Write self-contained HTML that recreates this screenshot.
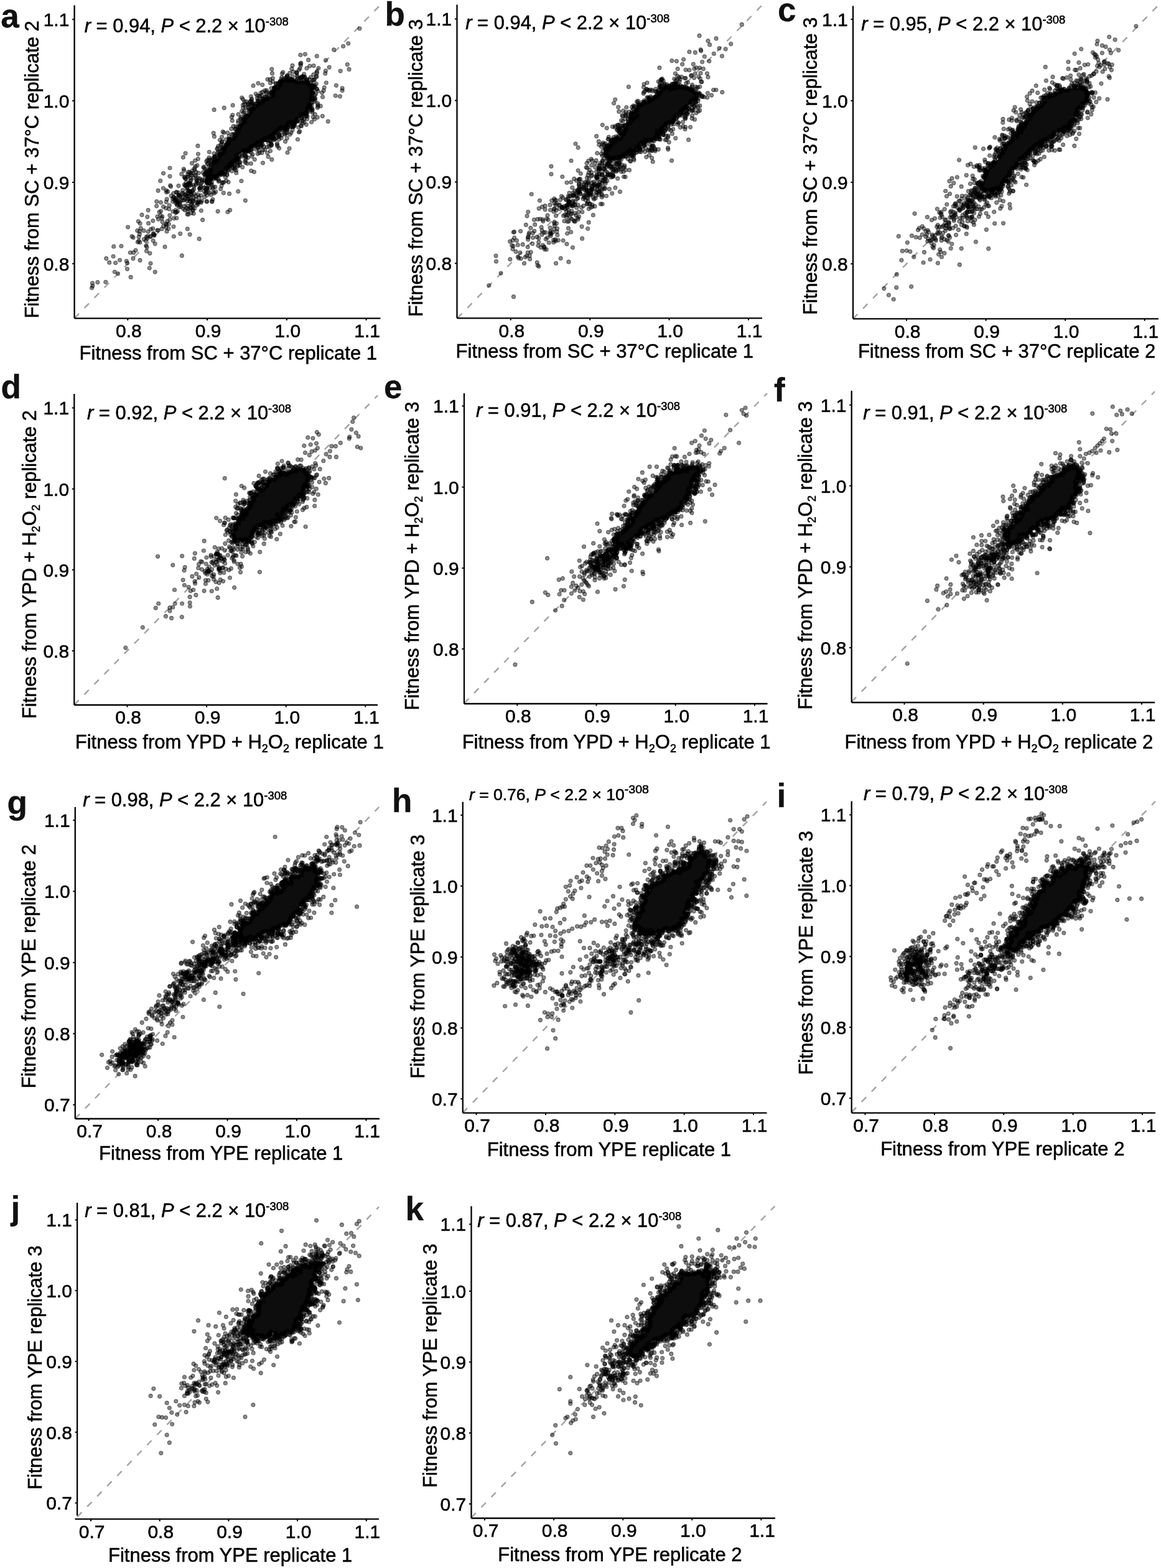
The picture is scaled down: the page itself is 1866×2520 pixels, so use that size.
<!DOCTYPE html>
<html><head><meta charset="utf-8"><title>Fitness replicate correlations</title><style>
html,body{margin:0;padding:0;background:#fff;}
svg{display:block;}
text{font-family:'Liberation Sans', Arial, Helvetica, sans-serif;fill:#000;stroke:#000;stroke-width:0.55px;}
.lb{stroke-width:0.3px;}
.tl{font-size:30px;}
.ti{font-size:31px;}
.st{font-size:31px;}
.lb{font-size:53px;font-weight:bold;fill:#111;}
.ax{fill:none;stroke:#000;stroke-width:2.3;}
.tk{fill:none;stroke:#000;stroke-width:2;}
.dl{stroke:#a2a2a2;stroke-width:2.4;stroke-dasharray:10.5 12.5;}
.pt{fill:none;stroke:#000;stroke-linecap:round;stroke-width:7;stroke-opacity:.56;}
.mk{fill:none;stroke:none;marker-start:url(#m);marker-mid:url(#m);marker-end:url(#m);}
.bk{fill:#0d0d0d;}
</style></head>
<body><svg width="1866" height="2520" viewBox="0 0 1866 2520">
<defs><marker id="m" markerUnits="userSpaceOnUse" markerWidth="10" markerHeight="10" refX="5" refY="5" viewBox="0 0 10 10"><circle cx="5" cy="5" r="3.05" fill="#000" fill-opacity=".46" stroke="#000" stroke-opacity=".5" stroke-width="1.1"/></marker></defs>
<rect width="1866" height="2520" fill="#fff"/>
<g id="pa"><line class="dl" x1="119.6" y1="511.6" x2="610.9" y2="8.4"/>
<path class="bk" d="M486.1 120.9h3v1h-3zM461.1 121.9h1v1h-1zM482.1 121.9h8v1h-8zM460.1 122.9h3v1h-3zM482.1 122.9h7v1h-7zM460.1 123.9h3v1h-3zM482.1 123.9h7v1h-7zM459.1 124.9h3v1h-3zM483.1 124.9h5v1h-5zM454.1 125.9h1v1h-1zM458.1 125.9h1v1h-1zM461.1 125.9h2v1h-2zM484.1 125.9h2v1h-2zM453.1 126.9h1v1h-1zM458.1 126.9h3v1h-3zM462.1 126.9h3v1h-3zM468.1 126.9h4v1h-4zM450.1 127.9h1v1h-1zM453.1 127.9h2v1h-2zM456.1 127.9h19v1h-19zM450.1 128.9h26v1h-26zM490.1 128.9h3v1h-3zM494.1 128.9h2v1h-2zM450.1 129.9h28v1h-28zM484.1 129.9h12v1h-12zM449.1 130.9h46v1h-46zM448.1 131.9h48v1h-48zM448.1 132.9h50v1h-50zM449.1 133.9h49v1h-49zM446.1 134.9h1v1h-1zM449.1 134.9h50v1h-50zM500.1 134.9h3v1h-3zM448.1 135.9h58v1h-58zM442.1 136.9h2v1h-2zM447.1 136.9h59v1h-59zM447.1 137.9h59v1h-59zM439.1 138.9h4v1h-4zM444.1 138.9h2v1h-2zM447.1 138.9h59v1h-59zM439.1 139.9h7v1h-7zM447.1 139.9h58v1h-58zM439.1 140.9h66v1h-66zM439.1 141.9h65v1h-65zM439.1 142.9h65v1h-65zM439.1 143.9h64v1h-64zM438.1 144.9h64v1h-64zM437.1 145.9h66v1h-66zM435.1 146.9h69v1h-69zM434.1 147.9h71v1h-71zM433.1 148.9h1v1h-1zM435.1 148.9h70v1h-70zM434.1 149.9h1v1h-1zM436.1 149.9h69v1h-69zM435.1 150.9h69v1h-69zM435.1 151.9h2v1h-2zM438.1 151.9h65v1h-65zM435.1 152.9h1v1h-1zM437.1 152.9h64v1h-64zM436.1 153.9h65v1h-65zM429.1 154.9h1v1h-1zM431.1 154.9h1v1h-1zM435.1 154.9h66v1h-66zM502.1 154.9h1v1h-1zM423.1 155.9h1v1h-1zM428.1 155.9h2v1h-2zM434.1 155.9h70v1h-70zM422.1 156.9h8v1h-8zM432.1 156.9h73v1h-73zM422.1 157.9h6v1h-6zM429.1 157.9h77v1h-77zM421.1 158.9h85v1h-85zM420.1 159.9h86v1h-86zM404.1 160.9h1v1h-1zM421.1 160.9h84v1h-84zM403.1 161.9h3v1h-3zM422.1 161.9h80v1h-80zM413.1 162.9h1v1h-1zM417.1 162.9h1v1h-1zM419.1 162.9h81v1h-81zM414.1 163.9h1v1h-1zM416.1 163.9h83v1h-83zM402.1 164.9h2v1h-2zM414.1 164.9h85v1h-85zM405.1 165.9h1v1h-1zM413.1 165.9h87v1h-87zM405.1 166.9h3v1h-3zM413.1 166.9h88v1h-88zM406.1 167.9h3v1h-3zM410.1 167.9h1v1h-1zM412.1 167.9h89v1h-89zM411.1 168.9h89v1h-89zM411.1 169.9h89v1h-89zM410.1 170.9h91v1h-91zM405.1 171.9h2v1h-2zM409.1 171.9h91v1h-91zM404.1 172.9h95v1h-95zM402.1 173.9h97v1h-97zM401.1 174.9h94v1h-94zM496.1 174.9h1v1h-1zM499.1 174.9h2v1h-2zM401.1 175.9h93v1h-93zM499.1 175.9h3v1h-3zM401.1 176.9h92v1h-92zM500.1 176.9h2v1h-2zM401.1 177.9h93v1h-93zM402.1 178.9h93v1h-93zM401.1 179.9h94v1h-94zM400.1 180.9h95v1h-95zM400.1 181.9h94v1h-94zM399.1 182.9h95v1h-95zM398.1 183.9h96v1h-96zM395.1 184.9h91v1h-91zM487.1 184.9h3v1h-3zM491.1 184.9h2v1h-2zM393.1 185.9h93v1h-93zM490.1 185.9h2v1h-2zM393.1 186.9h92v1h-92zM392.1 187.9h91v1h-91zM392.1 188.9h90v1h-90zM491.1 188.9h1v1h-1zM390.1 189.9h90v1h-90zM390.1 190.9h89v1h-89zM485.1 190.9h2v1h-2zM389.1 191.9h88v1h-88zM389.1 192.9h87v1h-87zM390.1 193.9h87v1h-87zM391.1 194.9h86v1h-86zM390.1 195.9h87v1h-87zM388.1 196.9h80v1h-80zM469.1 196.9h8v1h-8zM388.1 197.9h80v1h-80zM469.1 197.9h7v1h-7zM387.1 198.9h77v1h-77zM467.1 198.9h9v1h-9zM386.1 199.9h76v1h-76zM466.1 199.9h3v1h-3zM470.1 199.9h5v1h-5zM384.1 200.9h79v1h-79zM468.1 200.9h6v1h-6zM384.1 201.9h78v1h-78zM463.1 201.9h2v1h-2zM468.1 201.9h5v1h-5zM382.1 202.9h1v1h-1zM385.1 202.9h77v1h-77zM468.1 202.9h6v1h-6zM382.1 203.9h1v1h-1zM386.1 203.9h77v1h-77zM469.1 203.9h2v1h-2zM472.1 203.9h2v1h-2zM383.1 204.9h69v1h-69zM453.1 204.9h10v1h-10zM382.1 205.9h69v1h-69zM452.1 205.9h11v1h-11zM381.1 206.9h70v1h-70zM452.1 206.9h11v1h-11zM380.1 207.9h71v1h-71zM453.1 207.9h8v1h-8zM379.1 208.9h70v1h-70zM455.1 208.9h3v1h-3zM459.1 208.9h3v1h-3zM379.1 209.9h69v1h-69zM381.1 210.9h63v1h-63zM380.1 211.9h63v1h-63zM380.1 212.9h62v1h-62zM443.1 212.9h1v1h-1zM378.1 213.9h1v1h-1zM380.1 213.9h64v1h-64zM376.1 214.9h67v1h-67zM375.1 215.9h68v1h-68zM447.1 215.9h1v1h-1zM374.1 216.9h67v1h-67zM449.1 216.9h1v1h-1zM374.1 217.9h67v1h-67zM449.1 217.9h2v1h-2zM376.1 218.9h64v1h-64zM450.1 218.9h1v1h-1zM375.1 219.9h67v1h-67zM447.1 219.9h1v1h-1zM449.1 219.9h1v1h-1zM368.1 220.9h2v1h-2zM374.1 220.9h53v1h-53zM429.1 220.9h14v1h-14zM367.1 221.9h2v1h-2zM370.1 221.9h1v1h-1zM372.1 221.9h58v1h-58zM433.1 221.9h2v1h-2zM436.1 221.9h7v1h-7zM367.1 222.9h62v1h-62zM434.1 222.9h2v1h-2zM437.1 222.9h4v1h-4zM367.1 223.9h62v1h-62zM437.1 223.9h3v1h-3zM365.1 224.9h1v1h-1zM367.1 224.9h61v1h-61zM366.1 225.9h59v1h-59zM426.1 225.9h2v1h-2zM431.1 225.9h1v1h-1zM365.1 226.9h53v1h-53zM419.1 226.9h5v1h-5zM366.1 227.9h55v1h-55zM433.1 227.9h2v1h-2zM363.1 228.9h53v1h-53zM417.1 228.9h5v1h-5zM434.1 228.9h2v1h-2zM362.1 229.9h52v1h-52zM418.1 229.9h4v1h-4zM362.1 230.9h53v1h-53zM362.1 231.9h51v1h-51zM418.1 231.9h2v1h-2zM433.1 231.9h1v1h-1zM361.1 232.9h51v1h-51zM417.1 232.9h5v1h-5zM434.1 232.9h1v1h-1zM361.1 233.9h46v1h-46zM408.1 233.9h3v1h-3zM414.1 233.9h3v1h-3zM419.1 233.9h3v1h-3zM359.1 234.9h48v1h-48zM412.1 234.9h1v1h-1zM420.1 234.9h2v1h-2zM357.1 235.9h47v1h-47zM405.1 235.9h1v1h-1zM356.1 236.9h50v1h-50zM356.1 237.9h44v1h-44zM402.1 237.9h3v1h-3zM356.1 238.9h46v1h-46zM356.1 239.9h46v1h-46zM358.1 240.9h45v1h-45zM359.1 241.9h45v1h-45zM358.1 242.9h36v1h-36zM395.1 242.9h8v1h-8zM356.1 243.9h34v1h-34zM392.1 243.9h2v1h-2zM397.1 243.9h4v1h-4zM352.1 244.9h36v1h-36zM351.1 245.9h35v1h-35zM351.1 246.9h34v1h-34zM350.1 247.9h34v1h-34zM344.1 248.9h1v1h-1zM350.1 248.9h33v1h-33zM350.1 249.9h32v1h-32zM347.1 250.9h1v1h-1zM350.1 250.9h33v1h-33zM342.1 251.9h2v1h-2zM347.1 251.9h1v1h-1zM351.1 251.9h33v1h-33zM343.1 252.9h4v1h-4zM350.1 252.9h35v1h-35zM343.1 253.9h4v1h-4zM350.1 253.9h35v1h-35zM348.1 254.9h37v1h-37zM346.1 255.9h38v1h-38zM341.1 256.9h42v1h-42zM342.1 257.9h39v1h-39zM382.1 257.9h1v1h-1zM341.1 258.9h38v1h-38zM341.1 259.9h1v1h-1zM343.1 259.9h35v1h-35zM339.1 260.9h3v1h-3zM343.1 260.9h33v1h-33zM377.1 260.9h2v1h-2zM340.1 261.9h3v1h-3zM344.1 261.9h31v1h-31zM336.1 262.9h1v1h-1zM341.1 262.9h1v1h-1zM343.1 262.9h30v1h-30zM374.1 262.9h2v1h-2zM336.1 263.9h1v1h-1zM342.1 263.9h26v1h-26zM369.1 263.9h3v1h-3zM375.1 263.9h1v1h-1zM342.1 264.9h31v1h-31zM374.1 264.9h1v1h-1zM341.1 265.9h30v1h-30zM372.1 265.9h3v1h-3zM340.1 266.9h33v1h-33zM376.1 266.9h1v1h-1zM340.1 267.9h29v1h-29zM376.1 267.9h1v1h-1zM339.1 268.9h31v1h-31zM375.1 268.9h2v1h-2zM336.1 269.9h1v1h-1zM338.1 269.9h31v1h-31zM336.1 270.9h1v1h-1zM338.1 270.9h24v1h-24zM363.1 270.9h5v1h-5zM337.1 271.9h24v1h-24zM364.1 271.9h3v1h-3zM334.1 272.9h1v1h-1zM337.1 272.9h24v1h-24zM362.1 272.9h5v1h-5zM333.1 273.9h2v1h-2zM337.1 273.9h23v1h-23zM363.1 273.9h1v1h-1zM330.1 274.9h4v1h-4zM335.1 274.9h1v1h-1zM337.1 274.9h22v1h-22zM329.1 275.9h5v1h-5zM336.1 275.9h21v1h-21zM358.1 275.9h2v1h-2zM328.1 276.9h7v1h-7zM336.1 276.9h25v1h-25zM328.1 277.9h7v1h-7zM336.1 277.9h25v1h-25zM303.1 278.9h1v1h-1zM328.1 278.9h7v1h-7zM336.1 278.9h25v1h-25zM362.1 278.9h1v1h-1zM304.1 279.9h1v1h-1zM329.1 279.9h30v1h-30zM329.1 280.9h27v1h-27zM330.1 281.9h21v1h-21zM331.1 282.9h18v1h-18zM298.1 283.9h2v1h-2zM332.1 283.9h17v1h-17zM298.1 284.9h2v1h-2zM332.1 284.9h1v1h-1zM334.1 284.9h4v1h-4zM340.1 284.9h7v1h-7zM349.1 284.9h1v1h-1zM333.1 285.9h6v1h-6zM341.1 285.9h5v1h-5zM331.1 286.9h9v1h-9zM342.1 286.9h1v1h-1zM330.1 287.9h11v1h-11zM330.1 288.9h10v1h-10zM329.1 289.9h11v1h-11zM329.1 290.9h11v1h-11zM329.1 291.9h10v1h-10zM301.1 292.9h4v1h-4zM330.1 292.9h8v1h-8zM299.1 293.9h7v1h-7zM333.1 293.9h3v1h-3zM339.1 293.9h1v1h-1zM298.1 294.9h8v1h-8zM333.1 294.9h2v1h-2zM336.1 294.9h1v1h-1zM339.1 294.9h1v1h-1zM298.1 295.9h9v1h-9zM337.1 295.9h1v1h-1zM298.1 296.9h9v1h-9zM337.1 296.9h1v1h-1zM299.1 297.9h5v1h-5zM298.1 298.9h5v1h-5zM298.1 299.9h1v1h-1zM330.1 300.9h1v1h-1zM321.1 301.9h2v1h-2zM329.1 301.9h3v1h-3zM302.1 302.9h1v1h-1zM329.1 302.9h2v1h-2zM301.1 303.9h1v1h-1zM328.1 303.9h1v1h-1zM305.1 304.9h2v1h-2zM332.1 304.9h2v1h-2zM303.1 305.9h5v1h-5zM302.1 306.9h7v1h-7zM302.1 307.9h4v1h-4zM307.1 307.9h2v1h-2zM330.1 307.9h1v1h-1zM303.1 308.9h2v1h-2zM306.1 308.9h3v1h-3zM304.1 309.9h4v1h-4zM305.1 310.9h2v1h-2zM299.1 311.9h1v1h-1zM301.1 311.9h1v1h-1zM288.1 312.9h2v1h-2zM300.1 312.9h3v1h-3zM287.1 313.9h3v1h-3zM299.1 313.9h1v1h-1zM286.1 314.9h3v1h-3zM286.1 315.9h2v1h-2zM279.1 317.9h2v1h-2zM279.1 318.9h2v1h-2zM279.1 319.9h4v1h-4zM304.1 319.9h1v1h-1zM306.1 319.9h1v1h-1zM281.1 320.9h3v1h-3zM304.1 320.9h1v1h-1zM308.1 320.9h1v1h-1zM282.1 321.9h2v1h-2zM302.1 321.9h2v1h-2zM307.1 321.9h2v1h-2zM282.1 322.9h2v1h-2zM307.1 322.9h2v1h-2zM283.1 323.9h3v1h-3zM285.1 324.9h2v1h-2zM318.1 324.9h2v1h-2zM286.1 325.9h1v1h-1zM316.1 325.9h2v1h-2zM319.1 325.9h2v1h-2zM283.1 326.9h3v1h-3zM317.1 326.9h2v1h-2z"/>
<path class="mk" d="M439.7 215.2 342.9 283.9 333.7 294.7 484.4 202.7 451.7 130.9 382.7 307.7 469.4 196.9 329.3 283.9 333.6 283.4 460.3 128.3 318.3 255.3 441.2 144.5 406.3 235.2 392.9 163.6 271.4 360.1 434.5 242.5 271.7 335.9 478.4 224.0 313.6 258.0 440.2 224.5 459.9 124.9 279.3 350.8 383.2 261.4 214.1 381.8 302.9 295.3 403.6 235.1 403.7 274.6 465.0 238.6 382.5 267.2 283.0 341.5 494.6 175.0 289.3 315.7 407.6 174.5 383.7 255.1 336.3 309.9 470.3 122.9 404.7 251.3 344.1 176.4 484.7 189.9 459.7 207.2 358.1 278.2 364.1 232.7 356.4 239.9 441.1 223.5 502.8 155.8 422.6 241.0 335.4 268.5 435.4 149.2 257.7 290.6 332.6 290.7 375.4 258.6 404.3 178.7 462.1 129.3 284.6 330.0 358.1 211.7 478.6 194.6 336.8 295.0 502.2 148.7 505.4 191.7 296.1 321.5 450.3 131.1 426.0 224.9 339.7 264.2 213.9 415.4 561.0 111.4 325.6 353.4 500.0 160.7 415.4 231.6 346.6 285.8 365.9 340.7 522.7 118.2 509.2 90.1 334.6 286.8 501.9 141.6 347.5 285.3 300.5 315.5 305.8 323.8 350.3 288.1 399.6 242.2 488.6 119.1 343.2 213.9 436.5 232.6 483.6 124.2 363.6 270.9 468.7 110.7 387.9 290.8 382.0 266.0 390.6 173.3 268.9 355.5 505.0 139.3 490.0 131.6 333.0 257.3 465.3 196.4 374.7 269.8 313.0 273.2 235.5 403.4 448.3 223.9 368.7 224.3 251.7 323.8 509.3 143.1 224.3 371.9 286.9 298.6 486.9 182.8 296.2 331.2 337.9 273.8 462.6 128.9 439.6 221.1 287.1 313.8 502.5 137.6 493.9 174.2 282.8 319.6 344.4 310.4 321.7 305.4 249.1 391.8 373.8 268.6 464.7 199.0 332.5 323.9 338.1 271.1 414.8 237.2 449.5 131.4 354.7 232.6 231.0 370.7 352.3 290.2 461.0 122.0 286.8 327.5 363.4 272.0 407.4 233.9 279.4 316.8 379.1 216.2 500.2 144.0 367.3 229.9 466.0 216.1 431.6 220.7 500.2 174.9 266.9 359.9 452.3 221.8 483.8 101.4 348.5 282.6 332.9 276.1 447.9 207.5 460.6 203.5 285.3 339.8 337.5 289.6 148.4 455.0 315.2 276.6 413.6 233.7 433.1 219.2 520.2 145.6 156.8 453.7 441.8 223.8 382.4 203.8 287.2 314.1 302.2 311.1 331.0 278.1 314.1 267.6 320.9 302.6 254.1 306.4 482.5 185.0 422.4 261.8 480.5 112.2 336.5 275.2 204.5 432.3 411.1 150.8 488.0 124.4 550.1 145.5 252.9 348.1 476.0 132.7 226.2 366.9 440.3 214.0 483.3 104.9 353.3 248.6 460.8 212.4 414.8 229.4 348.1 249.9 380.4 260.5 509.4 114.9 495.5 134.9 484.2 188.9 353.1 281.8 385.0 204.3 328.6 290.1 380.5 212.7 238.1 337.9 458.5 227.4 436.4 148.4 301.4 296.1 498.0 170.1 479.7 131.9 307.5 281.2 458.0 216.1 444.8 210.7 506.7 161.5 421.7 136.3 398.3 242.1 338.9 264.8 418.8 149.5 388.7 178.8 475.3 129.2 486.9 130.7 301.2 319.9 344.5 260.3 446.1 235.2 444.4 221.7 428.2 147.9 234.8 394.8 306.8 328.5 422.1 232.3 456.0 126.1 333.5 289.2 431.1 251.9 438.0 221.4 355.2 246.8 483.6 201.9 465.7 117.4 353.8 244.1 340.3 297.1 493.4 127.6 362.4 285.0 449.0 216.4 354.7 303.6 373.9 221.9 242.0 423.3 394.3 322.3 486.7 183.6 316.3 294.2 318.1 325.4 332.1 289.1 492.5 181.5 405.7 167.7 305.8 291.0 400.7 178.1 505.7 136.8 447.3 219.6 434.4 133.4 436.0 141.8 334.3 280.2 322.4 301.2 282.5 326.3 286.9 309.6 457.0 128.6 503.0 149.0 425.4 145.6 404.2 160.8 327.0 269.3 322.8 314.0 408.1 166.8 494.1 131.9 299.6 297.4 346.6 286.8 373.2 193.9 368.6 226.1 413.5 153.8 420.9 245.6 393.8 258.9 303.2 296.1 468.8 196.2 298.0 246.3 472.6 202.5 479.8 204.7 498.9 177.0 339.2 313.2 460.5 214.1 463.6 124.9 379.5 273.7 293.7 305.6 527.2 195.1 357.4 277.9 420.8 162.5 502.8 139.3 334.8 279.9 408.4 276.3 382.1 210.5 323.3 338.5 413.7 237.2 368.2 272.6 205.5 365.0 328.1 301.8 447.1 213.2 377.9 218.3 365.7 228.8 509.4 117.4 493.1 181.0 389.5 251.3 355.7 242.6 395.5 252.1 328.3 301.5 377.9 207.8 254.3 370.1 577.9 45.8 240.2 430.8 473.3 198.5 385.1 260.5 433.7 226.7 296.8 284.4 365.6 230.3 330.0 311.0 403.3 168.1 301.3 284.4 489.0 190.8 352.3 248.4 536.6 79.9 433.9 127.7 428.1 150.2 333.2 302.5 319.0 324.2 344.6 252.6 350.7 243.1 332.5 293.6 184.3 437.0 440.2 142.2 524.3 133.0 318.2 328.0 478.1 124.3 467.9 197.5 392.7 167.6 363.3 233.9 367.7 229.0 482.5 125.0 470.3 204.0 409.2 256.3 443.7 134.1 441.3 140.6 308.6 328.9 283.3 308.5 454.8 205.6 258.0 346.1 311.0 317.7 460.5 201.8 424.4 224.9 503.8 119.9 437.5 117.9 315.1 296.6 386.9 200.8 316.9 289.8 385.5 204.2 440.7 140.9 347.8 257.6 402.6 162.4 255.9 340.8 262.4 302.5 501.5 178.1 433.8 148.7 363.7 273.8 461.9 208.7 413.9 161.9 438.0 147.0 363.6 270.1 288.1 333.0 505.3 127.6 443.4 134.6 389.5 249.1 332.4 302.0 500.9 137.1 328.0 307.4 331.5 292.0 504.6 128.4 395.1 256.1 402.3 163.6 471.4 202.5 432.4 235.7 431.5 229.8 454.7 210.7 334.6 297.3 501.5 158.2 379.9 217.8 480.4 212.5 320.1 383.9 400.3 243.4 297.7 286.9 299.6 313.7 308.8 274.3 284.4 327.9 435.1 230.8 405.4 239.9 395.7 163.2 307.4 335.0 353.5 279.3 387.9 200.7 368.8 266.8 401.6 175.2 375.1 202.9 382.2 253.0 468.7 127.4 459.5 203.0 497.0 127.3 540.3 137.3 432.5 220.8 429.2 236.3 411.9 240.2 446.4 134.2 497.3 171.7 331.6 273.8 400.0 180.7 422.8 159.8 402.6 236.8 265.0 396.7 331.1 309.4 277.7 323.9 338.7 262.3 315.2 315.1"/>
<path class="mk" d="M272.1 330.2 414.9 133.8 366.3 274.3 355.6 279.6 547.1 114.1 508.8 123.3 449.3 136.3 518.3 186.6 375.3 223.1 344.5 260.7 360.1 239.8 311.0 323.3 290.4 322.4 350.3 282.3 420.0 233.1 307.0 278.6 360.6 278.7 294.0 322.0 467.4 127.1 388.7 157.0 392.9 188.6 301.6 339.3 305.1 376.8 278.9 364.3 283.7 350.5 461.9 123.1 508.3 134.7 302.7 315.6 504.6 163.4 398.5 172.9 301.3 367.9 324.6 289.8 408.6 174.1 447.2 141.5 431.4 157.8 417.0 154.3 346.8 308.2 390.5 242.2 386.2 261.1 465.7 127.4 365.8 213.3 445.6 138.9 336.3 294.5 295.3 271.5 420.6 153.3 338.1 269.3 260.8 348.0 476.3 190.9 310.5 286.0 394.2 241.6 356.9 228.2 448.4 216.9 275.1 314.7 266.6 334.6 307.3 312.5 329.0 271.5 289.7 375.6 462.0 207.8 436.9 154.8 426.1 222.9 473.6 197.0 419.8 235.2 395.7 188.1 406.0 248.0 394.6 247.3 291.8 279.9 245.8 354.8 510.3 173.2 321.7 324.5 359.9 280.3 360.9 236.7 363.6 290.5 375.7 266.9 306.3 308.5 495.9 172.5 311.8 299.7 318.5 313.3 279.3 380.0 511.0 146.3 252.7 370.0 367.1 292.6 461.0 206.1 338.7 289.1 483.6 128.1 503.2 188.1 420.5 227.2 453.4 118.3 482.1 110.2 393.2 249.9 400.3 176.0 293.6 311.6 505.6 158.4 377.1 215.0 309.0 306.8 377.2 258.3 518.5 155.8 356.0 298.8 336.8 287.4 356.1 231.3 341.9 302.8 404.5 174.0 175.7 421.9 238.0 372.3 435.3 234.3 424.5 159.3 472.0 129.1 273.6 298.1 488.0 183.7 391.0 195.1 340.6 323.4 347.5 258.7 309.4 324.6 185.6 422.5 287.3 313.7 212.0 379.9 503.2 128.9 316.0 291.8 417.0 245.6 283.9 309.4 499.3 124.2 398.5 168.0 360.8 244.4 515.2 170.4 318.8 294.7 384.8 251.0 452.7 124.4 378.7 207.2 377.4 270.2 204.5 422.9 490.5 183.5 312.6 334.8 423.0 162.9 429.6 245.8 364.3 232.4 417.0 163.3 490.7 186.9 485.3 190.4 278.7 317.3 348.9 258.2 500.6 196.2 369.6 337.7 221.3 389.1 468.8 129.0 383.0 183.7 371.7 207.1 445.4 230.5 281.0 322.2 449.9 205.9 398.9 239.3 292.3 410.9 345.1 256.2 502.3 176.3 383.1 211.4 393.9 190.9 225.0 418.4 293.5 310.1 373.8 184.8 324.7 292.9 296.9 337.6 422.7 158.0 209.3 406.0 419.2 231.6 314.6 282.1 405.5 164.9 305.3 322.7 332.1 323.8 309.7 306.1 359.5 238.6 236.8 348.6 391.5 193.8 220.7 370.6 356.8 227.1 235.2 380.9 281.8 318.3 406.1 169.7 304.9 277.2 510.6 166.1 383.1 208.0 418.6 234.9 301.0 344.4 300.7 305.2 304.7 298.6 214.6 405.9 343.9 255.3 351.6 254.5 319.9 317.4 360.2 173.4 310.8 297.2 462.0 245.2 302.0 296.6 241.8 380.5 320.9 286.9 442.8 212.9 356.4 237.1 523.5 96.8 506.3 183.7 282.1 337.8 406.8 175.3 430.0 127.6 349.8 237.9 341.9 320.5 328.3 280.2 390.4 159.6 369.3 223.4 546.4 154.8 436.6 150.0 282.1 322.2 246.6 375.0 485.6 123.5 393.7 185.4 302.6 276.4 403.3 235.7 358.2 237.8 331.8 259.5 490.4 87.1 461.3 222.1 370.4 223.5 389.6 199.8 340.5 285.3 503.3 138.0 289.4 325.9 471.8 203.8 295.5 274.2 481.7 211.3 268.0 371.9 500.5 132.3 333.0 291.4 368.4 268.6 302.8 335.9 254.5 352.3 372.3 188.3 260.0 367.9 336.8 283.4 294.5 335.5 262.5 278.5 267.2 324.6 323.4 325.3 484.5 131.3 417.6 154.6 476.6 117.3 395.2 251.5 336.3 244.3 382.8 194.0 412.6 166.6 334.8 282.9 426.0 156.4 272.9 352.7 261.0 356.6 340.6 324.3 498.4 173.0 435.4 220.6 506.6 139.8 324.4 322.5 367.6 223.4 517.5 149.0 339.2 275.6 558.3 103.6 344.4 219.4 415.4 161.0 303.4 282.5 379.5 259.0 403.4 262.8 427.3 224.6 303.1 297.0 374.1 169.2 369.5 266.7 498.8 168.1 297.7 297.9 316.2 329.8 389.2 194.2 312.2 270.7 359.3 310.1 333.9 262.9 523.4 113.8 344.9 251.3 345.6 251.9 350.0 245.6 272.8 346.0 359.8 213.3 350.8 251.6 387.4 191.7 368.0 266.5 278.7 310.7 357.9 294.1 393.0 179.2 332.6 275.0 249.2 437.1 394.7 172.9 296.9 319.2 303.5 319.5 319.2 278.2 300.8 323.0 305.4 307.7 306.8 289.8 296.5 285.3 310.2 338.1 390.4 168.9 502.9 138.6 267.2 306.2 240.9 407.1 328.6 316.8 502.1 142.2 449.1 219.3 246.1 386.8 362.7 232.4 251.6 331.1 440.7 146.6 437.4 222.0 478.3 193.0 502.8 159.8 409.3 232.9 438.3 131.1 470.1 209.1 453.1 205.9 454.5 208.7 482.9 88.3 372.6 275.0 425.5 240.7 406.0 174.9 377.2 271.8 299.9 334.0 389.7 268.7 424.1 235.7 486.3 197.9 420.1 165.8 364.9 281.4 397.5 262.8 340.5 292.8 471.3 115.3 490.0 123.7 224.3 376.3 473.8 201.0 335.8 256.5 231.4 384.6 437.6 218.4 436.8 111.2 485.4 123.4 335.7 281.9 228.0 345.4 356.9 247.3 500.3 154.8 458.3 127.9 481.5 195.3 402.9 244.7 203.3 419.5 299.3 293.2 387.9 187.9 300.7 301.0 379.3 250.2 395.3 243.3 356.5 220.0 426.2 222.4 413.3 228.5 492.2 129.0 447.1 141.3 303.2 306.5 294.4 252.9 335.9 253.4 414.2 247.1 492.5 186.3 147.5 462.7 340.6 264.0 316.6 325.6 393.5 195.5 488.8 196.4 302.7 344.4 333.5 263.2 441.4 216.7 218.0 402.3 357.9 240.5 404.6 159.2 438.6 152.7 392.1 242.8 381.9 254.9 331.4 282.5 169.8 453.3 505.8 152.8 494.1 187.0 436.8 256.4 296.7 312.9 377.5 219.5 430.4 158.2 501.9 180.9 521.1 140.7 343.9 246.7 465.5 200.6 308.5 262.4 398.2 186.2 170.7 415.4 395.5 186.5 336.8 302.7 497.7 106.2 236.6 383.5 457.6 214.3 305.7 308.0 421.7 147.9 457.0 207.3 414.7 163.5 273.0 270.0 278.0 340.0"/>
<path class="mk" d="M487.0 122.5 483.4 125.3 377.6 217.0 451.2 136.3 470.4 129.5 316.8 265.9 448.5 210.4 482.7 102.4 223.0 387.4 498.0 168.5 426.6 155.3 405.0 175.7 379.7 277.9 333.7 308.6 499.8 159.9 361.8 237.5 289.7 329.6 432.6 152.7 412.3 170.3 182.0 412.0 309.7 278.5 282.0 340.8 344.0 287.2 461.7 121.2 361.8 276.9 373.4 263.3 324.1 288.8 353.8 248.8 315.7 288.6 372.4 215.9 331.1 305.6 511.9 109.5 402.7 240.2 474.6 196.4 350.1 339.6 314.5 320.1 350.7 234.8 331.9 290.4 237.1 379.8 307.5 342.4 338.4 256.8 464.8 130.0 511.0 171.0 309.5 336.5 550.1 141.8 270.8 367.5 259.9 350.9 442.7 140.3 559.7 69.8 335.9 273.7 435.3 220.3 300.6 301.6 377.1 262.3 510.3 188.6 398.5 253.4 434.4 225.9 348.7 239.5 340.9 282.4 327.7 268.2 267.4 361.2 284.4 321.1 192.5 418.0 500.3 157.3 269.7 307.9 318.4 247.5 194.9 395.5 290.5 332.3 342.6 309.0 352.5 279.5 306.0 312.2 353.4 225.2 289.6 316.4 323.1 295.1 368.5 264.1 372.6 260.0 363.0 224.2 494.4 133.9 462.9 204.0 445.4 232.8 311.8 311.1 442.1 140.8 320.5 302.7 302.2 331.4 492.3 200.3 148.8 459.6 301.7 279.8 394.6 244.8 331.9 303.4 298.9 311.9 306.4 296.9 495.6 96.4 471.0 199.9 311.2 343.2 399.2 166.3 267.5 308.9 449.1 133.2 380.9 255.9 326.1 277.2 368.0 219.2 422.0 224.9 242.2 368.5 501.8 151.2 371.5 262.8 236.0 397.3 477.4 122.0 357.1 293.4 298.0 298.9 339.9 258.8 368.5 311.4 416.5 241.5 508.4 122.4 501.1 164.9 492.9 109.7 385.0 265.3 317.9 234.4 436.3 232.7 345.8 300.4 452.6 217.2 428.4 145.1 454.8 116.1 274.5 299.8 385.2 203.4 453.2 131.7 494.8 180.0 317.9 286.4 467.3 203.1 448.6 238.3 382.9 197.1 447.2 139.2 509.1 143.2 479.4 130.1 333.7 281.4 403.6 240.8 421.2 159.5 225.0 389.6 492.7 184.3 486.3 194.4 303.2 306.9 439.4 220.9 396.1 185.7 453.4 129.8 387.8 198.0 438.3 125.9 444.1 214.4 342.9 301.1 493.5 191.3 409.7 234.0 451.9 203.9 222.2 355.8 438.4 216.6 304.7 294.4 310.0 331.5 412.2 233.1 506.7 158.0 507.5 151.1 427.6 159.5 332.6 313.8 258.6 339.3 462.7 197.5 529.1 108.1 389.3 245.6 344.0 260.6 493.6 130.2 447.9 208.8 223.2 380.9 272.9 283.3 510.6 168.5 451.7 127.6 400.0 241.1 408.7 170.8 372.7 264.3 489.6 124.7 403.4 155.0 551.6 74.3 238.5 358.9 182.7 396.2 262.5 332.2 493.3 178.6 247.8 377.6 359.6 292.9 306.0 333.9 343.9 284.6 189.5 439.8 210.1 445.4 501.4 174.1 379.2 203.6 267.0 365.6 415.5 167.8 381.0 210.5 407.0 137.7 277.6 319.3 429.6 225.8 391.2 181.0 287.9 323.3 478.0 127.1 313.6 282.0 305.2 294.7 411.1 167.4 477.1 195.0 343.1 260.7 417.4 227.8 504.1 105.6 399.8 168.5 241.9 379.6 501.0 168.4 431.8 155.5 428.6 156.8 377.2 220.3 247.8 378.4 503.9 157.9 498.6 137.8 293.6 317.7 311.7 304.2 477.0 117.3 497.2 167.2 306.4 285.8 322.3 299.3 436.1 227.2 357.7 280.6 357.1 276.4 413.3 157.8 421.0 226.9 339.2 295.9 268.1 320.1 366.3 270.4 308.9 313.7 374.8 215.9 306.3 319.5 470.0 105.4 339.9 287.3 467.9 203.9 284.9 324.1 457.4 208.0 383.8 254.1 234.4 387.1 262.7 363.4 539.2 153.8 364.8 279.9 258.4 325.3 400.5 183.8 296.1 296.7 394.5 261.6 245.6 367.3 225.1 359.2 498.8 133.2 298.8 287.6 438.7 152.5 391.9 191.0 377.1 264.9 329.1 279.3 342.0 254.4 503.8 145.8 246.5 376.1 351.3 291.6 383.5 247.7 467.9 213.3 386.1 190.0 309.3 321.8 501.8 159.5 420.6 228.4 476.6 116.1 429.5 224.0"/>
<path class="ax" d="M119.6 8.4V511.6M119.6 511.6H611.5"/>
<path class="tk" d="M116.1 423.8h3.5M205.3 511.6v3.5M116.1 293.0h3.5M333.0 511.6v3.5M116.1 162.1h3.5M460.8 511.6v3.5M116.1 31.2h3.5M588.6 511.6v3.5"/>
<text class="tl" x="111.4" y="434.6" text-anchor="end">0.8</text>
<text class="tl" x="206.9" y="541.8" text-anchor="middle">0.8</text>
<text class="tl" x="111.4" y="303.8" text-anchor="end">0.9</text>
<text class="tl" x="334.6" y="541.8" text-anchor="middle">0.9</text>
<text class="tl" x="111.4" y="172.9" text-anchor="end">1.0</text>
<text class="tl" x="462.4" y="541.8" text-anchor="middle">1.0</text>
<text class="tl" x="111.4" y="42.0" text-anchor="end">1.1</text>
<text class="tl" x="590.2" y="541.8" text-anchor="middle">1.1</text>
<text class="ti" x="127.6" y="577.5">Fitness from SC + 37°C replicate 1</text>
<text class="ti" transform="translate(61.8 511.6) rotate(-90)">Fitness from SC + 37°C replicate 2</text>
<text class="st" x="135.7" y="52.2" style="font-size:31px" textLength="328" lengthAdjust="spacingAndGlyphs"><tspan font-style="italic">r</tspan> = 0.94, <tspan font-style="italic">P</tspan> &lt; 2.2 × 10<tspan dy="-11" style="font-size:18.5px">-308</tspan></text>
<text class="lb" x="1.2" y="43.5">a</text></g>
<g id="pb"><line class="dl" x1="735.2" y1="511.3" x2="1225.0" y2="8.0"/>
<path class="bk" d="M1064 127h2v1h-2zM1063 128h3v1h-3zM1060 129h1v1h-1zM1063 129h2v1h-2zM1061 130h1v1h-1zM1084 132h3v1h-3zM1081 133h7v1h-7zM1081 134h8v1h-8zM1061 135h1v1h-1zM1080 135h8v1h-8zM1076 136h2v1h-2zM1080 136h7v1h-7zM1088 136h1v1h-1zM1090 136h2v1h-2zM1061 137h1v1h-1zM1063 137h1v1h-1zM1071 137h3v1h-3zM1076 137h12v1h-12zM1089 137h4v1h-4zM1096 137h1v1h-1zM1098 137h1v1h-1zM1060 138h3v1h-3zM1070 138h16v1h-16zM1088 138h1v1h-1zM1090 138h10v1h-10zM1061 139h2v1h-2zM1068 139h13v1h-13zM1082 139h4v1h-4zM1087 139h18v1h-18zM1061 140h3v1h-3zM1067 140h12v1h-12zM1080 140h6v1h-6zM1087 140h20v1h-20zM1060 141h1v1h-1zM1063 141h14v1h-14zM1080 141h27v1h-27zM1110 141h1v1h-1zM1062 142h52v1h-52zM1042 143h1v1h-1zM1062 143h2v1h-2zM1065 143h49v1h-49zM1041 144h2v1h-2zM1064 144h50v1h-50zM1115 144h1v1h-1zM1041 145h1v1h-1zM1061 145h55v1h-55zM1060 146h56v1h-56zM1056 147h1v1h-1zM1058 147h60v1h-60zM1055 148h2v1h-2zM1058 148h62v1h-62zM1055 149h66v1h-66zM1123 149h2v1h-2zM1057 150h68v1h-68zM1056 151h68v1h-68zM1053 152h69v1h-69zM1053 153h69v1h-69zM1126 153h1v1h-1zM1053 154h69v1h-69zM1042 155h1v1h-1zM1050 155h72v1h-72zM1042 156h3v1h-3zM1051 156h71v1h-71zM1041 157h5v1h-5zM1049 157h72v1h-72zM1040 158h7v1h-7zM1048 158h73v1h-73zM1040 159h6v1h-6zM1047 159h74v1h-74zM1042 160h4v1h-4zM1047 160h73v1h-73zM1035 161h1v1h-1zM1041 161h79v1h-79zM1035 162h4v1h-4zM1041 162h73v1h-73zM1115 162h2v1h-2zM1033 163h6v1h-6zM1041 163h72v1h-72zM1119 163h1v1h-1zM1032 164h8v1h-8zM1041 164h71v1h-71zM1031 165h81v1h-81zM1116 165h1v1h-1zM1029 166h1v1h-1zM1031 166h80v1h-80zM1027 167h1v1h-1zM1030 167h78v1h-78zM1115 167h2v1h-2zM1025 168h82v1h-82zM1114 168h1v1h-1zM1024 169h82v1h-82zM1113 169h1v1h-1zM1023 170h82v1h-82zM1017 171h2v1h-2zM1023 171h81v1h-81zM1017 172h2v1h-2zM1023 172h84v1h-84zM1022 173h80v1h-80zM1103 173h3v1h-3zM1115 173h1v1h-1zM1022 174h83v1h-83zM1021 175h82v1h-82zM1020 176h82v1h-82zM1020 177h79v1h-79zM1100 177h1v1h-1zM1020 178h75v1h-75zM1098 178h1v1h-1zM1014 179h1v1h-1zM1016 179h1v1h-1zM1020 179h77v1h-77zM1103 179h2v1h-2zM1014 180h4v1h-4zM1019 180h78v1h-78zM1102 180h4v1h-4zM1012 181h5v1h-5zM1018 181h4v1h-4zM1025 181h72v1h-72zM1100 181h1v1h-1zM1102 181h3v1h-3zM1012 182h8v1h-8zM1024 182h74v1h-74zM1013 183h6v1h-6zM1022 183h73v1h-73zM1097 183h2v1h-2zM1100 183h2v1h-2zM1013 184h3v1h-3zM1017 184h1v1h-1zM1021 184h74v1h-74zM1012 185h1v1h-1zM1014 185h3v1h-3zM1021 185h67v1h-67zM1089 185h2v1h-2zM1102 185h2v1h-2zM1012 186h4v1h-4zM1019 186h68v1h-68zM1012 187h75v1h-75zM1011 188h75v1h-75zM1011 189h74v1h-74zM1011 190h74v1h-74zM1012 191h74v1h-74zM1011 192h75v1h-75zM1010 193h5v1h-5zM1016 193h70v1h-70zM1011 194h2v1h-2zM1014 194h71v1h-71zM1011 195h73v1h-73zM1009 196h3v1h-3zM1013 196h71v1h-71zM1008 197h75v1h-75zM1007 198h70v1h-70zM1079 198h1v1h-1zM1004 199h70v1h-70zM1075 199h2v1h-2zM1002 200h70v1h-70zM1002 201h69v1h-69zM1000 202h1v1h-1zM1002 202h68v1h-68zM1001 203h68v1h-68zM996 204h1v1h-1zM1002 204h66v1h-66zM993 205h1v1h-1zM996 205h2v1h-2zM1004 205h63v1h-63zM992 206h3v1h-3zM996 206h2v1h-2zM1003 206h61v1h-61zM1066 206h2v1h-2zM992 207h6v1h-6zM1003 207h61v1h-61zM1067 207h3v1h-3zM992 208h5v1h-5zM1003 208h62v1h-62zM1067 208h1v1h-1zM993 209h4v1h-4zM1002 209h64v1h-64zM993 210h4v1h-4zM1001 210h65v1h-65zM993 211h1v1h-1zM996 211h3v1h-3zM1001 211h57v1h-57zM1059 211h5v1h-5zM1065 211h1v1h-1zM996 212h3v1h-3zM1001 212h56v1h-56zM1058 212h7v1h-7zM1066 212h1v1h-1zM996 213h1v1h-1zM998 213h59v1h-59zM1058 213h7v1h-7zM1067 213h1v1h-1zM997 214h5v1h-5zM1003 214h62v1h-62zM997 215h64v1h-64zM1062 215h2v1h-2zM996 216h1v1h-1zM998 216h63v1h-63zM1062 216h1v1h-1zM996 217h1v1h-1zM1000 217h61v1h-61zM997 218h1v1h-1zM1000 218h60v1h-60zM999 219h60v1h-60zM988 220h4v1h-4zM993 220h1v1h-1zM998 220h59v1h-59zM1058 220h3v1h-3zM988 221h8v1h-8zM997 221h58v1h-58zM1057 221h4v1h-4zM986 222h69v1h-69zM1059 222h1v1h-1zM986 223h68v1h-68zM980 224h1v1h-1zM983 224h1v1h-1zM985 224h54v1h-54zM1040 224h13v1h-13zM979 225h1v1h-1zM982 225h67v1h-67zM982 226h4v1h-4zM987 226h60v1h-60zM980 227h61v1h-61zM1043 227h1v1h-1zM1045 227h1v1h-1zM980 228h59v1h-59zM980 229h59v1h-59zM980 230h49v1h-49zM1030 230h9v1h-9zM979 231h49v1h-49zM1033 231h5v1h-5zM979 232h49v1h-49zM1034 232h3v1h-3zM972 233h2v1h-2zM978 233h51v1h-51zM1035 233h3v1h-3zM975 234h4v1h-4zM980 234h48v1h-48zM1036 234h2v1h-2zM973 235h57v1h-57zM972 236h5v1h-5zM978 236h52v1h-52zM1048 236h1v1h-1zM972 237h4v1h-4zM977 237h46v1h-46zM1024 237h5v1h-5zM972 238h4v1h-4zM977 238h47v1h-47zM1025 238h3v1h-3zM971 239h52v1h-52zM1024 239h4v1h-4zM1046 239h1v1h-1zM970 240h52v1h-52zM1025 240h3v1h-3zM1044 240h2v1h-2zM1049 240h2v1h-2zM971 241h50v1h-50zM1025 241h1v1h-1zM1027 241h3v1h-3zM1044 241h3v1h-3zM1049 241h2v1h-2zM972 242h48v1h-48zM1021 242h2v1h-2zM1024 242h2v1h-2zM1030 242h1v1h-1zM1044 242h1v1h-1zM972 243h39v1h-39zM1012 243h1v1h-1zM1015 243h4v1h-4zM1020 243h1v1h-1zM1023 243h2v1h-2zM972 244h39v1h-39zM1013 244h1v1h-1zM1015 244h4v1h-4zM1020 244h2v1h-2zM972 245h48v1h-48zM971 246h35v1h-35zM1007 246h14v1h-14zM971 247h34v1h-34zM1008 247h5v1h-5zM1014 247h7v1h-7zM971 248h36v1h-36zM1009 248h12v1h-12zM972 249h35v1h-35zM1010 249h10v1h-10zM972 250h33v1h-33zM1012 250h2v1h-2zM1015 250h4v1h-4zM974 251h31v1h-31zM1016 251h1v1h-1zM974 252h27v1h-27zM1002 252h3v1h-3zM1017 252h1v1h-1zM975 253h16v1h-16zM992 253h8v1h-8zM976 254h15v1h-15zM993 254h4v1h-4zM977 255h12v1h-12zM993 255h3v1h-3zM976 256h1v1h-1zM978 256h1v1h-1zM981 256h7v1h-7zM979 257h2v1h-2zM983 257h2v1h-2zM978 258h1v1h-1zM977 259h1v1h-1zM976 260h3v1h-3zM991 260h1v1h-1zM993 260h1v1h-1zM975 261h3v1h-3zM991 261h3v1h-3zM975 262h3v1h-3zM991 262h3v1h-3zM975 263h4v1h-4zM992 263h5v1h-5zM976 264h3v1h-3zM993 264h1v1h-1zM995 264h1v1h-1zM973 265h3v1h-3zM977 265h3v1h-3zM995 265h2v1h-2zM973 266h2v1h-2zM978 266h2v1h-2zM978 267h2v1h-2zM962 268h3v1h-3zM978 268h1v1h-1zM983 268h1v1h-1zM962 269h3v1h-3zM970 269h2v1h-2zM982 269h2v1h-2zM961 270h5v1h-5zM981 270h2v1h-2zM988 270h1v1h-1zM960 271h6v1h-6zM985 271h3v1h-3zM961 272h4v1h-4zM962 273h3v1h-3zM988 273h2v1h-2zM963 274h1v1h-1zM984 274h2v1h-2zM988 274h1v1h-1zM977 278h2v1h-2zM976 279h2v1h-2zM979 279h1v1h-1zM983 279h1v1h-1zM965 280h1v1h-1zM978 280h2v1h-2zM982 280h1v1h-1zM984 280h2v1h-2zM960 281h1v1h-1zM978 281h1v1h-1zM980 281h5v1h-5zM958 282h4v1h-4zM981 282h4v1h-4zM957 283h5v1h-5zM982 283h3v1h-3zM957 284h5v1h-5zM982 284h1v1h-1zM984 284h1v1h-1zM956 285h6v1h-6zM957 286h5v1h-5zM957 287h3v1h-3zM969 288h2v1h-2zM972 290h1v1h-1zM942 293h1v1h-1zM944 295h1v1h-1zM954 295h1v1h-1zM951 296h2v1h-2zM960 296h2v1h-2zM951 297h3v1h-3zM958 297h2v1h-2zM961 297h3v1h-3zM953 298h2v1h-2zM958 298h1v1h-1zM961 298h3v1h-3zM938 299h1v1h-1zM953 299h3v1h-3zM961 299h3v1h-3zM951 300h1v1h-1zM954 300h1v1h-1zM962 300h1v1h-1zM932 301h1v1h-1zM950 301h4v1h-4zM931 302h1v1h-1zM940 302h1v1h-1zM950 302h4v1h-4zM949 303h3v1h-3zM953 303h1v1h-1zM929 304h3v1h-3zM941 304h2v1h-2zM944 304h1v1h-1zM949 304h4v1h-4zM929 305h3v1h-3zM941 305h4v1h-4zM949 305h4v1h-4zM928 306h4v1h-4zM941 306h3v1h-3zM950 306h2v1h-2zM928 307h6v1h-6zM960 307h1v1h-1zM928 308h6v1h-6zM961 308h1v1h-1zM929 309h4v1h-4zM946 309h2v1h-2zM961 309h1v1h-1zM929 310h3v1h-3zM946 310h3v1h-3zM921 311h2v1h-2zM945 311h5v1h-5zM920 312h3v1h-3zM944 312h1v1h-1zM946 312h5v1h-5zM922 313h3v1h-3zM944 313h1v1h-1zM946 313h1v1h-1zM948 313h2v1h-2zM923 314h2v1h-2zM923 315h1v1h-1zM941 315h1v1h-1zM945 315h1v1h-1zM940 318h1v1h-1zM913 320h1v1h-1zM912 321h4v1h-4zM911 322h4v1h-4zM911 323h4v1h-4zM917 323h1v1h-1zM911 324h5v1h-5zM917 324h1v1h-1zM912 325h5v1h-5zM913 326h3v1h-3zM922 326h1v1h-1zM945 326h1v1h-1zM911 327h1v1h-1zM914 327h1v1h-1zM920 327h1v1h-1zM945 327h1v1h-1zM911 328h2v1h-2zM915 328h1v1h-1zM917 328h1v1h-1zM920 328h2v1h-2zM912 329h2v1h-2zM917 329h2v1h-2zM920 329h3v1h-3zM909 330h2v1h-2zM912 330h2v1h-2zM918 330h1v1h-1zM920 330h3v1h-3zM903 331h2v1h-2zM909 331h5v1h-5zM903 332h4v1h-4zM908 332h2v1h-2zM911 332h2v1h-2zM900 333h1v1h-1zM904 333h3v1h-3zM909 333h1v1h-1zM901 334h1v1h-1zM905 334h2v1h-2zM910 336h1v1h-1zM885 374h1v1h-1z"/>
<path class="mk" d="M1013.3 243.9 975.7 234.6 1052.8 155.6 1009.3 248.4 923.4 328.6 830.4 386.6 952.2 304.6 1035.8 163.8 962.7 269.5 1147.3 86.3 945.8 294.3 991.1 222.1 1016.2 178.0 972.7 238.7 1012.9 248.2 913.0 319.3 949.2 313.4 1017.4 189.9 967.2 294.3 982.6 226.7 1085.9 133.8 903.9 334.0 956.9 298.3 998.5 193.6 1115.6 125.1 1068.9 201.2 993.0 200.7 1065.1 142.7 963.7 307.0 1069.2 224.9 1110.1 143.6 1078.0 196.8 822.7 394.4 947.3 327.6 1084.9 134.0 969.7 289.4 898.3 329.9 987.8 253.2 1026.3 235.3 920.4 331.5 985.2 255.1 1046.7 225.2 1100.4 125.7 819.6 388.1 1048.6 159.0 943.5 317.9 913.9 420.9 947.6 273.2 1073.7 204.9 1102.7 133.7 1047.1 157.0 1092.8 127.4 889.8 389.5 1091.9 183.7 1026.7 237.4 943.5 313.6 975.8 290.7 1115.9 110.4 929.1 237.1 1116.0 170.3 1007.2 244.7 1006.3 201.6 1017.2 243.1 1036.0 228.6 890.4 336.2 944.6 367.5 946.2 357.4 1057.6 216.5 988.4 224.0 905.1 386.5 1047.6 241.3 1096.5 185.4 920.5 314.4 913.0 329.0 946.2 297.3 1092.6 185.3 1010.6 187.0 1041.5 164.3 967.3 317.0 1136.9 156.6 890.7 359.0 1011.5 273.4 946.2 277.5 1105.5 132.3 1151.0 61.9 1060.5 137.1 975.0 251.0 1052.9 242.8 1111.6 121.0 1018.8 243.7 1119.9 156.7 1047.9 144.5 923.7 329.3 981.3 267.5 878.5 351.5 1067.0 209.0 989.4 223.5 1119.0 158.2 1005.9 183.6 1085.3 135.8 1047.2 225.7 1023.0 176.4 998.6 202.2 1124.8 139.3 990.1 275.6 953.4 317.6 984.1 256.8 1065.9 216.6 1059.3 223.7 962.5 271.3 1021.9 245.5 1005.6 273.2 1034.7 164.4 1139.8 98.3 1005.8 186.2 1001.5 178.2 1174.7 70.6 1097.0 140.3 1002.5 284.0 1121.9 171.6 943.9 269.9 1032.0 167.3 929.2 352.4 971.2 231.9 1062.3 211.6 1004.7 251.3 1101.1 172.4 1065.9 213.4 1062.4 143.1 913.8 326.5 935.8 340.6 981.7 233.5 1119.3 155.0 914.2 323.6 926.8 333.7 974.8 234.4 905.6 346.8 996.0 212.6 871.3 332.4 1068.2 136.9 994.0 252.3 1118.2 139.7 984.9 282.8 854.2 312.0 912.9 344.9 1001.5 215.9 1136.4 118.0 996.2 254.6 1026.9 235.2 1006.0 180.4 951.9 329.0 1112.0 168.0 1023.1 237.2 968.1 281.1 1030.0 230.4 995.7 256.4 918.5 351.9 1065.9 215.6 1128.0 131.6 951.1 299.4 960.1 288.8 958.0 314.2 1003.2 214.2 969.9 291.5 1112.1 190.4 907.7 345.0 980.2 230.9 1066.2 216.8 890.0 340.2 1107.9 112.6 976.6 266.1 975.2 205.8 1005.0 205.3 1106.7 173.9 1099.4 181.2 1031.7 228.1 973.6 241.2 994.1 261.2 1060.9 138.9 1013.3 185.0 1112.1 139.4 1082.6 199.6 1083.9 138.1 1034.7 148.2 925.0 231.0 1005.1 284.3 1105.9 175.4 1018.9 171.5 993.9 253.6 1032.8 228.5 918.9 329.5 935.1 364.1 967.7 280.5 958.1 283.2 889.6 385.9 1009.3 247.9 1070.0 199.7 1019.0 257.2 1045.7 155.1 920.9 309.8 1109.5 163.7 1118.7 163.8 1025.2 165.3 847.0 347.1 1086.8 134.5 1058.3 240.1 951.4 281.5 1081.7 207.7 1041.8 225.8 929.1 274.1 1020.4 183.7 1011.4 198.5 1075.1 141.5 1049.5 234.0 1131.8 156.0 1126.7 131.4 973.5 239.0 1002.6 248.8 1129.2 155.5 963.7 297.2 1022.4 176.7 1035.1 233.5 1075.1 138.2 930.8 302.4 924.6 324.3 941.3 321.8 1100.9 141.3 872.9 355.6 1058.7 219.4 941.9 305.6 1080.1 196.7 1041.1 144.6 934.5 333.5 992.7 286.9 925.6 346.0 849.8 376.5 1081.4 194.4 1014.7 183.1 1094.4 140.6 823.8 386.4 962.8 232.6 872.2 394.0 1128.6 99.5 1078.8 137.8 995.7 262.3 939.0 314.1 947.4 313.0 965.4 327.9 1119.1 142.4 914.9 310.0 959.3 285.2 1041.0 225.3 1034.2 150.5 1073.5 198.4 1074.7 138.1 1160.4 90.1 922.8 287.4 1077.4 140.7 999.6 216.3 1122.0 162.3 1146.7 144.6 950.6 265.6 1023.4 240.2 910.5 349.1 971.4 271.5 968.3 258.0 998.5 256.6 972.1 287.4 992.6 208.3 963.6 272.0 1058.1 214.6 1098.2 175.7 952.0 332.1 1055.4 215.8 1062.6 209.2 941.4 299.0 1123.1 152.9 849.2 380.5 979.7 280.0 826.6 382.2 1011.0 245.5 1038.8 252.4 1097.5 182.9 1015.8 182.1 966.5 247.3 1028.4 238.8 945.1 318.8 1166.1 78.8 1005.1 203.5 1101.9 173.9 987.0 228.0 950.6 283.1 873.8 373.6 1058.2 149.3 942.4 303.4 1093.5 181.7 974.1 249.0 1092.0 131.2 1093.7 180.6 901.1 415.2 1038.6 165.4 1025.3 168.4 970.4 255.0 983.7 310.8 946.2 335.6 913.5 366.9 1000.0 185.4 920.9 322.3 825.4 476.9 1090.4 139.4 1075.6 196.7 1096.6 103.2 922.4 312.5 914.1 355.7 1071.3 224.5 930.3 288.8 868.1 352.0 1029.9 169.3 1083.2 193.1 1073.5 237.6 996.6 219.5 924.2 342.7 1070.4 218.2 962.1 307.9 1005.7 201.6 1112.4 178.3 978.3 220.2 1004.3 210.3 1124.8 169.9 950.3 255.5 1043.7 159.1 916.4 350.0 958.8 309.8 1125.3 126.3 958.6 218.9 1116.5 192.1 950.3 303.5 974.7 268.1 910.6 339.7 906.9 355.3 1052.7 221.5 1024.0 175.9 863.2 421.8 1118.0 173.0 984.6 224.0 967.7 232.1 876.0 336.8 862.9 380.9 1132.3 90.8 954.5 296.3 1089.3 196.5 1044.7 232.7 918.0 258.3 1064.7 207.9 1058.1 131.1 922.2 354.1 927.7 308.1 911.4 333.4 1117.3 118.2 848.5 381.5 1017.7 174.7 858.4 353.1 1078.0 144.1 961.9 273.9 978.5 262.2 884.6 374.2 973.0 274.5 986.2 268.3 1115.1 159.9 1095.5 139.0 1091.4 124.3 1090.6 139.4 1004.8 204.4 1006.3 206.1 986.5 166.0 1028.3 233.5 1079.5 258.1 928.2 305.9 951.0 304.6 1009.3 194.8 963.6 266.9 852.8 366.4 978.9 240.3 1067.1 203.8 928.1 350.2 1017.8 180.4 1107.5 173.8 894.9 372.4 1064.3 126.5 1081.6 139.3 920.4 397.8 903.8 334.5 1039.2 143.6 1008.0 245.6 994.2 206.1 1117.4 164.2 1000.7 187.1 1119.1 158.8 858.7 371.4 1122.8 148.8"/>
<path class="mk" d="M972.5 302.4 1112.7 145.2 1068.4 210.0 1001.2 202.8 912.1 356.2 1004.6 191.1 998.6 221.9 959.8 286.4 942.0 296.8 1126.2 79.9 1143.6 153.1 1043.5 249.3 1012.4 189.2 964.0 292.8 985.5 281.7 1111.8 167.9 870.1 365.2 864.9 394.7 954.7 320.1 1128.0 155.2 893.8 338.2 915.2 315.3 910.9 392.2 1039.9 156.9 874.6 396.7 991.9 221.4 985.1 271.2 963.5 271.3 939.5 305.4 1137.9 65.7 964.7 262.0 1115.4 159.6 1027.4 168.2 1012.5 240.3 1011.1 246.1 990.0 253.8 1074.2 201.9 1047.6 253.8 1086.4 190.6 1018.5 250.1 1056.0 152.6 1115.4 170.8 973.7 246.4 967.5 303.4 1018.5 255.2 876.1 330.9 871.1 370.3 1023.5 163.4 1100.4 189.4 971.6 266.1 940.8 292.5 1112.5 136.4 983.3 272.2 935.6 383.4 981.2 257.8 1004.7 210.0 1083.4 187.9 898.8 335.4 958.4 285.4 1107.9 83.3 1024.8 240.6 942.0 269.0 894.4 359.1 994.7 179.4 1119.2 108.8 1109.5 204.3 991.8 262.5 1098.6 95.5 903.8 284.0 1155.9 77.7 1112.2 177.7 829.1 404.4 963.8 309.6 848.6 384.9 1087.3 190.1 1097.4 196.2 1061.1 213.1 1043.0 157.7 1015.1 193.4 996.7 206.5 927.5 319.4 924.5 355.8 959.9 304.9 915.9 330.6 1043.8 225.2 1103.9 182.1 824.8 395.7 1085.7 222.1 1027.5 233.3 1015.4 242.9 1103.5 140.0 999.2 250.7 980.8 267.2 1090.5 140.9 1078.3 209.7 935.0 293.1 957.1 318.6 1079.8 135.1 982.7 279.2 1040.1 133.0 842.5 423.2 929.1 329.7 785.8 458.8 1095.4 140.3 1085.0 142.0 910.6 321.6 1044.4 144.3 1047.8 236.1 958.1 308.1 949.4 333.4 888.2 373.4 895.8 377.8 1012.9 247.2 1140.6 71.9 866.0 428.2 1054.6 155.7 930.4 296.4 885.9 279.8 979.2 232.6 937.7 300.2 1117.2 162.6 1003.9 266.2 945.0 310.6 1053.0 223.3 1060.7 132.4 967.9 250.2 1062.2 140.6 975.0 237.5 990.3 219.4 876.9 373.6 1013.2 189.1 1063.3 205.6 1085.8 135.7 913.9 342.1 1109.9 167.4 1082.0 134.7 1047.2 239.2 1000.6 211.9 1116.7 148.9 1117.8 150.0 1081.6 194.2 1079.0 200.0 1062.0 148.5 1074.9 207.9 1035.2 161.7 973.1 291.7 1033.8 230.7 975.5 254.4 998.3 275.8 935.7 300.4 982.0 234.8 966.7 306.2 900.5 321.1 880.0 346.0 1101.0 207.7 990.4 259.1 981.8 226.3 930.6 348.1 872.0 352.9 980.2 269.2 930.2 308.3 1029.9 244.2 855.7 391.7 883.9 376.4 835.9 406.1 1022.5 181.6 885.9 267.3 968.1 328.0 1059.2 216.4 891.1 326.8 971.4 303.7 1063.7 137.7 1031.8 164.4 980.1 254.6 1059.8 219.8 976.7 237.8 1013.0 251.0 984.2 284.2 988.9 202.6 1047.7 242.3 950.0 310.4 931.3 309.1 974.8 242.0 963.4 265.8 903.4 333.5 951.8 294.1 917.9 343.9 946.5 312.2 910.6 330.4 976.7 280.9 880.9 353.1 1102.1 188.9 1057.8 146.9 932.2 304.6 1090.3 138.6 981.8 284.9 1095.3 123.6 1037.9 231.6 1089.1 110.7 914.3 328.6 840.2 392.9 1083.9 134.6 884.5 372.0 933.4 279.0 1044.7 224.6 960.9 299.9 968.2 314.2 938.7 296.9 958.4 275.7 1043.1 160.6 1109.5 141.7 995.8 207.3 1129.0 154.0 1097.9 140.5 1083.0 191.6 1034.1 234.7 960.3 298.3 1013.8 182.4 1130.4 110.7 937.7 330.9 1104.4 141.7 1002.8 209.8 970.7 266.6 1071.7 135.5 871.1 377.1 1036.5 243.9 972.6 247.1 930.7 288.0 1103.1 141.9 1070.3 138.3 1053.8 147.3 1098.7 174.5 1068.4 204.4 981.8 267.2 943.6 327.5 1050.9 226.8 1024.2 185.0 970.8 272.2 951.7 258.4 1113.0 143.7 1126.0 117.7 952.7 299.3 1082.3 138.6 944.1 305.4 938.1 302.8 1124.3 152.9 994.1 272.0 988.7 160.0 1059.9 151.8 994.2 219.2 1053.0 155.6 1080.7 135.6 977.0 279.5 1104.8 142.6 1003.9 201.8 1005.8 209.1 928.9 318.2 979.9 260.6 1097.8 203.1 1059.5 223.3 1090.7 197.6 998.0 214.6 1112.4 174.6 1080.4 214.9 945.7 307.3 893.6 321.8 1012.2 198.6 976.6 262.2 1044.7 162.4 963.8 280.3 1041.5 156.5 968.2 259.9 1003.3 268.4 875.2 400.7 864.1 426.5 990.4 262.2 1118.3 166.5 893.2 387.2 975.5 249.8 950.3 306.1 1082.2 194.5 917.7 292.8 974.5 315.0 962.5 283.8 1089.4 199.9 856.5 382.0 1003.4 249.3 891.1 356.7 1061.6 211.2 1079.8 97.6 923.0 355.9 983.5 262.6 882.2 390.0 963.1 295.8 974.1 284.9 884.5 337.5 995.3 224.1 853.2 405.3 1009.9 196.4 884.1 329.4 1009.0 255.4 1011.0 179.9 1059.3 144.9 973.9 245.1 1005.3 200.8 865.7 389.0 1137.9 123.9 925.8 312.9 988.8 301.7 1026.5 169.6 932.8 310.9 1114.3 103.1 1104.0 170.2 1053.9 143.0 992.1 254.7 836.6 371.5 1088.3 128.1 995.4 266.4 1018.5 249.0 1036.6 146.4 993.1 269.0 985.9 283.5 877.3 384.4 1018.1 169.8 958.1 257.9 1002.8 201.9 1053.6 155.0 1015.5 172.1 975.0 259.6 964.6 271.1 987.9 229.5 1083.6 141.9 978.4 255.2 1039.1 143.2 1109.5 144.1 1075.3 138.3 976.6 264.4 885.9 376.0 890.6 368.2 891.3 362.8 1028.8 240.9 910.7 345.9 929.7 304.2 1032.1 168.0 879.6 382.0 938.5 316.5 1099.9 140.1 1106.1 180.5 1160.7 148.2 1038.8 225.4 938.9 317.3 986.7 274.3 884.2 366.1 972.1 237.0 837.3 415.5 845.3 361.4 1001.8 269.8 917.0 315.5 1041.4 241.7 1047.6 234.2 1101.6 204.1 1073.8 240.1 1095.7 177.8 1094.0 137.7 1114.0 166.3 930.6 307.7 1035.4 233.5 1020.7 171.1 850.7 373.8 996.4 308.2 1102.0 125.6 1101.5 191.0 867.4 322.3 953.3 345.7 1100.0 138.8 988.8 225.4 1093.8 178.9 995.2 262.4 1066.2 130.0 1014.8 187.6 962.7 279.6 1052.8 239.1 914.2 324.4 1088.9 122.0 797.0 411.1 1105.0 183.6 996.5 268.4 1111.1 161.7 951.4 312.3 1059.9 108.9 934.6 303.4 932.4 287.7 932.8 311.8 943.2 306.9 826.5 372.7 1049.2 259.9 1043.7 240.0 906.7 331.6 992.0 274.1 963.2 300.6"/>
<path class="mk" d="M1073.8 218.3 959.3 281.3 869.0 397.6 942.7 293.0 1055.0 146.9 1029.1 239.5 1086.8 142.1 945.2 292.5 859.7 360.9 1192.3 39.4 895.5 367.4 1085.9 129.2 1097.4 180.7 1112.5 145.1 976.0 264.5 825.3 373.2 919.7 301.6 999.5 213.9 953.7 298.3 1025.7 172.0 991.9 209.4 1009.4 191.3 1103.3 182.6 891.7 321.5 986.5 224.2 1000.9 194.8 878.2 400.9 1053.1 221.9 1054.9 223.7 1044.0 242.5 973.1 294.7 1053.0 240.7 978.2 234.9 1085.4 118.2 967.0 289.8 1070.2 140.4 1034.5 140.1 832.4 412.5 864.1 352.4 956.0 331.6 930.9 299.1 968.8 242.9 994.7 207.2 1050.5 235.3 1095.1 182.2 914.8 323.9 1151.0 144.5 941.1 312.4 1113.3 145.8 1114.1 177.0 973.0 230.6 945.0 281.4 1025.1 173.6 1002.1 215.9 957.1 295.6 920.9 324.6 1018.4 187.3 945.7 258.6 1062.1 128.4 1001.0 252.3 1015.1 242.0 961.0 297.4 943.1 262.3 969.6 300.5 943.6 328.1 866.2 335.1 988.2 204.8 976.1 276.8 902.5 315.3 984.6 254.2 956.0 302.3 1002.0 276.0 1110.6 121.6 1038.4 162.8 805.0 439.1 1022.1 181.2 1018.3 182.0 1103.7 178.4 1087.9 184.9 1005.6 185.2 848.1 397.0 1125.2 150.9 926.4 290.3 890.6 319.3 1036.9 164.1 994.6 211.3 968.3 200.8 1028.0 243.7 894.8 326.9 911.7 375.2 1073.7 220.6 1056.0 210.0 1103.6 177.1 1075.2 228.6 1048.5 146.4 997.9 209.1 920.5 328.3 1078.9 142.4 1070.5 207.3 988.1 267.5 1061.8 213.9 1093.4 204.8 985.1 277.3 846.6 411.1 892.3 384.9 1124.5 109.1 824.0 400.3 1037.8 227.6 1101.8 186.5 931.0 295.4 893.5 423.2 967.8 278.7 1023.8 187.0 978.8 258.5 969.0 270.9 927.0 314.9 922.5 314.5 1137.3 149.7 1068.1 141.4 990.9 263.9 1042.3 226.9 1012.7 258.5 1118.9 181.6 1022.1 241.6 956.6 268.9 1061.4 224.1 1062.9 127.6 983.3 254.5 914.6 323.8 971.4 248.8 1119.6 151.1 832.2 393.7 1015.6 250.2 1070.2 198.2 1016.0 251.4 819.8 416.7 1056.0 149.7 1064.2 134.8 1016.5 182.9 1008.6 199.0 988.2 255.3 1056.4 213.1 978.0 223.8 909.1 320.5 1068.7 210.5 966.5 236.0 921.4 314.4 996.0 252.6 918.8 339.1 1124.6 177.4 910.6 330.0 913.2 315.3 1087.3 98.3 1035.1 135.3 979.4 303.9 909.4 334.0 1059.7 139.7 967.7 262.2 904.6 317.6 986.2 272.5 1102.1 112.3 911.0 293.5 919.9 330.6 983.6 228.7 886.7 322.3 954.3 292.4 1065.8 142.8 1025.5 162.4 1103.2 171.2 1117.3 84.4 969.9 285.8 1063.3 206.9 1083.7 126.8 1064.1 144.8 848.2 405.8 990.1 272.9 1023.7 244.7 1043.2 146.1 1006.7 172.5 1063.7 128.9 981.2 281.3 908.1 336.1 1118.9 150.9 1003.3 249.1 982.7 225.3 995.4 213.5 1122.9 123.3 948.2 310.2 943.4 285.9 1014.1 194.0 797.4 420.2 913.7 337.6 885.1 379.1 1075.2 196.8 865.8 382.7 893.0 329.4 1018.6 245.0 1058.1 218.5 1048.7 225.9 969.1 229.6 1091.2 185.7 1122.9 150.6 893.5 346.7 998.9 264.4 1010.3 139.6 1112.6 185.7 986.2 220.7 1122.2 158.7 903.4 332.4 1020.8 188.7 958.7 284.2 1126.7 81.8 1121.4 140.4 978.6 281.4 1067.9 134.8 1080.8 196.8 999.7 205.5 1032.6 240.4 948.1 327.4 1124.0 57.4 1106.6 224.6 923.9 306.9 1099.8 174.1 945.0 324.4 992.8 201.7 1037.1 224.6 851.2 411.0 993.7 172.1 973.5 240.6 972.8 284.3 959.7 246.2 1001.9 250.6 1036.1 230.7 1088.6 187.9 891.2 335.3 897.2 386.2 929.9 340.6 962.2 227.4 1006.0 251.8 848.7 340.5 1098.2 175.5 1036.5 227.1 1089.9 134.8 856.4 374.6 1016.5 192.3 918.6 343.1 950.4 303.3 1109.0 143.7 851.6 416.4 1117.8 146.9 967.1 312.1 1037.7 237.6 1050.4 158.3 1122.1 178.9 1018.8 188.8 1013.5 192.7 937.1 319.4 917.6 373.0 1013.4 259.3 899.5 329.2 995.8 200.6 833.7 414.9 984.3 203.6 1085.7 140.0 998.2 271.8 977.2 223.5 956.8 262.3 962.3 312.8 978.0 252.5 999.5 217.0 1022.3 179.0 1042.7 158.1 874.5 397.7 1012.5 195.8 946.6 287.0 844.3 413.2 950.7 277.1 1054.8 218.7 977.1 253.7"/>
<path class="ax" d="M734.5 7.5V511.3M734.5 511.3H1225.0"/>
<path class="tk" d="M731.0 423.3h3.5M820.8 511.3v3.5M731.0 292.4h3.5M948.2 511.3v3.5M731.0 161.5h3.5M1075.6 511.3v3.5M731.0 30.6h3.5M1203.0 511.3v3.5"/>
<text class="tl" x="726.3" y="434.1" text-anchor="end">0.8</text>
<text class="tl" x="822.4" y="541.5" text-anchor="middle">0.8</text>
<text class="tl" x="726.3" y="303.2" text-anchor="end">0.9</text>
<text class="tl" x="949.8" y="541.5" text-anchor="middle">0.9</text>
<text class="tl" x="726.3" y="172.3" text-anchor="end">1.0</text>
<text class="tl" x="1077.2" y="541.5" text-anchor="middle">1.0</text>
<text class="tl" x="726.3" y="41.4" text-anchor="end">1.1</text>
<text class="tl" x="1204.6" y="541.5" text-anchor="middle">1.1</text>
<text class="ti" x="732.6" y="574.9">Fitness from SC + 37°C replicate 1</text>
<text class="ti" transform="translate(678.8 509.2) rotate(-90)">Fitness from SC + 37°C replicate 3</text>
<text class="st" x="748.2" y="46.6" style="font-size:31px" textLength="328" lengthAdjust="spacingAndGlyphs"><tspan font-style="italic">r</tspan> = 0.94, <tspan font-style="italic">P</tspan> &lt; 2.2 × 10<tspan dy="-11" style="font-size:18.5px">-308</tspan></text>
<text class="lb" x="618.5" y="41.4">b</text></g>
<g id="pc"><line class="dl" x1="1371.0" y1="512.3" x2="1860.7" y2="9.4"/>
<path class="bk" d="M1745.5 129.9h2v1h-2zM1725.5 135.9h3v1h-3zM1725.5 136.9h4v1h-4zM1730.5 136.9h1v1h-1zM1734.5 136.9h2v1h-2zM1700.5 137.9h1v1h-1zM1723.5 137.9h1v1h-1zM1725.5 137.9h6v1h-6zM1734.5 137.9h2v1h-2zM1699.5 138.9h2v1h-2zM1723.5 138.9h7v1h-7zM1735.5 138.9h4v1h-4zM1740.5 138.9h2v1h-2zM1724.5 139.9h6v1h-6zM1733.5 139.9h1v1h-1zM1735.5 139.9h9v1h-9zM1723.5 140.9h8v1h-8zM1735.5 140.9h10v1h-10zM1702.5 141.9h1v1h-1zM1704.5 141.9h1v1h-1zM1706.5 141.9h3v1h-3zM1718.5 141.9h27v1h-27zM1701.5 142.9h3v1h-3zM1705.5 142.9h5v1h-5zM1713.5 142.9h33v1h-33zM1702.5 143.9h44v1h-44zM1702.5 144.9h45v1h-45zM1701.5 145.9h2v1h-2zM1704.5 145.9h43v1h-43zM1701.5 146.9h48v1h-48zM1694.5 147.9h2v1h-2zM1699.5 147.9h49v1h-49zM1756.5 147.9h1v1h-1zM1693.5 148.9h56v1h-56zM1751.5 148.9h1v1h-1zM1756.5 148.9h1v1h-1zM1693.5 149.9h57v1h-57zM1751.5 149.9h1v1h-1zM1684.5 150.9h2v1h-2zM1689.5 150.9h1v1h-1zM1693.5 150.9h57v1h-57zM1685.5 151.9h3v1h-3zM1689.5 151.9h1v1h-1zM1692.5 151.9h58v1h-58zM1685.5 152.9h64v1h-64zM1678.5 153.9h3v1h-3zM1685.5 153.9h62v1h-62zM1678.5 154.9h4v1h-4zM1684.5 154.9h65v1h-65zM1675.5 155.9h5v1h-5zM1681.5 155.9h1v1h-1zM1683.5 155.9h65v1h-65zM1676.5 156.9h4v1h-4zM1684.5 156.9h65v1h-65zM1676.5 157.9h4v1h-4zM1683.5 157.9h65v1h-65zM1675.5 158.9h1v1h-1zM1677.5 158.9h3v1h-3zM1682.5 158.9h67v1h-67zM1679.5 159.9h1v1h-1zM1681.5 159.9h67v1h-67zM1680.5 160.9h67v1h-67zM1749.5 160.9h1v1h-1zM1675.5 161.9h3v1h-3zM1679.5 161.9h67v1h-67zM1675.5 162.9h71v1h-71zM1748.5 162.9h1v1h-1zM1676.5 163.9h70v1h-70zM1747.5 163.9h1v1h-1zM1676.5 164.9h69v1h-69zM1672.5 165.9h1v1h-1zM1675.5 165.9h69v1h-69zM1674.5 166.9h69v1h-69zM1673.5 167.9h64v1h-64zM1739.5 167.9h3v1h-3zM1672.5 168.9h65v1h-65zM1739.5 168.9h2v1h-2zM1666.5 169.9h1v1h-1zM1670.5 169.9h68v1h-68zM1664.5 170.9h4v1h-4zM1669.5 170.9h70v1h-70zM1663.5 171.9h76v1h-76zM1662.5 172.9h77v1h-77zM1662.5 173.9h74v1h-74zM1737.5 173.9h1v1h-1zM1660.5 174.9h73v1h-73zM1658.5 175.9h74v1h-74zM1658.5 176.9h74v1h-74zM1649.5 177.9h1v1h-1zM1658.5 177.9h74v1h-74zM1650.5 178.9h1v1h-1zM1658.5 178.9h75v1h-75zM1651.5 179.9h1v1h-1zM1659.5 179.9h74v1h-74zM1656.5 180.9h1v1h-1zM1660.5 180.9h73v1h-73zM1652.5 181.9h6v1h-6zM1659.5 181.9h74v1h-74zM1651.5 182.9h83v1h-83zM1650.5 183.9h78v1h-78zM1729.5 183.9h3v1h-3zM1733.5 183.9h3v1h-3zM1650.5 184.9h78v1h-78zM1732.5 184.9h1v1h-1zM1734.5 184.9h1v1h-1zM1650.5 185.9h1v1h-1zM1652.5 185.9h76v1h-76zM1729.5 185.9h1v1h-1zM1731.5 185.9h1v1h-1zM1645.5 186.9h1v1h-1zM1651.5 186.9h1v1h-1zM1653.5 186.9h74v1h-74zM1731.5 186.9h1v1h-1zM1646.5 187.9h1v1h-1zM1652.5 187.9h75v1h-75zM1653.5 188.9h74v1h-74zM1653.5 189.9h75v1h-75zM1652.5 190.9h77v1h-77zM1652.5 191.9h78v1h-78zM1651.5 192.9h78v1h-78zM1648.5 193.9h81v1h-81zM1648.5 194.9h73v1h-73zM1724.5 194.9h4v1h-4zM1646.5 195.9h77v1h-77zM1724.5 195.9h3v1h-3zM1642.5 196.9h1v1h-1zM1645.5 196.9h74v1h-74zM1720.5 196.9h4v1h-4zM1638.5 197.9h4v1h-4zM1644.5 197.9h77v1h-77zM1722.5 197.9h3v1h-3zM1638.5 198.9h4v1h-4zM1644.5 198.9h74v1h-74zM1719.5 198.9h2v1h-2zM1722.5 198.9h2v1h-2zM1639.5 199.9h4v1h-4zM1645.5 199.9h76v1h-76zM1722.5 199.9h2v1h-2zM1638.5 200.9h5v1h-5zM1645.5 200.9h76v1h-76zM1722.5 200.9h2v1h-2zM1637.5 201.9h85v1h-85zM1637.5 202.9h84v1h-84zM1637.5 203.9h84v1h-84zM1635.5 204.9h86v1h-86zM1635.5 205.9h75v1h-75zM1712.5 205.9h7v1h-7zM1634.5 206.9h7v1h-7zM1642.5 206.9h68v1h-68zM1712.5 206.9h5v1h-5zM1718.5 206.9h2v1h-2zM1635.5 207.9h5v1h-5zM1641.5 207.9h65v1h-65zM1707.5 207.9h5v1h-5zM1714.5 207.9h1v1h-1zM1718.5 207.9h1v1h-1zM1635.5 208.9h4v1h-4zM1641.5 208.9h73v1h-73zM1626.5 209.9h3v1h-3zM1635.5 209.9h2v1h-2zM1640.5 209.9h69v1h-69zM1710.5 209.9h3v1h-3zM1625.5 210.9h3v1h-3zM1636.5 210.9h2v1h-2zM1639.5 210.9h61v1h-61zM1702.5 210.9h1v1h-1zM1706.5 210.9h2v1h-2zM1710.5 210.9h2v1h-2zM1625.5 211.9h2v1h-2zM1631.5 211.9h1v1h-1zM1635.5 211.9h63v1h-63zM1707.5 211.9h2v1h-2zM1626.5 212.9h4v1h-4zM1631.5 212.9h65v1h-65zM1708.5 212.9h1v1h-1zM1626.5 213.9h70v1h-70zM1627.5 214.9h69v1h-69zM1629.5 215.9h66v1h-66zM1629.5 216.9h65v1h-65zM1629.5 217.9h65v1h-65zM1613.5 218.9h3v1h-3zM1627.5 218.9h2v1h-2zM1630.5 218.9h63v1h-63zM1612.5 219.9h1v1h-1zM1614.5 219.9h2v1h-2zM1627.5 219.9h2v1h-2zM1632.5 219.9h61v1h-61zM1617.5 220.9h1v1h-1zM1625.5 220.9h5v1h-5zM1631.5 220.9h61v1h-61zM1617.5 221.9h1v1h-1zM1625.5 221.9h61v1h-61zM1689.5 221.9h2v1h-2zM1624.5 222.9h61v1h-61zM1688.5 222.9h1v1h-1zM1624.5 223.9h2v1h-2zM1627.5 223.9h59v1h-59zM1622.5 224.9h54v1h-54zM1677.5 224.9h1v1h-1zM1679.5 224.9h6v1h-6zM1624.5 225.9h52v1h-52zM1678.5 225.9h6v1h-6zM1621.5 226.9h1v1h-1zM1623.5 226.9h54v1h-54zM1690.5 226.9h1v1h-1zM1621.5 227.9h55v1h-55zM1619.5 228.9h57v1h-57zM1618.5 229.9h50v1h-50zM1670.5 229.9h5v1h-5zM1615.5 230.9h52v1h-52zM1669.5 230.9h1v1h-1zM1671.5 230.9h5v1h-5zM1611.5 231.9h57v1h-57zM1669.5 231.9h7v1h-7zM1688.5 231.9h2v1h-2zM1612.5 232.9h64v1h-64zM1688.5 232.9h3v1h-3zM1612.5 233.9h65v1h-65zM1612.5 234.9h52v1h-52zM1666.5 234.9h3v1h-3zM1671.5 234.9h5v1h-5zM1612.5 235.9h53v1h-53zM1673.5 235.9h2v1h-2zM1613.5 236.9h50v1h-50zM1668.5 236.9h1v1h-1zM1610.5 237.9h1v1h-1zM1612.5 237.9h50v1h-50zM1601.5 238.9h2v1h-2zM1609.5 238.9h2v1h-2zM1613.5 238.9h47v1h-47zM1600.5 239.9h3v1h-3zM1608.5 239.9h2v1h-2zM1613.5 239.9h47v1h-47zM1608.5 240.9h1v1h-1zM1610.5 240.9h49v1h-49zM1600.5 241.9h1v1h-1zM1610.5 241.9h43v1h-43zM1654.5 241.9h2v1h-2zM1601.5 242.9h1v1h-1zM1609.5 242.9h45v1h-45zM1655.5 242.9h1v1h-1zM1610.5 243.9h44v1h-44zM1607.5 244.9h48v1h-48zM1664.5 244.9h2v1h-2zM1606.5 245.9h48v1h-48zM1605.5 246.9h50v1h-50zM1604.5 247.9h51v1h-51zM1603.5 248.9h43v1h-43zM1647.5 248.9h5v1h-5zM1603.5 249.9h42v1h-42zM1647.5 249.9h3v1h-3zM1602.5 250.9h45v1h-45zM1603.5 251.9h40v1h-40zM1644.5 251.9h4v1h-4zM1604.5 252.9h39v1h-39zM1644.5 252.9h4v1h-4zM1605.5 253.9h38v1h-38zM1644.5 253.9h1v1h-1zM1604.5 254.9h39v1h-39zM1603.5 255.9h36v1h-36zM1641.5 255.9h1v1h-1zM1643.5 255.9h1v1h-1zM1646.5 255.9h1v1h-1zM1602.5 256.9h36v1h-36zM1597.5 257.9h1v1h-1zM1601.5 257.9h36v1h-36zM1662.5 257.9h1v1h-1zM1596.5 258.9h3v1h-3zM1600.5 258.9h36v1h-36zM1661.5 258.9h1v1h-1zM1593.5 259.9h42v1h-42zM1644.5 259.9h1v1h-1zM1593.5 260.9h41v1h-41zM1593.5 261.9h43v1h-43zM1640.5 261.9h1v1h-1zM1589.5 262.9h2v1h-2zM1592.5 262.9h45v1h-45zM1643.5 262.9h1v1h-1zM1646.5 262.9h1v1h-1zM1589.5 263.9h2v1h-2zM1592.5 263.9h46v1h-46zM1645.5 263.9h1v1h-1zM1589.5 264.9h47v1h-47zM1642.5 264.9h1v1h-1zM1571.5 265.9h2v1h-2zM1589.5 265.9h1v1h-1zM1591.5 265.9h44v1h-44zM1640.5 265.9h2v1h-2zM1571.5 266.9h1v1h-1zM1592.5 266.9h42v1h-42zM1641.5 266.9h2v1h-2zM1572.5 267.9h1v1h-1zM1591.5 267.9h41v1h-41zM1633.5 267.9h1v1h-1zM1647.5 267.9h1v1h-1zM1590.5 268.9h42v1h-42zM1646.5 268.9h2v1h-2zM1574.5 269.9h1v1h-1zM1581.5 269.9h1v1h-1zM1589.5 269.9h43v1h-43zM1573.5 270.9h1v1h-1zM1580.5 270.9h6v1h-6zM1589.5 270.9h42v1h-42zM1580.5 271.9h6v1h-6zM1588.5 271.9h38v1h-38zM1627.5 271.9h3v1h-3zM1581.5 272.9h44v1h-44zM1581.5 273.9h44v1h-44zM1582.5 274.9h43v1h-43zM1581.5 275.9h1v1h-1zM1583.5 275.9h41v1h-41zM1582.5 276.9h41v1h-41zM1624.5 276.9h1v1h-1zM1582.5 277.9h42v1h-42zM1582.5 278.9h42v1h-42zM1583.5 279.9h42v1h-42zM1580.5 280.9h45v1h-45zM1580.5 281.9h43v1h-43zM1579.5 282.9h45v1h-45zM1579.5 283.9h44v1h-44zM1579.5 284.9h39v1h-39zM1580.5 285.9h36v1h-36zM1581.5 286.9h34v1h-34zM1580.5 287.9h38v1h-38zM1580.5 288.9h37v1h-37zM1618.5 288.9h2v1h-2zM1580.5 289.9h42v1h-42zM1571.5 290.9h2v1h-2zM1580.5 290.9h43v1h-43zM1570.5 291.9h4v1h-4zM1575.5 291.9h3v1h-3zM1579.5 291.9h37v1h-37zM1617.5 291.9h5v1h-5zM1570.5 292.9h44v1h-44zM1617.5 292.9h4v1h-4zM1569.5 293.9h44v1h-44zM1569.5 294.9h43v1h-43zM1569.5 295.9h43v1h-43zM1570.5 296.9h3v1h-3zM1574.5 296.9h38v1h-38zM1573.5 297.9h1v1h-1zM1575.5 297.9h36v1h-36zM1575.5 298.9h35v1h-35zM1575.5 299.9h34v1h-34zM1574.5 300.9h35v1h-35zM1574.5 301.9h35v1h-35zM1575.5 302.9h34v1h-34zM1577.5 303.9h33v1h-33zM1577.5 304.9h22v1h-22zM1602.5 304.9h7v1h-7zM1580.5 305.9h8v1h-8zM1590.5 305.9h7v1h-7zM1604.5 305.9h5v1h-5zM1567.5 306.9h2v1h-2zM1581.5 306.9h5v1h-5zM1590.5 306.9h8v1h-8zM1606.5 306.9h2v1h-2zM1565.5 307.9h5v1h-5zM1582.5 307.9h3v1h-3zM1590.5 307.9h7v1h-7zM1567.5 308.9h4v1h-4zM1590.5 308.9h6v1h-6zM1563.5 309.9h1v1h-1zM1567.5 309.9h5v1h-5zM1591.5 309.9h5v1h-5zM1598.5 309.9h2v1h-2zM1567.5 310.9h5v1h-5zM1590.5 310.9h7v1h-7zM1599.5 310.9h2v1h-2zM1566.5 311.9h9v1h-9zM1587.5 311.9h5v1h-5zM1595.5 311.9h2v1h-2zM1600.5 311.9h1v1h-1zM1568.5 312.9h2v1h-2zM1571.5 312.9h7v1h-7zM1587.5 312.9h4v1h-4zM1601.5 312.9h1v1h-1zM1569.5 313.9h10v1h-10zM1587.5 313.9h3v1h-3zM1570.5 314.9h9v1h-9zM1587.5 314.9h3v1h-3zM1570.5 315.9h10v1h-10zM1586.5 315.9h2v1h-2zM1590.5 315.9h1v1h-1zM1572.5 316.9h5v1h-5zM1579.5 316.9h1v1h-1zM1573.5 317.9h4v1h-4zM1580.5 317.9h1v1h-1zM1554.5 319.9h2v1h-2zM1560.5 319.9h1v1h-1zM1554.5 320.9h2v1h-2zM1558.5 320.9h1v1h-1zM1554.5 321.9h2v1h-2zM1557.5 321.9h3v1h-3zM1555.5 322.9h6v1h-6zM1556.5 323.9h3v1h-3zM1560.5 323.9h2v1h-2zM1561.5 324.9h2v1h-2zM1555.5 325.9h1v1h-1zM1561.5 325.9h1v1h-1zM1553.5 327.9h2v1h-2zM1554.5 328.9h2v1h-2zM1553.5 329.9h5v1h-5zM1553.5 330.9h5v1h-5zM1553.5 331.9h5v1h-5zM1554.5 332.9h5v1h-5zM1555.5 333.9h1v1h-1zM1557.5 333.9h1v1h-1zM1543.5 334.9h1v1h-1zM1556.5 339.9h1v1h-1zM1556.5 340.9h1v1h-1zM1552.5 342.9h2v1h-2z"/>
<path class="mk" d="M1524.5 378.6 1701.4 144.5 1572.6 318.4 1478.3 382.1 1582.0 315.9 1645.9 254.3 1606.4 251.7 1632.7 217.1 1714.1 204.2 1562.6 307.0 1646.4 250.0 1782.7 59.3 1650.5 155.5 1604.2 303.4 1514.2 380.5 1545.1 299.9 1681.3 129.7 1727.3 141.8 1707.2 208.1 1484.0 422.0 1515.6 374.4 1729.7 223.1 1622.4 227.8 1652.6 243.6 1727.5 193.3 1584.6 277.8 1709.4 209.7 1591.3 236.0 1746.4 159.8 1726.6 133.1 1743.9 139.6 1702.2 210.8 1674.5 225.7 1710.5 212.0 1529.8 392.0 1679.3 163.6 1685.7 241.8 1692.1 217.2 1636.8 205.0 1681.5 226.5 1559.9 263.4 1627.4 222.8 1674.4 228.4 1635.1 212.4 1652.7 249.7 1733.6 182.2 1491.7 383.6 1730.0 179.8 1547.0 334.8 1592.4 314.6 1613.4 229.8 1509.8 341.6 1692.9 152.8 1576.9 308.4 1513.0 340.5 1559.5 295.3 1524.7 378.7 1694.0 227.3 1689.9 233.9 1629.5 268.7 1621.6 281.4 1646.9 261.9 1567.7 302.2 1611.3 218.1 1606.4 223.4 1668.7 258.1 1783.5 80.1 1675.1 156.9 1746.6 161.5 1651.2 273.3 1760.3 92.2 1702.3 226.0 1647.9 199.8 1562.6 322.5 1601.6 302.2 1514.1 364.7 1602.7 242.7 1689.3 220.1 1637.4 191.0 1774.3 99.9 1732.1 179.6 1746.3 158.5 1594.6 267.3 1696.0 152.8 1753.7 183.7 1542.6 338.7 1736.1 132.7 1698.8 137.5 1588.3 315.4 1698.4 142.5 1711.5 207.1 1671.4 227.6 1691.1 132.5 1674.3 164.4 1538.8 333.8 1693.4 216.4 1742.5 141.2 1629.5 216.6 1717.0 99.5 1574.1 268.5 1569.3 316.9 1701.9 240.4 1664.4 171.5 1568.9 310.4 1564.7 332.1 1691.0 219.4 1690.8 234.7 1747.0 133.2 1638.7 185.0 1525.9 291.1 1620.2 208.0 1553.2 375.9 1735.8 171.8 1748.7 103.5 1710.2 203.3 1518.2 336.1 1746.6 150.6 1490.9 370.0 1533.1 352.2 1535.5 344.9 1577.3 317.2 1592.5 265.8 1534.8 328.0 1717.5 143.0 1569.1 304.0 1511.0 350.0 1557.7 324.6 1649.3 186.5 1740.1 171.1 1699.1 223.8 1638.5 209.3 1623.0 281.1 1555.9 332.4 1582.5 286.2 1736.7 187.8 1732.0 130.6 1665.2 260.8 1733.9 120.1 1583.0 282.2 1490.4 348.9 1521.7 385.9 1720.8 138.2 1707.2 144.4 1702.1 216.2 1444.2 379.7 1627.7 208.8 1688.1 150.5 1721.7 206.4 1668.3 232.6 1597.7 340.5 1565.5 342.5 1721.8 199.0 1617.6 219.8 1574.3 271.2 1694.8 151.5 1749.7 166.1 1686.2 154.5 1605.9 251.2 1747.8 179.7 1673.1 232.7 1649.4 181.4 1536.9 329.3 1553.2 281.6 1513.1 344.9 1648.9 197.0 1753.7 148.2 1622.7 206.6 1745.6 142.7 1755.2 149.5 1589.5 310.3 1580.4 239.2 1591.9 267.0 1637.7 261.3 1562.3 348.6 1543.2 350.5 1736.2 172.2 1566.3 288.1 1658.9 163.0 1654.9 167.0 1646.9 187.5 1555.9 321.3 1728.3 193.9 1528.8 339.0 1518.5 353.1 1587.3 330.8 1738.2 142.0 1632.6 180.4 1681.5 234.3 1496.4 386.2 1720.8 127.6 1598.5 248.9 1685.6 224.3 1585.3 369.1 1654.4 185.5 1642.2 180.5 1625.4 297.5 1658.4 238.7 1612.4 323.3 1759.0 87.1 1541.5 257.1 1690.1 228.0 1676.8 237.4 1498.4 384.5 1699.1 215.2 1624.7 227.8 1613.6 290.0 1673.7 234.7 1641.4 199.4 1607.7 335.1 1598.8 220.7 1610.2 307.8 1573.5 315.4 1624.7 278.0 1660.0 175.0 1589.2 311.3 1615.5 233.2 1634.7 265.7 1649.5 297.0 1519.8 367.1 1743.6 130.6 1730.7 181.6 1722.0 140.3 1726.2 199.2 1633.6 263.3 1651.2 192.6 1737.3 136.2 1620.3 292.9 1733.9 180.6 1703.2 210.2 1532.2 331.6 1631.5 269.0 1626.8 275.0 1752.1 163.2 1629.0 177.5 1714.2 209.6 1642.9 253.4 1574.0 292.8 1703.0 137.6 1519.4 370.7 1659.9 257.5 1755.3 150.1 1641.9 284.5 1535.1 342.2 1596.9 260.5 1722.9 199.0 1598.6 359.2 1598.5 304.2 1545.7 319.3 1737.0 139.7 1654.6 184.6 1708.6 232.6 1594.6 265.5 1521.4 315.3 1538.1 315.6 1544.9 329.3 1529.4 349.2 1597.4 261.4 1640.8 272.2 1521.3 363.3 1587.5 265.6 1588.2 271.2 1631.1 172.3 1590.6 250.0 1640.5 264.6 1658.9 179.9 1536.8 349.1 1635.2 265.6 1735.8 140.7 1679.3 156.9 1679.8 229.0 1655.8 254.0 1542.0 337.3 1760.9 88.3 1744.5 144.4 1548.9 329.0 1553.9 349.8 1581.4 333.4 1677.5 228.0 1740.9 141.8 1749.0 150.2 1607.5 299.7 1567.7 310.3 1743.9 164.4 1577.0 308.1 1558.2 321.9 1619.4 232.3 1642.7 206.1 1527.4 340.8 1500.5 398.6 1541.0 323.1 1738.4 183.9 1726.7 139.6 1586.7 271.7 1694.5 150.1 1498.5 379.7 1542.5 323.1 1627.7 270.9 1710.6 143.5 1436.2 481.0 1709.9 142.9 1582.7 256.9 1644.4 254.3 1565.7 305.4 1728.7 183.5 1533.7 345.9 1680.0 157.2 1572.6 294.8 1707.0 208.5 1620.2 290.1 1510.6 401.2 1610.0 331.3 1553.1 346.4 1545.1 399.3 1517.8 406.9 1560.9 306.2 1468.7 412.9 1575.2 336.7 1549.0 326.7 1640.5 175.9 1625.3 289.9 1635.4 220.1 1719.9 204.5 1740.4 141.5 1634.4 271.2 1556.3 307.4 1622.1 230.5 1727.1 86.3 1681.3 236.1 1690.3 220.5 1678.7 144.1 1736.6 126.2 1674.8 162.9 1528.2 399.1 1633.6 268.6 1532.1 340.6 1582.0 317.4 1640.9 269.5 1571.2 308.9 1628.2 220.0 1626.1 193.7 1586.6 314.8 1734.9 187.8 1607.1 225.9 1497.4 353.6 1731.1 141.1 1750.8 162.9 1644.2 183.8 1707.9 215.0 1730.0 129.3 1649.0 180.5 1572.7 297.8 1507.1 361.7 1642.7 264.1 1654.9 190.9 1579.6 282.9 1644.1 261.9 1713.1 206.6 1518.1 384.6 1593.6 308.1 1492.4 372.9 1614.2 218.0 1743.3 104.3 1775.9 110.7 1560.4 350.4 1606.8 252.6 1560.3 332.1 1533.1 354.8 1650.2 247.5 1733.0 205.8 1558.7 325.9 1787.3 104.1 1542.3 425.4 1613.4 240.5 1731.3 194.3 1636.7 209.4 1661.9 259.4 1645.3 269.7 1667.2 232.7 1643.4 265.0 1704.0 145.7 1641.8 203.6 1574.6 315.6 1588.2 262.3 1649.0 195.4 1655.5 245.5 1662.1 235.6 1672.4 242.9 1670.1 170.6 1588.7 399.6 1558.4 313.9 1601.4 240.2 1577.7 336.4 1440.7 462.1 1514.2 348.3 1748.2 152.8 1530.0 286.6 1581.8 321.0 1682.5 223.7 1728.6 138.3 1588.5 264.6"/>
<path class="mk" d="M1746.3 129.4 1677.8 161.8 1712.8 146.0 1521.7 328.5 1602.1 309.1 1556.7 335.8 1719.8 206.4 1508.5 408.8 1685.8 219.4 1731.6 185.7 1618.0 291.0 1561.0 355.1 1656.3 184.6 1720.6 121.6 1609.8 246.5 1757.3 171.6 1531.9 348.4 1477.3 366.7 1688.5 152.8 1503.6 384.3 1740.2 120.5 1630.1 284.1 1656.8 240.8 1720.7 199.0 1549.8 363.6 1482.3 363.8 1625.0 227.4 1628.3 307.3 1644.7 285.1 1547.1 345.9 1608.5 304.4 1620.2 286.0 1662.5 265.3 1677.3 156.9 1749.4 149.7 1564.3 335.1 1562.8 313.1 1606.0 250.3 1663.4 246.1 1592.6 305.3 1623.5 305.6 1648.2 253.5 1726.3 201.4 1640.4 213.0 1695.1 241.9 1563.8 319.1 1584.5 305.3 1593.3 306.4 1567.1 317.1 1726.0 193.1 1585.6 307.5 1682.9 223.3 1702.1 208.3 1566.6 302.5 1680.3 223.5 1697.4 150.0 1643.5 189.0 1747.4 161.8 1581.7 304.9 1652.1 178.5 1580.7 284.9 1555.4 331.8 1588.4 348.4 1641.7 196.4 1726.7 210.3 1590.7 237.2 1496.9 390.8 1636.1 279.3 1750.0 139.9 1755.2 176.9 1545.2 361.5 1597.4 303.4 1603.9 241.9 1571.6 313.4 1623.1 308.3 1733.7 191.7 1738.0 126.9 1519.6 307.0 1513.1 382.1 1652.4 176.9 1611.6 246.7 1614.9 222.7 1498.2 377.3 1494.9 417.0 1635.2 212.9 1633.3 263.5 1684.1 154.5 1620.3 298.9 1659.9 250.8 1648.0 266.1 1583.0 276.2 1720.5 210.5 1573.9 273.8 1746.4 146.8 1762.1 114.8 1582.9 270.3 1604.7 244.1 1614.2 290.0 1613.1 235.3 1772.1 115.2 1655.0 240.6 1747.2 127.6 1615.1 240.0 1650.5 182.7 1686.6 141.3 1621.7 311.1 1622.8 328.4 1692.5 227.5 1589.3 331.2 1764.6 95.7 1717.2 145.1 1622.4 276.5 1758.1 156.6 1578.7 311.8 1723.0 194.8 1612.2 299.1 1703.5 140.2 1683.4 157.3 1618.5 292.2 1550.0 363.1 1540.4 369.4 1572.7 268.2 1737.7 78.8 1420.8 463.6 1528.7 345.5 1666.6 247.7 1610.7 296.4 1608.0 238.4 1470.0 343.3 1703.7 240.7 1525.9 367.2 1671.2 236.3 1697.2 150.1 1616.0 236.3 1578.6 316.3 1607.1 321.5 1692.0 123.6 1663.5 233.7 1746.9 151.4 1609.5 303.1 1605.1 303.2 1625.8 209.0 1760.4 148.8 1701.2 146.3 1660.9 174.1 1593.4 318.2 1555.0 355.3 1774.9 103.8 1714.3 124.7 1589.6 238.1 1565.4 361.2 1546.2 314.8 1600.0 258.2 1667.0 232.9 1739.0 141.2 1563.6 287.7 1733.3 172.6 1464.6 460.6 1567.2 335.9 1825.9 42.0 1696.4 215.5 1730.1 112.6 1585.4 279.6 1765.8 101.3 1509.8 364.5 1648.9 270.3 1552.8 321.0 1611.1 295.7 1681.7 234.9 1762.7 90.8 1619.9 300.3 1560.6 311.4 1739.5 166.0 1554.1 327.8 1769.9 134.3 1576.8 297.4 1677.6 154.3 1600.4 245.1 1552.0 315.0 1634.1 194.6 1659.6 174.7 1583.4 260.1 1498.9 396.6 1647.1 259.2 1748.2 189.5 1592.9 262.9 1616.2 234.2 1717.0 110.7 1584.0 272.5 1705.6 143.8 1658.8 238.5 1580.5 273.9 1718.1 201.5 1751.1 122.4 1734.5 215.1 1662.2 237.8 1621.5 303.0 1731.2 184.1 1588.5 262.7 1687.9 226.8 1626.2 225.8 1727.7 112.4 1730.5 189.0 1526.6 381.6 1671.9 235.7 1654.3 185.8 1631.2 221.8 1567.2 237.1 1713.8 212.6 1613.0 231.0 1780.0 159.6 1720.4 195.4 1662.8 261.2 1747.5 131.3 1727.8 193.2 1526.9 349.5 1745.2 125.7 1561.0 326.8 1575.4 343.6 1661.8 258.3 1558.2 332.6 1565.0 325.4 1775.2 98.3 1611.9 191.4 1700.1 136.7 1693.9 216.9 1729.9 184.9 1600.1 315.7 1610.6 231.8 1738.0 142.0 1719.7 216.6 1725.1 193.1 1511.8 405.0 1724.0 195.3 1756.4 84.4 1754.4 121.5 1571.6 315.7 1506.3 335.8 1609.1 243.4 1600.5 252.3 1525.3 359.9 1761.8 163.9 1614.6 222.7 1640.0 201.9 1609.5 301.6 1768.8 104.9 1635.6 208.2 1737.6 191.1 1554.2 365.8 1633.0 214.8 1589.9 317.3 1716.8 210.8 1489.3 377.0 1557.6 340.1 1546.8 356.9 1658.0 242.0 1594.7 308.1 1733.2 138.1 1671.0 164.8 1700.8 221.9 1652.9 177.1 1626.4 286.2 1571.5 311.7 1526.5 311.5 1617.0 285.8 1708.8 126.4 1535.7 326.8 1605.7 247.2 1565.3 268.0 1647.7 269.8 1563.8 328.3 1635.2 215.0 1601.6 325.6 1586.7 274.6 1666.2 173.1 1763.5 106.0 1554.5 341.2 1596.2 309.3 1665.2 137.7 1559.5 349.2 1675.7 241.7 1621.7 192.4 1536.0 363.2 1571.3 295.9 1505.7 364.5 1597.7 251.9 1628.8 212.5 1513.4 413.0 1541.8 355.8 1584.1 282.1 1562.3 340.5 1576.3 291.2 1560.4 313.6 1642.6 207.6 1690.9 221.1 1622.5 278.2 1563.2 282.6 1701.9 209.2 1792.1 63.8 1504.1 386.4 1574.7 319.8 1584.2 274.4 1553.7 348.1 1718.0 141.4 1574.1 301.8 1722.9 133.8 1747.8 154.2 1678.3 252.2 1564.7 316.0 1661.5 180.3 1614.2 289.4 1667.9 240.4 1727.1 138.9 1667.8 174.2 1626.3 189.5 1642.3 198.5 1441.2 440.9 1695.3 145.9 1487.9 371.7 1651.4 193.8 1458.3 389.8 1596.9 261.3 1616.0 285.2 1568.3 388.7 1577.0 302.0 1681.3 157.3 1700.8 142.6 1559.5 340.2 1732.1 134.8 1513.1 386.4 1573.9 293.6 1732.2 197.6 1558.1 321.9 1663.8 244.2 1672.2 255.7 1648.9 188.4 1555.5 265.4 1683.9 223.4 1582.5 306.1 1665.1 231.7 1525.4 364.8 1603.4 310.4 1582.5 273.7 1631.6 215.6 1584.2 307.6 1554.1 325.7 1666.9 171.4 1647.6 201.2 1651.3 161.4 1598.9 255.8 1584.4 328.0 1677.8 160.8 1562.3 348.6 1611.8 196.9 1595.3 306.3 1633.4 192.8 1736.1 109.7 1655.0 150.2 1641.9 268.6 1737.8 173.3 1627.8 210.8 1620.6 284.1 1709.7 210.3 1604.7 308.5 1715.3 205.3 1550.9 343.2 1622.1 280.9 1646.8 250.5 1648.5 271.4 1626.1 271.2 1628.1 306.7 1507.9 368.8 1707.4 144.3 1608.9 313.8 1745.6 165.1 1767.0 107.7 1487.7 380.1 1586.5 325.9 1570.4 313.5 1659.0 145.9 1659.8 181.8 1685.0 231.4 1679.7 223.5 1641.5 212.1 1594.1 311.9 1615.7 221.7 1605.1 252.0 1568.0 328.8 1507.3 422.8 1575.0 321.8 1622.4 281.8 1661.9 234.8 1579.1 302.9 1591.1 306.2 1503.1 377.8 1751.0 133.9 1670.2 234.2 1575.3 301.5 1575.9 273.6 1663.1 177.5"/>
<path class="mk" d="M1627.7 287.6 1574.2 265.4 1705.6 222.1 1660.1 239.2 1526.5 367.9 1687.5 143.1 1543.8 335.7 1572.8 331.8 1620.6 221.1 1690.4 240.9 1546.8 350.2 1667.4 235.6 1428.3 474.2 1704.2 208.6 1622.9 291.7 1757.5 118.6 1647.0 200.2 1574.9 313.6 1501.1 393.8 1733.4 176.3 1690.2 219.2 1755.1 172.3 1636.2 263.2 1752.7 138.9 1600.1 239.8 1532.7 294.2 1528.2 299.4 1695.2 135.5 1570.3 265.9 1734.3 137.0 1553.0 330.2 1519.1 358.7 1740.5 173.6 1583.6 280.4 1510.4 373.9 1572.7 295.7 1615.8 237.4 1541.3 336.6 1637.1 207.3 1740.9 166.1 1604.3 315.3 1697.2 221.0 1462.8 404.3 1664.3 246.2 1578.3 302.6 1674.1 232.9 1723.7 214.9 1668.0 170.3 1570.6 294.1 1586.7 313.3 1520.5 362.0 1687.9 151.4 1565.8 309.1 1606.5 308.4 1670.0 165.7 1556.2 333.1 1624.5 222.6 1756.0 148.4 1606.5 304.4 1690.0 235.5 1703.8 148.2 1628.5 224.8 1581.2 284.4 1506.9 374.1 1708.9 211.8 1610.8 293.4 1724.7 213.0 1628.4 213.3 1648.3 250.4 1643.8 257.0 1783.4 125.1 1516.0 362.9 1600.8 303.2 1482.1 377.0 1741.2 169.6 1655.4 247.9 1640.2 254.3 1745.8 146.4 1648.3 261.8 1734.6 174.0 1737.4 183.2 1561.2 323.1 1475.5 369.6 1657.6 184.2 1610.7 216.9 1640.2 201.7 1717.5 205.9 1562.7 339.1 1725.7 137.9 1783.7 107.9 1747.2 149.2 1649.2 247.7 1777.0 75.2 1717.8 208.9 1771.4 85.1 1665.7 164.5 1632.0 292.9 1644.0 200.4 1571.7 294.4 1590.9 268.2 1511.6 342.9 1567.1 353.4 1637.5 206.5 1703.4 219.0 1524.9 357.1 1718.1 198.2 1733.9 100.6 1630.1 291.2 1637.2 202.5 1627.0 277.5 1508.5 375.7 1531.5 366.4 1602.5 237.6 1620.7 230.4 1681.2 152.8 1573.4 348.1 1577.6 315.1 1797.7 80.7 1485.4 405.4 1674.0 169.0 1639.2 260.6 1750.7 156.5 1669.0 240.5 1555.2 318.4 1535.0 331.1 1599.9 303.4 1672.7 157.0 1652.7 255.3 1735.7 205.8 1648.8 196.9 1660.5 178.6 1645.4 189.1 1634.0 218.8 1674.1 169.4 1564.3 357.5 1606.0 304.1 1612.6 295.6 1598.9 312.6 1553.8 341.3 1707.6 125.7 1740.0 176.9 1570.3 267.7 1652.9 246.2 1525.1 358.1 1547.7 331.6 1548.6 334.0 1653.9 185.0 1647.9 198.3 1781.9 102.7 1554.4 340.2 1746.9 155.5 1727.8 138.5 1554.6 329.4 1538.3 284.8 1650.1 264.4 1747.5 180.8 1585.0 342.8 1742.1 119.4 1748.8 158.6 1758.2 119.0 1641.1 256.9 1731.2 175.4 1766.7 158.1 1652.8 247.9 1646.0 204.6 1714.9 218.5 1639.9 196.0 1591.8 304.9 1599.2 261.6 1726.7 234.4 1655.9 189.2 1727.1 191.9 1641.0 206.6 1599.1 310.5 1669.9 246.7 1450.3 403.4 1679.4 226.9 1689.0 154.6 1465.4 378.9 1457.1 402.8 1612.0 241.7 1743.4 169.5 1667.7 149.1 1721.8 202.6 1786.4 112.6 1627.7 216.8 1673.6 226.8 1609.3 224.0 1611.1 240.7 1448.8 418.2 1782.1 122.6 1612.5 358.8 1581.9 305.2 1613.2 207.1 1624.7 214.4 1628.0 223.5 1617.4 290.7 1673.0 232.2 1742.0 142.8 1592.7 311.3 1674.9 232.0 1675.9 233.5 1583.2 320.4 1628.0 220.1 1567.0 309.5 1520.1 353.2 1704.8 147.6 1578.2 301.2 1739.5 134.8 1638.4 256.1 1693.7 212.4 1620.7 293.5 1566.2 294.1 1576.3 315.3 1494.1 387.0 1696.4 225.2 1597.0 303.5 1502.4 351.1 1690.5 230.5 1649.9 255.7 1677.3 165.9 1652.3 190.4 1595.3 262.7 1683.6 149.6 1697.9 137.6 1579.7 294.8 1780.3 101.8 1656.2 184.2 1664.6 239.7 1524.0 388.1 1665.0 242.6 1569.7 335.9 1589.6 315.6 1708.1 216.2 1553.4 364.0 1570.8 307.5 1611.6 244.0 1753.7 168.4 1599.1 313.7 1619.3 230.0 1501.7 382.7 1579.0 270.7 1785.3 85.1 1472.2 381.2 1607.8 238.5 1737.7 128.7 1763.0 71.0 1771.4 73.2 1577.8 293.9 1629.7 282.1 1672.6 172.1 1686.6 155.6 1680.2 107.7 1656.8 171.7 1536.6 377.6 1565.5 332.2 1484.6 367.3 1490.8 387.6 1763.9 65.7 1623.5 334.6 1688.9 235.7"/>
<path class="ax" d="M1371.0 9.4V512.3M1371.0 512.3H1862.0"/>
<path class="tk" d="M1367.5 424.0h3.5M1457.0 512.3v3.5M1367.5 293.0h3.5M1584.6 512.3v3.5M1367.5 162.0h3.5M1712.1 512.3v3.5M1367.5 31.0h3.5M1839.7 512.3v3.5"/>
<text class="tl" x="1362.8" y="434.8" text-anchor="end">0.8</text>
<text class="tl" x="1458.6" y="542.5" text-anchor="middle">0.8</text>
<text class="tl" x="1362.8" y="303.8" text-anchor="end">0.9</text>
<text class="tl" x="1586.2" y="542.5" text-anchor="middle">0.9</text>
<text class="tl" x="1362.8" y="172.8" text-anchor="end">1.0</text>
<text class="tl" x="1713.7" y="542.5" text-anchor="middle">1.0</text>
<text class="tl" x="1362.8" y="41.8" text-anchor="end">1.1</text>
<text class="tl" x="1841.3" y="542.5" text-anchor="middle">1.1</text>
<text class="ti" x="1378.9" y="574.9">Fitness from SC + 37°C replicate 2</text>
<text class="ti" transform="translate(1312.9 506.1) rotate(-90)">Fitness from SC + 37°C replicate 3</text>
<text class="st" x="1384.3" y="49.2" style="font-size:31px" textLength="328" lengthAdjust="spacingAndGlyphs"><tspan font-style="italic">r</tspan> = 0.95, <tspan font-style="italic">P</tspan> &lt; 2.2 × 10<tspan dy="-11" style="font-size:18.5px">-308</tspan></text>
<text class="lb" x="1249.9" y="33.5">c</text></g>
<g id="pd"><line class="dl" x1="119.3" y1="1132.8" x2="607.0" y2="635.5"/>
<path class="bk" d="M452.8 751.5h1v1h-1zM479.8 751.5h1v1h-1zM447.8 752.5h1v1h-1zM473.8 752.5h2v1h-2zM480.8 752.5h1v1h-1zM483.8 752.5h4v1h-4zM446.8 753.5h1v1h-1zM468.8 753.5h2v1h-2zM471.8 753.5h1v1h-1zM474.8 753.5h4v1h-4zM479.8 753.5h3v1h-3zM483.8 753.5h6v1h-6zM468.8 754.5h22v1h-22zM470.8 755.5h20v1h-20zM449.8 756.5h3v1h-3zM465.8 756.5h3v1h-3zM470.8 756.5h20v1h-20zM449.8 757.5h3v1h-3zM455.8 757.5h1v1h-1zM461.8 757.5h1v1h-1zM464.8 757.5h26v1h-26zM494.8 757.5h1v1h-1zM447.8 758.5h3v1h-3zM451.8 758.5h3v1h-3zM455.8 758.5h4v1h-4zM461.8 758.5h29v1h-29zM491.8 758.5h1v1h-1zM446.8 759.5h8v1h-8zM455.8 759.5h4v1h-4zM461.8 759.5h33v1h-33zM447.8 760.5h8v1h-8zM456.8 760.5h39v1h-39zM447.8 761.5h9v1h-9zM457.8 761.5h1v1h-1zM460.8 761.5h36v1h-36zM446.8 762.5h1v1h-1zM448.8 762.5h9v1h-9zM458.8 762.5h38v1h-38zM441.8 763.5h1v1h-1zM444.8 763.5h52v1h-52zM440.8 764.5h55v1h-55zM498.8 764.5h1v1h-1zM440.8 765.5h1v1h-1zM442.8 765.5h54v1h-54zM497.8 765.5h2v1h-2zM442.8 766.5h57v1h-57zM502.8 766.5h1v1h-1zM440.8 767.5h60v1h-60zM502.8 767.5h1v1h-1zM431.8 768.5h1v1h-1zM434.8 768.5h4v1h-4zM440.8 768.5h59v1h-59zM500.8 768.5h1v1h-1zM430.8 769.5h68v1h-68zM500.8 769.5h1v1h-1zM430.8 770.5h67v1h-67zM421.8 771.5h2v1h-2zM429.8 771.5h67v1h-67zM422.8 772.5h1v1h-1zM428.8 772.5h66v1h-66zM413.8 773.5h3v1h-3zM428.8 773.5h67v1h-67zM412.8 774.5h5v1h-5zM419.8 774.5h1v1h-1zM430.8 774.5h63v1h-63zM411.8 775.5h7v1h-7zM429.8 775.5h64v1h-64zM411.8 776.5h6v1h-6zM421.8 776.5h2v1h-2zM426.8 776.5h1v1h-1zM428.8 776.5h65v1h-65zM411.8 777.5h5v1h-5zM423.8 777.5h3v1h-3zM427.8 777.5h67v1h-67zM412.8 778.5h2v1h-2zM425.8 778.5h65v1h-65zM491.8 778.5h4v1h-4zM411.8 779.5h3v1h-3zM425.8 779.5h70v1h-70zM410.8 780.5h3v1h-3zM425.8 780.5h70v1h-70zM409.8 781.5h3v1h-3zM426.8 781.5h70v1h-70zM413.8 782.5h1v1h-1zM425.8 782.5h63v1h-63zM489.8 782.5h4v1h-4zM495.8 782.5h1v1h-1zM411.8 783.5h5v1h-5zM424.8 783.5h63v1h-63zM410.8 784.5h7v1h-7zM420.8 784.5h1v1h-1zM423.8 784.5h66v1h-66zM411.8 785.5h2v1h-2zM414.8 785.5h75v1h-75zM415.8 786.5h3v1h-3zM419.8 786.5h70v1h-70zM415.8 787.5h1v1h-1zM418.8 787.5h71v1h-71zM417.8 788.5h71v1h-71zM415.8 789.5h72v1h-72zM414.8 790.5h73v1h-73zM404.8 791.5h1v1h-1zM410.8 791.5h1v1h-1zM413.8 791.5h74v1h-74zM404.8 792.5h1v1h-1zM409.8 792.5h2v1h-2zM413.8 792.5h75v1h-75zM403.8 793.5h2v1h-2zM408.8 793.5h3v1h-3zM412.8 793.5h76v1h-76zM401.8 794.5h2v1h-2zM407.8 794.5h82v1h-82zM405.8 795.5h73v1h-73zM479.8 795.5h10v1h-10zM405.8 796.5h74v1h-74zM480.8 796.5h9v1h-9zM404.8 797.5h75v1h-75zM480.8 797.5h9v1h-9zM404.8 798.5h77v1h-77zM483.8 798.5h5v1h-5zM404.8 799.5h76v1h-76zM484.8 799.5h3v1h-3zM405.8 800.5h74v1h-74zM405.8 801.5h74v1h-74zM405.8 802.5h73v1h-73zM404.8 803.5h74v1h-74zM403.8 804.5h69v1h-69zM398.8 805.5h3v1h-3zM402.8 805.5h69v1h-69zM475.8 805.5h1v1h-1zM400.8 806.5h71v1h-71zM389.8 807.5h3v1h-3zM400.8 807.5h1v1h-1zM404.8 807.5h68v1h-68zM474.8 807.5h1v1h-1zM390.8 808.5h3v1h-3zM400.8 808.5h2v1h-2zM403.8 808.5h70v1h-70zM391.8 809.5h1v1h-1zM400.8 809.5h74v1h-74zM399.8 810.5h75v1h-75zM400.8 811.5h63v1h-63zM464.8 811.5h9v1h-9zM399.8 812.5h65v1h-65zM465.8 812.5h6v1h-6zM399.8 813.5h65v1h-65zM466.8 813.5h1v1h-1zM399.8 814.5h63v1h-63zM463.8 814.5h1v1h-1zM397.8 815.5h65v1h-65zM396.8 816.5h66v1h-66zM395.8 817.5h67v1h-67zM465.8 817.5h2v1h-2zM388.8 818.5h2v1h-2zM393.8 818.5h66v1h-66zM460.8 818.5h4v1h-4zM465.8 818.5h3v1h-3zM387.8 819.5h3v1h-3zM394.8 819.5h62v1h-62zM458.8 819.5h6v1h-6zM387.8 820.5h4v1h-4zM392.8 820.5h1v1h-1zM394.8 820.5h63v1h-63zM459.8 820.5h2v1h-2zM462.8 820.5h3v1h-3zM466.8 820.5h3v1h-3zM388.8 821.5h1v1h-1zM392.8 821.5h2v1h-2zM395.8 821.5h60v1h-60zM458.8 821.5h1v1h-1zM463.8 821.5h5v1h-5zM391.8 822.5h2v1h-2zM394.8 822.5h61v1h-61zM456.8 822.5h1v1h-1zM464.8 822.5h3v1h-3zM388.8 823.5h1v1h-1zM390.8 823.5h1v1h-1zM393.8 823.5h64v1h-64zM387.8 824.5h4v1h-4zM393.8 824.5h63v1h-63zM387.8 825.5h61v1h-61zM449.8 825.5h7v1h-7zM386.8 826.5h61v1h-61zM450.8 826.5h4v1h-4zM386.8 827.5h5v1h-5zM392.8 827.5h56v1h-56zM450.8 827.5h4v1h-4zM386.8 828.5h63v1h-63zM451.8 828.5h3v1h-3zM387.8 829.5h64v1h-64zM452.8 829.5h1v1h-1zM384.8 830.5h2v1h-2zM388.8 830.5h64v1h-64zM376.8 831.5h1v1h-1zM382.8 831.5h2v1h-2zM385.8 831.5h2v1h-2zM389.8 831.5h63v1h-63zM376.8 832.5h1v1h-1zM381.8 832.5h4v1h-4zM386.8 832.5h67v1h-67zM454.8 832.5h2v1h-2zM381.8 833.5h74v1h-74zM381.8 834.5h73v1h-73zM382.8 835.5h70v1h-70zM453.8 835.5h1v1h-1zM382.8 836.5h69v1h-69zM381.8 837.5h65v1h-65zM447.8 837.5h3v1h-3zM380.8 838.5h1v1h-1zM382.8 838.5h56v1h-56zM440.8 838.5h2v1h-2zM443.8 838.5h1v1h-1zM380.8 839.5h58v1h-58zM440.8 839.5h2v1h-2zM379.8 840.5h45v1h-45zM427.8 840.5h9v1h-9zM439.8 840.5h1v1h-1zM441.8 840.5h1v1h-1zM376.8 841.5h48v1h-48zM427.8 841.5h4v1h-4zM432.8 841.5h3v1h-3zM439.8 841.5h2v1h-2zM375.8 842.5h48v1h-48zM429.8 842.5h1v1h-1zM434.8 842.5h2v1h-2zM375.8 843.5h48v1h-48zM434.8 843.5h1v1h-1zM374.8 844.5h48v1h-48zM423.8 844.5h1v1h-1zM374.8 845.5h39v1h-39zM416.8 845.5h5v1h-5zM422.8 845.5h1v1h-1zM424.8 845.5h2v1h-2zM375.8 846.5h37v1h-37zM419.8 846.5h1v1h-1zM423.8 846.5h3v1h-3zM427.8 846.5h2v1h-2zM376.8 847.5h36v1h-36zM422.8 847.5h2v1h-2zM425.8 847.5h4v1h-4zM376.8 848.5h37v1h-37zM425.8 848.5h3v1h-3zM375.8 849.5h36v1h-36zM375.8 850.5h36v1h-36zM375.8 851.5h35v1h-35zM371.8 852.5h1v1h-1zM374.8 852.5h37v1h-37zM374.8 853.5h35v1h-35zM374.8 854.5h34v1h-34zM412.8 854.5h1v1h-1zM415.8 854.5h1v1h-1zM374.8 855.5h34v1h-34zM412.8 855.5h5v1h-5zM373.8 856.5h35v1h-35zM412.8 856.5h5v1h-5zM373.8 857.5h34v1h-34zM412.8 857.5h5v1h-5zM371.8 858.5h35v1h-35zM414.8 858.5h2v1h-2zM371.8 859.5h35v1h-35zM372.8 860.5h34v1h-34zM373.8 861.5h33v1h-33zM373.8 862.5h32v1h-32zM374.8 863.5h31v1h-31zM374.8 864.5h27v1h-27zM402.8 864.5h1v1h-1zM374.8 865.5h27v1h-27zM373.8 866.5h26v1h-26zM401.8 866.5h1v1h-1zM373.8 867.5h8v1h-8zM382.8 867.5h11v1h-11zM394.8 867.5h8v1h-8zM373.8 868.5h7v1h-7zM383.8 868.5h5v1h-5zM389.8 868.5h13v1h-13zM373.8 869.5h7v1h-7zM388.8 869.5h2v1h-2zM396.8 869.5h6v1h-6zM374.8 870.5h6v1h-6zM388.8 870.5h1v1h-1zM397.8 870.5h3v1h-3zM401.8 870.5h1v1h-1zM405.8 870.5h1v1h-1zM374.8 871.5h2v1h-2zM346.8 887.5h3v1h-3zM346.8 888.5h4v1h-4zM346.8 889.5h5v1h-5zM346.8 890.5h5v1h-5zM345.8 891.5h1v1h-1zM347.8 891.5h4v1h-4zM346.8 892.5h1v1h-1zM351.8 892.5h1v1h-1zM350.8 893.5h1v1h-1zM354.8 894.5h2v1h-2zM353.8 895.5h1v1h-1zM357.8 897.5h1v1h-1zM352.8 898.5h1v1h-1zM357.8 898.5h2v1h-2zM349.8 912.5h3v1h-3zM349.8 913.5h3v1h-3zM352.8 914.5h2v1h-2zM351.8 915.5h2v1h-2zM332.8 916.5h2v1h-2zM351.8 916.5h1v1h-1zM332.8 917.5h2v1h-2zM335.8 918.5h1v1h-1zM333.8 919.5h1v1h-1z"/>
<path class="mk" d="M375.6 833.0 400.6 814.0 363.0 914.3 468.5 811.1 478.3 806.9 391.3 817.9 492.9 814.9 488.4 784.5 351.7 911.5 499.2 714.5 501.7 749.8 444.3 763.4 372.3 884.7 465.9 820.9 405.4 862.5 352.2 901.2 423.1 848.1 400.5 811.2 411.0 793.8 347.8 890.7 444.9 835.8 451.2 759.7 373.4 886.5 308.9 926.4 384.5 832.6 292.6 893.6 392.6 871.0 443.0 837.3 340.5 925.8 465.8 820.1 493.2 776.0 398.9 870.8 330.1 921.3 351.6 913.8 397.1 804.8 425.6 781.2 350.1 960.4 430.8 840.4 384.1 867.9 305.1 968.5 354.0 917.7 498.4 766.1 465.3 758.6 393.0 808.7 422.4 776.9 478.4 804.3 295.9 916.7 500.1 766.7 501.0 725.7 417.4 919.3 353.6 837.2 487.8 796.7 367.1 835.2 465.9 748.2 510.4 720.1 451.9 834.4 454.1 844.7 417.7 887.1 349.1 886.8 359.6 896.2 350.4 899.5 448.1 830.6 349.1 906.9 329.1 918.4 359.5 843.7 486.4 751.8 396.8 875.6 408.7 851.1 330.4 932.6 477.9 800.9 391.4 820.4 324.7 903.1 492.1 752.5 428.0 778.3 424.2 873.9 429.0 774.9 370.7 885.5 386.7 866.8 416.1 764.9 450.7 752.6 371.8 871.4 445.7 758.8 388.0 827.3 458.4 762.0 480.5 802.0 485.6 755.1 412.7 789.6 403.5 791.7 456.9 835.5 390.9 803.5 539.3 717.1 532.9 717.1 361.4 840.5 330.4 938.2 474.7 838.7 407.0 790.1 442.1 850.2 351.4 881.8 473.4 801.6 400.5 792.2 409.3 871.1 463.4 744.7 429.7 779.1 494.1 771.2 427.1 848.3 436.5 838.3 393.5 829.4 369.5 844.5 402.5 863.3 474.8 809.3 421.8 854.9 385.5 833.8 497.2 781.1 381.8 877.5 417.1 784.3 314.8 956.4 468.5 750.2 494.5 775.9 364.1 852.7 348.1 899.4 512.3 698.3 502.9 704.3 451.4 837.2 506.5 724.0 406.4 796.4 497.9 756.7 345.2 879.5 460.0 818.0 392.7 820.4 406.2 854.8 494.8 761.3 397.9 880.5 432.1 774.0 460.1 760.4 487.5 785.7 519.8 740.7 467.8 845.7 382.1 827.3 435.0 852.9 487.6 793.9 402.4 792.4 473.7 807.0 394.4 875.6 383.8 841.5 305.4 974.5 324.5 915.2 411.6 781.7 339.0 892.1 452.7 825.4 423.5 780.3 491.1 846.5 414.9 776.8 406.7 801.2 383.1 841.3 371.3 913.7 474.2 801.8 357.6 912.5 377.9 870.7 405.3 873.8 400.2 870.1 465.2 823.3 504.8 753.9 443.0 767.5 484.8 798.0 494.4 789.4 453.0 741.0 490.0 754.7 352.2 914.3 386.5 919.6 468.7 823.7 402.0 793.1 425.8 779.9 266.4 990.4 493.9 759.8 420.8 861.5 460.9 819.7 489.7 779.1 377.6 870.1 386.9 906.4 475.3 831.3 446.8 766.3 489.0 779.7 429.4 849.7 506.0 767.8 394.7 887.2 436.6 855.2 433.0 768.0 434.5 768.0 414.7 857.3 488.0 782.0 433.7 839.3 433.8 841.8 347.3 890.5 450.3 858.2 374.8 880.0 462.6 822.4 402.3 889.5 459.7 758.2 480.7 795.9 540.4 734.4 487.7 755.8 361.1 899.3 492.1 758.8 331.8 896.0 378.2 851.5 343.7 923.3 375.4 861.1 280.5 948.0 361.2 768.7 440.7 838.8 438.2 843.4 327.3 885.0 458.4 831.8 408.6 793.4 425.4 857.1 328.1 869.4 254.7 970.0 411.8 795.3 333.2 914.6 413.6 787.2 388.3 830.5 410.6 781.1 277.7 976.0 481.8 754.0 475.4 749.6 425.9 846.9 333.5 919.6 501.8 782.8 367.9 916.1 303.2 943.5 399.3 868.4 369.4 928.5 456.0 751.6 487.0 785.5 523.3 776.4 292.6 970.0 470.2 756.3 451.3 829.1 390.5 828.0 428.6 838.9 446.6 753.1 477.9 752.2 343.0 926.4 439.0 762.9 370.7 842.5 430.2 770.9 399.1 886.8 491.7 780.2 388.3 910.4 382.4 833.6 416.6 859.0 406.0 857.1 403.9 860.8 359.8 920.3 378.8 848.7 373.5 854.1 380.6 833.3 393.4 870.0 436.0 846.3 470.5 813.1 376.1 831.9 492.7 779.6 395.4 874.8 397.3 818.0 369.1 853.4 297.1 911.7 487.2 801.9 451.7 839.6 495.5 770.3 486.3 806.5 460.0 829.6 478.7 799.4 422.6 769.6 495.5 764.3 414.5 786.5 435.7 849.7 561.2 704.8 405.2 862.6 461.7 813.2 312.2 897.7 443.0 757.8 296.4 940.5 374.3 849.5 380.7 817.2 409.0 848.8 354.2 931.7 453.3 759.3 446.0 752.3 496.1 753.0 415.4 786.7 319.4 906.8 439.7 840.7 398.5 808.7 449.2 765.1 349.6 889.0 272.9 976.5 351.6 915.8 507.8 748.0 374.8 842.9 331.2 906.3 472.3 752.4 378.3 844.8 322.6 902.3 334.2 917.5 464.1 748.5 382.0 816.9 419.0 844.1 449.7 756.5 379.5 824.9 454.1 822.3 366.1 855.5 414.2 776.9 390.6 821.9 397.3 870.2 253.5 894.3 346.9 935.1 372.4 850.5 361.6 905.4 564.8 690.1 435.4 862.7 401.7 798.4 412.5 846.1 362.1 832.2 404.7 872.3 385.4 912.4 378.4 848.7 474.9 755.8 381.8 906.3 353.7 921.0 547.2 711.8 479.0 754.8 508.1 764.1 490.9 761.3 362.3 859.5 377.4 866.8 574.2 718.2 453.9 831.3 453.6 832.2 313.0 934.4 414.5 859.2 319.8 928.1 426.5 758.1 485.5 797.1 419.7 784.2 406.5 799.0 396.3 820.2 392.8 810.0 494.0 783.5 389.7 882.5 394.7 824.5 343.5 931.1 378.5 814.7 377.4 869.2 391.4 810.7 352.0 936.8 514.2 753.9 490.3 757.1 499.7 771.0 386.9 869.3 348.6 946.2 434.4 844.6 401.3 808.4 376.1 867.2 418.5 786.4 386.2 808.2 401.0 803.7 428.1 841.4 229.3 1008.3 506.7 744.5 336.0 917.8 566.7 677.7 422.0 775.3 508.5 712.6 445.4 752.3 478.5 754.4 373.9 870.2 423.5 845.0 440.8 771.0 422.6 845.6 455.7 752.2 394.0 866.5 445.7 826.1 350.8 890.9 468.8 818.3 372.4 845.6 470.4 751.6 388.2 867.7 275.5 993.4 414.2 847.4 395.2 824.8 444.7 866.5 342.6 902.0 489.1 792.6 500.3 767.9 341.9 905.1 455.0 750.5 457.4 827.1 367.4 868.7 472.7 838.6 384.0 867.3"/>
<path class="mk" d="M349.8 891.8 305.1 959.4 385.4 833.9 377.5 865.7 484.1 797.9 382.3 810.4 496.7 790.9 464.8 760.6 508.3 785.5 389.8 868.2 493.7 800.9 378.6 805.1 463.9 810.8 378.4 892.7 424.0 860.5 424.2 769.6 386.8 882.2 396.7 822.2 358.6 934.1 480.3 794.7 390.0 826.9 403.5 871.3 383.9 838.5 504.0 768.7 385.9 832.2 435.2 855.2 416.1 843.5 461.2 817.6 376.1 902.7 427.1 840.6 422.1 841.5 392.6 784.1 400.9 816.5 361.8 873.6 339.1 894.6 387.8 818.2 419.7 843.8 441.2 836.0 376.2 900.6 480.7 810.1 466.9 816.4 389.1 822.9 488.2 790.7 370.1 880.8 409.2 796.1 477.4 801.4 505.8 803.4 414.3 856.5 495.3 771.8 424.1 786.1 487.9 800.5 339.0 920.2 328.1 949.6 372.7 897.1 461.5 814.2 378.5 844.1 487.3 803.7 398.6 817.8 368.3 848.5 416.7 855.9 492.7 775.1 509.3 694.6 455.4 759.8 380.0 841.9 419.5 778.3 457.4 824.0 444.6 766.4 441.4 842.6 414.0 775.6 415.7 777.0 340.0 903.7 400.8 809.5 468.4 810.7 484.8 792.5 452.4 754.6 408.3 803.3 449.8 757.7 529.9 734.4 445.4 847.8 433.1 861.2 466.2 759.6 406.6 806.1 390.5 833.8 494.7 703.2 313.5 937.7 374.4 895.0 407.8 776.7 459.8 764.0 471.8 811.4 461.0 815.0 474.6 750.1 378.1 841.2 370.5 855.1 376.7 862.8 461.4 761.5 410.9 850.2 433.5 772.5 572.3 695.7 313.3 889.3 417.5 843.4 422.3 774.2 358.3 912.4 406.8 877.7 432.8 772.5 368.5 878.6 451.1 834.6 373.2 856.2 294.1 932.1 457.2 820.5 360.5 840.2 495.7 778.8 407.8 854.0 389.6 894.1 423.0 786.9 449.4 762.4 398.6 883.1 455.4 817.9 493.3 781.6 354.9 897.0 528.6 768.4 343.9 894.3 366.1 892.2 497.3 731.4 400.6 866.3 412.0 851.6 440.4 762.9 354.1 892.9 530.3 725.0 561.8 702.1 490.5 727.6 361.2 884.7 395.7 826.1 425.3 865.7 479.8 796.7 379.9 893.0 377.1 866.8 453.4 825.4 461.2 818.3 429.2 779.9 524.1 729.9 497.1 751.8 486.4 819.4 417.5 852.0 348.0 890.4 496.8 765.8 473.9 755.6 434.2 844.5 394.3 866.1 353.1 913.5 281.2 970.0 390.0 868.3 352.9 896.0 318.7 912.9 333.0 922.9 404.6 797.3 434.4 760.9 385.7 808.2 475.6 757.4 467.3 828.2 447.3 762.5 456.1 817.8 315.6 922.3 493.0 763.9 435.1 840.4 388.2 781.0 335.0 932.6 375.5 892.4 306.2 949.6 471.7 810.7 340.2 950.0 419.1 789.3 418.3 857.3 272.9 981.8 345.1 908.6 403.8 812.7 450.9 828.0 483.6 754.7 450.0 760.2 504.7 790.7 429.8 846.5 404.7 869.5 412.5 795.3 459.2 825.1 488.9 816.4 509.4 762.9 415.8 775.5 424.9 850.5 446.9 838.1 494.6 781.4 408.6 797.6 403.2 863.9 431.8 856.0 469.5 757.3 388.6 827.8 503.0 793.5 511.2 794.8 381.2 872.9 437.3 837.0 382.8 834.8 390.1 833.1 250.2 977.1 425.3 774.6 292.3 991.6 497.4 785.7 381.5 874.1 462.9 831.7 448.8 827.9 486.9 796.5 484.1 738.9 447.9 837.3 474.6 813.6 505.6 813.2 468.2 757.5 402.1 803.6 381.2 868.8 387.5 820.4 379.3 794.7 374.1 832.1 520.8 769.3 412.8 783.2 488.7 716.3 445.2 827.9 421.5 851.9 451.3 763.4 461.3 832.7 394.7 868.2 398.0 816.3 393.2 806.7 422.3 842.6 487.7 755.6 417.5 774.2 443.7 842.4 466.6 819.9 433.1 773.9 428.2 844.9 579.8 720.1 365.1 851.3 375.9 882.5 378.3 845.2 347.3 903.4 382.8 837.1 387.9 887.7 497.0 759.6 358.0 902.1 412.3 783.1 455.6 834.0 469.6 808.4 418.2 848.0 462.8 752.7 411.3 779.5 465.7 812.4 360.0 899.3 492.3 791.1 441.4 771.0 370.6 859.6 390.0 874.9 336.2 911.1 446.3 745.3 372.6 862.5 513.1 774.6 423.6 838.8 481.5 748.9 373.1 861.9 443.5 837.6 412.8 849.9 356.5 881.3 388.3 824.6 420.7 770.8 568.6 671.3 411.3 856.1 420.3 784.2 443.0 766.4 483.5 748.3 478.6 738.6 492.6 785.8 390.4 878.9 487.4 788.2 414.4 864.6 385.6 816.6 485.7 755.8 472.2 808.6 462.8 743.7 310.7 948.0 375.1 858.7 201.8 1041.1 376.3 832.7 381.8 883.2 391.1 806.8 336.1 917.6 404.1 806.8 464.5 760.1 501.4 767.3 404.3 808.5 376.6 944.3 396.5 825.6 477.2 822.0 576.1 701.3 455.0 822.2 277.7 908.2 472.9 806.4 411.7 862.7 441.0 768.2 405.6 858.8 429.7 771.2 373.9 872.9 353.1 892.6 347.6 832.5 489.2 799.9 456.1 748.3 340.6 915.1 455.1 761.4 430.1 840.3 399.3 868.0 465.8 812.2 501.4 775.3 429.1 781.6 453.9 826.8 408.5 801.3 456.1 760.1 356.2 897.8 471.8 755.9 434.8 770.1 384.6 874.8 376.3 851.2"/>
<path class="ax" d="M119.3 633.0V1133.0M119.3 1133.0H607.0"/>
<path class="tk" d="M115.8 1045.9h3.5M204.5 1133.0v3.5M115.8 915.8h3.5M332.1 1133.0v3.5M115.8 785.7h3.5M459.7 1133.0v3.5M115.8 655.6h3.5M587.3 1133.0v3.5"/>
<text class="tl" x="111.1" y="1056.7" text-anchor="end">0.8</text>
<text class="tl" x="206.1" y="1163.2" text-anchor="middle">0.8</text>
<text class="tl" x="111.1" y="926.6" text-anchor="end">0.9</text>
<text class="tl" x="333.7" y="1163.2" text-anchor="middle">0.9</text>
<text class="tl" x="111.1" y="796.5" text-anchor="end">1.0</text>
<text class="tl" x="461.3" y="1163.2" text-anchor="middle">1.0</text>
<text class="tl" x="111.1" y="666.4" text-anchor="end">1.1</text>
<text class="tl" x="588.9" y="1163.2" text-anchor="middle">1.1</text>
<text class="ti" x="120.8" y="1203">Fitness from YPD + H<tspan dy="6.0" font-size="18.0">2</tspan><tspan dy="-6.0">O</tspan><tspan dy="6.0" font-size="18.0">2</tspan><tspan dy="-6.0"> </tspan> replicate 1</text>
<text class="ti" transform="translate(58 1155.2) rotate(-90)">Fitness from YPD + H<tspan dy="6.0" font-size="18.0">2</tspan><tspan dy="-6.0">O</tspan><tspan dy="6.0" font-size="18.0">2</tspan><tspan dy="-6.0"> </tspan> replicate 2</text>
<text class="st" x="140" y="674.2" style="font-size:31px" textLength="328" lengthAdjust="spacingAndGlyphs"><tspan font-style="italic">r</tspan> = 0.92, <tspan font-style="italic">P</tspan> &lt; 2.2 × 10<tspan dy="-11" style="font-size:18.5px">-308</tspan></text>
<text class="lb" x="1.5" y="640">d</text></g>
<g id="pe"><line class="dl" x1="746.0" y1="1130.3" x2="1233.0" y2="632.0"/>
<path class="bk" d="M1086.5 745.5h1v1h-1zM1085.5 746.5h4v1h-4zM1085.5 747.5h5v1h-5zM1081.5 748.5h10v1h-10zM1114.5 748.5h1v1h-1zM1082.5 749.5h9v1h-9zM1104.5 749.5h1v1h-1zM1108.5 749.5h5v1h-5zM1114.5 749.5h9v1h-9zM1083.5 750.5h3v1h-3zM1087.5 750.5h3v1h-3zM1100.5 750.5h1v1h-1zM1102.5 750.5h22v1h-22zM1085.5 751.5h6v1h-6zM1098.5 751.5h1v1h-1zM1102.5 751.5h1v1h-1zM1104.5 751.5h19v1h-19zM1084.5 752.5h7v1h-7zM1095.5 752.5h5v1h-5zM1103.5 752.5h20v1h-20zM1084.5 753.5h9v1h-9zM1094.5 753.5h7v1h-7zM1103.5 753.5h23v1h-23zM1085.5 754.5h43v1h-43zM1084.5 755.5h8v1h-8zM1093.5 755.5h10v1h-10zM1104.5 755.5h24v1h-24zM1083.5 756.5h42v1h-42zM1127.5 756.5h3v1h-3zM1075.5 757.5h4v1h-4zM1082.5 757.5h42v1h-42zM1127.5 757.5h1v1h-1zM1075.5 758.5h3v1h-3zM1079.5 758.5h2v1h-2zM1082.5 758.5h42v1h-42zM1126.5 758.5h1v1h-1zM1074.5 759.5h17v1h-17zM1092.5 759.5h30v1h-30zM1074.5 760.5h49v1h-49zM1073.5 761.5h51v1h-51zM1071.5 762.5h4v1h-4zM1076.5 762.5h48v1h-48zM1071.5 763.5h2v1h-2zM1074.5 763.5h44v1h-44zM1119.5 763.5h5v1h-5zM1067.5 764.5h2v1h-2zM1071.5 764.5h3v1h-3zM1075.5 764.5h42v1h-42zM1119.5 764.5h4v1h-4zM1067.5 765.5h50v1h-50zM1119.5 765.5h3v1h-3zM1067.5 766.5h49v1h-49zM1120.5 766.5h2v1h-2zM1065.5 767.5h1v1h-1zM1067.5 767.5h49v1h-49zM1055.5 768.5h1v1h-1zM1066.5 768.5h6v1h-6zM1073.5 768.5h46v1h-46zM1066.5 769.5h55v1h-55zM1058.5 770.5h1v1h-1zM1066.5 770.5h56v1h-56zM1055.5 771.5h2v1h-2zM1058.5 771.5h2v1h-2zM1065.5 771.5h47v1h-47zM1113.5 771.5h10v1h-10zM1057.5 772.5h2v1h-2zM1062.5 772.5h2v1h-2zM1066.5 772.5h49v1h-49zM1116.5 772.5h1v1h-1zM1119.5 772.5h4v1h-4zM1055.5 773.5h3v1h-3zM1060.5 773.5h1v1h-1zM1062.5 773.5h3v1h-3zM1066.5 773.5h48v1h-48zM1117.5 773.5h1v1h-1zM1119.5 773.5h1v1h-1zM1121.5 773.5h1v1h-1zM1056.5 774.5h2v1h-2zM1060.5 774.5h53v1h-53zM1118.5 774.5h3v1h-3zM1055.5 775.5h2v1h-2zM1060.5 775.5h50v1h-50zM1111.5 775.5h3v1h-3zM1119.5 775.5h1v1h-1zM1053.5 776.5h4v1h-4zM1060.5 776.5h53v1h-53zM1054.5 777.5h3v1h-3zM1058.5 777.5h1v1h-1zM1060.5 777.5h52v1h-52zM1121.5 777.5h1v1h-1zM1053.5 778.5h59v1h-59zM1118.5 778.5h1v1h-1zM1051.5 779.5h61v1h-61zM1117.5 779.5h5v1h-5zM1051.5 780.5h62v1h-62zM1118.5 780.5h3v1h-3zM1052.5 781.5h61v1h-61zM1117.5 781.5h3v1h-3zM1053.5 782.5h58v1h-58zM1114.5 782.5h2v1h-2zM1117.5 782.5h3v1h-3zM1050.5 783.5h1v1h-1zM1054.5 783.5h57v1h-57zM1115.5 783.5h5v1h-5zM1052.5 784.5h1v1h-1zM1056.5 784.5h54v1h-54zM1116.5 784.5h3v1h-3zM1052.5 785.5h57v1h-57zM1053.5 786.5h55v1h-55zM1115.5 786.5h1v1h-1zM1053.5 787.5h56v1h-56zM1117.5 787.5h2v1h-2zM1052.5 788.5h57v1h-57zM1051.5 789.5h59v1h-59zM1113.5 789.5h5v1h-5zM1050.5 790.5h60v1h-60zM1113.5 790.5h6v1h-6zM1049.5 791.5h61v1h-61zM1112.5 791.5h7v1h-7zM1046.5 792.5h1v1h-1zM1048.5 792.5h62v1h-62zM1113.5 792.5h1v1h-1zM1115.5 792.5h4v1h-4zM1035.5 793.5h2v1h-2zM1047.5 793.5h62v1h-62zM1035.5 794.5h4v1h-4zM1042.5 794.5h3v1h-3zM1046.5 794.5h62v1h-62zM1034.5 795.5h10v1h-10zM1045.5 795.5h61v1h-61zM1035.5 796.5h72v1h-72zM1036.5 797.5h67v1h-67zM1037.5 798.5h68v1h-68zM1036.5 799.5h4v1h-4zM1041.5 799.5h65v1h-65zM1038.5 800.5h1v1h-1zM1040.5 800.5h65v1h-65zM1039.5 801.5h64v1h-64zM1104.5 801.5h1v1h-1zM1038.5 802.5h65v1h-65zM1104.5 802.5h1v1h-1zM1037.5 803.5h62v1h-62zM1102.5 803.5h2v1h-2zM1033.5 804.5h65v1h-65zM1102.5 804.5h2v1h-2zM1032.5 805.5h65v1h-65zM1031.5 806.5h65v1h-65zM1031.5 807.5h65v1h-65zM1030.5 808.5h67v1h-67zM1031.5 809.5h66v1h-66zM1030.5 810.5h67v1h-67zM1029.5 811.5h68v1h-68zM1026.5 812.5h1v1h-1zM1028.5 812.5h70v1h-70zM1025.5 813.5h73v1h-73zM1025.5 814.5h72v1h-72zM1025.5 815.5h71v1h-71zM1024.5 816.5h68v1h-68zM1095.5 816.5h1v1h-1zM1025.5 817.5h67v1h-67zM1025.5 818.5h66v1h-66zM1026.5 819.5h64v1h-64zM1022.5 820.5h4v1h-4zM1027.5 820.5h63v1h-63zM1021.5 821.5h68v1h-68zM1020.5 822.5h67v1h-67zM1012.5 823.5h1v1h-1zM1020.5 823.5h60v1h-60zM1081.5 823.5h4v1h-4zM1012.5 824.5h2v1h-2zM1020.5 824.5h59v1h-59zM1014.5 825.5h1v1h-1zM1020.5 825.5h58v1h-58zM1080.5 825.5h1v1h-1zM1013.5 826.5h2v1h-2zM1020.5 826.5h54v1h-54zM1075.5 826.5h2v1h-2zM1009.5 827.5h1v1h-1zM1013.5 827.5h2v1h-2zM1019.5 827.5h53v1h-53zM1073.5 827.5h4v1h-4zM1012.5 828.5h2v1h-2zM1019.5 828.5h53v1h-53zM1012.5 829.5h3v1h-3zM1018.5 829.5h52v1h-52zM1071.5 829.5h2v1h-2zM1011.5 830.5h62v1h-62zM1010.5 831.5h63v1h-63zM1010.5 832.5h60v1h-60zM1071.5 832.5h1v1h-1zM1073.5 832.5h1v1h-1zM1009.5 833.5h53v1h-53zM1063.5 833.5h7v1h-7zM1009.5 834.5h1v1h-1zM1011.5 834.5h49v1h-49zM1064.5 834.5h3v1h-3zM1009.5 835.5h2v1h-2zM1013.5 835.5h45v1h-45zM1011.5 836.5h1v1h-1zM1013.5 836.5h1v1h-1zM1015.5 836.5h41v1h-41zM1060.5 836.5h1v1h-1zM1014.5 837.5h40v1h-40zM1056.5 837.5h2v1h-2zM1014.5 838.5h38v1h-38zM1056.5 838.5h1v1h-1zM1058.5 838.5h1v1h-1zM1009.5 839.5h1v1h-1zM1015.5 839.5h36v1h-36zM1056.5 839.5h4v1h-4zM1009.5 840.5h2v1h-2zM1016.5 840.5h36v1h-36zM1059.5 840.5h2v1h-2zM1005.5 841.5h1v1h-1zM1009.5 841.5h3v1h-3zM1015.5 841.5h37v1h-37zM1059.5 841.5h4v1h-4zM1009.5 842.5h43v1h-43zM1058.5 842.5h3v1h-3zM1006.5 843.5h6v1h-6zM1013.5 843.5h31v1h-31zM1045.5 843.5h7v1h-7zM1058.5 843.5h1v1h-1zM1006.5 844.5h5v1h-5zM1012.5 844.5h31v1h-31zM1047.5 844.5h5v1h-5zM1058.5 844.5h1v1h-1zM1004.5 845.5h1v1h-1zM1006.5 845.5h38v1h-38zM1047.5 845.5h6v1h-6zM1005.5 846.5h1v1h-1zM1008.5 846.5h33v1h-33zM1048.5 846.5h5v1h-5zM1004.5 847.5h37v1h-37zM1046.5 847.5h1v1h-1zM1048.5 847.5h5v1h-5zM1004.5 848.5h31v1h-31zM1037.5 848.5h4v1h-4zM1045.5 848.5h1v1h-1zM1047.5 848.5h5v1h-5zM1002.5 849.5h31v1h-31zM1039.5 849.5h2v1h-2zM1043.5 849.5h1v1h-1zM1046.5 849.5h1v1h-1zM1048.5 849.5h3v1h-3zM1001.5 850.5h31v1h-31zM1041.5 850.5h2v1h-2zM1044.5 850.5h1v1h-1zM1048.5 850.5h1v1h-1zM1000.5 851.5h31v1h-31zM1042.5 851.5h2v1h-2zM1000.5 852.5h30v1h-30zM1039.5 852.5h1v1h-1zM1041.5 852.5h1v1h-1zM997.5 853.5h2v1h-2zM1001.5 853.5h31v1h-31zM1039.5 853.5h2v1h-2zM995.5 854.5h3v1h-3zM1002.5 854.5h30v1h-30zM1038.5 854.5h3v1h-3zM992.5 855.5h1v1h-1zM994.5 855.5h1v1h-1zM997.5 855.5h2v1h-2zM1001.5 855.5h32v1h-32zM1034.5 855.5h1v1h-1zM990.5 856.5h5v1h-5zM998.5 856.5h35v1h-35zM992.5 857.5h4v1h-4zM999.5 857.5h31v1h-31zM1031.5 857.5h2v1h-2zM991.5 858.5h5v1h-5zM998.5 858.5h32v1h-32zM990.5 859.5h39v1h-39zM1030.5 859.5h1v1h-1zM990.5 860.5h37v1h-37zM990.5 861.5h37v1h-37zM991.5 862.5h28v1h-28zM1021.5 862.5h3v1h-3zM1025.5 862.5h1v1h-1zM986.5 863.5h3v1h-3zM990.5 863.5h28v1h-28zM985.5 864.5h32v1h-32zM984.5 865.5h32v1h-32zM983.5 866.5h32v1h-32zM1017.5 866.5h1v1h-1zM984.5 867.5h30v1h-30zM1015.5 867.5h3v1h-3zM985.5 868.5h28v1h-28zM1015.5 868.5h3v1h-3zM984.5 869.5h28v1h-28zM1015.5 869.5h1v1h-1zM984.5 870.5h3v1h-3zM989.5 870.5h22v1h-22zM1013.5 870.5h2v1h-2zM986.5 871.5h2v1h-2zM989.5 871.5h1v1h-1zM991.5 871.5h21v1h-21zM986.5 872.5h3v1h-3zM990.5 872.5h22v1h-22zM990.5 873.5h24v1h-24zM990.5 874.5h25v1h-25zM990.5 875.5h26v1h-26zM987.5 876.5h1v1h-1zM989.5 876.5h8v1h-8zM998.5 876.5h1v1h-1zM1000.5 876.5h15v1h-15zM987.5 877.5h10v1h-10zM1001.5 877.5h14v1h-14zM987.5 878.5h10v1h-10zM1001.5 878.5h14v1h-14zM988.5 879.5h8v1h-8zM1001.5 879.5h14v1h-14zM983.5 880.5h2v1h-2zM988.5 880.5h7v1h-7zM998.5 880.5h1v1h-1zM1001.5 880.5h13v1h-13zM979.5 881.5h1v1h-1zM986.5 881.5h7v1h-7zM1000.5 881.5h9v1h-9zM1010.5 881.5h3v1h-3zM974.5 882.5h1v1h-1zM979.5 882.5h3v1h-3zM985.5 882.5h9v1h-9zM1000.5 882.5h1v1h-1zM1002.5 882.5h1v1h-1zM1004.5 882.5h4v1h-4zM975.5 883.5h2v1h-2zM979.5 883.5h7v1h-7zM987.5 883.5h6v1h-6zM1004.5 883.5h2v1h-2zM975.5 884.5h11v1h-11zM987.5 884.5h6v1h-6zM976.5 885.5h2v1h-2zM979.5 885.5h1v1h-1zM981.5 885.5h3v1h-3zM988.5 885.5h3v1h-3zM1002.5 885.5h1v1h-1zM973.5 886.5h3v1h-3zM988.5 886.5h2v1h-2zM972.5 887.5h4v1h-4zM988.5 887.5h2v1h-2zM953.5 888.5h3v1h-3zM971.5 888.5h6v1h-6zM981.5 888.5h2v1h-2zM988.5 888.5h3v1h-3zM952.5 889.5h1v1h-1zM954.5 889.5h2v1h-2zM971.5 889.5h7v1h-7zM983.5 889.5h2v1h-2zM987.5 889.5h5v1h-5zM951.5 890.5h2v1h-2zM955.5 890.5h1v1h-1zM968.5 890.5h2v1h-2zM971.5 890.5h6v1h-6zM983.5 890.5h8v1h-8zM952.5 891.5h1v1h-1zM966.5 891.5h5v1h-5zM972.5 891.5h5v1h-5zM983.5 891.5h7v1h-7zM965.5 892.5h14v1h-14zM983.5 892.5h7v1h-7zM964.5 893.5h14v1h-14zM981.5 893.5h4v1h-4zM988.5 893.5h3v1h-3zM962.5 894.5h1v1h-1zM964.5 894.5h5v1h-5zM970.5 894.5h9v1h-9zM981.5 894.5h2v1h-2zM960.5 895.5h2v1h-2zM964.5 895.5h4v1h-4zM970.5 895.5h2v1h-2zM973.5 895.5h5v1h-5zM981.5 895.5h1v1h-1zM987.5 895.5h1v1h-1zM959.5 896.5h2v1h-2zM966.5 896.5h2v1h-2zM972.5 896.5h5v1h-5zM987.5 896.5h1v1h-1zM967.5 897.5h2v1h-2zM971.5 897.5h9v1h-9zM959.5 898.5h1v1h-1zM968.5 898.5h2v1h-2zM971.5 898.5h7v1h-7zM956.5 899.5h6v1h-6zM968.5 899.5h7v1h-7zM976.5 899.5h2v1h-2zM958.5 900.5h4v1h-4zM969.5 900.5h6v1h-6zM976.5 900.5h2v1h-2zM947.5 901.5h2v1h-2zM958.5 901.5h3v1h-3zM965.5 901.5h1v1h-1zM969.5 901.5h7v1h-7zM947.5 902.5h3v1h-3zM960.5 902.5h2v1h-2zM969.5 902.5h2v1h-2zM973.5 902.5h2v1h-2zM978.5 902.5h2v1h-2zM952.5 903.5h1v1h-1zM957.5 903.5h4v1h-4zM974.5 903.5h1v1h-1zM978.5 903.5h3v1h-3zM958.5 904.5h4v1h-4zM968.5 904.5h2v1h-2zM950.5 905.5h1v1h-1zM959.5 905.5h3v1h-3zM970.5 905.5h1v1h-1zM975.5 905.5h3v1h-3zM948.5 906.5h2v1h-2zM959.5 906.5h3v1h-3zM970.5 906.5h2v1h-2zM975.5 906.5h4v1h-4zM948.5 907.5h1v1h-1zM959.5 907.5h5v1h-5zM971.5 907.5h1v1h-1zM976.5 907.5h1v1h-1zM951.5 908.5h3v1h-3zM957.5 908.5h1v1h-1zM960.5 908.5h4v1h-4zM951.5 909.5h3v1h-3zM957.5 909.5h6v1h-6zM967.5 909.5h3v1h-3zM973.5 909.5h2v1h-2zM951.5 910.5h1v1h-1zM955.5 910.5h7v1h-7zM975.5 910.5h1v1h-1zM953.5 911.5h9v1h-9zM975.5 911.5h1v1h-1zM952.5 912.5h11v1h-11zM953.5 913.5h8v1h-8zM962.5 913.5h2v1h-2zM954.5 914.5h9v1h-9zM953.5 915.5h7v1h-7zM954.5 916.5h3v1h-3zM958.5 916.5h2v1h-2zM961.5 916.5h1v1h-1zM963.5 916.5h1v1h-1zM960.5 917.5h1v1h-1zM962.5 917.5h1v1h-1zM964.5 918.5h1v1h-1zM965.5 920.5h1v1h-1zM964.5 921.5h2v1h-2z"/>
<path class="mk" d="M986.7 892.1 1133.0 753.9 1124.0 716.0 1040.7 846.9 994.3 903.2 1063.1 767.1 1022.2 823.5 1139.2 749.5 1103.1 749.3 1077.5 756.3 1122.1 741.8 1112.9 779.2 979.3 906.2 1074.8 763.5 1052.2 787.3 1087.9 819.0 970.8 912.7 955.8 902.5 991.5 859.2 1028.4 854.1 907.0 948.7 1101.5 748.6 976.6 901.7 1123.1 755.0 987.9 876.3 1102.6 808.3 991.2 896.1 901.7 948.7 935.0 918.7 1044.1 851.3 1093.1 819.4 972.1 873.5 1007.3 835.3 962.9 897.8 1058.4 778.1 1049.1 764.6 959.7 899.1 983.0 886.2 1077.5 760.2 1031.2 803.8 1123.4 764.5 982.5 903.3 985.2 892.9 1038.9 802.3 967.2 893.3 1037.4 802.8 975.5 894.3 1017.9 811.7 964.9 886.3 1006.1 827.1 1024.9 804.8 1133.9 747.7 1023.8 878.3 1046.3 790.1 1074.2 752.7 1103.4 820.5 962.5 919.7 986.2 859.2 1110.2 776.5 1013.6 878.1 1099.4 808.8 1091.2 758.7 1051.2 849.5 1062.1 839.1 1023.6 785.7 1121.5 752.9 1046.0 865.6 1109.9 751.5 998.4 834.1 1109.3 752.8 956.2 910.9 969.2 900.9 1044.1 750.1 931.2 901.0 1112.2 778.4 1003.2 884.4 1144.5 795.2 1116.6 789.9 1078.0 856.4 1119.6 791.0 1007.2 882.0 1026.8 816.6 1031.9 812.3 925.9 941.4 1061.6 772.2 1032.6 889.9 1041.4 795.7 1026.3 821.5 1057.0 771.6 1102.9 797.5 1050.4 780.5 1111.8 817.1 1025.9 769.8 1090.2 819.4 1112.7 745.7 947.4 926.8 1089.1 831.4 1001.1 854.3 977.8 884.2 1113.5 810.8 1037.3 771.1 949.0 910.2 953.6 873.2 1054.0 834.7 1055.3 787.4 1066.3 776.0 1041.0 787.8 980.7 885.6 1040.7 799.2 1075.3 825.2 1033.9 855.9 1012.6 843.4 986.8 882.3 961.7 915.2 892.6 981.0 827.9 1068.1 1031.1 809.9 1058.2 852.2 979.3 873.4 937.3 963.8 1073.8 766.2 1045.5 785.9 1016.8 833.0 1098.4 754.6 1130.5 755.2 1073.2 769.1 1015.9 828.6 1029.1 852.9 1048.0 796.4 1060.4 861.4 1110.3 782.0 1101.8 805.5 1104.4 748.2 1115.3 771.4 1060.1 781.0 977.4 908.6 972.4 892.0 966.4 913.6 1001.6 845.4 1106.4 752.1 1120.4 772.5 1126.9 771.6 1097.0 819.8 1127.0 756.0 958.1 913.2 1060.8 833.9 940.6 905.4 1020.6 826.2 1005.0 844.4 962.9 902.8 991.0 864.1 1066.2 773.9 960.4 893.5 1032.2 856.6 1069.2 771.1 929.0 944.4 992.5 858.7 1014.3 896.8 957.7 902.9 1043.8 848.7 963.3 929.4 991.1 878.0 1004.7 887.7 1095.0 807.5 1084.1 720.3 1039.0 852.2 1084.3 826.7 1032.9 857.5 973.6 918.7 1025.9 861.4 1134.2 705.1 989.7 871.2 954.3 900.6 1023.5 812.1 1028.7 814.9 997.3 875.4 939.3 920.6 1140.5 786.7 1094.6 814.0 906.7 964.4 1008.7 846.9 1057.2 854.0 982.2 832.7 1035.7 795.3 1056.7 767.1 1051.3 838.2 1013.3 827.0 968.2 920.2 1086.6 754.7 955.4 910.9 998.5 857.0 1080.3 834.2 1077.9 746.4 992.4 853.9 960.8 902.8 1023.6 861.2 955.0 891.7 1118.4 727.6 1087.7 754.7 1067.6 758.1 1119.7 752.0 1022.1 862.6 948.5 915.8 1109.4 820.9 932.0 950.2 1074.9 765.3 1122.9 722.0 1025.9 820.0 932.6 911.4 1101.6 803.5 1062.8 766.6 1118.1 781.9 1139.8 744.5 973.7 871.3 972.3 904.0 987.6 869.9 1125.0 756.8 1195.0 665.0 1060.8 865.1 1064.9 844.3 1111.6 748.7 1002.4 942.1 1074.6 763.5 1058.2 783.0 993.1 865.3 1173.6 691.2 1017.5 884.5 1051.2 844.9 1013.8 875.1 987.2 865.5 903.2 973.9 1069.8 763.9 1074.8 759.2 1046.3 866.6 1122.5 775.3 1095.5 843.7 956.7 914.6 1052.0 850.7 1138.3 774.0 992.9 871.4 1013.7 846.2 1105.0 801.6 1050.6 843.0 991.2 896.9 1110.6 776.2 1008.5 842.5 965.7 898.6 964.7 892.5 1089.2 822.7 1055.0 779.1 935.5 909.7 1114.9 767.9 1100.3 800.7 1121.3 758.5 967.0 885.7 1083.5 748.0 1118.9 778.7 993.5 848.7 1096.0 747.0 1032.8 919.0 1040.0 788.9 1108.6 796.9 1106.3 794.3 963.8 878.1 1121.0 769.8 1056.2 835.9 1109.4 807.7 1034.0 807.9 1098.2 748.8 943.0 918.2 1023.4 826.0 942.6 936.9 991.0 897.2 1094.9 829.9 962.3 905.7 1032.9 803.9 1050.8 854.0 983.5 898.6 1068.2 836.3 968.9 912.7 1100.4 734.4 962.3 915.6 979.3 882.0 1013.1 843.1 1009.2 842.9 1127.3 757.6 1132.5 763.7 1131.2 729.5 987.9 917.6 982.9 834.3 954.2 889.0 1035.7 796.6 1117.3 708.8 1097.7 815.4 1109.1 788.6 1121.7 783.0 1121.2 726.9 1128.6 746.4 1012.6 877.1 1013.3 840.4 1009.1 834.5 1098.3 752.3 988.2 878.6 959.1 906.7 1105.3 753.9 1014.9 825.3 961.6 911.8 1012.7 834.1 939.3 923.3 1072.3 854.5 1100.3 756.3 1076.2 760.8 1053.7 855.8 998.9 880.9 1111.9 804.9 1045.5 843.6 1008.7 802.3 985.0 896.0 1011.1 882.2 1108.7 798.4 956.2 927.8 1079.3 826.6 1029.9 857.0 1094.8 741.9 1187.5 711.8 1111.2 774.6 1035.1 858.4 990.9 884.3 1041.3 856.7 992.3 827.4 1104.3 802.0 1050.2 842.6 1028.8 853.9 987.3 899.4 1033.5 811.2 1049.2 848.2 987.6 870.7 1021.6 829.5 983.1 879.4 972.1 899.5 1044.2 797.6 1083.8 831.8 1027.8 816.8 1114.5 792.2 1030.5 853.0 1013.7 874.0 960.9 910.2 1134.8 773.6 1096.3 808.0 1050.0 870.3 1120.8 780.8 1079.7 862.7 1065.7 833.5 1057.7 845.9 1096.0 748.3 1081.6 859.0 960.0 841.5 1112.7 750.5 1063.9 842.9 948.4 904.8 1082.1 820.9 1016.5 824.1 938.5 878.6 1111.6 711.8 991.6 881.9 1082.1 843.7 1093.2 757.5 1030.5 812.1 983.0 891.9 1011.0 831.1 1116.4 769.4 904.3 929.7 1006.7 826.9 949.0 894.6 1027.6 807.5 931.5 926.6 977.2 914.4 1048.6 843.0 974.0 896.5 1017.0 841.5 1052.1 778.4 987.4 866.3 1121.3 763.1 1044.3 791.7 938.8 933.1 984.4 894.2 1064.7 756.9 1121.3 761.0 1098.4 755.4 1055.1 836.6 977.4 909.3 1105.0 802.2 1033.4 922.5 1109.6 840.4 968.8 894.4 1069.6 830.8 1015.0 867.7 971.3 867.1 1125.8 748.6 1017.4 837.2"/>
<path class="mk" d="M950.6 908.0 955.9 922.0 1093.2 754.0 1004.3 888.9 1088.6 834.1 1124.7 750.7 969.3 907.0 1090.5 818.6 1198.0 655.5 1024.1 874.6 1101.9 799.2 1087.1 755.5 1056.3 784.6 1071.7 771.3 1042.1 854.4 1060.4 840.3 1057.6 841.1 1077.8 825.1 1064.0 836.0 987.8 884.9 1023.1 826.6 984.5 886.8 1108.5 787.9 1119.9 768.6 1050.9 838.3 1080.6 761.6 1115.4 770.8 959.1 915.7 1064.4 774.6 973.8 875.2 953.2 910.7 1123.6 779.3 1082.2 758.3 968.4 923.3 959.5 898.0 1041.9 851.6 1054.1 788.8 1028.1 816.4 1002.2 880.1 1003.5 890.7 1056.2 778.6 1052.5 866.2 1120.2 774.4 1126.4 790.2 1087.0 751.1 1003.6 853.1 992.0 870.3 965.3 924.7 1120.6 744.1 1014.8 877.0 1051.1 855.3 1020.3 822.4 948.0 904.5 1016.7 837.3 969.2 895.4 1078.1 738.6 1192.3 659.3 1017.1 866.0 876.3 952.3 996.1 882.1 961.0 886.3 973.7 929.0 1117.6 762.0 1089.5 759.1 898.2 931.6 1005.7 886.0 1019.6 782.7 1054.0 849.5 1009.9 874.1 985.7 912.4 1047.4 848.7 1100.2 806.1 977.4 896.3 1107.9 794.5 1037.7 784.2 1120.2 763.9 1123.0 771.1 1105.5 787.8 1095.3 813.8 974.0 886.0 996.1 880.9 1085.4 733.2 996.5 857.2 1089.2 747.8 1020.5 885.4 993.3 829.0 1038.6 845.8 1023.1 808.8 1058.4 843.2 1035.1 775.7 955.9 932.3 1018.8 797.9 1100.5 754.0 1036.9 797.5 966.7 920.1 1083.6 747.3 1119.9 789.7 1119.7 773.1 958.0 914.0 984.9 873.5 1102.2 754.3 1024.6 864.3 1006.5 880.8 942.5 916.2 1069.2 770.9 1025.4 799.8 1119.3 723.2 1016.3 819.8 1013.4 869.5 977.5 855.3 1112.4 771.3 951.5 910.4 855.3 967.4 1089.6 747.0 1057.7 774.2 1089.8 815.9 1114.6 750.8 1018.0 839.0 1003.9 908.1 970.0 907.8 1032.3 759.4 1019.2 796.0 959.3 902.3 989.0 947.1 1076.0 757.6 1059.9 781.2 1071.2 766.1 969.4 907.5 1002.0 882.9 973.2 901.8 1018.9 833.2 1009.7 836.5 1038.3 862.3 1012.0 827.3 1032.7 772.8 1097.1 812.0 1072.5 863.1 992.3 857.5 975.8 892.2 1118.0 750.3 1054.2 783.4 1116.2 766.8 1080.7 822.9 954.1 907.4 950.9 921.7 990.2 882.0 1113.1 771.5 960.7 908.7 1012.5 904.3 1085.5 823.3 1115.6 752.2 979.1 895.2 1023.6 822.8 1008.9 837.5 1080.5 733.8 992.6 875.8 953.1 890.2 1028.8 861.6 1088.3 749.2 997.3 858.4 983.2 883.3 1071.9 832.4 1055.2 774.1 1040.5 856.1 1108.3 751.0 1049.6 846.9 1070.7 833.8 1004.5 852.2 998.2 875.1 1004.8 880.6 1042.7 842.6 975.0 909.0 1094.7 813.0 989.9 890.7 1001.6 876.3 1027.0 880.6 1062.6 762.4 995.8 877.0 1010.7 845.0 998.3 857.0 983.5 825.8 1046.8 783.8 1057.4 768.8 1046.2 850.6 947.3 912.9 1130.0 759.9 974.1 913.1 1079.1 760.7 979.3 896.6 1005.9 851.5 1067.7 770.3 964.3 891.5 989.7 884.4 1020.6 806.0 1054.3 766.8 1039.3 803.0 1003.0 813.2 968.0 895.0 1110.7 789.9 1126.7 726.9 1016.7 870.0 1012.5 836.7 1062.0 855.0 974.9 899.7 991.3 826.5 1156.7 728.7 945.6 917.9 990.4 891.7 1033.8 849.3 981.8 891.9 1007.9 841.7 1039.7 873.8 1104.2 756.8 1025.1 804.2 970.5 893.3 1111.8 790.5 1113.2 743.1 1058.0 841.8 950.4 891.3 1039.2 794.7 1003.9 848.8 1064.7 831.9 965.3 894.8 1001.3 855.3 1009.4 870.9 1038.0 847.9 1062.9 775.7 918.8 918.7 992.2 886.6 1113.0 782.3 997.3 851.9 1024.2 874.3 1117.1 784.5 1114.3 784.6 983.2 851.7 1056.0 776.7 983.6 869.1 1019.2 870.3 972.5 890.4 986.5 906.0 960.7 908.3 1119.6 778.3 1095.3 758.0 1164.2 720.1 977.8 882.9 969.5 902.3 987.9 890.0 1008.4 881.0 1047.9 841.9 970.6 929.4 1044.0 861.8 1083.5 840.5 1017.7 808.1 964.5 920.3 1067.8 767.7 1103.9 798.4 1042.0 869.8 1038.4 848.0 1026.6 821.2 998.5 907.6 1043.6 798.1 1072.6 751.7 1036.8 798.3 967.4 907.7 975.2 886.4 1021.3 829.0 970.4 926.4 1133.2 837.8 1149.0 779.1 1039.0 869.0 1071.2 766.1 931.2 959.6 1115.5 775.0 1039.6 869.7 940.8 935.2 1000.1 873.9 1082.0 760.9 1111.3 782.1 1084.2 748.1 1026.5 823.9 983.2 887.4 1055.4 750.1 981.4 905.6 1166.8 666.8 1087.6 750.0 1067.9 839.8 1014.3 833.4 944.5 940.0 1106.5 784.6 1158.6 725.0 1075.0 829.8 1013.1 821.7 954.1 889.0 1126.1 752.8 1015.7 892.3 1026.9 858.3 1034.7 806.5 1061.8 778.8 975.1 890.2 946.9 903.2 951.2 924.1 1083.3 752.0 1044.1 844.2 1014.7 832.0 1000.8 850.5 1107.9 729.5 922.6 926.6 1000.1 834.4 1004.5 839.8 1017.9 866.1 1014.8 833.4 977.2 886.7 978.2 903.7 1022.1 812.2 1076.7 827.5 1057.3 834.7 1130.4 753.9 1123.2 765.2 1062.4 845.2 987.6 882.9 958.9 897.2 1004.0 852.4 1013.9 882.8 1116.4 793.4 1032.9 848.7 920.6 936.9 972.2 891.4 1058.3 883.1 1121.6 763.8 1105.4 810.9 988.9 890.6 1004.2 907.2 992.7 861.9 1058.9 885.7 1007.8 849.1 948.7 899.7 949.9 903.7 988.1 865.4 974.8 894.8 1042.5 799.0 879.5 897.2 1046.9 858.5 1051.6 843.8 952.0 900.6 1053.7 789.2 972.7 881.5 1060.9 774.2 1069.4 772.8 1005.8 804.5 988.6 875.3 1015.2 917.5 986.1 866.7 1039.8 798.1 1115.0 764.7 1104.6 757.1 939.6 954.7 1001.2 828.7 937.3 950.5 975.1 889.6 1080.1 834.3 1056.6 770.5 1088.3 752.5 1088.7 758.9 1038.6 846.1 968.4 900.2 957.3 887.6 955.3 914.9 1067.0 832.4 1042.2 864.2 1102.9 742.5 899.1 955.0 918.4 953.8 1112.0 824.3 1088.9 747.9 982.9 883.3 1050.9 860.0 963.1 905.5 1116.6 793.3 1075.6 768.8 1087.8 733.6 987.7 850.3 976.1 892.0 971.3 926.0 1058.2 836.6 1063.1 840.9 1004.6 826.2 1051.0 846.7 1090.6 753.1 1118.3 784.8 1050.7 783.4 974.4 922.9 1072.9 829.7 1037.9 854.7 1068.5 768.1 1118.1 772.1 1013.8 880.6 946.4 942.1 981.2 913.7 1084.7 822.7 1002.4 879.7"/>
<path class="mk" d="M880.8 956.2 985.0 877.7 981.2 923.7 1116.4 791.6 960.4 951.2 1010.7 790.0 1008.1 847.1 1073.5 827.1 1008.2 846.7 1071.5 831.9 1120.3 750.9 974.0 906.9 918.4 942.9 1080.9 825.8 1124.5 758.2 1142.8 707.0 1037.9 806.7 1090.3 753.9 1129.2 779.6 1122.9 760.8 1043.3 782.1 1127.4 700.2 1092.1 754.3 1076.2 851.9 1132.3 692.0 1086.3 758.1 1086.5 822.5 923.7 949.0 953.4 916.4 1199.8 667.6 1012.3 829.4 1038.5 794.7 942.5 903.2 992.2 881.4 976.7 875.4 1093.5 817.5 956.1 914.4 1050.3 781.3 995.3 827.1 979.4 898.5 974.2 895.6 934.8 939.5 986.3 869.1 963.8 853.6 1083.2 750.7 964.1 910.8 1118.7 786.2 1045.7 794.8 1139.8 712.6 991.6 888.5 1025.3 814.3 989.8 859.2 974.8 899.4 1016.2 873.3 1108.2 802.5 1117.6 781.7 1123.4 748.3 957.0 916.7 971.9 900.6 1029.5 862.3 1046.2 841.4 1022.4 860.4 1004.2 931.6 1047.9 792.7 995.4 875.6 1059.6 848.2 954.6 921.7 962.5 917.4 1103.3 796.4 980.4 901.4 936.7 929.4"/>
<path class="ax" d="M746.0 632.0V1131.0M746.0 1131.0H1233.6"/>
<path class="tk" d="M742.5 1043.0h3.5M831.3 1131.0v3.5M742.5 912.9h3.5M958.5 1131.0v3.5M742.5 782.7h3.5M1085.7 1131.0v3.5M742.5 652.5h3.5M1212.9 1131.0v3.5"/>
<text class="tl" x="737.8" y="1053.8" text-anchor="end">0.8</text>
<text class="tl" x="832.9" y="1161.2" text-anchor="middle">0.8</text>
<text class="tl" x="737.8" y="923.6" text-anchor="end">0.9</text>
<text class="tl" x="960.1" y="1161.2" text-anchor="middle">0.9</text>
<text class="tl" x="737.8" y="793.5" text-anchor="end">1.0</text>
<text class="tl" x="1087.3" y="1161.2" text-anchor="middle">1.0</text>
<text class="tl" x="737.8" y="663.3" text-anchor="end">1.1</text>
<text class="tl" x="1214.5" y="1161.2" text-anchor="middle">1.1</text>
<text class="ti" x="742.7" y="1203">Fitness from YPD + H<tspan dy="6.0" font-size="18.0">2</tspan><tspan dy="-6.0">O</tspan><tspan dy="6.0" font-size="18.0">2</tspan><tspan dy="-6.0"> </tspan> replicate 1</text>
<text class="ti" transform="translate(672.8 1141.4) rotate(-90)">Fitness from YPD + H<tspan dy="6.0" font-size="18.0">2</tspan><tspan dy="-6.0">O</tspan><tspan dy="6.0" font-size="18.0">2</tspan><tspan dy="-6.0"> </tspan> replicate 3</text>
<text class="st" x="765" y="670.2" style="font-size:31px" textLength="328" lengthAdjust="spacingAndGlyphs"><tspan font-style="italic">r</tspan> = 0.91, <tspan font-style="italic">P</tspan> &lt; 2.2 × 10<tspan dy="-11" style="font-size:18.5px">-308</tspan></text>
<text class="lb" x="617" y="640">e</text></g>
<g id="pf"><line class="dl" x1="1368.7" y1="1127.8" x2="1856.0" y2="629.2"/>
<path class="bk" d="M1725.2 744.5h1v1h-1zM1725.2 746.5h1v1h-1zM1719.2 747.5h2v1h-2zM1724.2 747.5h3v1h-3zM1717.2 748.5h3v1h-3zM1727.2 748.5h2v1h-2zM1716.2 749.5h5v1h-5zM1722.2 749.5h3v1h-3zM1726.2 749.5h1v1h-1zM1730.2 749.5h2v1h-2zM1716.2 750.5h10v1h-10zM1729.2 750.5h2v1h-2zM1710.2 751.5h1v1h-1zM1712.2 751.5h2v1h-2zM1715.2 751.5h17v1h-17zM1709.2 752.5h24v1h-24zM1708.2 753.5h25v1h-25zM1734.2 753.5h1v1h-1zM1709.2 754.5h25v1h-25zM1709.2 755.5h24v1h-24zM1709.2 756.5h26v1h-26zM1736.2 756.5h1v1h-1zM1738.2 756.5h1v1h-1zM1708.2 757.5h28v1h-28zM1737.2 757.5h1v1h-1zM1710.2 758.5h27v1h-27zM1704.2 759.5h3v1h-3zM1709.2 759.5h28v1h-28zM1703.2 760.5h31v1h-31zM1735.2 760.5h3v1h-3zM1701.2 761.5h34v1h-34zM1737.2 761.5h1v1h-1zM1694.2 762.5h3v1h-3zM1698.2 762.5h1v1h-1zM1700.2 762.5h36v1h-36zM1738.2 762.5h3v1h-3zM1693.2 763.5h44v1h-44zM1691.2 764.5h47v1h-47zM1690.2 765.5h51v1h-51zM1690.2 766.5h52v1h-52zM1687.2 767.5h1v1h-1zM1690.2 767.5h52v1h-52zM1690.2 768.5h53v1h-53zM1689.2 769.5h54v1h-54zM1690.2 770.5h40v1h-40zM1731.2 770.5h5v1h-5zM1737.2 770.5h5v1h-5zM1683.2 771.5h1v1h-1zM1689.2 771.5h41v1h-41zM1733.2 771.5h2v1h-2zM1737.2 771.5h4v1h-4zM1688.2 772.5h41v1h-41zM1741.2 772.5h2v1h-2zM1687.2 773.5h47v1h-47zM1739.2 773.5h2v1h-2zM1684.2 774.5h2v1h-2zM1687.2 774.5h46v1h-46zM1682.2 775.5h1v1h-1zM1684.2 775.5h2v1h-2zM1688.2 775.5h44v1h-44zM1733.2 775.5h1v1h-1zM1677.2 776.5h2v1h-2zM1681.2 776.5h1v1h-1zM1683.2 776.5h2v1h-2zM1687.2 776.5h46v1h-46zM1676.2 777.5h8v1h-8zM1685.2 777.5h46v1h-46zM1676.2 778.5h6v1h-6zM1686.2 778.5h45v1h-45zM1675.2 779.5h8v1h-8zM1685.2 779.5h47v1h-47zM1674.2 780.5h56v1h-56zM1674.2 781.5h1v1h-1zM1676.2 781.5h52v1h-52zM1730.2 781.5h3v1h-3zM1672.2 782.5h1v1h-1zM1676.2 782.5h52v1h-52zM1729.2 782.5h6v1h-6zM1672.2 783.5h1v1h-1zM1675.2 783.5h61v1h-61zM1672.2 784.5h1v1h-1zM1674.2 784.5h63v1h-63zM1671.2 785.5h1v1h-1zM1673.2 785.5h65v1h-65zM1670.2 786.5h1v1h-1zM1673.2 786.5h64v1h-64zM1672.2 787.5h64v1h-64zM1671.2 788.5h60v1h-60zM1732.2 788.5h5v1h-5zM1671.2 789.5h65v1h-65zM1670.2 790.5h62v1h-62zM1736.2 790.5h1v1h-1zM1669.2 791.5h63v1h-63zM1666.2 792.5h1v1h-1zM1669.2 792.5h63v1h-63zM1661.2 793.5h2v1h-2zM1668.2 793.5h63v1h-63zM1659.2 794.5h6v1h-6zM1667.2 794.5h63v1h-63zM1659.2 795.5h70v1h-70zM1659.2 796.5h67v1h-67zM1656.2 797.5h69v1h-69zM1656.2 798.5h68v1h-68zM1657.2 799.5h68v1h-68zM1657.2 800.5h66v1h-66zM1724.2 800.5h1v1h-1zM1655.2 801.5h68v1h-68zM1654.2 802.5h1v1h-1zM1656.2 802.5h1v1h-1zM1658.2 802.5h65v1h-65zM1653.2 803.5h70v1h-70zM1652.2 804.5h72v1h-72zM1651.2 805.5h74v1h-74zM1650.2 806.5h76v1h-76zM1650.2 807.5h76v1h-76zM1649.2 808.5h76v1h-76zM1649.2 809.5h74v1h-74zM1649.2 810.5h70v1h-70zM1647.2 811.5h73v1h-73zM1649.2 812.5h71v1h-71zM1647.2 813.5h1v1h-1zM1649.2 813.5h71v1h-71zM1645.2 814.5h1v1h-1zM1648.2 814.5h72v1h-72zM1641.2 815.5h1v1h-1zM1643.2 815.5h1v1h-1zM1645.2 815.5h64v1h-64zM1710.2 815.5h10v1h-10zM1642.2 816.5h2v1h-2zM1645.2 816.5h65v1h-65zM1711.2 816.5h4v1h-4zM1717.2 816.5h2v1h-2zM1644.2 817.5h6v1h-6zM1651.2 817.5h60v1h-60zM1712.2 817.5h3v1h-3zM1644.2 818.5h66v1h-66zM1713.2 818.5h1v1h-1zM1643.2 819.5h64v1h-64zM1708.2 819.5h1v1h-1zM1710.2 819.5h1v1h-1zM1712.2 819.5h1v1h-1zM1646.2 820.5h61v1h-61zM1639.2 821.5h1v1h-1zM1641.2 821.5h1v1h-1zM1645.2 821.5h61v1h-61zM1710.2 821.5h1v1h-1zM1712.2 821.5h1v1h-1zM1640.2 822.5h3v1h-3zM1645.2 822.5h60v1h-60zM1637.2 823.5h1v1h-1zM1639.2 823.5h66v1h-66zM1714.2 823.5h1v1h-1zM1636.2 824.5h64v1h-64zM1701.2 824.5h4v1h-4zM1706.2 824.5h1v1h-1zM1708.2 824.5h1v1h-1zM1712.2 824.5h2v1h-2zM1632.2 825.5h1v1h-1zM1636.2 825.5h70v1h-70zM1707.2 825.5h3v1h-3zM1711.2 825.5h1v1h-1zM1633.2 826.5h1v1h-1zM1635.2 826.5h2v1h-2zM1638.2 826.5h59v1h-59zM1698.2 826.5h5v1h-5zM1707.2 826.5h1v1h-1zM1709.2 826.5h3v1h-3zM1631.2 827.5h4v1h-4zM1639.2 827.5h58v1h-58zM1699.2 827.5h1v1h-1zM1710.2 827.5h1v1h-1zM1631.2 828.5h4v1h-4zM1640.2 828.5h2v1h-2zM1643.2 828.5h54v1h-54zM1629.2 829.5h4v1h-4zM1638.2 829.5h1v1h-1zM1642.2 829.5h56v1h-56zM1629.2 830.5h5v1h-5zM1639.2 830.5h1v1h-1zM1641.2 830.5h57v1h-57zM1630.2 831.5h5v1h-5zM1640.2 831.5h56v1h-56zM1631.2 832.5h5v1h-5zM1639.2 832.5h56v1h-56zM1629.2 833.5h6v1h-6zM1637.2 833.5h54v1h-54zM1694.2 833.5h2v1h-2zM1629.2 834.5h61v1h-61zM1693.2 834.5h2v1h-2zM1627.2 835.5h1v1h-1zM1630.2 835.5h48v1h-48zM1680.2 835.5h6v1h-6zM1693.2 835.5h2v1h-2zM1631.2 836.5h46v1h-46zM1681.2 836.5h5v1h-5zM1627.2 837.5h1v1h-1zM1631.2 837.5h45v1h-45zM1682.2 837.5h3v1h-3zM1630.2 838.5h42v1h-42zM1673.2 838.5h2v1h-2zM1681.2 838.5h2v1h-2zM1625.2 839.5h1v1h-1zM1630.2 839.5h1v1h-1zM1632.2 839.5h39v1h-39zM1679.2 839.5h1v1h-1zM1681.2 839.5h1v1h-1zM1631.2 840.5h38v1h-38zM1674.2 840.5h1v1h-1zM1681.2 840.5h1v1h-1zM1683.2 840.5h2v1h-2zM1630.2 841.5h40v1h-40zM1671.2 841.5h1v1h-1zM1675.2 841.5h2v1h-2zM1681.2 841.5h4v1h-4zM1626.2 842.5h46v1h-46zM1675.2 842.5h1v1h-1zM1679.2 842.5h1v1h-1zM1681.2 842.5h1v1h-1zM1683.2 842.5h3v1h-3zM1623.2 843.5h1v1h-1zM1626.2 843.5h45v1h-45zM1676.2 843.5h1v1h-1zM1680.2 843.5h1v1h-1zM1683.2 843.5h2v1h-2zM1624.2 844.5h45v1h-45zM1676.2 844.5h2v1h-2zM1681.2 844.5h1v1h-1zM1624.2 845.5h44v1h-44zM1621.2 846.5h1v1h-1zM1624.2 846.5h43v1h-43zM1683.2 846.5h1v1h-1zM1614.2 847.5h1v1h-1zM1620.2 847.5h2v1h-2zM1625.2 847.5h43v1h-43zM1612.2 848.5h2v1h-2zM1621.2 848.5h2v1h-2zM1625.2 848.5h44v1h-44zM1611.2 849.5h4v1h-4zM1617.2 849.5h1v1h-1zM1620.2 849.5h1v1h-1zM1622.2 849.5h48v1h-48zM1611.2 850.5h49v1h-49zM1664.2 850.5h6v1h-6zM1612.2 851.5h47v1h-47zM1665.2 851.5h5v1h-5zM1612.2 852.5h46v1h-46zM1665.2 852.5h5v1h-5zM1613.2 853.5h2v1h-2zM1616.2 853.5h42v1h-42zM1667.2 853.5h2v1h-2zM1616.2 854.5h41v1h-41zM1615.2 855.5h1v1h-1zM1617.2 855.5h40v1h-40zM1614.2 856.5h3v1h-3zM1618.2 856.5h38v1h-38zM1658.2 856.5h1v1h-1zM1613.2 857.5h5v1h-5zM1620.2 857.5h35v1h-35zM1657.2 857.5h1v1h-1zM1661.2 857.5h1v1h-1zM1613.2 858.5h6v1h-6zM1620.2 858.5h33v1h-33zM1656.2 858.5h1v1h-1zM1661.2 858.5h1v1h-1zM1614.2 859.5h34v1h-34zM1649.2 859.5h3v1h-3zM1658.2 859.5h3v1h-3zM1612.2 860.5h30v1h-30zM1644.2 860.5h6v1h-6zM1658.2 860.5h2v1h-2zM1613.2 861.5h5v1h-5zM1619.2 861.5h22v1h-22zM1647.2 861.5h3v1h-3zM1614.2 862.5h25v1h-25zM1641.2 862.5h1v1h-1zM1647.2 862.5h3v1h-3zM1614.2 863.5h24v1h-24zM1641.2 863.5h1v1h-1zM1643.2 863.5h1v1h-1zM1649.2 863.5h1v1h-1zM1615.2 864.5h25v1h-25zM1615.2 865.5h26v1h-26zM1615.2 866.5h27v1h-27zM1615.2 867.5h3v1h-3zM1619.2 867.5h23v1h-23zM1616.2 868.5h1v1h-1zM1618.2 868.5h25v1h-25zM1617.2 869.5h1v1h-1zM1619.2 869.5h19v1h-19zM1639.2 869.5h3v1h-3zM1620.2 870.5h15v1h-15zM1636.2 870.5h4v1h-4zM1612.2 871.5h1v1h-1zM1618.2 871.5h16v1h-16zM1635.2 871.5h1v1h-1zM1638.2 871.5h1v1h-1zM1610.2 872.5h3v1h-3zM1618.2 872.5h13v1h-13zM1632.2 872.5h3v1h-3zM1611.2 873.5h1v1h-1zM1613.2 873.5h1v1h-1zM1617.2 873.5h12v1h-12zM1611.2 874.5h1v1h-1zM1616.2 874.5h12v1h-12zM1618.2 875.5h9v1h-9zM1610.2 876.5h1v1h-1zM1618.2 876.5h6v1h-6zM1618.2 877.5h7v1h-7zM1623.2 878.5h1v1h-1zM1619.2 879.5h1v1h-1zM1613.2 880.5h2v1h-2zM1619.2 880.5h1v1h-1zM1613.2 881.5h1v1h-1zM1620.2 881.5h1v1h-1zM1614.2 882.5h3v1h-3zM1615.2 883.5h2v1h-2zM1611.2 884.5h1v1h-1zM1597.2 888.5h3v1h-3zM1594.2 889.5h3v1h-3zM1598.2 889.5h3v1h-3zM1593.2 890.5h10v1h-10zM1581.2 891.5h1v1h-1zM1593.2 891.5h10v1h-10zM1581.2 892.5h2v1h-2zM1593.2 892.5h8v1h-8zM1602.2 892.5h3v1h-3zM1581.2 893.5h6v1h-6zM1594.2 893.5h6v1h-6zM1604.2 893.5h2v1h-2zM1580.2 894.5h7v1h-7zM1590.2 894.5h1v1h-1zM1594.2 894.5h7v1h-7zM1579.2 895.5h9v1h-9zM1594.2 895.5h7v1h-7zM1611.2 895.5h2v1h-2zM1579.2 896.5h10v1h-10zM1593.2 896.5h6v1h-6zM1600.2 896.5h1v1h-1zM1582.2 897.5h5v1h-5zM1588.2 897.5h1v1h-1zM1591.2 897.5h8v1h-8zM1582.2 898.5h7v1h-7zM1590.2 898.5h9v1h-9zM1583.2 899.5h1v1h-1zM1592.2 899.5h5v1h-5zM1598.2 899.5h1v1h-1zM1594.2 900.5h3v1h-3zM1594.2 901.5h2v1h-2zM1573.2 903.5h2v1h-2zM1573.2 904.5h2v1h-2zM1573.2 905.5h2v1h-2zM1570.2 906.5h1v1h-1zM1571.2 907.5h1v1h-1zM1566.2 908.5h1v1h-1zM1572.2 908.5h1v1h-1zM1566.2 909.5h1v1h-1zM1589.2 910.5h1v1h-1zM1567.2 911.5h1v1h-1zM1570.2 911.5h1v1h-1zM1588.2 911.5h1v1h-1zM1590.2 911.5h1v1h-1zM1568.2 912.5h1v1h-1zM1570.2 912.5h1v1h-1zM1587.2 912.5h5v1h-5zM1567.2 913.5h1v1h-1zM1585.2 913.5h7v1h-7zM1565.2 914.5h2v1h-2zM1584.2 914.5h2v1h-2zM1587.2 914.5h5v1h-5zM1566.2 915.5h1v1h-1zM1587.2 915.5h4v1h-4zM1586.2 916.5h5v1h-5zM1567.2 917.5h1v1h-1zM1585.2 917.5h5v1h-5zM1586.2 918.5h5v1h-5zM1585.2 919.5h7v1h-7zM1572.2 920.5h2v1h-2zM1587.2 920.5h4v1h-4zM1570.2 921.5h5v1h-5zM1587.2 921.5h3v1h-3zM1569.2 922.5h7v1h-7zM1569.2 923.5h7v1h-7zM1587.2 923.5h1v1h-1zM1589.2 923.5h1v1h-1zM1569.2 924.5h8v1h-8zM1588.2 924.5h1v1h-1zM1570.2 925.5h5v1h-5zM1587.2 925.5h2v1h-2zM1571.2 926.5h1v1h-1zM1587.2 926.5h2v1h-2zM1561.2 933.5h2v1h-2zM1561.2 934.5h3v1h-3z"/>
<path class="mk" d="M1640.8 828.3 1687.4 868.3 1715.5 820.6 1656.0 806.1 1565.2 894.4 1589.2 935.0 1573.5 943.1 1687.1 781.1 1645.7 822.3 1540.9 903.6 1631.6 819.4 1739.7 752.6 1705.1 819.4 1726.4 741.9 1620.0 862.6 1594.3 944.4 1681.7 773.2 1640.9 814.6 1794.0 696.8 1707.7 760.4 1639.4 879.5 1580.5 894.9 1684.3 777.8 1578.5 884.2 1714.5 835.8 1605.0 908.9 1739.7 769.3 1646.9 784.5 1641.9 889.1 1734.7 772.0 1622.2 912.9 1618.1 830.3 1737.3 760.3 1614.3 859.0 1669.5 784.0 1564.1 925.8 1720.2 810.6 1659.8 790.4 1608.5 886.1 1639.8 861.1 1710.8 818.4 1635.3 830.3 1693.3 832.9 1733.4 789.8 1661.8 859.5 1722.1 803.1 1739.7 777.0 1646.6 863.6 1587.0 917.4 1577.4 860.4 1736.6 758.3 1665.7 764.1 1638.7 859.6 1691.5 834.3 1705.0 761.6 1625.8 837.2 1590.7 927.3 1633.3 875.5 1632.5 830.8 1618.2 833.0 1642.7 825.3 1697.4 766.4 1588.6 878.6 1683.5 835.0 1730.7 794.5 1732.8 751.5 1608.4 921.2 1663.2 795.9 1568.4 926.1 1672.4 791.4 1680.9 770.6 1598.7 908.4 1663.2 796.8 1715.0 741.9 1618.9 866.9 1642.4 866.3 1734.7 774.6 1626.5 796.7 1616.8 909.6 1584.1 886.5 1658.5 798.0 1728.3 784.4 1575.8 900.9 1646.9 874.5 1569.6 910.0 1762.0 727.6 1598.7 891.8 1660.2 862.7 1677.6 771.1 1622.7 879.5 1675.2 868.2 1794.7 666.8 1795.8 723.1 1662.0 876.7 1715.9 755.2 1614.6 851.4 1643.7 809.0 1583.2 896.5 1650.1 812.9 1548.9 923.1 1596.4 845.1 1711.2 838.0 1611.9 798.4 1719.3 808.9 1593.6 904.8 1711.5 757.7 1564.5 907.2 1618.1 862.6 1714.1 755.4 1693.2 751.6 1458.2 1066.5 1599.7 886.8 1693.3 767.3 1701.1 848.7 1558.0 931.8 1631.1 788.9 1583.8 938.4 1612.4 844.2 1549.3 962.3 1545.9 924.3 1604.9 895.0 1571.7 905.1 1735.8 722.0 1645.4 801.7 1624.6 841.5 1673.7 836.7 1578.3 901.5 1716.7 811.4 1649.5 858.5 1751.9 856.6 1742.2 737.0 1726.1 798.4 1585.8 925.9 1607.5 921.6 1721.5 733.1 1551.9 928.6 1718.3 751.9 1617.3 857.0 1714.0 828.0 1690.5 775.0 1575.2 937.1 1596.4 894.8 1706.9 827.0 1610.2 862.1 1620.2 874.7 1690.3 754.1 1612.7 805.1 1617.6 889.2 1730.3 777.1 1573.2 948.7 1580.5 908.9 1614.4 871.3 1676.8 861.7 1673.6 835.9 1618.4 874.9 1628.9 840.6 1693.7 766.1 1728.6 796.9 1587.5 915.9 1697.1 766.0 1623.2 802.0 1625.6 877.5 1600.4 914.8 1734.1 710.8 1573.6 935.3 1572.3 910.8 1583.0 921.0 1729.5 751.0 1800.7 660.0 1635.6 871.7 1664.8 859.4 1576.6 909.5 1549.0 941.4 1734.7 791.3 1570.5 919.4 1701.3 763.6 1728.4 782.1 1621.2 872.7 1630.3 881.0 1657.0 855.6 1618.3 902.4 1787.6 708.8 1675.8 839.3 1701.3 758.8 1616.9 858.4 1722.0 739.0 1669.9 783.7 1708.6 760.9 1741.1 770.9 1599.1 879.3 1655.7 851.7 1705.6 754.9 1576.7 934.3 1527.0 947.4 1701.2 752.7 1786.4 696.8 1658.9 849.7 1626.5 896.2 1638.7 833.4 1733.0 777.0 1725.3 748.2 1620.2 857.1 1622.2 848.4 1591.6 897.7 1646.7 817.1 1735.3 783.7 1678.4 842.0 1683.7 779.2 1580.0 925.8 1687.5 882.4 1584.7 891.9 1741.8 776.2 1584.9 892.3 1720.8 753.5 1639.9 823.8 1750.8 727.6 1550.5 949.0 1764.0 716.0 1620.8 923.2 1694.3 760.6 1560.4 936.4 1703.9 730.6 1732.1 753.1 1803.3 665.7 1709.9 827.7 1788.3 653.7 1683.2 774.9 1709.2 825.4 1740.8 765.5 1591.3 930.8 1729.5 778.2 1639.9 835.0 1598.9 916.4 1611.8 915.7 1627.7 846.0 1571.1 924.4 1686.5 773.5 1637.4 836.6 1595.6 899.2 1720.7 819.4 1583.9 907.8 1756.4 760.6 1673.7 844.4 1601.4 920.2 1589.1 926.3 1566.2 912.3 1730.4 777.5 1728.3 822.5 1603.3 896.0 1668.5 841.6 1682.8 836.1 1665.4 849.8 1683.2 764.9 1738.5 765.5 1724.4 745.1 1711.6 750.4 1653.8 806.8 1669.2 790.1 1742.0 774.1 1589.8 859.7 1662.7 847.9 1748.8 821.2 1575.0 922.8 1654.5 874.4 1696.2 833.1 1659.9 859.7 1703.3 763.0 1587.7 914.6 1686.7 881.6 1569.8 875.7 1589.2 913.7 1712.2 825.4 1618.2 861.4 1582.0 954.2 1605.6 913.2 1589.8 917.9 1745.7 804.9 1704.3 826.9 1560.6 941.9 1624.9 874.8 1621.7 878.6 1572.5 896.5 1649.2 858.5 1613.8 856.1 1625.5 873.6 1684.8 844.3 1704.1 744.7 1730.8 747.5 1632.8 833.7 1676.9 864.2 1594.2 881.9 1626.1 930.0 1702.4 826.9 1577.7 875.9 1659.1 858.3 1577.4 894.9 1608.2 875.2 1705.1 825.7 1597.5 894.4 1732.4 759.7 1689.6 831.9 1725.1 824.0 1728.3 746.0 1594.9 887.5 1570.8 944.9 1682.9 842.2 1656.8 886.1 1573.9 911.9 1615.8 851.1 1604.0 878.3 1640.7 824.5 1657.8 874.9 1659.8 803.0 1659.3 798.1 1664.3 770.9 1633.3 837.9 1694.3 839.1 1634.5 869.3 1590.9 914.3 1620.9 871.5 1628.4 833.2 1638.5 888.3 1597.9 903.6 1612.6 863.9 1707.4 816.6 1735.2 772.8 1694.7 756.3 1592.4 900.4 1552.7 943.7 1680.9 780.3 1586.2 896.9 1641.2 872.6 1663.5 788.7 1603.9 885.2 1573.6 947.6 1641.9 881.8 1588.6 896.8 1564.3 918.4 1620.6 866.7 1764.6 767.1 1735.9 785.0 1684.3 839.7 1626.6 914.8 1652.6 856.1 1812.0 658.2 1708.0 818.9 1734.5 787.3 1614.2 896.7 1597.9 902.6 1612.9 851.6 1658.4 849.1 1665.3 790.5 1586.0 877.3 1662.4 797.1 1650.1 861.4 1654.1 803.0 1578.3 931.9 1668.5 841.8 1577.7 869.5 1693.4 766.4 1599.7 891.9 1688.1 835.3 1641.1 830.9 1731.3 787.8 1564.4 885.4 1521.7 972.4 1685.1 840.8 1730.4 787.7 1568.8 951.9 1630.1 873.1 1774.4 705.1 1573.5 907.3 1614.1 928.4 1670.4 855.1 1627.1 824.4 1621.2 856.3 1668.7 852.3 1562.9 946.2 1606.3 882.4 1720.5 822.0 1591.1 893.0 1675.2 837.2 1678.8 780.0 1655.7 856.2 1507.8 979.2 1638.3 871.8 1728.5 773.9 1595.9 923.4 1698.0 764.3 1639.0 868.5 1580.2 939.9 1771.4 708.8 1506.6 941.4 1605.8 848.7 1603.3 859.9 1669.4 793.6 1674.5 763.3 1690.2 766.8 1678.4 780.4 1723.1 801.0"/>
<path class="mk" d="M1706.7 819.4 1676.2 774.6 1711.6 816.7 1604.4 891.1 1586.1 897.9 1665.4 780.1 1666.3 847.1 1628.6 780.7 1716.3 749.2 1574.2 887.2 1748.2 744.5 1706.5 761.0 1610.7 874.0 1662.0 779.5 1571.9 924.5 1605.6 891.5 1619.7 874.0 1633.9 831.0 1703.1 736.4 1671.5 868.0 1704.8 823.1 1729.6 782.2 1676.1 783.9 1725.3 809.0 1618.5 884.2 1657.0 805.1 1656.1 790.7 1630.5 810.0 1579.7 894.0 1585.4 908.4 1684.3 845.7 1585.1 912.4 1695.2 752.1 1678.3 842.6 1729.7 753.9 1582.7 930.5 1736.9 794.4 1568.6 933.1 1691.9 842.6 1664.7 847.7 1677.8 780.2 1650.7 805.8 1559.5 901.0 1616.0 860.1 1565.3 943.6 1626.4 842.7 1645.8 879.5 1563.3 908.9 1638.9 867.8 1682.8 766.0 1735.7 782.2 1562.7 932.9 1718.4 751.6 1689.9 769.5 1574.7 941.2 1649.6 878.4 1725.9 838.6 1604.0 939.8 1672.1 780.5 1735.8 756.6 1667.0 921.0 1588.4 918.5 1634.3 811.9 1647.0 819.8 1778.2 689.3 1629.9 837.5 1583.8 869.5 1722.2 807.5 1699.8 766.2 1662.9 793.0 1576.2 922.5 1611.4 854.0 1640.8 815.7 1723.8 749.4 1682.1 849.5 1637.8 823.7 1591.4 879.7 1689.8 772.7 1703.8 820.6 1642.7 867.5 1593.3 913.1 1755.7 664.6 1582.5 913.8 1732.8 785.3 1692.8 843.9 1561.1 952.7 1572.8 928.4 1601.4 898.6 1571.9 906.5 1760.2 720.1 1617.7 854.1 1607.4 918.8 1623.3 849.3 1673.6 745.8 1563.6 936.1 1612.6 896.9 1701.6 824.5 1723.4 802.7 1733.9 755.9 1631.6 829.0 1557.7 920.2 1719.6 829.3 1633.4 839.9 1603.5 876.9 1611.9 879.7 1569.3 935.1 1666.3 849.5 1739.0 750.9 1662.0 775.4 1595.9 925.5 1628.4 828.9 1587.8 896.1 1745.2 729.5 1627.2 887.2 1782.7 726.9 1623.4 847.4 1650.1 864.2 1710.2 752.3 1618.4 883.2 1643.0 860.8 1706.5 816.1 1587.7 925.1 1575.9 919.9 1567.7 897.7 1668.2 843.4 1555.8 933.2 1664.6 764.7 1675.0 879.3 1667.6 839.4 1595.6 882.1 1631.9 871.3 1548.4 923.3 1653.7 805.7 1650.7 813.1 1577.1 930.9 1712.5 822.2 1652.9 819.4 1640.6 889.8 1559.8 911.3 1659.5 798.1 1696.4 728.3 1589.7 907.9 1677.8 847.6 1720.8 739.6 1819.1 664.9 1603.6 939.3 1727.8 774.0 1681.7 841.9 1748.2 780.7 1638.6 864.3 1611.3 898.9 1700.8 824.8 1613.2 883.0 1641.0 866.9 1659.5 847.9 1755.3 725.0 1595.0 872.9 1730.7 767.5 1667.5 760.3 1634.3 869.8 1490.4 965.6 1652.7 809.0 1584.3 896.1 1707.6 745.2 1668.5 771.0 1722.7 807.5 1732.4 763.4 1649.6 874.8 1738.7 743.8 1690.6 772.5 1625.8 906.1 1725.0 829.6 1616.1 866.2 1617.6 843.0 1527.8 939.4 1573.3 899.6 1645.0 883.6 1516.1 953.2 1717.6 816.2 1714.6 816.5 1582.0 945.4 1634.3 879.1 1698.0 826.9 1677.9 781.9 1551.2 919.0 1643.2 827.8 1593.5 900.2 1607.7 868.8 1717.6 814.5 1577.1 896.5 1619.7 895.5 1568.2 938.8 1720.7 751.0 1714.1 814.8 1696.7 748.2 1680.9 837.1 1672.2 787.8 1646.4 861.0 1661.0 868.8 1644.0 816.6 1562.3 931.6 1557.3 917.8 1504.8 947.4 1692.4 772.4 1739.5 760.5 1667.7 853.6 1650.4 878.6 1721.8 801.2 1697.7 827.8 1687.8 766.9 1582.5 891.8 1644.9 857.7 1612.2 892.9 1644.1 824.3 1623.4 815.4 1696.9 826.5 1594.8 898.0 1600.4 853.3 1619.3 836.8 1536.9 893.3 1672.4 784.4 1656.0 799.3 1673.9 778.9 1629.7 870.6 1568.1 913.1 1618.6 867.8 1654.9 800.1 1730.6 840.4 1680.9 777.6 1693.3 837.5 1677.4 785.3 1520.5 950.8 1662.1 797.2 1546.7 948.7 1570.4 890.4 1656.1 881.2 1619.0 867.3 1728.8 775.8 1597.1 891.7 1596.1 920.2 1620.7 851.2 1576.8 948.7 1664.5 858.3 1568.6 917.2 1724.5 748.2 1547.4 938.4 1700.0 822.9 1590.4 941.6 1735.8 733.2 1646.0 817.5 1614.0 890.0 1742.7 770.3 1685.2 768.6 1737.8 788.1 1731.7 767.8 1620.2 896.0 1527.8 954.6 1630.9 827.8 1614.4 864.4 1597.8 896.0 1623.4 875.9 1668.6 848.8 1712.3 754.2 1739.1 817.1 1523.2 958.5 1726.4 807.8 1694.1 767.3 1649.2 812.3 1698.6 833.1 1641.0 795.6 1699.7 856.2 1584.7 901.0 1767.7 712.6 1672.3 842.8 1652.1 795.4 1651.2 862.3 1610.4 870.5 1633.4 839.2 1586.0 964.7 1635.4 898.9 1624.7 836.8 1598.1 894.0 1736.6 755.1 1573.7 923.9 1634.1 883.4 1722.7 752.5 1725.4 750.6 1605.8 897.4 1591.2 912.1 1576.6 927.3 1602.4 890.9 1640.6 798.9 1658.2 859.8 1731.5 749.6 1568.8 923.6 1589.1 940.2 1686.2 776.9 1728.7 782.0 1635.6 825.6 1593.8 889.8 1684.8 833.8 1679.0 845.6 1650.1 817.9 1718.6 747.0 1635.2 835.8 1619.9 863.1 1592.2 913.5 1613.1 920.6 1631.1 803.2 1648.3 814.5 1672.8 856.6 1625.4 844.2 1558.8 889.9 1647.4 818.8 1692.9 849.3 1711.7 818.9 1561.0 903.1 1576.9 905.2 1660.3 802.5 1558.8 942.9 1556.5 936.4 1634.3 824.1 1629.8 836.9 1614.8 886.4 1627.4 847.1 1639.2 869.2 1606.9 906.1 1588.6 920.6 1690.1 748.6 1698.3 763.7 1598.3 929.6 1572.7 952.0 1731.5 790.0 1634.1 826.0 1584.4 939.8 1551.5 931.0 1610.2 847.7 1737.4 769.9 1553.8 924.7 1753.3 779.8 1580.4 952.2 1564.4 935.0 1569.3 939.1 1678.6 853.1 1601.6 889.1 1687.0 848.1 1607.0 914.4 1591.6 892.0 1733.4 769.0 1620.9 844.1 1648.5 809.4 1725.9 813.9 1674.9 771.7 1615.9 844.5 1680.8 834.0 1694.8 830.6 1588.8 918.8 1695.4 837.1 1655.2 869.3 1565.9 894.5 1719.5 815.3 1585.0 947.7 1687.5 775.7 1631.5 832.5 1711.8 825.5 1683.7 835.0 1674.5 844.1 1716.7 829.8 1588.8 885.3 1741.0 771.1 1555.0 958.0 1737.0 764.4 1644.2 871.7 1609.3 903.4 1521.0 929.7 1674.3 851.8 1641.8 822.8 1597.1 866.9 1566.4 915.0 1784.6 690.1 1588.9 923.9 1611.5 876.1 1690.3 831.3 1577.8 905.7 1572.0 903.6 1638.1 874.3 1681.1 833.4 1717.0 814.6 1560.7 906.4 1593.7 891.8 1710.2 754.6 1589.8 901.0 1564.7 916.8 1616.7 880.7 1591.3 950.2 1650.7 865.0 1721.1 738.9 1614.2 848.6 1706.9 836.8 1615.2 860.0"/>
<path class="mk" d="M1743.7 762.5 1638.3 827.7 1611.5 895.8 1725.3 798.5 1597.4 891.3 1613.6 884.4 1602.6 852.9 1729.1 803.4 1733.8 785.1 1568.2 911.4 1529.3 899.5 1746.0 792.1 1619.6 853.5 1668.0 795.5 1597.6 896.3 1740.1 768.6 1644.0 792.5 1613.4 850.7 1640.6 834.1 1702.5 822.1 1640.9 818.5 1624.1 817.3 1667.8 851.5 1616.9 865.0 1631.9 874.2 1724.4 808.1 1635.4 882.2 1583.1 896.6 1598.1 901.3 1609.6 888.1 1741.9 764.6 1735.3 767.6 1755.6 763.9 1641.6 826.4 1673.2 787.7 1635.4 896.2 1709.4 748.2 1668.0 850.5 1667.8 793.4 1667.2 796.0 1658.4 801.0 1718.1 747.0 1603.2 867.3 1718.3 809.7 1605.4 875.8 1582.2 897.2 1606.7 856.6 1717.0 825.3 1728.9 793.3 1696.5 828.3 1692.1 758.4 1566.4 941.4 1613.2 875.0 1731.8 771.9 1618.9 829.1 1689.8 766.7 1713.3 755.3 1769.0 724.0 1602.4 838.7 1620.5 878.9 1728.6 794.2 1725.0 822.0 1707.5 762.9 1720.6 816.3 1538.4 953.8 1650.2 818.1 1735.1 760.8 1552.6 927.0 1655.6 853.6 1711.9 754.6 1564.4 863.5 1612.5 839.6 1572.3 924.4 1621.1 849.7 1676.7 861.3 1619.3 875.7 1661.7 848.1 1645.1 862.4 1736.4 788.7 1643.3 814.1 1717.2 749.2 1585.1 903.6 1676.2 787.1 1686.7 846.0 1588.6 918.5 1735.6 808.4 1598.7 871.5 1614.7 874.1 1612.1 882.5 1709.4 755.2 1634.1 836.1 1676.8 839.0 1723.7 797.3 1598.0 896.8"/>
<path class="ax" d="M1368.7 628.0V1129.0M1368.7 1129.0H1856.0"/>
<path class="tk" d="M1365.2 1041.0h3.5M1453.5 1129.0v3.5M1365.2 910.9h3.5M1580.7 1129.0v3.5M1365.2 780.8h3.5M1707.8 1129.0v3.5M1365.2 650.7h3.5M1835.0 1129.0v3.5"/>
<text class="tl" x="1360.5" y="1051.8" text-anchor="end">0.8</text>
<text class="tl" x="1455.1" y="1159.2" text-anchor="middle">0.8</text>
<text class="tl" x="1360.5" y="921.7" text-anchor="end">0.9</text>
<text class="tl" x="1582.3" y="1159.2" text-anchor="middle">0.9</text>
<text class="tl" x="1360.5" y="791.6" text-anchor="end">1.0</text>
<text class="tl" x="1709.4" y="1159.2" text-anchor="middle">1.0</text>
<text class="tl" x="1360.5" y="661.5" text-anchor="end">1.1</text>
<text class="tl" x="1836.6" y="1159.2" text-anchor="middle">1.1</text>
<text class="ti" x="1357.5" y="1203">Fitness from YPD + H<tspan dy="6.0" font-size="18.0">2</tspan><tspan dy="-6.0">O</tspan><tspan dy="6.0" font-size="18.0">2</tspan><tspan dy="-6.0"> </tspan> replicate 2</text>
<text class="ti" transform="translate(1304.5 1140.5) rotate(-90)">Fitness from YPD + H<tspan dy="6.0" font-size="18.0">2</tspan><tspan dy="-6.0">O</tspan><tspan dy="6.0" font-size="18.0">2</tspan><tspan dy="-6.0"> </tspan> replicate 3</text>
<text class="st" x="1387.3" y="674.1" style="font-size:31px" textLength="328" lengthAdjust="spacingAndGlyphs"><tspan font-style="italic">r</tspan> = 0.91, <tspan font-style="italic">P</tspan> &lt; 2.2 × 10<tspan dy="-11" style="font-size:18.5px">-308</tspan></text>
<text class="lb" x="1244.1" y="644.5">f</text></g>
<g id="pg"><line class="dl" x1="120.8" y1="1797.9" x2="609.3" y2="1297.0"/>
<path class="bk" d="M540.3 1355.5h3v1h-3zM539.3 1356.5h5v1h-5zM540.3 1357.5h3v1h-3zM510.3 1378.5h1v1h-1zM509.3 1379.5h4v1h-4zM507.3 1380.5h5v1h-5zM508.3 1381.5h4v1h-4zM508.3 1382.5h3v1h-3zM508.3 1383.5h3v1h-3zM510.3 1384.5h1v1h-1zM500.3 1386.5h2v1h-2zM504.3 1386.5h1v1h-1zM483.3 1387.5h1v1h-1zM499.3 1387.5h6v1h-6zM483.3 1388.5h2v1h-2zM500.3 1388.5h5v1h-5zM500.3 1389.5h5v1h-5zM501.3 1390.5h4v1h-4zM489.3 1391.5h1v1h-1zM491.3 1391.5h1v1h-1zM502.3 1391.5h5v1h-5zM474.3 1392.5h1v1h-1zM489.3 1392.5h3v1h-3zM493.3 1392.5h1v1h-1zM501.3 1392.5h6v1h-6zM473.3 1393.5h3v1h-3zM487.3 1393.5h8v1h-8zM497.3 1393.5h10v1h-10zM472.3 1394.5h5v1h-5zM487.3 1394.5h6v1h-6zM494.3 1394.5h14v1h-14zM471.3 1395.5h8v1h-8zM481.3 1395.5h4v1h-4zM486.3 1395.5h7v1h-7zM494.3 1395.5h14v1h-14zM471.3 1396.5h8v1h-8zM480.3 1396.5h28v1h-28zM471.3 1397.5h36v1h-36zM513.3 1397.5h3v1h-3zM473.3 1398.5h5v1h-5zM479.3 1398.5h28v1h-28zM511.3 1398.5h5v1h-5zM457.3 1399.5h1v1h-1zM474.3 1399.5h3v1h-3zM479.3 1399.5h37v1h-37zM456.3 1400.5h1v1h-1zM471.3 1400.5h1v1h-1zM480.3 1400.5h37v1h-37zM460.3 1401.5h1v1h-1zM481.3 1401.5h36v1h-36zM459.3 1402.5h2v1h-2zM485.3 1402.5h32v1h-32zM459.3 1403.5h2v1h-2zM484.3 1403.5h32v1h-32zM459.3 1404.5h1v1h-1zM483.3 1404.5h28v1h-28zM512.3 1404.5h1v1h-1zM482.3 1405.5h29v1h-29zM470.3 1406.5h1v1h-1zM479.3 1406.5h32v1h-32zM467.3 1407.5h2v1h-2zM470.3 1407.5h2v1h-2zM473.3 1407.5h3v1h-3zM477.3 1407.5h33v1h-33zM466.3 1408.5h45v1h-45zM465.3 1409.5h47v1h-47zM464.3 1410.5h48v1h-48zM513.3 1410.5h2v1h-2zM458.3 1411.5h1v1h-1zM464.3 1411.5h48v1h-48zM514.3 1411.5h2v1h-2zM458.3 1412.5h3v1h-3zM464.3 1412.5h48v1h-48zM514.3 1412.5h2v1h-2zM456.3 1413.5h1v1h-1zM458.3 1413.5h3v1h-3zM465.3 1413.5h47v1h-47zM455.3 1414.5h7v1h-7zM465.3 1414.5h46v1h-46zM452.3 1415.5h1v1h-1zM454.3 1415.5h7v1h-7zM466.3 1415.5h45v1h-45zM451.3 1416.5h12v1h-12zM464.3 1416.5h1v1h-1zM467.3 1416.5h44v1h-44zM451.3 1417.5h14v1h-14zM467.3 1417.5h43v1h-43zM451.3 1418.5h16v1h-16zM468.3 1418.5h42v1h-42zM451.3 1419.5h62v1h-62zM450.3 1420.5h63v1h-63zM450.3 1421.5h65v1h-65zM452.3 1422.5h55v1h-55zM508.3 1422.5h7v1h-7zM451.3 1423.5h1v1h-1zM453.3 1423.5h53v1h-53zM507.3 1423.5h8v1h-8zM443.3 1424.5h4v1h-4zM451.3 1424.5h4v1h-4zM456.3 1424.5h51v1h-51zM508.3 1424.5h5v1h-5zM442.3 1425.5h6v1h-6zM455.3 1425.5h52v1h-52zM510.3 1425.5h2v1h-2zM442.3 1426.5h4v1h-4zM447.3 1426.5h1v1h-1zM453.3 1426.5h53v1h-53zM442.3 1427.5h6v1h-6zM453.3 1427.5h54v1h-54zM441.3 1428.5h7v1h-7zM453.3 1428.5h52v1h-52zM506.3 1428.5h1v1h-1zM442.3 1429.5h4v1h-4zM449.3 1429.5h55v1h-55zM437.3 1430.5h1v1h-1zM444.3 1430.5h2v1h-2zM449.3 1430.5h54v1h-54zM436.3 1431.5h2v1h-2zM443.3 1431.5h1v1h-1zM447.3 1431.5h3v1h-3zM451.3 1431.5h52v1h-52zM435.3 1432.5h3v1h-3zM439.3 1432.5h7v1h-7zM447.3 1432.5h55v1h-55zM434.3 1433.5h67v1h-67zM435.3 1434.5h11v1h-11zM448.3 1434.5h54v1h-54zM434.3 1435.5h12v1h-12zM447.3 1435.5h56v1h-56zM436.3 1436.5h64v1h-64zM501.3 1436.5h2v1h-2zM434.3 1437.5h65v1h-65zM500.3 1437.5h3v1h-3zM435.3 1438.5h69v1h-69zM434.3 1439.5h63v1h-63zM498.3 1439.5h3v1h-3zM433.3 1440.5h64v1h-64zM498.3 1440.5h5v1h-5zM432.3 1441.5h65v1h-65zM498.3 1441.5h3v1h-3zM432.3 1442.5h66v1h-66zM499.3 1442.5h4v1h-4zM432.3 1443.5h64v1h-64zM497.3 1443.5h2v1h-2zM500.3 1443.5h2v1h-2zM426.3 1444.5h2v1h-2zM433.3 1444.5h62v1h-62zM426.3 1445.5h5v1h-5zM433.3 1445.5h59v1h-59zM494.3 1445.5h1v1h-1zM427.3 1446.5h5v1h-5zM433.3 1446.5h58v1h-58zM426.3 1447.5h62v1h-62zM489.3 1447.5h2v1h-2zM426.3 1448.5h63v1h-63zM490.3 1448.5h1v1h-1zM426.3 1449.5h63v1h-63zM416.3 1450.5h5v1h-5zM427.3 1450.5h62v1h-62zM415.3 1451.5h7v1h-7zM424.3 1451.5h1v1h-1zM428.3 1451.5h60v1h-60zM413.3 1452.5h12v1h-12zM427.3 1452.5h61v1h-61zM413.3 1453.5h10v1h-10zM424.3 1453.5h64v1h-64zM414.3 1454.5h9v1h-9zM425.3 1454.5h58v1h-58zM485.3 1454.5h3v1h-3zM489.3 1454.5h1v1h-1zM415.3 1455.5h4v1h-4zM421.3 1455.5h2v1h-2zM424.3 1455.5h58v1h-58zM484.3 1455.5h1v1h-1zM489.3 1455.5h3v1h-3zM416.3 1456.5h3v1h-3zM420.3 1456.5h1v1h-1zM422.3 1456.5h60v1h-60zM488.3 1456.5h3v1h-3zM421.3 1457.5h60v1h-60zM488.3 1457.5h3v1h-3zM418.3 1458.5h1v1h-1zM421.3 1458.5h60v1h-60zM416.3 1459.5h1v1h-1zM419.3 1459.5h1v1h-1zM421.3 1459.5h59v1h-59zM481.3 1459.5h1v1h-1zM415.3 1460.5h3v1h-3zM420.3 1460.5h62v1h-62zM414.3 1461.5h71v1h-71zM413.3 1462.5h72v1h-72zM404.3 1463.5h4v1h-4zM413.3 1463.5h73v1h-73zM404.3 1464.5h5v1h-5zM413.3 1464.5h72v1h-72zM403.3 1465.5h8v1h-8zM414.3 1465.5h63v1h-63zM478.3 1465.5h7v1h-7zM403.3 1466.5h9v1h-9zM414.3 1466.5h61v1h-61zM476.3 1466.5h9v1h-9zM403.3 1467.5h71v1h-71zM477.3 1467.5h7v1h-7zM404.3 1468.5h69v1h-69zM477.3 1468.5h1v1h-1zM480.3 1468.5h4v1h-4zM404.3 1469.5h5v1h-5zM410.3 1469.5h63v1h-63zM405.3 1470.5h69v1h-69zM480.3 1470.5h1v1h-1zM403.3 1471.5h4v1h-4zM408.3 1471.5h66v1h-66zM403.3 1472.5h70v1h-70zM402.3 1473.5h70v1h-70zM402.3 1474.5h70v1h-70zM402.3 1475.5h67v1h-67zM390.3 1476.5h1v1h-1zM392.3 1476.5h1v1h-1zM402.3 1476.5h67v1h-67zM402.3 1477.5h66v1h-66zM388.3 1478.5h2v1h-2zM392.3 1478.5h1v1h-1zM401.3 1478.5h67v1h-67zM388.3 1479.5h4v1h-4zM401.3 1479.5h66v1h-66zM388.3 1480.5h5v1h-5zM394.3 1480.5h3v1h-3zM400.3 1480.5h68v1h-68zM387.3 1481.5h7v1h-7zM395.3 1481.5h72v1h-72zM387.3 1482.5h9v1h-9zM397.3 1482.5h69v1h-69zM387.3 1483.5h78v1h-78zM387.3 1484.5h77v1h-77zM388.3 1485.5h67v1h-67zM456.3 1485.5h7v1h-7zM379.3 1486.5h3v1h-3zM387.3 1486.5h67v1h-67zM455.3 1486.5h4v1h-4zM388.3 1487.5h65v1h-65zM455.3 1487.5h4v1h-4zM382.3 1488.5h2v1h-2zM388.3 1488.5h62v1h-62zM387.3 1489.5h63v1h-63zM383.3 1490.5h1v1h-1zM385.3 1490.5h64v1h-64zM384.3 1491.5h65v1h-65zM383.3 1492.5h58v1h-58zM442.3 1492.5h6v1h-6zM384.3 1493.5h55v1h-55zM443.3 1493.5h4v1h-4zM383.3 1494.5h57v1h-57zM444.3 1494.5h2v1h-2zM384.3 1495.5h56v1h-56zM383.3 1496.5h56v1h-56zM440.3 1496.5h1v1h-1zM375.3 1497.5h1v1h-1zM383.3 1497.5h56v1h-56zM447.3 1497.5h1v1h-1zM375.3 1498.5h2v1h-2zM382.3 1498.5h49v1h-49zM433.3 1498.5h6v1h-6zM446.3 1498.5h2v1h-2zM450.3 1498.5h1v1h-1zM374.3 1499.5h7v1h-7zM382.3 1499.5h42v1h-42zM428.3 1499.5h3v1h-3zM432.3 1499.5h3v1h-3zM436.3 1499.5h1v1h-1zM438.3 1499.5h1v1h-1zM447.3 1499.5h5v1h-5zM375.3 1500.5h4v1h-4zM380.3 1500.5h1v1h-1zM382.3 1500.5h40v1h-40zM431.3 1500.5h2v1h-2zM443.3 1500.5h2v1h-2zM447.3 1500.5h7v1h-7zM376.3 1501.5h5v1h-5zM382.3 1501.5h39v1h-39zM429.3 1501.5h1v1h-1zM445.3 1501.5h1v1h-1zM448.3 1501.5h6v1h-6zM358.3 1502.5h1v1h-1zM375.3 1502.5h1v1h-1zM377.3 1502.5h44v1h-44zM435.3 1502.5h2v1h-2zM450.3 1502.5h1v1h-1zM452.3 1502.5h2v1h-2zM373.3 1503.5h49v1h-49zM436.3 1503.5h2v1h-2zM445.3 1503.5h1v1h-1zM451.3 1503.5h2v1h-2zM373.3 1504.5h51v1h-51zM371.3 1505.5h12v1h-12zM386.3 1505.5h29v1h-29zM416.3 1505.5h8v1h-8zM371.3 1506.5h11v1h-11zM385.3 1506.5h29v1h-29zM416.3 1506.5h7v1h-7zM372.3 1507.5h10v1h-10zM383.3 1507.5h1v1h-1zM386.3 1507.5h13v1h-13zM400.3 1507.5h2v1h-2zM403.3 1507.5h10v1h-10zM418.3 1507.5h5v1h-5zM373.3 1508.5h8v1h-8zM382.3 1508.5h1v1h-1zM385.3 1508.5h28v1h-28zM420.3 1508.5h1v1h-1zM373.3 1509.5h7v1h-7zM384.3 1509.5h15v1h-15zM400.3 1509.5h1v1h-1zM402.3 1509.5h10v1h-10zM372.3 1510.5h9v1h-9zM383.3 1510.5h3v1h-3zM387.3 1510.5h2v1h-2zM392.3 1510.5h7v1h-7zM403.3 1510.5h1v1h-1zM405.3 1510.5h1v1h-1zM375.3 1511.5h7v1h-7zM383.3 1511.5h3v1h-3zM387.3 1511.5h2v1h-2zM391.3 1511.5h7v1h-7zM415.3 1511.5h2v1h-2zM375.3 1512.5h14v1h-14zM392.3 1512.5h1v1h-1zM394.3 1512.5h3v1h-3zM402.3 1512.5h1v1h-1zM416.3 1512.5h1v1h-1zM373.3 1513.5h8v1h-8zM385.3 1513.5h4v1h-4zM391.3 1513.5h1v1h-1zM393.3 1513.5h3v1h-3zM363.3 1514.5h5v1h-5zM372.3 1514.5h9v1h-9zM385.3 1514.5h3v1h-3zM390.3 1514.5h5v1h-5zM363.3 1515.5h5v1h-5zM375.3 1515.5h5v1h-5zM384.3 1515.5h2v1h-2zM391.3 1515.5h5v1h-5zM364.3 1516.5h3v1h-3zM374.3 1516.5h5v1h-5zM380.3 1516.5h1v1h-1zM390.3 1516.5h1v1h-1zM392.3 1516.5h1v1h-1zM394.3 1516.5h1v1h-1zM364.3 1517.5h4v1h-4zM373.3 1517.5h8v1h-8zM391.3 1517.5h1v1h-1zM364.3 1518.5h5v1h-5zM373.3 1518.5h7v1h-7zM364.3 1519.5h5v1h-5zM373.3 1519.5h1v1h-1zM376.3 1519.5h2v1h-2zM364.3 1520.5h5v1h-5zM377.3 1520.5h2v1h-2zM345.3 1521.5h1v1h-1zM364.3 1521.5h3v1h-3zM354.3 1522.5h2v1h-2zM364.3 1522.5h3v1h-3zM354.3 1523.5h3v1h-3zM351.3 1524.5h7v1h-7zM351.3 1525.5h6v1h-6zM340.3 1526.5h1v1h-1zM351.3 1526.5h7v1h-7zM338.3 1527.5h5v1h-5zM351.3 1527.5h6v1h-6zM338.3 1528.5h7v1h-7zM349.3 1528.5h1v1h-1zM351.3 1528.5h6v1h-6zM338.3 1529.5h7v1h-7zM351.3 1529.5h6v1h-6zM339.3 1530.5h5v1h-5zM351.3 1530.5h9v1h-9zM340.3 1531.5h3v1h-3zM353.3 1531.5h2v1h-2zM356.3 1531.5h4v1h-4zM370.3 1531.5h1v1h-1zM340.3 1532.5h2v1h-2zM353.3 1532.5h11v1h-11zM372.3 1532.5h1v1h-1zM354.3 1533.5h10v1h-10zM355.3 1534.5h9v1h-9zM318.3 1535.5h1v1h-1zM357.3 1535.5h7v1h-7zM319.3 1536.5h1v1h-1zM358.3 1536.5h6v1h-6zM318.3 1537.5h3v1h-3zM343.3 1537.5h1v1h-1zM361.3 1537.5h4v1h-4zM317.3 1538.5h4v1h-4zM341.3 1538.5h4v1h-4zM361.3 1538.5h3v1h-3zM317.3 1539.5h4v1h-4zM339.3 1539.5h7v1h-7zM317.3 1540.5h1v1h-1zM319.3 1540.5h1v1h-1zM334.3 1540.5h12v1h-12zM318.3 1541.5h2v1h-2zM332.3 1541.5h14v1h-14zM319.3 1542.5h2v1h-2zM330.3 1542.5h16v1h-16zM317.3 1543.5h1v1h-1zM329.3 1543.5h1v1h-1zM331.3 1543.5h1v1h-1zM333.3 1543.5h12v1h-12zM318.3 1544.5h2v1h-2zM327.3 1544.5h1v1h-1zM330.3 1544.5h15v1h-15zM349.3 1544.5h1v1h-1zM321.3 1545.5h1v1h-1zM327.3 1545.5h1v1h-1zM329.3 1545.5h5v1h-5zM336.3 1545.5h9v1h-9zM348.3 1545.5h3v1h-3zM320.3 1546.5h1v1h-1zM322.3 1546.5h1v1h-1zM324.3 1546.5h3v1h-3zM328.3 1546.5h3v1h-3zM332.3 1546.5h2v1h-2zM336.3 1546.5h7v1h-7zM347.3 1546.5h5v1h-5zM304.3 1547.5h1v1h-1zM323.3 1547.5h4v1h-4zM328.3 1547.5h5v1h-5zM337.3 1547.5h6v1h-6zM350.3 1547.5h1v1h-1zM322.3 1548.5h5v1h-5zM328.3 1548.5h3v1h-3zM338.3 1548.5h3v1h-3zM321.3 1549.5h2v1h-2zM324.3 1549.5h8v1h-8zM339.3 1549.5h2v1h-2zM322.3 1550.5h1v1h-1zM325.3 1550.5h8v1h-8zM325.3 1551.5h7v1h-7zM324.3 1552.5h3v1h-3zM328.3 1552.5h2v1h-2zM324.3 1553.5h2v1h-2zM328.3 1553.5h3v1h-3zM329.3 1554.5h1v1h-1zM318.3 1557.5h2v1h-2zM318.3 1558.5h4v1h-4zM312.3 1559.5h3v1h-3zM320.3 1559.5h2v1h-2zM324.3 1559.5h1v1h-1zM300.3 1560.5h1v1h-1zM311.3 1560.5h3v1h-3zM315.3 1560.5h2v1h-2zM319.3 1560.5h4v1h-4zM325.3 1560.5h1v1h-1zM292.3 1561.5h1v1h-1zM299.3 1561.5h3v1h-3zM310.3 1561.5h3v1h-3zM316.3 1561.5h1v1h-1zM318.3 1561.5h5v1h-5zM292.3 1562.5h2v1h-2zM295.3 1562.5h3v1h-3zM299.3 1562.5h4v1h-4zM317.3 1562.5h1v1h-1zM319.3 1562.5h1v1h-1zM323.3 1562.5h2v1h-2zM292.3 1563.5h7v1h-7zM300.3 1563.5h3v1h-3zM314.3 1563.5h2v1h-2zM323.3 1563.5h1v1h-1zM291.3 1564.5h1v1h-1zM293.3 1564.5h1v1h-1zM296.3 1564.5h4v1h-4zM301.3 1564.5h2v1h-2zM322.3 1564.5h2v1h-2zM292.3 1565.5h1v1h-1zM295.3 1565.5h3v1h-3zM300.3 1565.5h2v1h-2zM293.3 1566.5h2v1h-2zM298.3 1566.5h3v1h-3zM305.3 1566.5h1v1h-1zM297.3 1567.5h3v1h-3zM304.3 1567.5h2v1h-2zM296.3 1568.5h2v1h-2zM302.3 1568.5h9v1h-9zM298.3 1569.5h2v1h-2zM301.3 1569.5h10v1h-10zM321.3 1569.5h2v1h-2zM297.3 1570.5h2v1h-2zM301.3 1570.5h10v1h-10zM297.3 1571.5h1v1h-1zM300.3 1571.5h11v1h-11zM319.3 1571.5h2v1h-2zM300.3 1572.5h11v1h-11zM301.3 1573.5h10v1h-10zM302.3 1574.5h8v1h-8zM290.3 1575.5h2v1h-2zM304.3 1575.5h2v1h-2zM292.3 1576.5h1v1h-1zM288.3 1577.5h2v1h-2zM291.3 1579.5h2v1h-2zM320.3 1582.5h1v1h-1zM318.3 1583.5h1v1h-1zM282.3 1590.5h2v1h-2zM285.3 1591.5h1v1h-1zM282.3 1593.5h1v1h-1zM281.3 1596.5h1v1h-1zM283.3 1596.5h1v1h-1zM280.3 1599.5h1v1h-1zM282.3 1599.5h1v1h-1zM274.3 1606.5h2v1h-2zM273.3 1607.5h2v1h-2zM277.3 1607.5h1v1h-1zM272.3 1608.5h2v1h-2zM278.3 1608.5h1v1h-1zM272.3 1609.5h1v1h-1zM284.3 1609.5h2v1h-2zM283.3 1610.5h5v1h-5zM283.3 1611.5h5v1h-5zM283.3 1612.5h4v1h-4zM284.3 1613.5h2v1h-2zM268.3 1622.5h1v1h-1zM239.3 1664.5h1v1h-1zM240.3 1665.5h3v1h-3zM239.3 1666.5h1v1h-1zM241.3 1666.5h3v1h-3zM239.3 1667.5h3v1h-3zM241.3 1668.5h2v1h-2zM219.3 1669.5h1v1h-1zM206.3 1670.5h2v1h-2zM219.3 1670.5h4v1h-4zM241.3 1670.5h1v1h-1zM206.3 1671.5h3v1h-3zM217.3 1671.5h6v1h-6zM241.3 1671.5h2v1h-2zM207.3 1672.5h3v1h-3zM216.3 1672.5h9v1h-9zM207.3 1673.5h3v1h-3zM215.3 1673.5h11v1h-11zM207.3 1674.5h3v1h-3zM215.3 1674.5h12v1h-12zM207.3 1675.5h5v1h-5zM214.3 1675.5h14v1h-14zM230.3 1675.5h2v1h-2zM206.3 1676.5h2v1h-2zM209.3 1676.5h19v1h-19zM229.3 1676.5h2v1h-2zM207.3 1677.5h25v1h-25zM207.3 1678.5h24v1h-24zM206.3 1679.5h24v1h-24zM206.3 1680.5h22v1h-22zM206.3 1681.5h21v1h-21zM207.3 1682.5h8v1h-8zM216.3 1682.5h3v1h-3zM220.3 1682.5h9v1h-9zM208.3 1683.5h11v1h-11zM220.3 1683.5h11v1h-11zM208.3 1684.5h22v1h-22zM208.3 1685.5h23v1h-23zM200.3 1686.5h3v1h-3zM207.3 1686.5h25v1h-25zM199.3 1687.5h5v1h-5zM206.3 1687.5h23v1h-23zM230.3 1687.5h1v1h-1zM198.3 1688.5h30v1h-30zM231.3 1688.5h1v1h-1zM198.3 1689.5h27v1h-27zM226.3 1689.5h1v1h-1zM228.3 1689.5h1v1h-1zM197.3 1690.5h8v1h-8zM206.3 1690.5h11v1h-11zM218.3 1690.5h8v1h-8zM227.3 1690.5h2v1h-2zM195.3 1691.5h29v1h-29zM227.3 1691.5h3v1h-3zM190.3 1692.5h1v1h-1zM195.3 1692.5h30v1h-30zM227.3 1692.5h4v1h-4zM190.3 1693.5h2v1h-2zM194.3 1693.5h2v1h-2zM198.3 1693.5h6v1h-6zM205.3 1693.5h20v1h-20zM228.3 1693.5h3v1h-3zM187.3 1694.5h2v1h-2zM191.3 1694.5h21v1h-21zM214.3 1694.5h10v1h-10zM187.3 1695.5h2v1h-2zM190.3 1695.5h1v1h-1zM193.3 1695.5h7v1h-7zM201.3 1695.5h21v1h-21zM187.3 1696.5h3v1h-3zM192.3 1696.5h2v1h-2zM195.3 1696.5h26v1h-26zM194.3 1697.5h2v1h-2zM197.3 1697.5h23v1h-23zM189.3 1698.5h2v1h-2zM194.3 1698.5h23v1h-23zM219.3 1698.5h1v1h-1zM195.3 1699.5h3v1h-3zM199.3 1699.5h16v1h-16zM195.3 1700.5h4v1h-4zM203.3 1700.5h12v1h-12zM191.3 1701.5h1v1h-1zM204.3 1701.5h11v1h-11zM192.3 1702.5h3v1h-3zM205.3 1702.5h9v1h-9zM193.3 1703.5h4v1h-4zM205.3 1703.5h10v1h-10zM190.3 1704.5h1v1h-1zM193.3 1704.5h5v1h-5zM205.3 1704.5h10v1h-10zM192.3 1705.5h7v1h-7zM204.3 1705.5h11v1h-11zM192.3 1706.5h7v1h-7zM205.3 1706.5h10v1h-10zM191.3 1707.5h8v1h-8zM205.3 1707.5h4v1h-4zM210.3 1707.5h4v1h-4zM192.3 1708.5h7v1h-7zM203.3 1708.5h2v1h-2zM219.3 1708.5h2v1h-2zM192.3 1709.5h7v1h-7zM204.3 1709.5h1v1h-1zM220.3 1709.5h2v1h-2zM192.3 1710.5h2v1h-2zM195.3 1710.5h3v1h-3zM193.3 1711.5h1v1h-1z"/>
<path class="mk" d="M219.5 1710.6 411.8 1507.9 212.0 1706.0 338.2 1542.4 475.9 1395.9 500.6 1394.7 529.2 1377.6 508.5 1377.2 530.9 1353.8 339.0 1551.4 523.2 1425.3 508.6 1418.1 471.5 1471.8 501.8 1449.7 453.9 1417.8 480.2 1408.6 418.0 1453.7 387.9 1484.0 410.0 1518.2 344.9 1518.7 219.7 1657.7 230.8 1681.4 341.2 1552.8 229.2 1686.2 243.4 1621.3 304.4 1568.0 400.2 1456.5 197.7 1693.7 423.5 1456.2 366.3 1514.0 267.0 1630.1 185.4 1712.4 342.3 1546.0 506.8 1388.8 283.9 1587.6 457.9 1393.4 219.3 1692.7 422.6 1441.0 520.8 1404.0 380.5 1487.9 281.1 1586.5 294.8 1613.7 417.2 1453.1 445.6 1492.0 371.1 1492.6 201.6 1710.3 228.5 1677.1 319.2 1561.2 404.3 1510.0 319.9 1548.3 375.0 1512.5 308.9 1572.2 374.6 1519.8 426.0 1523.3 293.4 1564.1 510.8 1382.2 458.5 1412.2 321.6 1571.8 485.0 1483.3 197.7 1716.7 406.5 1437.7 539.7 1357.5 258.8 1641.4 453.3 1502.9 193.4 1691.6 206.2 1711.4 374.7 1516.8 464.8 1483.2 350.2 1544.7 508.4 1413.7 386.6 1521.0 289.9 1576.1 372.5 1498.3 418.5 1452.7 331.5 1547.7 483.6 1466.0 383.1 1485.7 492.6 1390.9 314.9 1544.5 318.8 1545.3 514.2 1411.4 272.8 1585.4 218.6 1673.1 456.7 1426.3 341.7 1542.2 350.1 1549.3 276.3 1609.4 266.1 1593.5 476.7 1475.5 453.1 1422.6 460.1 1485.7 318.0 1573.2 255.9 1599.9 407.8 1468.0 486.2 1464.5 454.1 1422.2 274.5 1622.4 423.1 1451.4 484.9 1386.3 375.9 1532.7 260.2 1646.1 437.3 1500.9 367.1 1539.6 231.0 1691.9 233.2 1713.7 365.4 1523.0 480.6 1469.0 573.5 1457.2 211.8 1715.4 434.8 1435.3 321.2 1563.5 377.7 1561.0 303.5 1571.8 303.1 1568.0 541.0 1344.2 494.9 1446.5 578.0 1358.9 488.3 1392.3 493.1 1391.6 421.5 1498.1 352.2 1489.9 323.2 1561.8 486.2 1386.9 242.4 1663.6 268.1 1598.0 542.3 1355.1 363.4 1535.6 262.6 1616.2 221.4 1695.0 202.6 1710.8 498.0 1397.3 439.9 1430.7 282.9 1624.5 254.9 1625.5 317.6 1583.6 291.4 1547.4 324.3 1559.7 193.3 1697.7 215.6 1696.7 473.9 1390.4 210.8 1687.3 471.2 1471.6 362.1 1515.5 355.0 1572.7 366.6 1499.2 506.0 1374.5 344.6 1540.6 551.0 1349.5 404.2 1522.5 334.2 1540.4 411.9 1536.7 483.9 1454.3 355.5 1536.0 424.5 1506.6 361.4 1503.0 202.3 1697.4 188.8 1714.7 222.8 1673.3 461.2 1508.3 502.4 1443.9 312.4 1538.7 404.2 1468.9 241.2 1670.6 386.2 1512.8 391.0 1597.3 222.8 1662.7 525.4 1417.0 219.9 1669.6 196.3 1696.2 430.0 1509.4 401.2 1515.9 452.8 1405.6 219.4 1707.6 395.3 1511.4 427.4 1453.4 471.2 1489.0 342.5 1541.3 407.8 1469.0 462.8 1420.5 396.5 1510.2 504.6 1379.9 378.2 1537.1 461.4 1411.5 512.7 1421.4 320.3 1585.7 207.0 1691.0 511.8 1403.7 559.2 1391.9 282.2 1587.6 241.6 1669.2 187.6 1703.7 515.0 1400.5 463.4 1413.4 363.2 1536.5 314.1 1562.8 419.8 1507.3 296.7 1565.9 448.4 1493.9 446.9 1493.0 420.2 1524.2 299.5 1564.1 299.8 1569.9 319.9 1568.7 324.0 1581.5 456.5 1398.1 238.2 1652.5 359.2 1510.3 432.8 1497.9 407.0 1466.5 366.8 1521.2 205.5 1694.9 271.9 1597.5 420.7 1521.0 532.9 1454.6 505.2 1453.3 359.3 1533.8 206.6 1680.0 345.4 1517.4 326.7 1536.7 290.9 1564.2 367.4 1530.7 386.4 1494.0 509.3 1412.0 228.0 1677.3 380.6 1490.2 214.2 1670.5 248.0 1626.8 190.9 1702.5 376.9 1484.7 451.5 1397.6 468.0 1410.6 306.1 1601.0 388.7 1522.1 455.0 1417.8 329.5 1504.0 331.4 1553.0 290.2 1604.4 516.8 1384.9 479.6 1464.5 470.9 1470.8 541.1 1350.3 417.2 1504.0 305.5 1544.8 475.3 1395.5 359.7 1504.9 278.6 1581.3 541.1 1332.3 560.5 1355.8 406.6 1536.1 482.3 1479.8 330.7 1549.0 540.0 1375.2 497.4 1394.7 449.7 1487.0 250.5 1625.1 381.8 1506.0 429.5 1452.2 532.9 1358.1 525.4 1368.2 281.0 1569.6 398.8 1454.3 564.8 1367.1 312.2 1559.4 365.6 1514.7 504.8 1390.1 343.7 1571.7 507.7 1417.1 212.2 1707.1 504.4 1427.3 404.8 1476.4 442.7 1503.4 369.0 1498.8 212.6 1705.7 501.7 1440.8 488.0 1447.9 407.3 1507.6 384.3 1466.9 289.7 1600.2 465.7 1496.9 209.7 1671.2 459.9 1486.8 387.0 1502.8 312.4 1563.6 386.5 1447.6 525.7 1391.3 415.3 1515.0 320.6 1539.7 459.5 1416.9 428.9 1512.8 240.8 1664.7 455.5 1416.5 426.0 1447.1 378.7 1518.4 239.2 1629.3 393.0 1516.7 365.4 1535.0 510.3 1401.1 264.6 1620.7 240.3 1666.6 377.8 1500.7 471.9 1472.6 434.9 1523.8 453.2 1418.1 330.4 1546.1 327.3 1558.5 539.7 1386.3 336.1 1568.5 307.6 1548.0 221.8 1674.1 420.8 1506.3 489.1 1448.5 452.0 1433.4 421.4 1460.3 283.1 1599.2 420.8 1430.1 217.1 1685.6 349.2 1522.9 337.1 1544.0 418.0 1504.7 339.6 1526.6 546.1 1358.9 513.7 1402.3 223.3 1671.3 386.6 1504.1 333.1 1544.7 227.4 1683.8 374.9 1500.8 286.0 1565.6 378.7 1499.2 445.7 1427.0 210.4 1684.3 252.9 1640.0 419.5 1505.6 302.8 1562.0 435.3 1502.0 516.4 1422.7 410.5 1514.9 445.0 1424.2 359.4 1504.2 437.2 1501.0 399.9 1509.6 469.3 1495.3 542.4 1356.0 383.6 1502.1 346.2 1499.7 208.4 1682.4 444.9 1507.0 365.9 1561.7 468.5 1408.7 296.8 1571.1 515.4 1401.2 455.9 1495.3 517.9 1372.0 455.6 1409.3 424.9 1496.8 435.1 1512.7 323.1 1572.7 509.8 1384.5 243.3 1678.5 456.6 1423.5 467.6 1499.3 353.0 1539.0 328.0 1572.4 475.7 1497.6 514.4 1370.0 254.1 1609.8 397.7 1476.0 334.5 1543.8 196.9 1719.7 199.8 1689.0 242.2 1678.0 203.8 1692.6 512.0 1367.0 487.1 1469.5 465.9 1479.0 328.1 1552.5 302.3 1577.3 485.7 1390.0 180.1 1698.4 414.7 1451.6 355.4 1502.4 398.8 1480.3 534.9 1385.9 333.2 1515.2 482.6 1466.4 217.8 1696.4 428.8 1419.0 346.2 1523.8 443.2 1435.2 297.1 1546.5 323.6 1551.0 446.3 1431.2 394.2 1452.5 208.4 1678.6 524.7 1345.0 404.3 1475.5 535.9 1427.2 410.5 1506.6 540.4 1379.5 417.6 1461.8"/>
<path class="mk" d="M319.6 1561.3 189.7 1696.3 466.3 1475.1 345.6 1545.9 437.6 1424.8 478.7 1465.4 435.2 1420.5 464.6 1480.5 511.7 1398.8 287.9 1584.6 513.9 1413.5 300.6 1562.7 407.3 1450.8 545.6 1397.7 491.1 1458.7 290.0 1596.3 398.9 1508.3 467.3 1507.1 312.1 1548.8 428.9 1446.1 546.1 1370.0 480.5 1468.3 332.0 1533.6 495.9 1395.5 373.0 1517.2 456.2 1486.7 502.2 1433.3 454.8 1425.0 352.5 1528.6 393.6 1511.4 227.1 1706.7 295.7 1578.3 484.3 1453.1 389.3 1515.1 528.3 1365.8 444.7 1522.1 299.7 1573.2 342.0 1530.3 357.0 1526.2 484.0 1403.6 380.1 1503.3 469.9 1410.0 361.8 1529.4 495.7 1475.5 376.5 1502.6 557.4 1354.5 291.5 1577.2 210.0 1719.2 355.3 1520.9 339.9 1535.1 222.7 1665.0 283.0 1605.6 484.4 1388.9 310.7 1587.7 265.9 1664.9 340.2 1547.3 238.8 1683.2 425.4 1411.0 433.3 1442.4 436.4 1513.4 282.9 1611.5 230.5 1708.2 455.5 1488.2 277.8 1606.8 459.2 1403.4 244.7 1672.3 383.3 1482.5 483.4 1452.9 287.3 1614.1 371.2 1535.2 521.7 1357.0 433.0 1443.6 476.6 1384.0 266.6 1603.6 303.3 1573.8 191.2 1710.6 293.1 1582.6 500.1 1437.1 194.6 1701.2 513.6 1380.1 533.7 1382.7 446.2 1507.3 403.7 1466.9 481.9 1395.5 528.0 1388.9 222.0 1707.4 420.3 1505.3 202.0 1701.2 229.4 1691.4 444.5 1410.3 320.6 1582.1 333.0 1542.9 174.3 1707.1 350.6 1547.0 307.9 1551.8 362.7 1526.2 549.8 1329.6 299.7 1562.1 402.4 1477.1 446.1 1428.1 458.0 1403.0 320.9 1544.9 505.8 1394.7 320.0 1555.9 290.6 1579.0 269.8 1610.9 355.2 1526.1 308.1 1568.8 205.7 1686.7 262.6 1636.1 554.2 1358.6 261.2 1616.6 292.3 1602.6 207.1 1674.3 414.5 1523.1 495.8 1443.2 438.8 1427.5 304.4 1573.0 442.1 1345.0 420.6 1456.6 300.2 1549.8 410.6 1518.6 441.0 1403.9 370.7 1534.6 388.4 1527.2 316.0 1560.7 365.3 1518.4 294.0 1574.5 482.9 1486.0 485.7 1398.6 384.8 1492.9 285.2 1611.3 553.2 1384.3 302.1 1588.3 276.9 1646.8 470.4 1397.5 226.2 1693.9 416.0 1503.5 391.4 1480.3 512.1 1381.9 482.0 1403.7 469.1 1402.0 510.7 1432.2 437.7 1504.7 216.9 1697.3 457.8 1415.4 471.5 1399.0 419.6 1499.5 542.2 1358.6 521.9 1374.7 339.5 1549.1 269.9 1599.7 219.7 1695.6 286.0 1598.9 471.4 1469.9 500.4 1435.1 333.1 1535.5 366.1 1519.6 485.9 1399.0 357.3 1553.6 549.1 1344.1 400.3 1481.6 217.7 1692.9 426.3 1443.2 490.4 1393.4 288.9 1591.9 389.9 1508.3 510.3 1415.9 497.0 1463.8 478.8 1460.7 285.5 1613.2 390.3 1485.0 396.3 1511.7 354.6 1531.5 213.7 1676.0 325.5 1549.7 196.6 1708.4 447.5 1495.1 331.5 1524.1 437.8 1436.6 206.8 1705.3 338.6 1543.4 220.0 1673.2 220.1 1685.2 529.2 1409.5 479.4 1377.6 200.7 1678.1 338.0 1550.5 215.6 1690.3 479.1 1409.2 186.2 1695.8 225.6 1691.4 449.2 1501.1 529.3 1382.6 379.7 1523.5 438.1 1497.2 407.1 1463.4 194.2 1705.6 470.3 1405.2 214.7 1685.2 203.5 1681.2 373.7 1507.5 280.1 1667.0 206.2 1714.9 382.4 1514.5 384.4 1507.5 216.6 1698.5 517.6 1411.7 459.0 1424.3 318.4 1560.4 386.8 1480.0 252.6 1672.4 222.8 1691.8 485.0 1406.7 352.0 1546.6 282.5 1591.3 344.8 1531.2 341.4 1540.4 409.3 1468.9 532.4 1363.4 294.7 1561.2 233.5 1670.3 347.6 1520.2 529.2 1362.6 446.3 1502.0 405.8 1467.0 378.8 1528.3 217.8 1686.1 199.8 1684.7 296.0 1587.4 487.1 1395.8 309.5 1513.8 433.4 1433.2 216.6 1676.2 357.2 1534.4 244.3 1632.9 348.0 1557.9 172.5 1716.1 312.8 1554.2 357.9 1516.5 220.3 1691.1 347.1 1537.1 463.7 1420.5 277.0 1639.9 418.1 1510.2 205.8 1718.9 450.9 1432.9 307.6 1577.0 272.1 1606.6 472.8 1409.2 387.1 1511.5 389.4 1486.3 191.2 1705.3 487.9 1451.5 518.6 1383.8 508.5 1424.5 486.0 1400.2 416.1 1523.0 220.2 1680.4 434.7 1504.9 570.5 1338.2 303.4 1559.8 191.1 1696.4 474.8 1475.0 187.8 1695.4 473.6 1400.7 424.2 1508.5 403.3 1529.6 283.8 1573.8 396.1 1484.3 385.3 1499.4 458.4 1517.9 403.2 1452.5 221.8 1693.8 525.4 1382.7 445.3 1436.3 508.8 1427.2 197.7 1707.3 445.0 1492.0 429.7 1503.1 421.6 1450.9 273.6 1643.3 487.6 1456.6 203.7 1688.1 329.5 1551.8 177.8 1709.8 383.1 1510.2 436.3 1444.0 452.2 1419.3 280.1 1580.1 311.1 1570.9 272.7 1605.9 483.8 1401.2 514.9 1445.8 450.3 1427.5 196.2 1711.1 223.5 1663.1 355.2 1528.0 242.2 1665.6 489.9 1395.9 227.5 1699.8 315.7 1584.6 238.8 1626.8 462.0 1418.0 515.1 1420.4 510.6 1422.7 271.1 1608.0 406.9 1472.5 191.8 1709.3 339.2 1560.7 197.4 1719.5 378.4 1516.4 476.8 1466.6 360.2 1505.7 413.1 1468.3 337.4 1570.1 280.4 1600.0 467.7 1417.4 378.9 1512.0 393.0 1508.8 456.0 1496.3 324.7 1559.9 230.1 1659.3 263.7 1620.8 290.5 1561.9 210.3 1679.4 252.4 1638.0 390.6 1515.4 323.0 1567.0 482.6 1465.1 200.8 1687.6 316.2 1553.7 576.8 1342.0 271.5 1595.0 579.1 1321.3 345.8 1556.0 225.6 1684.4 503.6 1436.4 482.8 1390.9 453.8 1505.7 505.0 1438.4 448.6 1489.0 316.6 1537.6 195.4 1706.1 563.0 1347.6 443.0 1431.5 303.8 1544.9 203.7 1725.0 389.5 1479.7 511.2 1406.9 314.6 1566.7 228.0 1682.5 525.5 1383.2 261.2 1677.5 387.1 1496.1 254.8 1626.1 441.7 1499.9 366.6 1512.9 514.0 1421.7 208.3 1684.8 317.4 1539.3 402.4 1458.9 214.5 1683.2 454.6 1485.4 485.8 1374.7 267.7 1620.3 279.7 1617.8 303.0 1588.4 245.1 1670.2 468.5 1420.2 269.1 1659.1 393.3 1520.7 327.3 1606.7 293.4 1582.3 351.3 1501.2 214.2 1666.2 490.2 1455.4 248.4 1636.2 492.2 1446.1 284.5 1591.8 341.7 1560.5 234.2 1687.4 403.5 1506.9 505.0 1448.6 362.3 1557.7 497.1 1446.4 392.1 1507.8 427.5 1515.1 395.6 1484.1 468.2 1502.3 446.4 1500.9 508.9 1421.7 481.8 1462.7 259.7 1633.6 368.0 1522.1 271.2 1625.0 413.7 1465.9 382.2 1506.5 409.8 1449.3 395.1 1475.2"/>
<path class="mk" d="M432.3 1499.9 469.0 1486.0 396.9 1514.8 438.3 1506.6 291.1 1568.3 527.7 1366.7 458.2 1399.4 420.1 1460.2 324.6 1545.9 489.2 1454.6 277.9 1583.8 461.9 1404.9 474.9 1401.7 411.0 1509.8 474.2 1409.9 341.9 1528.5 515.1 1395.7 400.5 1511.3 500.1 1388.7 193.0 1684.8 487.6 1450.4 400.7 1475.9 472.5 1395.4 360.5 1534.5 334.3 1549.7 569.2 1360.0 201.0 1699.5 474.0 1465.8 445.0 1428.0 400.2 1505.7 238.4 1698.8 214.4 1679.3 318.8 1541.5 419.6 1454.2 340.3 1520.1 372.7 1503.9 437.7 1492.6 389.4 1486.7 343.2 1521.6 407.8 1464.7 377.4 1498.7 372.1 1508.9 467.3 1405.6 312.3 1586.8 342.9 1546.6 206.3 1688.6 482.2 1462.1 533.7 1367.0 303.9 1567.1 278.9 1614.4 335.5 1541.7 481.2 1398.1 356.8 1531.7 500.3 1441.6 421.5 1513.0 314.0 1562.3 410.8 1508.2 294.8 1592.0 352.6 1545.5 190.7 1726.3 217.1 1729.4 330.0 1575.1 386.7 1510.4 479.5 1474.5 383.3 1519.2 244.5 1631.2 280.1 1621.4 474.4 1468.1 385.8 1472.1 287.0 1577.1 372.9 1544.5 546.7 1364.1 516.7 1411.5 477.4 1479.0 492.1 1443.0 163.6 1695.3 406.8 1472.3 196.3 1702.6 384.8 1498.4 197.2 1713.2 206.0 1707.3 220.9 1702.1 320.5 1557.3 438.5 1495.0 309.0 1576.2 274.7 1620.2 442.9 1414.0 507.8 1393.9 357.1 1525.0 327.6 1507.1 316.8 1590.0 493.0 1470.0 492.4 1454.3 504.0 1428.6 209.7 1693.8 351.7 1531.3 510.4 1373.9 393.4 1476.3 463.4 1507.4 410.7 1524.6 416.3 1453.7 328.2 1546.9 292.3 1616.1 290.1 1581.2 447.1 1433.9 356.7 1533.0 476.6 1489.6 259.7 1629.1 349.5 1538.3 352.7 1508.9 492.7 1446.5 507.9 1423.4 513.3 1397.3 436.5 1496.2 185.6 1720.0 387.3 1504.3 197.3 1689.2 386.3 1493.7 323.1 1555.2 339.4 1530.8 541.9 1329.2 362.2 1530.9 468.6 1473.6 184.0 1713.6 207.3 1674.2 318.0 1551.6 291.5 1598.0 504.8 1391.5 512.3 1445.2 310.6 1592.0 427.9 1538.3 324.4 1533.5 495.5 1371.2 255.2 1616.1 510.5 1402.8 428.5 1504.7 468.2 1410.5 282.7 1618.2 341.7 1528.7 490.3 1457.6 275.7 1609.9 306.2 1551.1 532.9 1467.0 499.6 1475.0 540.5 1356.0 396.3 1467.4 197.1 1681.9 520.9 1383.6 315.5 1577.4 439.0 1498.1 439.0 1434.1 462.0 1402.2 433.0 1448.6 510.0 1378.9 284.9 1585.3 415.7 1564.0 414.8 1456.0 352.9 1528.4 211.6 1694.1 380.3 1484.1 347.2 1508.0 298.0 1544.1 435.2 1430.9 456.2 1429.4 365.4 1517.3 265.6 1606.4 204.6 1700.7 225.6 1700.7 319.9 1550.0 428.0 1443.0 546.4 1406.0 418.1 1436.6 320.1 1542.4 328.1 1531.0 234.6 1669.9 382.5 1471.1 194.2 1693.2 311.7 1572.0 456.1 1398.1 436.9 1495.3 283.2 1594.1 337.8 1544.1 206.0 1694.7 210.8 1679.5 431.3 1498.8 415.0 1462.5 394.5 1517.0 220.0 1705.1 476.4 1465.5 504.9 1466.8 270.6 1648.9 521.6 1372.7 408.8 1433.9 298.5 1570.7 550.7 1375.0 403.3 1452.9 516.8 1398.8 229.5 1676.6 523.0 1408.9 208.4 1689.6 505.2 1400.1 413.9 1469.3 269.3 1626.3 306.1 1584.6 429.2 1410.0 219.5 1711.9 478.0 1481.3 417.3 1463.5 221.4 1681.6 463.8 1482.5 414.0 1457.0 327.3 1542.0 344.3 1540.6 319.4 1536.2 378.5 1512.7 341.9 1545.4 488.0 1446.6 477.5 1488.7 409.3 1466.2 403.1 1504.8 480.9 1398.6 383.5 1491.7 309.7 1570.9 405.3 1514.3 299.7 1565.1 242.9 1653.3 513.8 1425.6 352.8 1618.0 429.7 1505.5 290.9 1548.6 384.2 1514.1 224.5 1687.6 355.0 1523.7 502.0 1453.7 450.0 1487.9 346.7 1534.2 295.4 1565.1 414.4 1451.1 441.2 1431.6 260.1 1622.4 253.3 1614.9 401.7 1516.1 213.8 1704.7 413.0 1445.0 320.3 1538.1 507.7 1384.0 405.7 1457.3 352.6 1553.3 433.0 1533.3 451.2 1426.7 196.5 1694.4 407.6 1435.1 254.5 1632.2 501.5 1441.4 478.9 1405.4 309.3 1562.8 382.8 1503.1 390.6 1489.7 393.0 1482.1 353.7 1524.8 503.6 1428.8 250.6 1618.6 452.6 1501.4 211.7 1679.2 226.1 1687.2 422.1 1458.9 427.1 1512.1 324.7 1579.1 489.3 1394.5 388.4 1489.9 190.6 1712.9 423.2 1532.3 431.4 1498.0 489.6 1461.5 495.4 1398.2 384.6 1518.6 370.5 1518.6 536.7 1405.0 425.1 1454.6 509.3 1449.2 497.1 1437.1 425.6 1456.6 276.8 1609.6 380.4 1489.9 438.4 1512.7 450.2 1497.9 391.5 1473.7 467.0 1415.6 207.7 1705.7 311.9 1577.0 419.5 1446.3 545.1 1350.3 297.2 1594.9 480.1 1469.0 474.6 1386.5 200.6 1697.0 429.0 1496.5 386.3 1509.7 413.8 1511.7 327.4 1526.5 394.1 1518.4 433.4 1441.5 342.1 1531.1 457.0 1405.0 281.8 1603.2 348.3 1516.6 442.6 1495.3 240.4 1625.8 373.5 1512.2 324.9 1550.8 344.4 1494.4 460.1 1415.2 448.7 1488.9 198.7 1699.4 232.9 1692.9 428.8 1496.8 452.2 1501.3 365.8 1509.3 383.7 1500.4 501.6 1390.3 398.1 1484.3 222.0 1701.3 236.0 1674.4 536.7 1370.1 444.4 1426.8 176.9 1705.3 372.3 1523.6 331.4 1531.4 378.0 1517.9 417.2 1512.3 436.9 1436.1 534.2 1357.7 301.6 1574.5 394.3 1513.6 360.3 1542.1 269.9 1629.7 378.7 1527.3 524.8 1402.6 517.2 1402.6 213.3 1661.4 507.5 1431.5 385.9 1527.2 220.9 1680.4 213.3 1701.5 499.2 1379.5 428.1 1453.5 498.1 1441.3 377.2 1513.1 446.5 1422.7 386.1 1477.2 456.1 1507.4 445.8 1433.7 370.0 1481.4 540.0 1341.0 271.2 1621.5 279.2 1598.0 241.1 1673.6 230.9 1696.9 375.0 1505.8 284.1 1593.6 515.0 1426.4 321.4 1534.8 196.9 1703.9 364.0 1540.7 424.0 1412.0 477.3 1399.7 452.2 1430.5 365.7 1524.6 211.0 1673.9 281.0 1606.7 214.5 1674.7 352.8 1509.0 408.7 1508.4 376.8 1481.1 437.2 1438.0 388.6 1515.1 389.6 1458.7 503.1 1446.5 361.0 1538.7 512.9 1401.0 423.8 1507.4 324.7 1545.0 346.9 1544.5 432.4 1448.8 417.2 1512.7 282.0 1597.2 468.9 1396.7 217.4 1654.3 227.6 1693.2 507.0 1401.9 328.3 1574.1 403.9 1510.1 208.9 1670.4 198.9 1709.2 307.9 1572.7 456.0 1484.6 428.7 1496.6 276.0 1616.3 449.5 1433.9 302.1 1549.5"/>
<path class="mk" d="M307.8 1568.0 272.8 1585.0 266.0 1601.4 232.6 1673.0 330.0 1541.6 201.1 1695.7 380.1 1514.0 376.6 1499.1 326.3 1519.6 483.5 1461.5 402.9 1481.7 372.6 1530.0 327.5 1549.0 188.4 1694.7 501.1 1432.3 214.1 1694.3 475.2 1397.3 505.2 1395.0 424.9 1441.2 492.9 1394.9 408.6 1449.2 293.9 1634.5 295.1 1564.2 405.0 1444.0 325.2 1563.2 233.2 1686.0 236.5 1666.1 215.6 1696.1 511.5 1382.8 349.4 1562.6 489.7 1486.2 489.8 1375.0 239.6 1674.3 501.8 1387.5 346.2 1595.4 378.9 1574.1 554.3 1334.5 216.0 1683.8 387.3 1478.8 378.7 1510.5 231.3 1678.5 497.9 1442.1 465.1 1481.9 436.0 1433.1 450.8 1501.9 538.6 1446.7 420.9 1501.1 353.0 1528.0 561.8 1368.6 320.3 1568.8 196.0 1709.2 228.2 1643.4 338.0 1527.1 503.1 1387.1 485.1 1454.1 228.7 1687.5 474.6 1396.2 208.2 1694.8 292.2 1573.2 462.9 1382.3 392.3 1480.3 480.1 1483.8 389.0 1507.8 366.2 1501.6 472.5 1482.0 374.1 1513.6 546.6 1373.4 470.9 1498.6 371.9 1453.4 513.7 1401.6 250.9 1616.3 462.4 1403.9 236.2 1684.8 223.3 1657.9 348.8 1540.0 513.6 1454.2 297.1 1591.2 516.6 1412.0 180.6 1689.8 366.2 1527.6 456.1 1502.2 415.8 1458.0 245.5 1662.0 234.9 1637.4 319.8 1582.2 257.2 1623.0 466.4 1419.4 511.7 1416.7 304.9 1571.0 511.2 1402.2 484.9 1461.4 202.5 1699.3 357.5 1527.9 211.9 1659.1 450.6 1404.3 406.1 1469.6 424.6 1497.9 373.8 1506.8 441.5 1426.8 381.5 1528.5 520.4 1411.1 207.6 1705.3 314.0 1557.0 452.7 1421.8 542.9 1373.4 506.6 1395.8 289.2 1590.9 313.0 1595.4 482.8 1468.9 409.8 1469.2 530.4 1389.0 208.8 1675.7 479.8 1410.1 240.9 1683.5 507.2 1399.4 232.4 1677.5 278.4 1565.0 497.4 1395.1 502.1 1438.0 467.2 1413.8 372.4 1533.7 194.3 1708.7 219.4 1670.8 491.0 1397.1 225.7 1661.3 324.1 1548.4 333.9 1530.3 192.6 1700.0 460.1 1485.1 297.0 1569.4 467.5 1476.5 476.1 1397.2 475.7 1408.5 347.0 1529.9 446.2 1499.5 519.8 1441.4 195.6 1698.1 286.4 1612.2 421.5 1452.3 407.0 1510.3 435.1 1444.2 442.6 1492.3 511.0 1410.3 355.9 1511.5 465.9 1485.7 361.2 1535.8 380.2 1521.3 477.5 1398.7 228.7 1694.5 207.4 1673.0 327.6 1555.1 221.1 1711.7 508.5 1381.4 258.6 1628.2 197.3 1697.6 266.6 1623.8 286.0 1610.8 264.9 1627.3 386.6 1492.1 414.9 1502.5 367.3 1518.3 368.8 1496.3 396.4 1483.2 326.1 1565.7 451.6 1420.4 261.4 1607.8 355.2 1517.3 362.1 1535.7 473.4 1407.9 298.4 1583.2 465.7 1479.4 513.1 1368.2 379.8 1535.6 231.7 1686.2 190.4 1705.3 502.4 1388.4 441.8 1490.3 459.0 1487.9 329.2 1552.9 458.4 1414.5 352.7 1512.7 213.6 1705.0 511.8 1423.1 466.9 1477.8 341.7 1535.9 427.3 1448.4 206.9 1708.2 180.6 1707.9 212.7 1702.8 410.9 1451.6 222.4 1697.8 376.8 1519.2 504.0 1425.3 443.6 1538.3 502.4 1390.5 422.8 1500.8"/>
<path class="ax" d="M120.8 1297.0V1798.0M120.8 1798.0H610.0"/>
<path class="tk" d="M117.3 1775.5h3.5M142.6 1798.0v3.5M117.3 1661.2h3.5M254.1 1798.0v3.5M117.3 1546.9h3.5M365.6 1798.0v3.5M117.3 1432.6h3.5M477.0 1798.0v3.5M117.3 1318.3h3.5M588.5 1798.0v3.5"/>
<text class="tl" x="112.6" y="1786.3" text-anchor="end">0.7</text>
<text class="tl" x="144.2" y="1828.2" text-anchor="middle">0.7</text>
<text class="tl" x="112.6" y="1672.0" text-anchor="end">0.8</text>
<text class="tl" x="255.7" y="1828.2" text-anchor="middle">0.8</text>
<text class="tl" x="112.6" y="1557.7" text-anchor="end">0.9</text>
<text class="tl" x="367.2" y="1828.2" text-anchor="middle">0.9</text>
<text class="tl" x="112.6" y="1443.4" text-anchor="end">1.0</text>
<text class="tl" x="478.6" y="1828.2" text-anchor="middle">1.0</text>
<text class="tl" x="112.6" y="1329.1" text-anchor="end">1.1</text>
<text class="tl" x="590.1" y="1828.2" text-anchor="middle">1.1</text>
<text class="ti" x="159.1" y="1864.3">Fitness from YPE replicate 1</text>
<text class="ti" transform="translate(57.1 1749.2) rotate(-90)">Fitness from YPE replicate 2</text>
<text class="st" x="133.2" y="1296.2" style="font-size:31px" textLength="328" lengthAdjust="spacingAndGlyphs"><tspan font-style="italic">r</tspan> = 0.98, <tspan font-style="italic">P</tspan> &lt; 2.2 × 10<tspan dy="-11" style="font-size:18.5px">-308</tspan></text>
<text class="lb" x="11.5" y="1308">g</text></g>
<g id="ph"><line class="dl" x1="743.8" y1="1788.3" x2="1231.8" y2="1288.7"/>
<path class="bk" d="M1125.3 1359.2h2v1h-2zM1124.3 1360.2h1v1h-1zM1126.3 1360.2h3v1h-3zM1123.3 1361.2h5v1h-5zM1124.3 1362.2h3v1h-3zM1124.3 1363.2h3v1h-3zM1126.3 1364.2h1v1h-1zM1125.3 1365.2h2v1h-2zM1124.3 1366.2h6v1h-6zM1124.3 1367.2h2v1h-2zM1127.3 1367.2h4v1h-4zM1123.3 1368.2h8v1h-8zM1133.3 1368.2h1v1h-1zM1121.3 1369.2h1v1h-1zM1123.3 1369.2h7v1h-7zM1133.3 1369.2h1v1h-1zM1117.3 1370.2h3v1h-3zM1121.3 1370.2h10v1h-10zM1133.3 1370.2h1v1h-1zM1116.3 1371.2h16v1h-16zM1116.3 1372.2h16v1h-16zM1115.3 1373.2h20v1h-20zM1114.3 1374.2h21v1h-21zM1108.3 1375.2h2v1h-2zM1114.3 1375.2h20v1h-20zM1107.3 1376.2h4v1h-4zM1114.3 1376.2h21v1h-21zM1106.3 1377.2h29v1h-29zM1136.3 1377.2h1v1h-1zM1106.3 1378.2h30v1h-30zM1106.3 1379.2h30v1h-30zM1107.3 1380.2h32v1h-32zM1107.3 1381.2h34v1h-34zM1108.3 1382.2h34v1h-34zM1148.3 1382.2h4v1h-4zM1108.3 1383.2h37v1h-37zM1148.3 1383.2h3v1h-3zM1100.3 1384.2h1v1h-1zM1107.3 1384.2h37v1h-37zM1147.3 1384.2h1v1h-1zM1097.3 1385.2h1v1h-1zM1099.3 1385.2h2v1h-2zM1107.3 1385.2h36v1h-36zM1145.3 1385.2h3v1h-3zM1096.3 1386.2h5v1h-5zM1107.3 1386.2h35v1h-35zM1144.3 1386.2h1v1h-1zM1146.3 1386.2h3v1h-3zM1095.3 1387.2h7v1h-7zM1105.3 1387.2h36v1h-36zM1144.3 1387.2h3v1h-3zM1148.3 1387.2h3v1h-3zM1096.3 1388.2h6v1h-6zM1105.3 1388.2h37v1h-37zM1143.3 1388.2h4v1h-4zM1148.3 1388.2h2v1h-2zM1097.3 1389.2h5v1h-5zM1106.3 1389.2h35v1h-35zM1143.3 1389.2h7v1h-7zM1096.3 1390.2h6v1h-6zM1106.3 1390.2h35v1h-35zM1144.3 1390.2h5v1h-5zM1096.3 1391.2h4v1h-4zM1101.3 1391.2h1v1h-1zM1104.3 1391.2h37v1h-37zM1144.3 1391.2h5v1h-5zM1096.3 1392.2h3v1h-3zM1101.3 1392.2h1v1h-1zM1104.3 1392.2h36v1h-36zM1145.3 1392.2h1v1h-1zM1072.3 1393.2h1v1h-1zM1100.3 1393.2h2v1h-2zM1104.3 1393.2h35v1h-35zM1144.3 1393.2h1v1h-1zM1146.3 1393.2h1v1h-1zM1071.3 1394.2h2v1h-2zM1092.3 1394.2h1v1h-1zM1097.3 1394.2h7v1h-7zM1105.3 1394.2h34v1h-34zM1071.3 1395.2h1v1h-1zM1093.3 1395.2h2v1h-2zM1097.3 1395.2h43v1h-43zM1072.3 1396.2h2v1h-2zM1088.3 1396.2h4v1h-4zM1093.3 1396.2h45v1h-45zM1072.3 1397.2h2v1h-2zM1087.3 1397.2h51v1h-51zM1084.3 1398.2h1v1h-1zM1086.3 1398.2h1v1h-1zM1088.3 1398.2h51v1h-51zM1082.3 1399.2h6v1h-6zM1089.3 1399.2h50v1h-50zM1080.3 1400.2h10v1h-10zM1092.3 1400.2h47v1h-47zM1079.3 1401.2h60v1h-60zM1061.3 1402.2h2v1h-2zM1078.3 1402.2h62v1h-62zM1071.3 1403.2h1v1h-1zM1073.3 1403.2h1v1h-1zM1076.3 1403.2h62v1h-62zM1139.3 1403.2h1v1h-1zM1072.3 1404.2h1v1h-1zM1074.3 1404.2h63v1h-63zM1065.3 1405.2h1v1h-1zM1069.3 1405.2h1v1h-1zM1073.3 1405.2h63v1h-63zM1064.3 1406.2h69v1h-69zM1064.3 1407.2h2v1h-2zM1067.3 1407.2h66v1h-66zM1067.3 1408.2h66v1h-66zM1142.3 1408.2h1v1h-1zM1065.3 1409.2h67v1h-67zM1066.3 1410.2h65v1h-65zM1139.3 1410.2h3v1h-3zM1065.3 1411.2h66v1h-66zM1139.3 1411.2h3v1h-3zM1066.3 1412.2h65v1h-65zM1138.3 1412.2h5v1h-5zM1065.3 1413.2h65v1h-65zM1139.3 1413.2h1v1h-1zM1142.3 1413.2h1v1h-1zM1063.3 1414.2h66v1h-66zM1136.3 1414.2h1v1h-1zM1138.3 1414.2h3v1h-3zM1063.3 1415.2h63v1h-63zM1137.3 1415.2h4v1h-4zM1059.3 1416.2h1v1h-1zM1062.3 1416.2h63v1h-63zM1136.3 1416.2h3v1h-3zM1140.3 1416.2h1v1h-1zM1053.3 1417.2h3v1h-3zM1060.3 1417.2h60v1h-60zM1121.3 1417.2h5v1h-5zM1135.3 1417.2h3v1h-3zM1052.3 1418.2h5v1h-5zM1059.3 1418.2h64v1h-64zM1134.3 1418.2h3v1h-3zM1051.3 1419.2h5v1h-5zM1057.3 1419.2h67v1h-67zM1048.3 1420.2h73v1h-73zM1124.3 1420.2h1v1h-1zM1036.3 1421.2h3v1h-3zM1045.3 1421.2h1v1h-1zM1047.3 1421.2h1v1h-1zM1049.3 1421.2h76v1h-76zM1036.3 1422.2h4v1h-4zM1046.3 1422.2h79v1h-79zM1036.3 1423.2h5v1h-5zM1045.3 1423.2h80v1h-80zM1036.3 1424.2h7v1h-7zM1044.3 1424.2h81v1h-81zM1036.3 1425.2h89v1h-89zM1038.3 1426.2h86v1h-86zM1037.3 1427.2h81v1h-81zM1120.3 1427.2h3v1h-3zM1037.3 1428.2h81v1h-81zM1037.3 1429.2h1v1h-1zM1039.3 1429.2h5v1h-5zM1045.3 1429.2h73v1h-73zM1119.3 1429.2h1v1h-1zM1037.3 1430.2h6v1h-6zM1045.3 1430.2h72v1h-72zM1119.3 1430.2h2v1h-2zM1038.3 1431.2h5v1h-5zM1044.3 1431.2h74v1h-74zM1039.3 1432.2h82v1h-82zM1037.3 1433.2h84v1h-84zM1038.3 1434.2h83v1h-83zM1037.3 1435.2h85v1h-85zM1037.3 1436.2h83v1h-83zM1031.3 1437.2h1v1h-1zM1034.3 1437.2h1v1h-1zM1037.3 1437.2h82v1h-82zM1030.3 1438.2h2v1h-2zM1034.3 1438.2h79v1h-79zM1114.3 1438.2h2v1h-2zM1033.3 1439.2h80v1h-80zM1030.3 1440.2h1v1h-1zM1032.3 1440.2h2v1h-2zM1035.3 1440.2h77v1h-77zM1113.3 1440.2h2v1h-2zM1031.3 1441.2h83v1h-83zM1032.3 1442.2h84v1h-84zM1034.3 1443.2h82v1h-82zM1034.3 1444.2h83v1h-83zM1034.3 1445.2h83v1h-83zM1035.3 1446.2h83v1h-83zM1034.3 1447.2h85v1h-85zM1035.3 1448.2h74v1h-74zM1112.3 1448.2h3v1h-3zM1116.3 1448.2h2v1h-2zM1034.3 1449.2h74v1h-74zM1117.3 1449.2h2v1h-2zM1033.3 1450.2h75v1h-75zM1032.3 1451.2h75v1h-75zM1109.3 1451.2h1v1h-1zM1031.3 1452.2h76v1h-76zM1108.3 1452.2h2v1h-2zM1030.3 1453.2h80v1h-80zM1030.3 1454.2h80v1h-80zM1113.3 1454.2h1v1h-1zM1021.3 1455.2h2v1h-2zM1029.3 1455.2h1v1h-1zM1031.3 1455.2h80v1h-80zM1112.3 1455.2h2v1h-2zM1019.3 1456.2h5v1h-5zM1029.3 1456.2h77v1h-77zM1108.3 1456.2h5v1h-5zM1018.3 1457.2h7v1h-7zM1030.3 1457.2h77v1h-77zM1109.3 1457.2h1v1h-1zM1018.3 1458.2h7v1h-7zM1030.3 1458.2h77v1h-77zM1019.3 1459.2h5v1h-5zM1031.3 1459.2h76v1h-76zM1019.3 1460.2h5v1h-5zM1032.3 1460.2h73v1h-73zM1020.3 1461.2h3v1h-3zM1031.3 1461.2h73v1h-73zM1030.3 1462.2h73v1h-73zM1030.3 1463.2h72v1h-72zM1029.3 1464.2h73v1h-73zM1027.3 1465.2h75v1h-75zM1024.3 1466.2h77v1h-77zM1103.3 1466.2h3v1h-3zM1024.3 1467.2h83v1h-83zM1023.3 1468.2h84v1h-84zM1025.3 1469.2h81v1h-81zM1026.3 1470.2h80v1h-80zM1025.3 1471.2h1v1h-1zM1027.3 1471.2h79v1h-79zM1024.3 1472.2h3v1h-3zM1028.3 1472.2h78v1h-78zM1023.3 1473.2h3v1h-3zM1027.3 1473.2h77v1h-77zM1023.3 1474.2h81v1h-81zM1022.3 1475.2h82v1h-82zM1021.3 1476.2h81v1h-81zM1017.3 1477.2h1v1h-1zM1020.3 1477.2h81v1h-81zM1021.3 1478.2h79v1h-79zM1020.3 1479.2h74v1h-74zM1095.3 1479.2h1v1h-1zM1097.3 1479.2h1v1h-1zM1019.3 1480.2h75v1h-75zM1019.3 1481.2h75v1h-75zM1097.3 1481.2h2v1h-2zM1018.3 1482.2h78v1h-78zM1098.3 1482.2h2v1h-2zM1018.3 1483.2h80v1h-80zM1099.3 1483.2h1v1h-1zM1018.3 1484.2h80v1h-80zM1019.3 1485.2h79v1h-79zM1017.3 1486.2h78v1h-78zM1017.3 1487.2h73v1h-73zM1092.3 1487.2h3v1h-3zM1017.3 1488.2h73v1h-73zM1092.3 1488.2h2v1h-2zM1018.3 1489.2h73v1h-73zM1092.3 1489.2h1v1h-1zM1018.3 1490.2h4v1h-4zM1023.3 1490.2h60v1h-60zM1084.3 1490.2h4v1h-4zM1090.3 1490.2h1v1h-1zM1018.3 1491.2h4v1h-4zM1025.3 1491.2h62v1h-62zM1088.3 1491.2h2v1h-2zM1020.3 1492.2h2v1h-2zM1026.3 1492.2h58v1h-58zM1085.3 1492.2h3v1h-3zM1019.3 1493.2h2v1h-2zM1022.3 1493.2h1v1h-1zM1026.3 1493.2h46v1h-46zM1073.3 1493.2h10v1h-10zM1085.3 1493.2h3v1h-3zM1022.3 1494.2h1v1h-1zM1027.3 1494.2h3v1h-3zM1033.3 1494.2h36v1h-36zM1072.3 1494.2h10v1h-10zM1026.3 1495.2h5v1h-5zM1033.3 1495.2h12v1h-12zM1046.3 1495.2h21v1h-21zM1072.3 1495.2h3v1h-3zM1076.3 1495.2h5v1h-5zM1088.3 1495.2h2v1h-2zM1026.3 1496.2h17v1h-17zM1045.3 1496.2h21v1h-21zM1025.3 1497.2h17v1h-17zM1044.3 1497.2h15v1h-15zM1062.3 1497.2h3v1h-3zM1088.3 1497.2h1v1h-1zM1026.3 1498.2h16v1h-16zM1043.3 1498.2h16v1h-16zM1060.3 1498.2h2v1h-2zM1026.3 1499.2h26v1h-26zM1059.3 1499.2h1v1h-1zM1061.3 1499.2h1v1h-1zM1026.3 1500.2h25v1h-25zM1057.3 1500.2h3v1h-3zM1091.3 1500.2h1v1h-1zM1026.3 1501.2h7v1h-7zM1036.3 1501.2h1v1h-1zM1038.3 1501.2h1v1h-1zM1040.3 1501.2h6v1h-6zM1048.3 1501.2h1v1h-1zM1057.3 1501.2h4v1h-4zM1028.3 1502.2h1v1h-1zM1037.3 1502.2h5v1h-5zM1043.3 1502.2h4v1h-4zM1056.3 1502.2h5v1h-5zM1039.3 1503.2h1v1h-1zM1055.3 1503.2h7v1h-7zM1054.3 1504.2h8v1h-8zM1055.3 1505.2h6v1h-6zM1056.3 1506.2h4v1h-4zM1055.3 1507.2h1v1h-1zM1057.3 1507.2h3v1h-3zM1053.3 1508.2h2v1h-2zM1054.3 1509.2h2v1h-2zM841.3 1510.2h1v1h-1zM1054.3 1510.2h3v1h-3zM840.3 1511.2h2v1h-2zM1047.3 1512.2h1v1h-1zM1047.3 1513.2h2v1h-2zM1047.3 1514.2h2v1h-2zM1023.3 1515.2h2v1h-2zM1029.3 1515.2h2v1h-2zM1047.3 1515.2h3v1h-3zM1020.3 1516.2h1v1h-1zM1023.3 1516.2h2v1h-2zM1028.3 1516.2h1v1h-1zM1046.3 1516.2h2v1h-2zM1061.3 1516.2h1v1h-1zM1024.3 1517.2h2v1h-2zM1028.3 1517.2h1v1h-1zM1060.3 1517.2h1v1h-1zM1020.3 1518.2h3v1h-3zM1028.3 1518.2h1v1h-1zM824.3 1524.2h2v1h-2zM823.3 1525.2h3v1h-3zM1009.3 1525.2h3v1h-3zM822.3 1526.2h6v1h-6zM1008.3 1526.2h3v1h-3zM822.3 1527.2h6v1h-6zM984.3 1527.2h1v1h-1zM986.3 1527.2h1v1h-1zM1007.3 1527.2h5v1h-5zM1042.3 1527.2h2v1h-2zM821.3 1528.2h8v1h-8zM838.3 1528.2h3v1h-3zM981.3 1528.2h1v1h-1zM983.3 1528.2h3v1h-3zM1008.3 1528.2h4v1h-4zM1026.3 1528.2h2v1h-2zM1043.3 1528.2h1v1h-1zM823.3 1529.2h1v1h-1zM825.3 1529.2h3v1h-3zM837.3 1529.2h5v1h-5zM980.3 1529.2h2v1h-2zM1007.3 1529.2h3v1h-3zM1011.3 1529.2h1v1h-1zM1043.3 1529.2h1v1h-1zM824.3 1530.2h3v1h-3zM828.3 1530.2h1v1h-1zM836.3 1530.2h7v1h-7zM1008.3 1530.2h2v1h-2zM1023.3 1530.2h2v1h-2zM829.3 1531.2h1v1h-1zM836.3 1531.2h8v1h-8zM1003.3 1531.2h1v1h-1zM1008.3 1531.2h2v1h-2zM1023.3 1531.2h3v1h-3zM1034.3 1531.2h1v1h-1zM827.3 1532.2h1v1h-1zM829.3 1532.2h1v1h-1zM836.3 1532.2h1v1h-1zM838.3 1532.2h5v1h-5zM1023.3 1532.2h3v1h-3zM1034.3 1532.2h1v1h-1zM823.3 1533.2h1v1h-1zM828.3 1533.2h2v1h-2zM837.3 1533.2h5v1h-5zM984.3 1533.2h1v1h-1zM827.3 1534.2h2v1h-2zM831.3 1534.2h3v1h-3zM838.3 1534.2h3v1h-3zM848.3 1534.2h2v1h-2zM985.3 1534.2h1v1h-1zM830.3 1535.2h6v1h-6zM848.3 1535.2h2v1h-2zM985.3 1535.2h2v1h-2zM829.3 1536.2h7v1h-7zM845.3 1536.2h1v1h-1zM849.3 1536.2h3v1h-3zM979.3 1536.2h2v1h-2zM982.3 1536.2h1v1h-1zM986.3 1536.2h3v1h-3zM829.3 1537.2h9v1h-9zM840.3 1537.2h3v1h-3zM847.3 1537.2h2v1h-2zM978.3 1537.2h1v1h-1zM980.3 1537.2h1v1h-1zM982.3 1537.2h1v1h-1zM986.3 1537.2h2v1h-2zM829.3 1538.2h3v1h-3zM833.3 1538.2h2v1h-2zM836.3 1538.2h2v1h-2zM839.3 1538.2h3v1h-3zM847.3 1538.2h2v1h-2zM978.3 1538.2h4v1h-4zM984.3 1538.2h1v1h-1zM831.3 1539.2h4v1h-4zM836.3 1539.2h7v1h-7zM847.3 1539.2h1v1h-1zM849.3 1539.2h2v1h-2zM977.3 1539.2h5v1h-5zM984.3 1539.2h1v1h-1zM834.3 1540.2h3v1h-3zM838.3 1540.2h8v1h-8zM847.3 1540.2h3v1h-3zM977.3 1540.2h4v1h-4zM986.3 1540.2h1v1h-1zM833.3 1541.2h1v1h-1zM835.3 1541.2h14v1h-14zM850.3 1541.2h1v1h-1zM852.3 1541.2h1v1h-1zM976.3 1541.2h1v1h-1zM978.3 1541.2h1v1h-1zM980.3 1541.2h3v1h-3zM985.3 1541.2h3v1h-3zM830.3 1542.2h4v1h-4zM835.3 1542.2h16v1h-16zM853.3 1542.2h1v1h-1zM977.3 1542.2h1v1h-1zM979.3 1542.2h1v1h-1zM982.3 1542.2h1v1h-1zM984.3 1542.2h5v1h-5zM831.3 1543.2h20v1h-20zM852.3 1543.2h2v1h-2zM962.3 1543.2h2v1h-2zM983.3 1543.2h5v1h-5zM831.3 1544.2h22v1h-22zM854.3 1544.2h2v1h-2zM961.3 1544.2h3v1h-3zM983.3 1544.2h5v1h-5zM832.3 1545.2h20v1h-20zM854.3 1545.2h3v1h-3zM961.3 1545.2h3v1h-3zM984.3 1545.2h2v1h-2zM823.3 1546.2h1v1h-1zM831.3 1546.2h17v1h-17zM853.3 1546.2h1v1h-1zM860.3 1546.2h2v1h-2zM961.3 1546.2h2v1h-2zM831.3 1547.2h17v1h-17zM855.3 1547.2h2v1h-2zM859.3 1547.2h6v1h-6zM832.3 1548.2h1v1h-1zM834.3 1548.2h1v1h-1zM837.3 1548.2h10v1h-10zM852.3 1548.2h2v1h-2zM856.3 1548.2h1v1h-1zM858.3 1548.2h8v1h-8zM835.3 1549.2h1v1h-1zM837.3 1549.2h9v1h-9zM848.3 1549.2h1v1h-1zM852.3 1549.2h3v1h-3zM857.3 1549.2h9v1h-9zM834.3 1550.2h1v1h-1zM836.3 1550.2h1v1h-1zM838.3 1550.2h7v1h-7zM847.3 1550.2h1v1h-1zM849.3 1550.2h1v1h-1zM851.3 1550.2h2v1h-2zM857.3 1550.2h7v1h-7zM826.3 1551.2h1v1h-1zM838.3 1551.2h7v1h-7zM849.3 1551.2h1v1h-1zM852.3 1551.2h2v1h-2zM858.3 1551.2h6v1h-6zM828.3 1552.2h2v1h-2zM839.3 1552.2h5v1h-5zM845.3 1552.2h5v1h-5zM852.3 1552.2h1v1h-1zM858.3 1552.2h5v1h-5zM829.3 1553.2h3v1h-3zM839.3 1553.2h4v1h-4zM845.3 1553.2h4v1h-4zM860.3 1553.2h2v1h-2zM828.3 1554.2h5v1h-5zM840.3 1554.2h2v1h-2zM845.3 1554.2h5v1h-5zM827.3 1555.2h7v1h-7zM846.3 1555.2h2v1h-2zM849.3 1555.2h1v1h-1zM827.3 1556.2h7v1h-7zM837.3 1556.2h3v1h-3zM845.3 1556.2h4v1h-4zM827.3 1557.2h8v1h-8zM836.3 1557.2h6v1h-6zM845.3 1557.2h1v1h-1zM859.3 1557.2h2v1h-2zM968.3 1557.2h1v1h-1zM828.3 1558.2h14v1h-14zM845.3 1558.2h7v1h-7zM859.3 1558.2h2v1h-2zM828.3 1559.2h16v1h-16zM846.3 1559.2h1v1h-1zM848.3 1559.2h5v1h-5zM964.3 1559.2h2v1h-2zM828.3 1560.2h18v1h-18zM847.3 1560.2h7v1h-7zM965.3 1560.2h2v1h-2zM828.3 1561.2h13v1h-13zM842.3 1561.2h9v1h-9zM852.3 1561.2h2v1h-2zM965.3 1561.2h3v1h-3zM828.3 1562.2h1v1h-1zM830.3 1562.2h1v1h-1zM833.3 1562.2h10v1h-10zM844.3 1562.2h8v1h-8zM965.3 1562.2h3v1h-3zM828.3 1563.2h2v1h-2zM834.3 1563.2h8v1h-8zM845.3 1563.2h5v1h-5zM966.3 1563.2h2v1h-2zM835.3 1564.2h3v1h-3zM840.3 1564.2h2v1h-2zM846.3 1564.2h2v1h-2zM849.3 1564.2h3v1h-3zM965.3 1564.2h2v1h-2zM835.3 1565.2h4v1h-4zM846.3 1565.2h1v1h-1zM850.3 1565.2h1v1h-1zM832.3 1566.2h1v1h-1zM836.3 1566.2h3v1h-3zM845.3 1566.2h1v1h-1zM849.3 1566.2h1v1h-1zM831.3 1567.2h4v1h-4zM830.3 1568.2h7v1h-7zM830.3 1569.2h7v1h-7zM830.3 1570.2h1v1h-1zM832.3 1570.2h5v1h-5zM833.3 1571.2h4v1h-4zM834.3 1572.2h1v1h-1zM826.3 1575.2h1v1h-1zM825.3 1576.2h2v1h-2zM828.3 1576.2h1v1h-1zM825.3 1577.2h2v1h-2zM828.3 1577.2h1v1h-1zM824.3 1578.2h1v1h-1zM824.3 1579.2h2v1h-2zM825.3 1580.2h1v1h-1zM825.3 1582.2h2v1h-2zM823.3 1583.2h4v1h-4zM822.3 1584.2h4v1h-4zM823.3 1585.2h1v1h-1zM901.3 1598.2h1v1h-1zM900.3 1599.2h1v1h-1z"/>
<path class="mk" d="M1105.6 1469.3 1045.4 1528.8 863.4 1555.0 828.4 1584.2 1102.1 1375.7 1047.2 1501.5 830.3 1536.0 1133.9 1417.8 1009.7 1529.7 1043.0 1535.4 1040.2 1423.1 824.1 1583.2 1023.3 1478.7 1130.4 1445.2 1102.6 1472.4 975.8 1545.0 986.1 1566.3 853.3 1551.9 832.1 1559.7 1028.3 1458.7 821.0 1549.6 954.3 1515.4 1032.1 1500.0 1031.2 1519.0 859.7 1540.9 1141.6 1367.0 1145.6 1391.6 925.7 1599.8 832.6 1515.4 840.9 1566.0 1017.9 1527.2 1008.3 1505.4 1048.7 1413.3 877.7 1543.6 1029.9 1466.7 1043.1 1500.2 835.4 1560.3 839.9 1531.8 1103.3 1459.6 828.5 1614.7 853.8 1546.6 1096.5 1482.6 1106.5 1452.7 1021.2 1538.5 950.8 1532.7 1172.4 1430.1 1058.2 1504.0 996.0 1425.3 865.2 1528.6 1040.6 1429.4 1044.5 1425.2 1050.6 1499.9 1186.0 1382.5 1050.2 1409.8 886.5 1634.4 1045.0 1430.4 816.3 1551.2 949.8 1482.1 1123.8 1363.6 1126.6 1427.1 1052.2 1408.2 902.2 1521.4 833.6 1535.0 1093.2 1385.7 1038.5 1509.7 848.2 1565.3 1175.5 1442.2 1096.4 1482.5 980.1 1533.6 1067.4 1407.7 1116.2 1452.5 1083.4 1490.6 1139.9 1376.4 1119.1 1449.8 1118.5 1432.5 1019.5 1479.8 847.1 1571.3 904.3 1613.3 840.5 1526.7 834.1 1542.3 812.5 1564.7 999.9 1445.8 886.2 1529.4 1112.3 1458.2 851.1 1542.4 845.6 1530.8 888.1 1489.7 835.7 1543.3 925.3 1603.8 978.3 1352.6 915.3 1609.8 1036.0 1530.0 821.6 1531.5 1121.7 1460.6 828.2 1554.4 888.0 1590.8 1150.9 1385.3 1126.7 1431.2 1054.5 1342.5 1061.7 1418.6 939.3 1487.0 809.9 1570.6 1017.1 1501.8 847.9 1555.4 1020.0 1493.9 1075.4 1357.6 1071.8 1366.1 1127.3 1413.6 933.9 1587.3 976.5 1364.5 1065.9 1496.0 848.4 1526.5 1030.9 1517.5 1061.4 1399.4 1065.3 1412.3 1128.4 1410.7 833.4 1562.4 1160.2 1393.0 920.7 1607.1 1113.4 1440.9 825.2 1582.3 861.7 1560.2 1103.5 1474.5 1083.7 1389.7 1100.0 1393.2 835.3 1558.0 1017.3 1503.3 1103.3 1396.0 835.8 1547.5 813.5 1516.4 841.6 1541.2 1123.4 1424.7 1120.6 1424.4 1028.2 1466.8 1120.3 1428.0 1104.2 1371.5 1002.4 1515.6 1095.5 1489.3 1178.4 1420.8 1118.7 1435.7 828.6 1553.9 888.1 1604.4 1023.2 1488.5 832.3 1562.8 1032.2 1532.4 832.2 1591.5 1084.1 1385.7 1108.1 1451.9 1103.3 1390.2 1099.3 1486.1 1110.9 1371.2 1107.1 1447.7 803.0 1562.1 1005.1 1533.3 862.0 1594.3 1071.0 1550.8 1146.5 1374.9 894.3 1465.6 1139.6 1389.3 1124.4 1370.4 1107.6 1391.8 965.1 1379.9 1119.2 1373.9 847.0 1540.0 995.1 1469.8 1131.0 1368.8 1021.3 1450.2 839.4 1559.0 824.2 1562.7 806.2 1538.5 971.6 1456.7 1020.6 1459.5 1073.4 1328.8 1138.4 1397.8 1011.4 1522.9 998.1 1555.8 1148.3 1388.2 1017.0 1420.2 844.0 1572.6 1035.9 1511.5 1082.3 1399.8 1099.3 1388.6 981.6 1545.0 1052.3 1382.1 823.6 1576.8 823.5 1582.2 824.5 1549.5 952.7 1545.6 827.6 1531.2 996.9 1571.7 1119.0 1436.3 1155.1 1390.9 1026.6 1607.7 1031.1 1440.8 906.4 1589.2 853.9 1602.0 1025.1 1544.3 1042.0 1502.3 1152.6 1396.5 1092.9 1503.3 1114.5 1458.0 906.1 1615.8 907.5 1457.1 980.7 1523.1 851.8 1559.5 1027.0 1460.4 1046.7 1499.3 1119.0 1446.7 964.2 1544.8 844.5 1587.8 1034.6 1429.8 1032.3 1463.4 1096.2 1516.0 1020.1 1488.6 1102.9 1474.1 1047.3 1422.3 840.0 1559.3 946.6 1411.7 847.2 1499.4 909.6 1585.0 813.5 1545.7 987.7 1534.0 1031.8 1439.2 1139.4 1382.5 1004.6 1508.9 860.5 1560.6 978.7 1539.6 1153.7 1430.2 875.3 1627.1 1033.7 1454.3 1038.0 1532.0 1037.7 1423.3 1118.3 1435.1 857.9 1503.8 973.4 1553.0 913.9 1496.1 887.7 1628.9 1097.2 1397.7 961.1 1380.8 831.5 1577.7 839.2 1553.2 1135.2 1368.0 1026.5 1498.9 986.3 1551.1 1115.4 1444.7 829.0 1531.3 863.8 1529.7 841.1 1556.1 996.8 1537.9 1135.3 1415.5 1058.6 1504.4 837.2 1543.0 863.2 1549.9 1085.3 1401.6 1095.7 1503.8 1042.0 1513.4 837.7 1574.1 820.7 1534.8 1126.1 1445.9 1196.1 1413.3 1121.8 1371.2 1098.5 1389.8 1096.7 1375.7 1034.3 1535.1 1030.5 1435.8 985.8 1545.5 970.1 1555.0 958.4 1545.5 850.4 1539.2 1107.5 1456.2 987.5 1543.7 1090.8 1379.2 1126.5 1360.3 1041.8 1494.7 962.9 1362.3 872.8 1557.9 895.7 1460.2 935.1 1415.3 1115.1 1464.5 884.5 1475.8 1026.0 1488.4 961.5 1416.2 867.1 1588.2 1139.8 1385.4 1109.6 1384.5 1148.7 1408.1 901.7 1510.0 1039.1 1516.9 841.8 1533.5 1045.0 1418.2 1098.8 1392.3 1010.3 1487.5 1036.1 1505.4 1072.9 1399.2 850.5 1547.2 1030.9 1451.3 832.1 1514.8 991.0 1522.8 993.0 1516.4 1094.7 1385.5 967.4 1389.9 794.5 1534.1 1002.6 1534.1 1096.7 1397.6 1060.1 1514.7 1132.5 1411.3 1058.5 1496.7 847.2 1547.8 1014.6 1476.6 972.0 1369.0 1105.9 1394.5 940.4 1567.8 1132.8 1375.9 1054.1 1499.8 1039.9 1438.4 1013.9 1627.1 1020.7 1482.7 884.1 1503.6 1136.4 1402.5 1040.4 1435.6 932.2 1512.7 1047.8 1513.4 810.9 1585.7 1137.6 1416.1 826.9 1545.4 1130.9 1450.1 903.5 1599.6 963.0 1587.9 1059.8 1517.8 990.4 1543.5 828.8 1529.4 851.1 1536.6 973.2 1543.3 1115.4 1346.9 1037.8 1437.1 1115.7 1451.0 1126.0 1359.2 893.9 1613.5 818.4 1525.0 1013.2 1473.2 1091.2 1396.5 836.7 1522.7 813.3 1553.6 1014.6 1546.5 869.2 1566.0 811.6 1617.0 1062.6 1413.5 1196.1 1316.8 1047.3 1424.7 843.9 1535.0 903.0 1564.4 848.5 1566.9 1032.7 1456.7 896.8 1597.5 1045.6 1405.7 1135.9 1428.6 939.3 1471.6 1006.2 1495.5 967.8 1569.2 1038.0 1505.6 948.0 1523.6 820.5 1574.6 1056.0 1507.4 1144.1 1383.3 867.0 1531.6 1061.0 1504.3 1022.1 1459.0 1028.3 1472.9 1005.8 1559.5 818.8 1558.0 1110.4 1381.9 930.5 1581.5 1078.3 1406.0 1110.5 1477.8 1142.0 1382.9 989.6 1507.8 1026.4 1531.4 858.6 1536.8 1151.0 1390.8 1096.6 1372.0 1059.8 1503.6 1139.8 1418.0 1062.3 1405.7 1018.7 1506.3 1054.8 1420.6 1075.0 1395.2 961.7 1555.0 868.0 1549.0 830.4 1528.7 1149.2 1381.9 1135.4 1435.8 1142.5 1392.1 827.8 1549.6 1134.3 1417.1 1043.4 1396.6 1127.5 1438.3 1007.0 1533.0 1036.2 1445.0 1023.8 1457.7 851.0 1543.1"/>
<path class="mk" d="M1064.7 1403.0 974.9 1530.8 823.2 1525.7 1042.6 1504.0 950.5 1575.9 1143.3 1411.2 1039.5 1500.3 1036.1 1422.7 1110.2 1378.1 1156.7 1403.9 1025.9 1531.0 1102.1 1359.1 1065.3 1383.7 855.2 1537.0 1020.1 1318.1 998.0 1472.9 1061.8 1519.9 1087.4 1400.0 1024.3 1529.9 838.5 1563.9 1009.8 1526.0 1109.6 1446.0 1080.5 1399.4 1090.1 1400.0 1006.5 1530.6 967.5 1554.8 830.1 1567.9 1149.2 1373.9 902.7 1592.6 899.0 1597.7 1053.4 1367.4 1144.0 1390.6 968.4 1363.0 875.9 1547.6 845.2 1518.9 985.4 1542.5 1089.4 1501.1 954.2 1546.3 1104.1 1459.4 1132.1 1373.5 1088.5 1495.0 806.8 1572.7 836.6 1538.2 1000.1 1509.0 1028.5 1491.5 1123.7 1448.2 1060.3 1514.3 1142.0 1404.1 1038.1 1438.7 1141.6 1426.4 859.8 1486.1 859.3 1560.8 844.1 1512.3 942.9 1391.1 845.9 1568.3 984.5 1543.1 1022.5 1455.7 1114.5 1437.4 1024.6 1419.5 932.9 1590.4 1091.3 1489.8 1071.0 1392.4 1082.9 1376.8 1127.7 1361.5 1201.0 1312.0 1112.9 1475.6 1030.8 1508.5 957.2 1528.5 1123.7 1364.3 1048.2 1515.4 830.0 1594.7 1056.4 1509.1 1118.5 1370.3 918.4 1605.6 813.9 1578.9 1112.9 1438.4 1062.9 1417.6 810.0 1544.5 1031.4 1328.5 1025.9 1567.7 1120.5 1460.7 1080.1 1395.8 852.5 1585.1 932.0 1542.3 1052.2 1419.8 834.9 1568.4 1065.9 1519.5 835.5 1558.5 844.1 1560.8 1093.1 1483.9 838.9 1565.0 1141.6 1414.1 1040.5 1429.9 945.5 1555.7 913.3 1432.5 1098.9 1386.8 1052.4 1420.1 1029.6 1500.6 903.9 1457.1 1106.8 1457.1 834.3 1570.3 1112.3 1379.3 924.6 1578.0 1075.7 1493.7 1016.3 1488.6 892.6 1496.1 1056.4 1419.6 914.6 1595.1 1003.9 1510.3 1021.8 1491.5 956.7 1543.6 1015.2 1477.8 967.0 1566.2 963.0 1529.8 1116.2 1378.7 1029.0 1497.8 1014.2 1452.1 1031.8 1497.9 1032.7 1451.6 832.5 1546.0 829.7 1555.7 919.1 1577.7 1077.9 1522.0 925.3 1595.4 986.5 1365.4 1146.1 1382.2 837.2 1532.0 1052.6 1525.7 990.9 1538.5 1099.3 1392.1 813.0 1574.9 1035.6 1498.8 985.3 1536.4 1086.9 1490.2 1094.0 1392.0 988.3 1580.9 1047.3 1495.1 1019.4 1528.1 908.0 1608.0 795.9 1544.3 1017.9 1470.7 1029.5 1443.4 879.0 1532.7 815.1 1566.0 1125.5 1418.1 1115.7 1350.4 1022.2 1462.7 1079.0 1370.1 1179.2 1351.4 851.6 1544.3 1003.7 1565.5 1021.4 1521.4 805.9 1545.1 1143.7 1386.2 979.9 1537.6 968.9 1533.7 1056.6 1418.0 1034.0 1440.1 1143.6 1430.2 1111.1 1454.5 943.3 1556.3 989.0 1518.3 1117.9 1459.4 1059.0 1503.3 1044.3 1430.9 1192.3 1336.3 1108.7 1382.0 1061.2 1399.9 1008.9 1528.5 1002.3 1528.7 1022.2 1490.2 849.0 1532.5 1119.4 1430.9 1092.2 1486.9 825.0 1527.5 970.5 1597.9 820.5 1533.2 837.5 1506.4 1104.1 1457.1 1085.1 1387.5 793.8 1583.9 1030.8 1460.4 840.9 1601.3 1125.0 1465.2 992.9 1330.9 905.0 1512.7 1138.0 1397.5 1144.8 1385.3 1073.3 1393.6 1132.8 1403.5 1019.7 1487.1 1038.0 1521.6 836.0 1528.7 836.1 1536.1 1031.7 1324.3 1094.6 1476.6 816.9 1580.4 1103.7 1394.0 1066.1 1408.3 970.3 1523.0 1106.5 1460.4 857.2 1591.1 1059.9 1531.5 1047.0 1416.0 810.5 1541.8 816.1 1526.7 1025.6 1465.2 1057.0 1500.8 975.5 1554.0 1042.2 1563.5 825.5 1527.4 903.1 1599.9 900.3 1483.4 848.4 1553.3 819.7 1576.9 1010.1 1525.5 1025.9 1515.1 949.8 1543.2 1017.4 1314.5 1032.5 1461.2 1025.1 1471.7 949.3 1573.5 1106.2 1368.2 1014.3 1554.5 852.0 1568.4 1085.8 1384.8 1020.2 1495.1 987.9 1539.9 1004.7 1565.7 1073.0 1407.0 948.7 1391.1 1081.7 1401.7 1036.2 1494.5 829.1 1558.8 1067.3 1492.4 848.9 1557.4 841.5 1513.2 834.1 1567.3 846.8 1551.7 1037.5 1448.2 1029.1 1493.6 932.2 1599.6 1022.1 1430.2 1000.4 1510.7 1057.8 1505.4 988.4 1535.8 1029.3 1499.5 987.4 1344.5 840.1 1522.3 942.2 1537.2 937.0 1402.2 958.9 1536.3 1071.1 1406.6 909.3 1445.3 969.3 1395.0 1105.9 1372.3 967.4 1407.1 824.2 1520.5 1057.6 1495.5 979.4 1541.3 927.0 1588.1 1023.4 1479.1 834.6 1547.2 919.8 1619.8 990.0 1560.8 1140.2 1409.4 1060.9 1537.5 963.8 1386.2 860.9 1559.2 1047.3 1499.8 1105.8 1470.1 842.8 1552.6 1136.5 1394.3 965.3 1565.1 1056.0 1518.5 1107.6 1355.3 1102.5 1495.0 1064.8 1499.7 1036.4 1438.3 1057.5 1509.4 1009.5 1448.6 1049.9 1499.1 1029.8 1493.0 817.9 1541.1 837.3 1549.5 1014.7 1421.7 967.1 1553.1 1102.0 1388.0 814.7 1535.9 1029.1 1523.0 1099.9 1466.4 1125.8 1414.2 1047.1 1506.0 985.1 1374.4 943.3 1408.9 832.1 1539.2 1023.1 1468.6 1014.1 1534.6 1067.6 1413.9 844.7 1563.2 1123.1 1429.3 1111.4 1456.7 1035.9 1501.1 864.0 1583.0 868.4 1639.4 901.7 1615.8 1134.2 1405.3 837.4 1547.9 1138.4 1389.0 1144.7 1404.8 1091.1 1396.7 982.3 1587.9 827.5 1555.1 915.8 1593.5 1133.1 1410.8 1060.5 1391.4 1145.4 1414.0 1089.6 1386.6 1179.2 1332.6 881.0 1629.0 1099.3 1386.2 987.1 1356.8 1022.5 1511.2 1088.9 1492.4 840.1 1540.4 1034.9 1452.0 1127.9 1432.9 1089.8 1388.8 1123.5 1423.0 1028.5 1450.3 857.3 1545.6 852.0 1553.7 1075.5 1496.4 965.6 1528.0 1038.1 1422.7 1045.0 1528.0 955.6 1477.9 1147.0 1389.0 837.8 1585.0 1120.3 1371.3 1001.4 1542.7 919.7 1492.5 1115.2 1443.6 1128.9 1416.3 980.3 1549.6 1093.7 1495.8 1069.4 1402.2 1024.2 1469.3 854.8 1550.6 1154.8 1352.5 881.7 1542.8 1082.3 1504.3 911.9 1589.0 1026.3 1469.2 1067.0 1414.7 1091.0 1497.6 1183.0 1361.9 959.1 1553.4 968.2 1559.6 1007.5 1536.6 1173.6 1318.3 920.2 1444.4 978.0 1544.0 1037.9 1525.6 948.7 1574.6 1095.1 1501.6 1097.7 1385.7 1089.1 1485.6 813.7 1552.9 838.2 1563.4 1091.9 1488.1 1141.2 1408.0 1041.1 1413.9 1063.9 1499.0 847.1 1555.3 1026.8 1530.0 1061.2 1401.3 875.3 1512.7 1024.9 1535.0 1048.5 1415.0 1003.4 1517.8 830.9 1561.2 1017.4 1516.1 1075.0 1507.6 1027.4 1500.1 1033.7 1462.9 1034.7 1428.6 1061.1 1414.4 1042.7 1434.7 905.7 1452.5 1082.5 1358.7 991.2 1504.1 865.2 1550.5 1050.2 1422.2 1030.3 1498.7 894.7 1593.7 972.5 1379.9 830.5 1535.9 934.9 1568.6 1012.0 1461.7"/>
<path class="mk" d="M1019.2 1491.6 1026.4 1474.8 976.7 1548.5 860.0 1552.1 851.2 1573.6 897.1 1528.1 932.9 1609.5 1131.7 1373.1 1126.6 1357.0 987.8 1484.7 1130.9 1369.9 1008.2 1546.3 1036.0 1399.7 1100.8 1480.8 1084.8 1489.5 859.3 1566.5 845.0 1554.2 1002.2 1521.3 855.9 1574.9 860.8 1550.6 1071.4 1490.3 1122.9 1365.9 1038.2 1447.0 947.4 1579.9 892.6 1504.5 1150.5 1380.3 891.3 1513.6 987.0 1529.3 964.9 1545.3 1113.0 1438.8 966.4 1562.1 850.4 1550.5 1046.7 1511.5 917.1 1415.8 841.9 1508.3 1029.4 1525.2 1184.8 1393.4 1084.5 1402.0 833.9 1554.5 1117.2 1435.8 987.7 1518.4 1146.2 1396.8 1118.7 1434.3 980.5 1539.5 1050.0 1423.8 962.5 1583.0 1040.1 1505.9 852.1 1514.7 870.9 1549.0 826.1 1567.8 1143.7 1376.9 1050.6 1513.6 1048.4 1518.6 1055.6 1412.6 1064.4 1497.3 922.4 1592.5 1109.0 1387.6 1186.7 1352.1 1053.3 1518.4 895.4 1594.1 862.2 1550.0 844.0 1521.0 1070.9 1409.2 850.9 1561.6 1026.2 1494.5 1108.4 1379.0 839.6 1599.2 1033.3 1493.8 938.4 1523.5 964.9 1545.4 826.4 1585.9 1119.9 1460.2 1158.6 1375.8 974.2 1391.1 1123.6 1360.8 973.3 1537.6 1123.1 1371.4 1120.4 1448.7 892.6 1668.9 1004.3 1556.6 1020.8 1487.9 1039.2 1499.4 1022.4 1475.5 987.6 1552.7 976.0 1448.0 1169.8 1368.2 985.5 1535.3 844.4 1518.5 1021.4 1458.5 848.9 1563.5 903.8 1599.8 1072.3 1396.3 930.3 1594.9 1169.8 1345.7 827.2 1541.8 1035.0 1444.9 1004.4 1521.6 1105.8 1448.4 993.6 1542.2 841.4 1529.5 1139.4 1413.3 964.3 1563.1 834.9 1538.7 1130.5 1362.1 829.8 1523.2 1051.6 1504.3 1190.5 1363.7 889.0 1655.8 974.2 1562.8 1026.8 1511.9 1113.1 1446.6 846.3 1526.6 1109.1 1463.9 1120.4 1428.0 1019.5 1461.2 981.4 1514.7 841.1 1509.6 1000.8 1548.8 1023.9 1434.8 1027.5 1525.8 1091.6 1403.1 1018.1 1498.4 929.3 1578.5 1108.7 1390.1 1147.9 1396.6 1023.4 1505.5 1015.2 1500.0 1049.6 1516.3 1085.2 1391.6 952.9 1379.0 1101.5 1465.3 825.4 1577.1 1060.8 1501.8 828.0 1521.9 902.2 1517.2 798.9 1579.9 871.7 1555.1 1019.0 1526.5 1109.9 1475.1 879.5 1685.2 962.6 1545.9 1046.9 1528.3 973.8 1531.5 844.4 1538.6 1045.3 1514.7 837.0 1568.6 1056.7 1512.5 1024.2 1517.8 876.3 1594.4 1033.1 1465.0 1012.2 1530.9 1109.1 1387.2 1049.1 1403.0 853.9 1504.4 997.4 1517.6 967.6 1559.2 853.9 1558.2 1199.8 1439.6 839.8 1529.3 1100.8 1397.1 832.8 1570.2 1146.9 1394.1 835.9 1566.4 1131.2 1472.4 1005.5 1543.6 1073.9 1493.1 938.0 1558.0 1101.7 1468.7 1000.6 1551.8 832.6 1538.1 1067.5 1409.5 841.3 1560.4 979.0 1529.1 973.0 1548.3 1095.2 1485.5 834.7 1577.6 989.7 1527.3 1088.3 1490.6 1018.2 1514.0 915.7 1423.1 1031.0 1456.7 1029.6 1512.4 986.0 1543.6 1097.8 1485.1 1053.0 1509.9 976.5 1487.9 817.9 1565.6 1102.1 1387.5 827.5 1593.9 1032.5 1455.4 1151.4 1382.7 1018.5 1430.7 1136.7 1369.5 1111.8 1445.5 1021.9 1458.0 1009.2 1577.2 1011.8 1518.3 1001.0 1335.4 855.5 1551.4 1042.6 1539.2 1136.9 1369.3 909.4 1583.4 848.0 1544.9 1192.3 1353.2 1011.3 1468.5 1044.4 1426.1 1028.1 1496.2 847.7 1542.2 890.8 1528.1 1096.8 1365.1 869.9 1553.5 824.9 1525.3 966.7 1574.2 1065.9 1542.0 868.1 1464.7 1188.6 1332.6 1057.9 1410.0 1068.1 1407.7 1120.9 1416.8 900.8 1607.1 1018.1 1447.6 836.8 1573.5 830.5 1545.9 1017.4 1324.0 1107.7 1386.9 828.2 1578.2 999.0 1525.6 873.8 1571.2 927.0 1409.9 1101.7 1481.7 815.2 1544.9 832.5 1552.2 967.9 1561.2 947.1 1441.6 1053.5 1511.6 1122.6 1416.2 1090.1 1398.2 1104.8 1453.3 959.7 1563.6 1054.2 1506.1 1108.4 1378.4 860.6 1549.5 1022.8 1310.5 1013.4 1462.9 1149.3 1352.3 1136.0 1423.5 1022.8 1494.4 1127.5 1466.3 828.3 1561.7 1089.8 1499.2 1169.8 1373.9 820.6 1547.7 1001.6 1345.9 1085.4 1401.5 1144.4 1406.5 1023.7 1475.9 862.9 1548.7 987.0 1460.3 834.3 1553.1 906.3 1497.0 826.3 1535.8 1103.5 1468.8 1115.0 1371.6 1061.3 1496.3 826.5 1577.3 961.0 1544.9 832.7 1536.8 834.7 1525.1 900.8 1500.3 999.5 1522.5 1136.0 1435.8 985.5 1583.4 1010.9 1560.2 1070.4 1383.3 981.0 1560.2 821.6 1547.4 1138.5 1379.7 1026.4 1455.5 1072.5 1407.1 1076.3 1533.5 875.7 1476.1 967.4 1481.6 1050.4 1536.7 1041.2 1542.2 1096.2 1477.4 849.1 1537.2 1144.0 1400.7 983.5 1536.7 1105.0 1475.5 903.0 1537.7 848.4 1616.4 1074.8 1403.1 1035.8 1442.1 841.7 1580.7 949.9 1568.3 879.9 1634.4 992.0 1523.2 1029.2 1501.7 1093.5 1397.2 1084.2 1368.3 1136.9 1392.5 954.2 1541.4 933.5 1489.4 1038.1 1430.7 1139.8 1413.3 1106.9 1465.5 808.9 1585.4 998.9 1330.9 814.6 1529.6 1143.9 1374.7 1039.3 1536.7 921.3 1554.2 847.6 1599.3 833.9 1524.6 1138.0 1419.2 848.1 1561.3 851.1 1561.6 847.7 1535.6 1093.4 1402.9 870.8 1488.8 1116.1 1448.5 1040.9 1525.6 1109.8 1446.8 1006.1 1502.1 1108.4 1379.8 1136.0 1459.5 924.0 1594.5 1017.3 1480.9 1124.2 1352.2 1013.8 1463.0 1024.2 1542.1 983.3 1530.8 840.0 1531.5 1134.2 1376.8 984.1 1551.2 845.3 1562.0 825.1 1544.9 1039.7 1433.4 842.2 1551.3 859.7 1548.7 1037.2 1514.2 828.7 1541.1 1093.2 1484.3 923.9 1431.6 1164.8 1383.8 1076.1 1405.9 985.4 1440.4 1111.8 1453.3 1093.7 1491.0 942.7 1583.7 797.5 1540.7 1058.1 1410.9 804.6 1535.3 953.3 1397.5 1013.4 1519.1 809.2 1573.2 1018.2 1466.3 839.3 1511.5 1074.5 1507.4 1019.0 1517.5 863.7 1567.4 984.3 1528.6 1071.5 1395.5 1138.0 1393.8 884.3 1588.5 1126.6 1369.5 1081.2 1492.3 869.9 1502.7 1128.0 1368.1 1054.5 1378.9 1138.7 1392.6 1040.7 1528.6 1022.8 1532.8 956.7 1563.1 981.4 1538.3 1115.9 1435.5 1021.8 1542.9 1010.1 1454.3 851.8 1576.5 1038.0 1425.0 846.4 1543.9 1079.0 1493.3 1010.7 1373.5 821.9 1558.9 1005.8 1523.1 1157.4 1396.4 916.6 1440.7 927.5 1488.8 1036.9 1450.4 978.9 1528.3 827.1 1562.8 1076.4 1389.1 1107.5 1453.6 944.7 1417.1 1096.6 1396.4 1044.3 1527.0 1066.1 1493.2 1023.3 1477.0 940.1 1584.6 1095.3 1378.9"/>
<path class="mk" d="M1020.4 1483.0 826.7 1532.4 904.0 1601.0 1141.3 1400.9 983.5 1528.6 990.5 1551.9 1063.9 1519.1 961.4 1575.3 977.3 1525.8 839.9 1532.1 1095.2 1483.1 1079.5 1404.3 1084.5 1494.3 1016.9 1463.8 957.8 1387.1 1107.9 1393.0 1051.2 1401.1 1056.8 1415.3 1029.3 1539.4 1105.4 1395.6 895.0 1621.3 1040.9 1433.9 837.9 1572.1 1031.6 1517.7 955.1 1539.3 1100.7 1375.3 831.4 1546.0 862.6 1545.2 1023.6 1487.5 1109.1 1498.4 976.8 1540.2 1140.3 1410.3 1103.0 1478.1 1070.7 1505.1 988.4 1549.1 1040.3 1425.4 1080.5 1503.3 1003.4 1542.1 847.0 1558.8 1117.3 1445.7 1081.7 1496.2 855.4 1542.3 1076.0 1501.0 1128.1 1364.0 840.0 1551.9 905.7 1624.0 851.3 1533.7 1080.2 1494.2 995.8 1548.3 1086.9 1371.1 1030.2 1446.6 1060.4 1409.0 909.3 1425.3 1127.8 1369.1 1159.1 1388.1 1073.0 1495.8 860.0 1555.3 1125.9 1473.9 1149.2 1388.7 960.7 1519.6 1138.3 1374.2 974.2 1359.0 1104.0 1378.9 846.7 1572.6 1128.1 1367.4 1007.8 1470.9 1070.8 1507.0 1086.5 1496.0 1012.0 1479.6 892.5 1594.1 1136.4 1376.5 1055.9 1363.9 980.2 1479.8 1023.3 1518.6 1034.7 1533.5 838.7 1559.2 1074.1 1400.6 906.6 1614.2 992.8 1538.1 913.2 1599.2 1058.5 1499.5 1104.9 1451.0 1045.9 1499.7 967.4 1399.9 1143.4 1428.4 823.6 1528.0 1179.2 1392.6 840.4 1573.4 1025.7 1517.3 1027.4 1467.8 1151.0 1385.1 1106.0 1468.5 1049.6 1520.7 1099.3 1364.9 1128.1 1452.9 826.1 1585.3 1013.4 1553.7 822.6 1567.9 862.3 1593.0 1025.4 1475.5 1097.6 1389.3 872.4 1577.0 1037.3 1387.2 1021.6 1516.5 841.7 1540.5 846.2 1502.4 840.6 1581.6 1082.4 1489.6 1092.0 1394.3 984.0 1558.4 856.9 1547.8 1043.2 1499.4 965.3 1531.0 1115.1 1429.3 1048.1 1497.4 843.0 1562.7 984.3 1525.9 828.6 1576.6 942.0 1482.5 1082.8 1402.3 846.4 1549.4 1138.3 1424.2 815.5 1541.4 1048.6 1420.4 844.7 1530.2 1130.6 1410.2 1085.4 1370.1 1079.0 1352.1 1113.0 1443.3 933.9 1427.1 1132.0 1454.5 1032.1 1498.4 1131.1 1426.4 972.9 1412.6 897.1 1638.9 999.9 1514.5 1136.1 1422.1 864.3 1533.6 822.0 1587.7 1111.6 1376.0 1067.5 1514.6 1026.9 1504.4 1015.4 1490.7 957.2 1557.3 1129.5 1427.6 1074.4 1496.5 822.9 1561.9 1118.4 1418.1 947.5 1584.4 869.5 1536.3 947.9 1550.3 1131.5 1354.4 1040.8 1426.3 1016.8 1475.0 1199.9 1367.5 877.2 1518.1 822.9 1530.5 1131.1 1374.2 1118.5 1417.0 1123.8 1419.8 1012.5 1526.5 993.8 1342.7 827.4 1566.0 917.9 1597.0 1069.8 1495.3 1038.3 1430.8 1027.5 1515.6 1105.2 1459.8 817.2 1577.3 916.8 1562.6 839.0 1536.5 800.0 1549.0 1024.5 1434.3 1097.4 1476.2 1064.9 1405.2 833.7 1545.8 826.6 1526.6 918.2 1581.3 1112.7 1446.2 832.6 1570.7 803.3 1566.0 1124.3 1434.1 1022.7 1465.3 814.1 1582.0 1108.5 1388.9 859.6 1554.3 878.5 1487.9 1037.6 1448.3 1116.4 1374.1 1147.4 1390.2 934.3 1554.7 1130.6 1422.2 811.0 1539.2 1036.2 1501.6 842.5 1567.8 1116.5 1370.7 867.7 1582.1 1041.7 1498.1 1120.0 1435.6 1108.5 1376.5 1051.6 1500.1 823.3 1539.5 1019.8 1486.2 855.6 1544.9 1139.8 1372.0 1005.1 1545.9 1053.0 1388.7 1117.7 1482.4 814.8 1553.4 866.5 1546.3 965.8 1568.1 820.9 1583.9 976.2 1373.5 1138.0 1404.6 900.3 1458.9 809.0 1559.9 851.8 1562.5 931.5 1417.1 1107.2 1499.6 831.5 1569.8 959.6 1403.5 852.6 1567.7 1137.1 1402.2 1158.3 1354.4 1123.0 1422.5 994.7 1453.8 839.4 1538.5 1011.1 1528.2 1132.0 1405.1 946.5 1563.6 1033.3 1440.7 1055.8 1419.6 907.0 1477.4 856.2 1537.6 921.1 1436.2 974.2 1481.6 1139.2 1383.6 1123.5 1420.3"/>
<path class="ax" d="M743.8 1288.7V1788.6M743.8 1788.6H1232.5"/>
<path class="tk" d="M740.3 1766.0h3.5M765.6 1788.6v3.5M740.3 1652.0h3.5M877.0 1788.6v3.5M740.3 1538.0h3.5M988.3 1788.6v3.5M740.3 1424.0h3.5M1099.7 1788.6v3.5M740.3 1310.0h3.5M1211.0 1788.6v3.5"/>
<text class="tl" x="735.6" y="1776.8" text-anchor="end">0.7</text>
<text class="tl" x="767.2" y="1818.8" text-anchor="middle">0.7</text>
<text class="tl" x="735.6" y="1662.8" text-anchor="end">0.8</text>
<text class="tl" x="878.6" y="1818.8" text-anchor="middle">0.8</text>
<text class="tl" x="735.6" y="1548.8" text-anchor="end">0.9</text>
<text class="tl" x="989.9" y="1818.8" text-anchor="middle">0.9</text>
<text class="tl" x="735.6" y="1434.8" text-anchor="end">1.0</text>
<text class="tl" x="1101.2" y="1818.8" text-anchor="middle">1.0</text>
<text class="tl" x="735.6" y="1320.8" text-anchor="end">1.1</text>
<text class="tl" x="1212.6" y="1818.8" text-anchor="middle">1.1</text>
<text class="ti" x="782.8" y="1857.7">Fitness from YPE replicate 1</text>
<text class="ti" transform="translate(681.6 1733.4) rotate(-90)">Fitness from YPE replicate 3</text>
<text class="st" x="754" y="1286" style="font-size:25px" textLength="289" lengthAdjust="spacingAndGlyphs"><tspan font-style="italic">r</tspan> = 0.76, <tspan font-style="italic">P</tspan> &lt; 2.2 × 10<tspan dy="-11" style="font-size:18.5px">-308</tspan></text>
<text class="lb" x="630" y="1304.5">h</text></g>
<g id="pi"><line class="dl" x1="1368.7" y1="1787.3" x2="1857.0" y2="1287.9"/>
<path class="bk" d="M1671.2 1314.1h1v1h-1zM1671.2 1315.1h1v1h-1zM1672.2 1316.1h1v1h-1zM1672.2 1317.1h1v1h-1zM1745.2 1377.1h1v1h-1zM1745.2 1378.1h2v1h-2zM1745.2 1379.1h1v1h-1zM1734.2 1380.1h4v1h-4zM1734.2 1381.1h5v1h-5zM1741.2 1381.1h3v1h-3zM1735.2 1382.1h3v1h-3zM1740.2 1382.1h3v1h-3zM1744.2 1382.1h1v1h-1zM1736.2 1383.1h6v1h-6zM1736.2 1384.1h6v1h-6zM1738.2 1385.1h4v1h-4zM1738.2 1386.1h4v1h-4zM1737.2 1387.1h6v1h-6zM1737.2 1388.1h4v1h-4zM1716.2 1389.1h2v1h-2zM1722.2 1389.1h1v1h-1zM1732.2 1389.1h10v1h-10zM1715.2 1390.1h4v1h-4zM1720.2 1390.1h3v1h-3zM1731.2 1390.1h10v1h-10zM1749.2 1390.1h1v1h-1zM1715.2 1391.1h7v1h-7zM1723.2 1391.1h1v1h-1zM1729.2 1391.1h15v1h-15zM1745.2 1391.1h5v1h-5zM1714.2 1392.1h8v1h-8zM1724.2 1392.1h1v1h-1zM1728.2 1392.1h21v1h-21zM1706.2 1393.1h1v1h-1zM1714.2 1393.1h9v1h-9zM1726.2 1393.1h24v1h-24zM1705.2 1394.1h4v1h-4zM1714.2 1394.1h8v1h-8zM1724.2 1394.1h28v1h-28zM1757.2 1394.1h1v1h-1zM1704.2 1395.1h6v1h-6zM1713.2 1395.1h1v1h-1zM1715.2 1395.1h7v1h-7zM1724.2 1395.1h28v1h-28zM1753.2 1395.1h1v1h-1zM1704.2 1396.1h46v1h-46zM1752.2 1396.1h4v1h-4zM1704.2 1397.1h9v1h-9zM1714.2 1397.1h34v1h-34zM1753.2 1397.1h3v1h-3zM1698.2 1398.1h1v1h-1zM1704.2 1398.1h43v1h-43zM1748.2 1398.1h1v1h-1zM1750.2 1398.1h3v1h-3zM1756.2 1398.1h1v1h-1zM1697.2 1399.1h3v1h-3zM1705.2 1399.1h43v1h-43zM1750.2 1399.1h2v1h-2zM1756.2 1399.1h1v1h-1zM1695.2 1400.1h6v1h-6zM1706.2 1400.1h42v1h-42zM1752.2 1400.1h1v1h-1zM1695.2 1401.1h5v1h-5zM1707.2 1401.1h3v1h-3zM1711.2 1401.1h37v1h-37zM1694.2 1402.1h6v1h-6zM1709.2 1402.1h39v1h-39zM1693.2 1403.1h8v1h-8zM1704.2 1403.1h1v1h-1zM1708.2 1403.1h38v1h-38zM1693.2 1404.1h7v1h-7zM1706.2 1404.1h37v1h-37zM1744.2 1404.1h2v1h-2zM1694.2 1405.1h5v1h-5zM1705.2 1405.1h41v1h-41zM1692.2 1406.1h9v1h-9zM1703.2 1406.1h44v1h-44zM1692.2 1407.1h56v1h-56zM1691.2 1408.1h58v1h-58zM1690.2 1409.1h58v1h-58zM1691.2 1410.1h58v1h-58zM1690.2 1411.1h58v1h-58zM1691.2 1412.1h55v1h-55zM1690.2 1413.1h54v1h-54zM1677.2 1414.1h2v1h-2zM1690.2 1414.1h2v1h-2zM1693.2 1414.1h51v1h-51zM1673.2 1415.1h3v1h-3zM1677.2 1415.1h3v1h-3zM1681.2 1415.1h1v1h-1zM1691.2 1415.1h54v1h-54zM1675.2 1416.1h3v1h-3zM1679.2 1416.1h4v1h-4zM1691.2 1416.1h53v1h-53zM1675.2 1417.1h2v1h-2zM1679.2 1417.1h4v1h-4zM1690.2 1417.1h55v1h-55zM1676.2 1418.1h2v1h-2zM1679.2 1418.1h5v1h-5zM1685.2 1418.1h1v1h-1zM1689.2 1418.1h56v1h-56zM1675.2 1419.1h11v1h-11zM1688.2 1419.1h57v1h-57zM1748.2 1419.1h1v1h-1zM1676.2 1420.1h1v1h-1zM1678.2 1420.1h66v1h-66zM1748.2 1420.1h1v1h-1zM1673.2 1421.1h1v1h-1zM1675.2 1421.1h3v1h-3zM1679.2 1421.1h62v1h-62zM1742.2 1421.1h2v1h-2zM1674.2 1422.1h68v1h-68zM1674.2 1423.1h69v1h-69zM1674.2 1424.1h68v1h-68zM1675.2 1425.1h1v1h-1zM1677.2 1425.1h66v1h-66zM1677.2 1426.1h65v1h-65zM1676.2 1427.1h1v1h-1zM1678.2 1427.1h63v1h-63zM1677.2 1428.1h65v1h-65zM1676.2 1429.1h66v1h-66zM1675.2 1430.1h67v1h-67zM1668.2 1431.1h1v1h-1zM1670.2 1431.1h72v1h-72zM1668.2 1432.1h73v1h-73zM1667.2 1433.1h74v1h-74zM1668.2 1434.1h67v1h-67zM1736.2 1434.1h5v1h-5zM1666.2 1435.1h69v1h-69zM1737.2 1435.1h1v1h-1zM1739.2 1435.1h1v1h-1zM1667.2 1436.1h67v1h-67zM1735.2 1436.1h2v1h-2zM1667.2 1437.1h70v1h-70zM1662.2 1438.1h1v1h-1zM1664.2 1438.1h1v1h-1zM1667.2 1438.1h69v1h-69zM1662.2 1439.1h3v1h-3zM1666.2 1439.1h70v1h-70zM1738.2 1439.1h1v1h-1zM1663.2 1440.1h76v1h-76zM1665.2 1441.1h73v1h-73zM1660.2 1442.1h3v1h-3zM1665.2 1442.1h73v1h-73zM1661.2 1443.1h3v1h-3zM1665.2 1443.1h72v1h-72zM1740.2 1443.1h2v1h-2zM1660.2 1444.1h77v1h-77zM1739.2 1444.1h2v1h-2zM1658.2 1445.1h4v1h-4zM1663.2 1445.1h74v1h-74zM1658.2 1446.1h3v1h-3zM1662.2 1446.1h1v1h-1zM1664.2 1446.1h72v1h-72zM1657.2 1447.1h3v1h-3zM1662.2 1447.1h74v1h-74zM1742.2 1447.1h3v1h-3zM1660.2 1448.1h3v1h-3zM1664.2 1448.1h69v1h-69zM1742.2 1448.1h3v1h-3zM1660.2 1449.1h2v1h-2zM1663.2 1449.1h68v1h-68zM1741.2 1449.1h5v1h-5zM1663.2 1450.1h63v1h-63zM1727.2 1450.1h3v1h-3zM1741.2 1450.1h6v1h-6zM1656.2 1451.1h2v1h-2zM1661.2 1451.1h64v1h-64zM1728.2 1451.1h1v1h-1zM1741.2 1451.1h1v1h-1zM1744.2 1451.1h1v1h-1zM1656.2 1452.1h3v1h-3zM1661.2 1452.1h63v1h-63zM1656.2 1453.1h4v1h-4zM1661.2 1453.1h62v1h-62zM1657.2 1454.1h67v1h-67zM1658.2 1455.1h67v1h-67zM1658.2 1456.1h67v1h-67zM1657.2 1457.1h69v1h-69zM1657.2 1458.1h69v1h-69zM1650.2 1459.1h4v1h-4zM1658.2 1459.1h69v1h-69zM1650.2 1460.1h5v1h-5zM1658.2 1460.1h2v1h-2zM1661.2 1460.1h57v1h-57zM1720.2 1460.1h8v1h-8zM1649.2 1461.1h3v1h-3zM1653.2 1461.1h2v1h-2zM1659.2 1461.1h59v1h-59zM1721.2 1461.1h7v1h-7zM1648.2 1462.1h5v1h-5zM1654.2 1462.1h2v1h-2zM1660.2 1462.1h58v1h-58zM1723.2 1462.1h3v1h-3zM1727.2 1462.1h1v1h-1zM1649.2 1463.1h5v1h-5zM1655.2 1463.1h3v1h-3zM1660.2 1463.1h57v1h-57zM1724.2 1463.1h3v1h-3zM1650.2 1464.1h4v1h-4zM1659.2 1464.1h57v1h-57zM1652.2 1465.1h2v1h-2zM1656.2 1465.1h1v1h-1zM1659.2 1465.1h56v1h-56zM1652.2 1466.1h3v1h-3zM1657.2 1466.1h58v1h-58zM1650.2 1467.1h66v1h-66zM1650.2 1468.1h1v1h-1zM1652.2 1468.1h65v1h-65zM1646.2 1469.1h1v1h-1zM1649.2 1469.1h69v1h-69zM1646.2 1470.1h1v1h-1zM1650.2 1470.1h66v1h-66zM1645.2 1471.1h1v1h-1zM1649.2 1471.1h57v1h-57zM1708.2 1471.1h1v1h-1zM1710.2 1471.1h5v1h-5zM1648.2 1472.1h58v1h-58zM1648.2 1473.1h58v1h-58zM1648.2 1474.1h57v1h-57zM1645.2 1475.1h1v1h-1zM1647.2 1475.1h57v1h-57zM1646.2 1476.1h54v1h-54zM1701.2 1476.1h1v1h-1zM1646.2 1477.1h54v1h-54zM1646.2 1478.1h53v1h-53zM1700.2 1478.1h1v1h-1zM1647.2 1479.1h52v1h-52zM1638.2 1480.1h2v1h-2zM1644.2 1480.1h56v1h-56zM1637.2 1481.1h3v1h-3zM1641.2 1481.1h3v1h-3zM1645.2 1481.1h54v1h-54zM1637.2 1482.1h6v1h-6zM1645.2 1482.1h49v1h-49zM1696.2 1482.1h3v1h-3zM1636.2 1483.1h5v1h-5zM1645.2 1483.1h50v1h-50zM1696.2 1483.1h3v1h-3zM1635.2 1484.1h7v1h-7zM1644.2 1484.1h54v1h-54zM1639.2 1485.1h3v1h-3zM1644.2 1485.1h55v1h-55zM1639.2 1486.1h1v1h-1zM1643.2 1486.1h52v1h-52zM1644.2 1487.1h42v1h-42zM1690.2 1487.1h5v1h-5zM1644.2 1488.1h42v1h-42zM1690.2 1488.1h5v1h-5zM1632.2 1489.1h2v1h-2zM1640.2 1489.1h1v1h-1zM1644.2 1489.1h41v1h-41zM1691.2 1489.1h4v1h-4zM1631.2 1490.1h5v1h-5zM1637.2 1490.1h47v1h-47zM1692.2 1490.1h2v1h-2zM1629.2 1491.1h50v1h-50zM1630.2 1492.1h45v1h-45zM1692.2 1492.1h1v1h-1zM1630.2 1493.1h45v1h-45zM1630.2 1494.1h42v1h-42zM1631.2 1495.1h42v1h-42zM1629.2 1496.1h2v1h-2zM1632.2 1496.1h1v1h-1zM1634.2 1496.1h38v1h-38zM1625.2 1497.1h2v1h-2zM1629.2 1497.1h3v1h-3zM1633.2 1497.1h26v1h-26zM1660.2 1497.1h12v1h-12zM1625.2 1498.1h2v1h-2zM1631.2 1498.1h1v1h-1zM1633.2 1498.1h36v1h-36zM1625.2 1499.1h2v1h-2zM1631.2 1499.1h34v1h-34zM1632.2 1500.1h32v1h-32zM1624.2 1501.1h2v1h-2zM1629.2 1501.1h3v1h-3zM1633.2 1501.1h19v1h-19zM1653.2 1501.1h10v1h-10zM1627.2 1502.1h24v1h-24zM1653.2 1502.1h9v1h-9zM1624.2 1503.1h29v1h-29zM1655.2 1503.1h7v1h-7zM1624.2 1504.1h31v1h-31zM1656.2 1504.1h5v1h-5zM1623.2 1505.1h31v1h-31zM1657.2 1505.1h3v1h-3zM1622.2 1506.1h33v1h-33zM1656.2 1506.1h2v1h-2zM1622.2 1507.1h36v1h-36zM1622.2 1508.1h32v1h-32zM1655.2 1508.1h3v1h-3zM1617.2 1509.1h1v1h-1zM1622.2 1509.1h29v1h-29zM1652.2 1509.1h2v1h-2zM1659.2 1509.1h1v1h-1zM1618.2 1510.1h3v1h-3zM1623.2 1510.1h26v1h-26zM1658.2 1510.1h3v1h-3zM1617.2 1511.1h4v1h-4zM1623.2 1511.1h24v1h-24zM1617.2 1512.1h3v1h-3zM1622.2 1512.1h1v1h-1zM1624.2 1512.1h24v1h-24zM1622.2 1513.1h26v1h-26zM1486.2 1514.1h1v1h-1zM1621.2 1514.1h27v1h-27zM1658.2 1514.1h2v1h-2zM1617.2 1515.1h1v1h-1zM1620.2 1515.1h24v1h-24zM1659.2 1515.1h1v1h-1zM1618.2 1516.1h22v1h-22zM1644.2 1516.1h2v1h-2zM1620.2 1517.1h20v1h-20zM1616.2 1518.1h3v1h-3zM1620.2 1518.1h21v1h-21zM1656.2 1518.1h2v1h-2zM1615.2 1519.1h26v1h-26zM1642.2 1519.1h2v1h-2zM1609.2 1520.1h1v1h-1zM1614.2 1520.1h27v1h-27zM1642.2 1520.1h2v1h-2zM1609.2 1521.1h2v1h-2zM1614.2 1521.1h25v1h-25zM1641.2 1521.1h2v1h-2zM1609.2 1522.1h3v1h-3zM1613.2 1522.1h26v1h-26zM1608.2 1523.1h4v1h-4zM1617.2 1523.1h22v1h-22zM1607.2 1524.1h3v1h-3zM1618.2 1524.1h20v1h-20zM1610.2 1525.1h1v1h-1zM1620.2 1525.1h17v1h-17zM1608.2 1526.1h2v1h-2zM1621.2 1526.1h5v1h-5zM1627.2 1526.1h10v1h-10zM1479.2 1527.1h1v1h-1zM1619.2 1527.1h2v1h-2zM1622.2 1527.1h2v1h-2zM1628.2 1527.1h9v1h-9zM1462.2 1528.1h1v1h-1zM1478.2 1528.1h2v1h-2zM1618.2 1528.1h3v1h-3zM1626.2 1528.1h7v1h-7zM1635.2 1528.1h1v1h-1zM1617.2 1529.1h5v1h-5zM1627.2 1529.1h3v1h-3zM1616.2 1530.1h5v1h-5zM1622.2 1530.1h1v1h-1zM1616.2 1531.1h7v1h-7zM1473.2 1532.1h1v1h-1zM1616.2 1532.1h7v1h-7zM1472.2 1533.1h3v1h-3zM1617.2 1533.1h5v1h-5zM1473.2 1534.1h2v1h-2zM1618.2 1534.1h4v1h-4zM1470.2 1535.1h3v1h-3zM1474.2 1535.1h1v1h-1zM1488.2 1535.1h2v1h-2zM1621.2 1535.1h1v1h-1zM1469.2 1536.1h5v1h-5zM1479.2 1536.1h4v1h-4zM1593.2 1536.1h1v1h-1zM1623.2 1536.1h3v1h-3zM1468.2 1537.1h1v1h-1zM1470.2 1537.1h3v1h-3zM1479.2 1537.1h4v1h-4zM1622.2 1537.1h1v1h-1zM1624.2 1537.1h2v1h-2zM1468.2 1538.1h6v1h-6zM1476.2 1538.1h3v1h-3zM1480.2 1538.1h3v1h-3zM1622.2 1538.1h1v1h-1zM1458.2 1539.1h3v1h-3zM1463.2 1539.1h1v1h-1zM1467.2 1539.1h6v1h-6zM1477.2 1539.1h3v1h-3zM1481.2 1539.1h1v1h-1zM1459.2 1540.1h1v1h-1zM1468.2 1540.1h9v1h-9zM1478.2 1540.1h3v1h-3zM1467.2 1541.1h2v1h-2zM1470.2 1541.1h13v1h-13zM1586.2 1541.1h1v1h-1zM1467.2 1542.1h15v1h-15zM1585.2 1542.1h2v1h-2zM1469.2 1543.1h2v1h-2zM1472.2 1543.1h9v1h-9zM1484.2 1543.1h1v1h-1zM1487.2 1543.1h1v1h-1zM1584.2 1543.1h3v1h-3zM1459.2 1544.1h2v1h-2zM1469.2 1544.1h13v1h-13zM1483.2 1544.1h2v1h-2zM1486.2 1544.1h1v1h-1zM1585.2 1544.1h1v1h-1zM1458.2 1545.1h4v1h-4zM1468.2 1545.1h18v1h-18zM1457.2 1546.1h5v1h-5zM1467.2 1546.1h15v1h-15zM1457.2 1547.1h7v1h-7zM1465.2 1547.1h9v1h-9zM1475.2 1547.1h8v1h-8zM1457.2 1548.1h19v1h-19zM1477.2 1548.1h4v1h-4zM1457.2 1549.1h6v1h-6zM1464.2 1549.1h17v1h-17zM1593.2 1549.1h1v1h-1zM1458.2 1550.1h22v1h-22zM1592.2 1550.1h3v1h-3zM1596.2 1550.1h1v1h-1zM1456.2 1551.1h3v1h-3zM1460.2 1551.1h2v1h-2zM1463.2 1551.1h7v1h-7zM1471.2 1551.1h2v1h-2zM1476.2 1551.1h5v1h-5zM1591.2 1551.1h4v1h-4zM1596.2 1551.1h3v1h-3zM1456.2 1552.1h5v1h-5zM1463.2 1552.1h3v1h-3zM1467.2 1552.1h2v1h-2zM1475.2 1552.1h6v1h-6zM1591.2 1552.1h2v1h-2zM1594.2 1552.1h6v1h-6zM1456.2 1553.1h8v1h-8zM1474.2 1553.1h8v1h-8zM1591.2 1553.1h2v1h-2zM1595.2 1553.1h6v1h-6zM1610.2 1553.1h1v1h-1zM1455.2 1554.1h10v1h-10zM1473.2 1554.1h1v1h-1zM1475.2 1554.1h6v1h-6zM1592.2 1554.1h1v1h-1zM1595.2 1554.1h2v1h-2zM1598.2 1554.1h3v1h-3zM1609.2 1554.1h3v1h-3zM1455.2 1555.1h11v1h-11zM1473.2 1555.1h6v1h-6zM1480.2 1555.1h1v1h-1zM1595.2 1555.1h1v1h-1zM1608.2 1555.1h4v1h-4zM1455.2 1556.1h11v1h-11zM1477.2 1556.1h3v1h-3zM1587.2 1556.1h1v1h-1zM1608.2 1556.1h4v1h-4zM1456.2 1557.1h10v1h-10zM1477.2 1557.1h2v1h-2zM1481.2 1557.1h2v1h-2zM1587.2 1557.1h2v1h-2zM1597.2 1557.1h1v1h-1zM1608.2 1557.1h3v1h-3zM1457.2 1558.1h8v1h-8zM1472.2 1558.1h3v1h-3zM1477.2 1558.1h1v1h-1zM1480.2 1558.1h4v1h-4zM1578.2 1558.1h3v1h-3zM1609.2 1558.1h2v1h-2zM1458.2 1559.1h9v1h-9zM1471.2 1559.1h4v1h-4zM1479.2 1559.1h6v1h-6zM1577.2 1559.1h4v1h-4zM1457.2 1560.1h4v1h-4zM1463.2 1560.1h5v1h-5zM1472.2 1560.1h2v1h-2zM1477.2 1560.1h9v1h-9zM1577.2 1560.1h3v1h-3zM1585.2 1560.1h2v1h-2zM1457.2 1561.1h13v1h-13zM1478.2 1561.1h8v1h-8zM1578.2 1561.1h1v1h-1zM1585.2 1561.1h1v1h-1zM1587.2 1561.1h1v1h-1zM1456.2 1562.1h2v1h-2zM1459.2 1562.1h11v1h-11zM1479.2 1562.1h7v1h-7zM1585.2 1562.1h3v1h-3zM1454.2 1563.1h4v1h-4zM1459.2 1563.1h11v1h-11zM1479.2 1563.1h6v1h-6zM1584.2 1563.1h4v1h-4zM1453.2 1564.1h5v1h-5zM1459.2 1564.1h11v1h-11zM1479.2 1564.1h7v1h-7zM1583.2 1564.1h5v1h-5zM1452.2 1565.1h9v1h-9zM1464.2 1565.1h5v1h-5zM1480.2 1565.1h1v1h-1zM1484.2 1565.1h1v1h-1zM1488.2 1565.1h1v1h-1zM1583.2 1565.1h5v1h-5zM1453.2 1566.1h5v1h-5zM1465.2 1566.1h3v1h-3zM1487.2 1566.1h3v1h-3zM1584.2 1566.1h3v1h-3zM1456.2 1567.1h3v1h-3zM1486.2 1567.1h4v1h-4zM1453.2 1568.1h3v1h-3zM1457.2 1568.1h1v1h-1zM1486.2 1568.1h4v1h-4zM1454.2 1569.1h6v1h-6zM1486.2 1569.1h4v1h-4zM1581.2 1569.1h1v1h-1zM1455.2 1570.1h6v1h-6zM1472.2 1570.1h3v1h-3zM1487.2 1570.1h1v1h-1zM1580.2 1570.1h3v1h-3zM1455.2 1571.1h6v1h-6zM1470.2 1571.1h6v1h-6zM1580.2 1571.1h4v1h-4zM1455.2 1572.1h6v1h-6zM1469.2 1572.1h4v1h-4zM1474.2 1572.1h2v1h-2zM1581.2 1572.1h3v1h-3zM1455.2 1573.1h6v1h-6zM1468.2 1573.1h7v1h-7zM1479.2 1573.1h1v1h-1zM1582.2 1573.1h1v1h-1zM1455.2 1574.1h5v1h-5zM1468.2 1574.1h7v1h-7zM1580.2 1574.1h2v1h-2zM1456.2 1575.1h3v1h-3zM1467.2 1575.1h7v1h-7zM1467.2 1576.1h1v1h-1zM1470.2 1576.1h3v1h-3zM1470.2 1577.1h3v1h-3zM1469.2 1578.1h1v1h-1z"/>
<path class="mk" d="M1520.4 1472.6 1527.5 1684.6 1712.6 1464.3 1468.9 1564.3 1578.1 1558.9 1544.7 1601.5 1630.6 1543.6 1633.6 1493.5 1462.9 1553.3 1727.7 1448.4 1598.3 1554.7 1488.5 1538.7 1640.4 1491.5 1616.2 1521.2 1567.9 1556.7 1666.7 1336.6 1645.3 1519.9 1713.3 1464.1 1647.4 1464.7 1562.8 1616.8 1624.6 1510.4 1625.7 1472.8 1445.3 1550.1 1623.4 1475.2 1608.1 1557.9 1572.3 1589.9 1652.8 1469.2 1652.0 1511.4 1586.8 1566.1 1723.1 1457.1 1457.3 1552.5 1615.3 1546.8 1685.4 1522.2 1671.6 1492.5 1477.2 1541.8 1566.5 1605.5 1677.6 1310.0 1476.7 1546.8 1584.1 1598.3 1627.8 1531.9 1631.9 1503.2 1470.1 1560.8 1717.0 1392.9 1688.1 1422.5 1637.2 1484.8 1745.0 1381.0 1748.9 1394.3 1567.5 1534.0 1647.6 1342.0 1653.1 1468.2 1478.2 1552.4 1583.1 1513.6 1692.2 1495.4 1475.7 1558.4 1535.6 1443.0 1705.2 1400.9 1616.6 1395.7 1538.7 1509.2 1565.1 1559.2 1588.3 1558.8 1700.4 1473.6 1644.7 1360.7 1542.4 1608.7 1754.0 1398.4 1587.9 1574.4 1583.8 1570.8 1474.8 1535.3 1534.1 1469.7 1703.2 1478.7 1644.4 1443.2 1618.7 1382.8 1613.9 1537.3 1673.2 1432.5 1624.3 1508.6 1617.5 1521.6 1744.0 1450.3 1663.8 1451.0 1469.1 1566.9 1632.2 1493.0 1630.3 1452.3 1600.1 1544.9 1617.1 1546.7 1666.0 1445.2 1623.4 1372.6 1470.7 1541.4 1743.1 1374.9 1458.3 1565.6 1734.7 1472.9 1734.6 1390.5 1592.1 1549.2 1481.3 1571.5 1633.5 1492.8 1739.9 1424.2 1781.5 1379.7 1626.2 1423.9 1750.4 1373.7 1809.0 1370.1 1648.3 1476.1 1553.4 1451.1 1657.2 1446.3 1565.3 1599.2 1673.0 1338.3 1591.6 1528.7 1721.6 1382.2 1589.7 1572.0 1675.9 1490.6 1481.7 1581.6 1724.2 1459.3 1680.9 1497.3 1575.2 1550.7 1702.3 1532.9 1456.0 1578.6 1638.1 1521.1 1769.3 1403.3 1625.5 1504.7 1464.9 1558.0 1634.0 1488.7 1534.1 1606.7 1554.2 1617.5 1658.0 1543.0 1607.1 1535.9 1744.6 1383.7 1632.9 1497.7 1481.2 1545.1 1600.9 1514.2 1520.7 1551.6 1750.8 1396.7 1433.5 1584.0 1557.7 1618.3 1483.1 1604.9 1736.5 1440.1 1558.5 1598.8 1454.3 1571.8 1738.6 1493.6 1552.3 1569.3 1617.5 1528.8 1749.9 1422.4 1652.3 1470.2 1739.5 1436.2 1737.0 1379.7 1650.0 1507.1 1728.9 1476.1 1669.0 1518.9 1634.2 1528.8 1654.0 1499.1 1471.8 1545.3 1464.5 1577.2 1576.3 1590.9 1458.2 1547.0 1586.9 1506.4 1698.9 1406.7 1465.4 1549.9 1503.8 1637.7 1637.1 1481.4 1467.0 1512.0 1771.7 1389.4 1707.8 1399.7 1467.3 1549.5 1474.4 1529.1 1481.8 1539.4 1688.9 1327.7 1745.1 1423.7 1558.4 1571.0 1517.9 1631.9 1585.0 1568.5 1552.7 1601.4 1708.0 1396.1 1684.6 1488.6 1602.6 1589.6 1593.0 1560.7 1695.5 1486.6 1809.0 1355.0 1736.2 1448.6 1554.7 1587.3 1626.2 1513.2 1542.7 1441.0 1723.3 1396.1 1717.6 1461.5 1563.3 1431.7 1682.3 1502.7 1642.3 1518.5 1658.7 1450.4 1466.0 1537.8 1584.1 1543.1 1673.7 1490.3 1659.9 1518.1 1705.8 1352.1 1518.1 1565.2 1648.5 1481.7 1567.6 1586.1 1469.8 1540.2 1454.9 1557.5 1644.2 1522.3 1709.9 1398.6 1744.7 1359.2 1681.0 1322.1 1657.4 1432.1 1715.5 1388.7 1486.9 1570.8 1750.8 1387.0 1550.7 1610.1 1668.4 1437.1 1552.3 1569.8 1812.7 1340.8 1496.8 1540.8 1653.1 1537.3 1647.5 1481.0 1694.5 1479.3 1628.6 1498.6 1651.5 1503.2 1775.1 1393.7 1655.8 1466.9 1737.7 1435.0 1581.2 1551.8 1725.7 1389.9 1729.2 1449.0 1754.6 1386.8 1645.0 1513.8 1622.1 1519.5 1469.7 1550.4 1447.0 1569.5 1592.7 1546.9 1479.1 1554.0 1476.8 1507.6 1459.6 1544.9 1689.5 1484.5 1548.8 1572.8 1630.1 1468.8 1611.1 1538.2 1581.6 1589.7 1759.4 1371.1 1484.8 1582.8 1659.0 1463.4 1454.0 1562.5 1617.4 1530.4 1738.7 1471.9 1452.9 1540.7 1576.7 1445.0 1752.9 1464.3 1650.0 1331.3 1597.2 1392.3 1739.4 1441.7 1694.0 1414.5 1581.9 1569.6 1539.2 1538.7 1751.6 1405.5 1628.4 1476.2 1688.4 1399.4 1649.6 1520.9 1475.2 1552.0 1729.5 1394.7 1581.9 1413.4 1534.7 1462.3 1665.1 1452.3 1656.1 1445.7 1734.5 1383.2 1431.6 1571.1 1587.5 1544.8 1601.9 1518.4 1611.4 1523.0 1611.8 1556.4 1632.6 1490.8 1661.3 1544.5 1587.4 1598.3 1717.8 1379.8 1827.7 1320.6 1473.2 1548.4 1465.9 1527.3 1727.7 1450.2 1488.8 1512.8 1633.8 1526.5 1605.2 1539.6 1712.1 1402.8 1552.0 1454.8 1751.8 1419.9 1722.3 1457.4 1634.6 1367.8 1727.1 1396.8 1660.6 1448.7 1640.1 1340.1 1655.6 1452.0 1547.8 1515.8 1455.0 1565.4 1722.7 1474.3 1801.5 1358.9 1591.9 1538.3 1610.1 1536.5 1465.9 1522.6 1477.7 1571.8 1600.6 1548.0 1651.7 1517.4 1458.8 1570.8 1591.9 1573.1 1665.6 1334.9 1657.4 1521.9 1461.9 1579.5 1531.9 1479.8 1513.0 1550.6 1447.7 1565.8 1478.1 1579.8 1494.9 1527.5 1472.0 1573.8 1481.7 1529.4 1578.1 1559.9 1718.6 1468.0 1591.8 1551.9 1589.7 1577.6 1744.3 1376.3 1579.3 1548.8 1621.3 1517.6 1640.9 1527.5 1786.4 1364.5 1616.5 1571.6 1491.3 1581.5 1671.9 1423.7 1619.1 1495.4 1651.7 1442.6 1721.2 1472.3 1448.6 1571.5 1612.6 1553.8 1456.2 1566.7 1661.1 1455.5 1565.6 1563.5 1651.6 1500.3 1587.1 1543.4 1609.7 1558.7 1486.9 1569.2 1747.0 1411.1 1605.4 1513.4 1489.2 1535.4 1595.3 1522.4 1489.1 1570.8 1652.5 1461.9 1660.2 1324.8 1587.7 1389.1 1766.7 1394.2 1546.6 1595.7 1532.7 1632.5 1628.9 1527.0 1676.9 1505.9 1744.8 1403.4 1761.0 1395.2 1652.8 1508.9 1481.6 1574.7 1644.8 1535.2 1706.9 1405.1 1479.7 1548.3 1670.9 1513.1 1576.9 1535.6 1439.7 1572.5 1480.2 1537.5 1749.2 1411.0 1671.0 1317.7 1664.5 1412.5 1613.1 1520.6 1511.5 1553.2 1646.4 1512.0 1646.2 1483.5 1450.7 1535.2 1461.0 1538.1 1452.8 1579.3 1696.0 1407.6 1585.0 1577.8 1454.7 1545.3 1724.1 1459.2 1760.1 1389.4 1473.3 1539.3 1485.8 1546.2 1503.7 1566.3 1482.8 1564.1 1689.1 1418.1 1639.9 1520.6 1691.1 1490.1 1484.2 1512.8 1468.9 1514.1 1737.7 1381.9 1666.9 1444.3 1646.1 1458.9 1654.7 1508.0 1746.1 1448.7 1638.7 1514.5 1472.0 1581.1 1748.7 1395.7 1501.3 1555.1 1629.5 1503.9 1739.7 1391.4 1750.5 1388.0 1740.6 1388.8 1834.5 1316.8 1782.7 1372.0 1508.1 1528.7 1656.5 1315.8 1652.4 1519.8 1662.7 1340.7 1651.6 1506.3 1486.9 1518.0 1635.4 1524.7 1685.6 1485.9 1472.4 1573.7 1620.1 1501.4"/>
<path class="mk" d="M1657.4 1498.6 1469.3 1528.8 1725.8 1383.4 1566.4 1550.5 1750.9 1439.8 1632.0 1499.4 1663.1 1454.7 1609.9 1556.8 1636.8 1525.5 1466.3 1550.3 1569.4 1598.1 1503.1 1667.4 1657.3 1460.8 1627.0 1436.7 1526.3 1616.9 1619.1 1375.9 1682.0 1407.8 1745.9 1412.9 1679.0 1418.1 1459.9 1527.8 1605.9 1568.5 1477.8 1530.4 1600.5 1506.8 1460.8 1547.7 1711.0 1469.6 1683.1 1488.1 1661.6 1428.8 1699.8 1402.0 1784.8 1371.3 1478.6 1563.8 1623.0 1377.9 1493.2 1543.1 1730.9 1455.4 1759.0 1381.7 1654.6 1523.9 1683.1 1415.2 1765.5 1394.2 1641.8 1513.1 1706.2 1476.4 1728.2 1459.5 1667.5 1503.3 1617.0 1574.5 1731.9 1391.0 1690.2 1411.4 1479.5 1537.8 1480.6 1527.1 1748.2 1413.5 1543.9 1460.1 1661.4 1456.5 1486.4 1497.2 1642.2 1367.1 1475.6 1532.5 1586.5 1565.0 1496.3 1580.1 1645.5 1487.6 1635.8 1481.9 1666.9 1496.1 1729.2 1447.1 1676.4 1429.5 1659.2 1508.3 1715.2 1391.5 1632.7 1353.7 1474.3 1548.0 1470.5 1575.1 1469.4 1582.6 1461.2 1552.3 1717.7 1469.7 1641.4 1522.1 1697.5 1482.7 1575.0 1578.1 1483.3 1555.8 1642.6 1545.3 1647.5 1466.6 1675.6 1317.1 1635.3 1562.0 1470.2 1549.0 1578.5 1553.8 1619.8 1539.3 1632.6 1529.2 1580.3 1571.7 1438.7 1586.0 1715.5 1463.1 1625.4 1512.5 1618.9 1532.3 1484.0 1563.6 1476.4 1582.2 1463.5 1561.9 1633.0 1590.6 1583.9 1575.0 1464.7 1542.8 1658.2 1466.9 1718.3 1460.4 1738.5 1388.2 1711.5 1401.1 1597.0 1484.2 1641.6 1379.7 1693.0 1404.2 1672.0 1415.6 1664.6 1452.4 1569.6 1509.7 1756.1 1399.1 1672.4 1492.1 1474.6 1553.1 1474.2 1545.7 1692.1 1410.5 1676.8 1421.4 1761.8 1404.4 1694.0 1488.0 1495.5 1525.3 1644.3 1514.2 1739.4 1381.2 1750.7 1383.3 1565.9 1579.0 1621.3 1525.2 1760.8 1411.9 1614.4 1530.1 1603.2 1378.4 1683.6 1487.8 1703.1 1327.7 1646.8 1480.4 1642.5 1366.9 1540.1 1467.8 1732.4 1388.7 1624.6 1498.5 1663.7 1314.4 1488.5 1566.6 1622.3 1491.6 1740.6 1392.3 1740.5 1442.0 1693.0 1490.4 1585.9 1563.9 1765.0 1410.6 1725.0 1461.2 1495.4 1526.3 1635.4 1363.4 1740.2 1426.2 1518.3 1637.7 1557.9 1603.6 1735.5 1476.0 1795.8 1446.3 1602.0 1540.9 1648.6 1460.1 1524.8 1638.4 1734.4 1432.3 1458.2 1572.6 1742.5 1461.3 1459.3 1562.9 1629.6 1478.1 1720.4 1391.5 1480.7 1559.5 1469.6 1537.7 1690.4 1484.8 1538.8 1608.5 1740.0 1424.1 1693.5 1486.7 1815.3 1444.1 1623.7 1533.4 1592.1 1579.5 1571.6 1561.4 1707.3 1394.2 1616.2 1378.7 1679.4 1509.6 1482.5 1536.2 1559.3 1574.6 1484.4 1589.6 1741.9 1419.8 1766.5 1364.0 1734.7 1435.0 1650.5 1464.7 1739.5 1386.7 1619.9 1530.9 1471.2 1534.3 1627.8 1536.2 1558.8 1560.8 1656.4 1515.8 1651.2 1352.8 1576.7 1565.7 1599.4 1542.3 1705.4 1400.1 1491.0 1576.7 1584.4 1541.8 1647.3 1473.7 1604.2 1526.0 1739.6 1420.9 1661.2 1498.9 1749.5 1407.4 1624.0 1545.7 1703.1 1405.1 1462.4 1565.5 1744.8 1408.0 1615.4 1517.7 1540.6 1459.3 1481.6 1535.9 1658.5 1464.8 1572.2 1564.3 1480.9 1546.6 1772.3 1375.1 1585.6 1581.7 1661.0 1412.7 1772.8 1403.5 1693.3 1489.1 1471.7 1525.7 1524.8 1467.3 1491.7 1560.3 1700.3 1383.8 1704.5 1405.6 1620.3 1532.7 1761.7 1417.0 1741.5 1444.0 1629.9 1494.3 1659.0 1437.6 1714.8 1470.7 1645.8 1472.9 1729.9 1461.0 1484.7 1542.9 1763.9 1331.8 1739.1 1432.1 1692.5 1392.4 1464.7 1549.5 1739.4 1389.0 1586.6 1392.8 1722.7 1393.0 1636.8 1534.3 1620.7 1522.1 1726.8 1454.0 1736.7 1446.1 1517.0 1637.1 1498.2 1655.4 1660.4 1502.0 1477.5 1541.7 1693.4 1410.3 1490.3 1551.7 1704.4 1395.6 1689.2 1419.3 1581.9 1439.8 1572.9 1515.4 1629.9 1527.1 1551.5 1437.4 1486.7 1593.7 1665.8 1438.4 1660.6 1513.6 1751.3 1368.3 1580.8 1577.5 1679.8 1409.1 1753.9 1373.4 1787.8 1326.8 1643.8 1330.7 1726.2 1464.4 1834.5 1444.4 1703.6 1409.7 1508.6 1565.3 1449.4 1591.1 1594.1 1560.8 1685.2 1497.0 1628.0 1538.3 1732.9 1437.6 1706.4 1479.9 1519.6 1523.9 1742.2 1445.3 1727.7 1393.2 1697.5 1478.4 1461.0 1559.9 1752.7 1379.3 1752.1 1415.3 1648.3 1373.1 1629.2 1491.9 1446.4 1539.8 1749.4 1397.3 1712.5 1469.2 1653.3 1316.4 1452.2 1588.2 1656.2 1571.6 1561.5 1572.0 1645.3 1513.4 1579.2 1524.9 1589.5 1554.9 1728.9 1395.9 1495.3 1530.5 1484.1 1562.4 1632.5 1450.9 1827.0 1351.4 1668.0 1514.3 1660.7 1432.4 1735.7 1382.6 1579.5 1561.3 1711.3 1382.5 1654.2 1468.2 1643.0 1477.1 1682.2 1382.6 1741.0 1446.3 1640.6 1472.6 1696.5 1375.2 1778.7 1384.4 1661.6 1439.7 1621.0 1554.1 1626.9 1386.0 1457.0 1575.3 1741.0 1428.9 1457.6 1557.8 1647.1 1514.7 1602.8 1557.2 1618.2 1375.1 1745.5 1447.7 1641.7 1479.4 1472.0 1580.3 1624.5 1506.8 1737.5 1433.7 1609.5 1529.4 1496.3 1517.0 1565.6 1419.2 1624.6 1515.6 1466.2 1571.0 1539.7 1611.4 1695.9 1483.0 1775.0 1373.0 1673.2 1495.4 1633.4 1526.7 1490.4 1533.9 1728.3 1470.8 1437.4 1527.5 1479.3 1558.3 1669.1 1425.5 1635.4 1500.7 1773.4 1384.0 1635.8 1524.0 1624.2 1498.5 1734.9 1382.0 1760.8 1369.5 1487.7 1517.9 1604.9 1546.9 1733.1 1465.3 1578.4 1584.5 1658.2 1508.1 1727.2 1364.1 1590.4 1499.1 1625.7 1500.9 1596.3 1560.4 1655.4 1504.3 1702.7 1493.6 1603.6 1499.3 1498.7 1516.0 1462.8 1526.2 1637.3 1519.0 1731.4 1392.2 1742.0 1452.3 1761.9 1403.2 1693.1 1480.1 1618.1 1510.4 1552.2 1589.1 1716.4 1475.9 1544.3 1455.7 1532.5 1634.3 1607.4 1526.8 1568.1 1557.8 1685.8 1494.2 1498.8 1562.3 1669.0 1496.8 1585.4 1413.6 1727.6 1467.7 1735.4 1439.9 1610.5 1552.6 1690.6 1393.9 1649.4 1383.3 1467.4 1535.1 1618.3 1509.2 1674.4 1419.1 1651.8 1461.3 1732.1 1452.7 1450.5 1550.0 1436.2 1578.1 1603.6 1538.6 1651.1 1428.7 1738.7 1386.4 1452.3 1532.4 1595.4 1538.7 1466.0 1564.8 1555.9 1435.9 1706.2 1387.6 1457.2 1555.1 1771.5 1418.2 1646.8 1478.5 1456.4 1563.7 1590.3 1519.5 1730.3 1383.7 1752.8 1401.8 1638.7 1485.7 1562.3 1426.6 1459.1 1571.8 1458.5 1550.6 1496.1 1541.8 1653.3 1343.6 1498.8 1559.4 1642.4 1466.6 1794.0 1374.6 1573.7 1588.4 1576.5 1534.3 1723.1 1453.1 1572.9 1601.4 1622.1 1530.0 1649.5 1455.7"/>
<path class="mk" d="M1560.4 1543.7 1669.4 1317.0 1526.2 1473.8 1549.8 1570.3 1605.1 1406.0 1682.2 1418.9 1769.6 1390.8 1576.7 1522.3 1621.5 1504.7 1762.2 1413.4 1554.2 1438.1 1597.9 1551.9 1462.2 1560.9 1660.5 1459.1 1649.2 1520.6 1669.8 1439.5 1746.7 1391.7 1741.8 1371.7 1487.6 1560.8 1652.7 1462.9 1732.2 1448.0 1769.3 1385.1 1673.4 1495.5 1474.3 1542.5 1442.2 1570.0 1742.5 1416.1 1476.0 1569.9 1458.9 1558.8 1682.2 1407.9 1709.1 1385.8 1599.3 1552.0 1662.4 1439.2 1576.2 1575.8 1474.8 1568.7 1464.1 1549.2 1816.5 1354.4 1744.1 1394.1 1594.0 1553.1 1706.4 1396.2 1619.2 1531.8 1573.1 1548.9 1635.4 1567.5 1622.1 1563.4 1612.5 1488.3 1659.3 1453.0 1710.3 1480.2 1590.6 1556.6 1683.7 1418.1 1718.9 1391.9 1458.7 1558.7 1698.5 1483.8 1693.9 1401.5 1483.2 1559.2 1644.6 1511.4 1667.6 1444.3 1760.0 1392.9 1617.6 1509.0 1605.9 1556.9 1472.0 1574.7 1698.7 1402.0 1638.9 1486.0 1671.2 1511.7 1624.9 1550.7 1560.4 1575.3 1537.1 1548.1 1783.1 1383.5 1594.7 1552.2 1528.9 1644.7 1656.4 1508.6 1687.2 1408.3 1620.3 1536.6 1629.0 1556.6 1444.7 1545.4 1660.2 1417.6 1671.2 1432.3 1696.7 1479.0 1491.0 1558.4 1668.6 1517.7 1755.2 1420.8 1650.2 1505.6 1667.7 1506.1 1676.0 1430.6 1469.3 1547.8 1722.6 1459.8 1550.6 1408.8 1468.2 1545.0 1593.1 1533.5 1463.0 1564.8 1652.0 1462.9 1722.6 1472.8 1558.2 1564.2 1586.7 1559.5 1624.8 1539.4 1445.0 1562.7 1658.3 1428.4 1745.1 1399.4 1704.3 1471.5 1641.4 1530.3 1616.6 1523.9 1701.5 1475.6 1745.3 1409.2 1600.4 1520.8 1648.5 1507.2 1438.7 1558.5 1741.9 1420.4 1479.9 1546.7 1538.3 1558.5 1623.8 1524.6 1470.4 1529.4 1653.1 1502.4 1670.0 1500.6 1734.2 1391.5 1653.9 1506.7 1475.4 1520.0 1457.8 1575.7 1669.3 1497.1 1717.2 1457.2 1601.7 1384.6 1661.3 1500.8 1710.1 1400.0 1527.0 1611.5 1585.7 1563.3 1476.7 1574.2 1639.8 1492.5 1690.9 1485.2 1742.5 1384.4 1743.7 1451.9 1699.0 1408.7 1696.6 1403.2 1679.8 1489.3 1664.4 1497.7 1656.6 1455.0 1466.9 1582.5 1587.6 1546.3 1789.1 1393.4 1696.1 1405.4 1747.5 1377.4 1567.0 1418.7 1677.7 1431.9 1738.7 1432.4 1475.9 1512.5 1555.4 1422.1 1487.2 1552.4 1714.2 1398.6 1631.5 1476.4 1664.5 1318.3 1757.1 1442.9 1631.9 1351.9 1663.4 1441.7 1492.9 1551.4 1470.8 1521.6 1742.9 1385.0 1590.3 1537.6 1717.0 1470.9 1739.9 1349.3 1446.8 1566.6 1675.6 1414.2 1632.3 1496.7 1474.5 1552.2 1669.6 1434.8 1474.9 1558.5 1717.1 1395.4 1767.5 1423.9 1657.2 1515.7 1479.6 1555.6 1481.5 1565.9 1772.7 1393.5 1691.2 1408.8 1619.3 1514.1 1670.1 1313.1 1580.6 1573.0 1810.9 1477.8 1746.9 1390.3 1677.1 1422.4 1569.6 1435.2 1598.8 1565.2 1626.4 1489.8 1747.4 1389.2 1625.9 1509.2 1452.1 1594.3 1678.6 1416.6 1484.7 1590.4 1452.1 1573.3 1617.0 1512.4 1742.1 1433.1 1676.0 1414.5 1448.5 1554.6 1497.3 1564.9 1457.3 1570.6 1702.1 1407.1 1472.1 1569.7 1556.9 1583.5 1591.6 1585.7 1693.5 1413.4 1647.4 1484.7 1459.0 1553.0 1693.3 1415.6 1644.7 1468.9 1481.4 1529.6 1486.9 1545.4 1647.6 1472.1 1493.1 1505.8 1595.1 1392.5 1677.4 1507.5 1472.3 1557.2 1739.8 1383.7 1728.7 1386.8 1465.6 1534.1 1452.3 1567.8 1718.9 1459.3 1466.6 1560.2 1591.5 1412.6 1532.2 1615.2 1662.0 1441.8 1469.0 1575.5 1724.4 1465.8 1624.3 1490.9 1670.2 1497.4 1741.8 1433.5 1707.3 1390.6 1662.1 1445.8 1544.3 1573.9 1471.5 1561.4 1601.4 1400.3 1623.7 1524.3 1611.7 1556.5 1671.6 1316.5 1680.7 1490.4 1556.8 1564.1 1647.2 1485.8 1447.7 1548.1 1746.2 1400.5 1684.1 1491.1 1685.0 1532.0 1664.5 1502.7 1560.9 1529.1 1491.0 1566.3 1488.1 1564.4 1487.2 1543.4 1733.8 1367.0 1467.6 1606.8 1742.7 1415.5 1680.6 1415.6 1589.4 1582.7 1655.5 1468.2 1584.6 1564.9 1710.5 1395.3 1481.2 1525.2 1454.7 1530.8 1484.5 1513.6 1561.4 1494.8 1671.8 1432.8 1594.5 1498.1 1579.4 1558.7 1660.3 1512.2 1557.8 1578.4 1449.1 1562.2 1482.7 1560.3 1478.7 1553.2 1618.3 1555.7 1454.8 1563.9 1714.3 1469.1 1673.3 1504.6 1630.1 1493.9 1822.1 1322.1 1594.3 1542.2 1684.1 1406.8 1548.4 1458.2 1643.7 1458.4 1739.3 1427.5 1661.1 1498.1 1557.3 1633.3 1636.5 1492.3 1518.6 1479.6 1503.0 1567.4 1573.9 1590.8 1674.8 1315.6 1748.0 1419.1 1774.8 1370.4 1455.4 1566.9 1460.6 1547.8 1478.9 1549.0 1502.6 1540.6 1545.0 1549.7 1675.0 1422.2 1493.0 1546.3 1661.1 1501.5 1648.0 1469.7 1703.5 1475.0 1755.6 1393.9 1652.2 1457.7 1675.0 1412.9 1698.2 1501.9 1570.7 1574.5 1537.7 1641.7 1526.6 1464.0 1660.3 1458.2 1751.5 1420.0 1448.8 1558.7 1599.4 1538.1 1457.8 1527.5 1485.8 1523.0 1633.2 1504.2 1455.9 1549.1 1634.2 1492.5 1714.0 1397.4 1745.7 1407.5 1487.0 1534.9 1609.0 1522.0 1749.0 1393.2 1687.9 1420.1 1432.2 1575.7 1712.1 1470.3 1693.0 1418.4 1724.6 1381.7 1667.3 1438.7 1595.0 1551.1 1597.9 1576.3 1602.4 1588.8 1642.0 1518.8 1461.7 1531.6 1529.7 1453.9 1726.9 1448.4 1681.6 1419.4 1729.3 1385.7 1623.8 1480.3 1458.4 1574.8 1479.5 1551.8 1618.6 1518.4 1657.0 1342.8 1599.6 1556.8 1733.9 1346.9 1798.5 1424.5 1755.9 1446.7 1738.1 1463.0 1623.1 1526.5 1607.0 1468.5 1671.0 1434.0 1521.8 1472.4 1708.0 1469.5 1682.9 1376.4 1748.4 1426.8 1683.1 1499.4 1473.5 1573.1 1458.1 1572.8 1692.1 1415.0 1476.4 1526.9 1657.0 1455.9 1614.3 1534.0 1763.7 1391.6 1725.6 1460.5 1488.9 1546.1 1634.8 1499.0 1463.4 1523.9 1644.4 1352.4 1599.6 1551.8 1628.0 1526.6 1692.5 1400.8 1699.5 1487.6 1471.5 1539.1 1661.6 1446.7 1620.0 1513.4 1625.0 1505.0 1578.5 1397.6 1661.2 1459.2 1636.8 1440.0 1767.8 1379.2 1490.6 1535.2 1740.8 1371.8 1486.8 1567.5 1608.8 1369.6 1555.5 1568.1 1640.4 1483.3 1760.2 1399.7 1554.9 1562.1 1745.9 1421.1 1586.6 1416.0 1641.5 1489.0 1745.8 1379.2 1635.2 1359.7 1499.8 1520.0 1677.1 1489.4 1486.1 1591.4 1693.0 1485.2 1651.3 1444.6 1574.8 1406.1 1676.4 1424.2 1745.5 1403.1 1692.5 1492.6 1470.9 1575.1 1467.7 1551.4 1678.4 1417.9 1480.4 1562.3 1497.4 1547.8 1747.9 1436.6 1620.5 1508.2 1701.1 1386.2 1585.4 1521.3 1474.4 1534.0 1608.2 1523.6"/>
<path class="mk" d="M1710.1 1471.3 1461.9 1538.6 1458.4 1537.7 1656.7 1460.3 1479.4 1562.8 1538.8 1455.3 1715.4 1384.7 1476.0 1556.6 1735.7 1440.3 1658.3 1445.0 1638.2 1493.0 1472.5 1535.3 1571.5 1537.7 1480.2 1573.8 1459.9 1563.9 1664.4 1515.3 1625.9 1538.4 1534.4 1619.2 1466.0 1541.2 1724.6 1461.9 1573.1 1548.0 1622.2 1517.2 1560.4 1585.2 1575.4 1553.4 1463.7 1555.4 1581.3 1574.0 1488.5 1540.2 1643.9 1489.2 1749.1 1378.8 1625.9 1498.7 1621.6 1545.9 1623.5 1535.7 1459.6 1542.2 1735.2 1444.2 1576.2 1535.0 1463.2 1591.0 1553.2 1598.1 1581.3 1542.6 1596.7 1558.3 1570.3 1563.8 1615.6 1519.9 1753.9 1399.3 1616.0 1484.7 1769.9 1407.6 1616.5 1523.1 1676.8 1558.7 1584.3 1557.5 1674.1 1307.6 1734.9 1441.2 1701.1 1400.6 1713.4 1399.0 1480.7 1585.4 1698.5 1480.9 1579.9 1426.0 1490.7 1529.1 1705.8 1396.6 1467.2 1573.2 1610.7 1367.1 1524.2 1629.0 1781.6 1374.6 1660.6 1417.3 1705.6 1470.3 1677.8 1425.7 1589.0 1542.3 1655.3 1453.6 1465.7 1559.0 1499.8 1499.9 1646.8 1349.1 1708.9 1478.4 1632.8 1473.0 1698.8 1476.6 1480.3 1543.7 1782.8 1387.9 1719.5 1389.7 1463.9 1531.6 1460.0 1548.0 1697.5 1399.4 1699.9 1483.7 1546.1 1556.7 1721.8 1392.0 1660.0 1508.0 1741.3 1423.7 1665.6 1508.7 1744.3 1401.8 1461.2 1572.1 1741.3 1415.7 1662.9 1447.0 1609.4 1523.8 1639.9 1481.0 1774.7 1409.0 1526.5 1486.8 1456.7 1527.2 1743.1 1417.5 1597.6 1554.8 1694.0 1394.9 1619.5 1537.0 1496.7 1544.0 1697.6 1401.2 1494.9 1570.2 1774.3 1378.2 1677.8 1424.2 1580.6 1591.2 1755.1 1394.3 1519.0 1619.2 1479.7 1505.9 1594.4 1534.6 1640.9 1482.5 1667.0 1433.4 1607.4 1546.7 1558.0 1600.7 1628.5 1527.6 1572.8 1572.9 1734.5 1442.8 1643.3 1483.3 1469.6 1567.8 1565.7 1588.6 1466.9 1562.8 1756.4 1396.4 1470.7 1539.8 1678.6 1488.9 1734.3 1446.1 1581.0 1560.1 1723.6 1394.3 1610.7 1525.4 1586.7 1557.3 1521.9 1521.4 1591.3 1540.9 1465.3 1577.6 1537.6 1617.7 1457.5 1538.4 1740.2 1450.0 1744.9 1450.4 1613.8 1543.4 1638.9 1467.1 1577.3 1525.5 1709.8 1499.3 1555.7 1576.2 1716.4 1392.4 1481.2 1540.0 1713.6 1399.6 1628.3 1393.2 1749.8 1401.4 1695.9 1405.8 1540.7 1458.7 1471.8 1542.8 1643.4 1490.6 1473.4 1561.7 1489.4 1569.1 1566.6 1607.9 1657.1 1521.1 1558.6 1603.4 1469.1 1549.7"/>
<path class="ax" d="M1368.7 1287.6V1788.6M1368.7 1788.6H1857.0"/>
<path class="tk" d="M1365.2 1765.0h3.5M1390.5 1788.6v3.5M1365.2 1651.1h3.5M1501.9 1788.6v3.5M1365.2 1537.2h3.5M1613.2 1788.6v3.5M1365.2 1423.3h3.5M1724.6 1788.6v3.5M1365.2 1309.4h3.5M1836.0 1788.6v3.5"/>
<text class="tl" x="1360.5" y="1775.8" text-anchor="end">0.7</text>
<text class="tl" x="1392.1" y="1818.8" text-anchor="middle">0.7</text>
<text class="tl" x="1360.5" y="1661.9" text-anchor="end">0.8</text>
<text class="tl" x="1503.5" y="1818.8" text-anchor="middle">0.8</text>
<text class="tl" x="1360.5" y="1548.0" text-anchor="end">0.9</text>
<text class="tl" x="1614.8" y="1818.8" text-anchor="middle">0.9</text>
<text class="tl" x="1360.5" y="1434.1" text-anchor="end">1.0</text>
<text class="tl" x="1726.2" y="1818.8" text-anchor="middle">1.0</text>
<text class="tl" x="1360.5" y="1320.2" text-anchor="end">1.1</text>
<text class="tl" x="1837.6" y="1818.8" text-anchor="middle">1.1</text>
<text class="ti" x="1415.2" y="1857.2">Fitness from YPE replicate 2</text>
<text class="ti" transform="translate(1306.2 1727.4) rotate(-90)">Fitness from YPE replicate 3</text>
<text class="st" x="1388" y="1286.2" style="font-size:31px" textLength="328" lengthAdjust="spacingAndGlyphs"><tspan font-style="italic">r</tspan> = 0.79, <tspan font-style="italic">P</tspan> &lt; 2.2 × 10<tspan dy="-11" style="font-size:18.5px">-308</tspan></text>
<text class="lb" x="1248.6" y="1296.5">i</text></g>
<g id="pj"><line class="dl" x1="124.1" y1="2437.9" x2="609.0" y2="1939.6"/>
<path class="bk" d="M518.6 2014.5h1v1h-1zM507.6 2015.5h2v1h-2zM515.6 2015.5h3v1h-3zM507.6 2016.5h3v1h-3zM514.6 2016.5h5v1h-5zM508.6 2017.5h1v1h-1zM510.6 2017.5h1v1h-1zM514.6 2017.5h6v1h-6zM505.6 2018.5h2v1h-2zM509.6 2018.5h3v1h-3zM515.6 2018.5h5v1h-5zM505.6 2019.5h2v1h-2zM510.6 2019.5h1v1h-1zM514.6 2019.5h5v1h-5zM506.6 2020.5h3v1h-3zM513.6 2020.5h3v1h-3zM507.6 2021.5h2v1h-2zM487.6 2022.5h1v1h-1zM485.6 2023.5h3v1h-3zM485.6 2024.5h1v1h-1zM487.6 2024.5h2v1h-2zM488.6 2025.5h1v1h-1zM497.6 2027.5h1v1h-1zM506.6 2027.5h4v1h-4zM512.6 2027.5h1v1h-1zM517.6 2027.5h1v1h-1zM497.6 2028.5h1v1h-1zM506.6 2028.5h8v1h-8zM515.6 2028.5h3v1h-3zM498.6 2029.5h3v1h-3zM502.6 2029.5h17v1h-17zM520.6 2029.5h1v1h-1zM488.6 2030.5h2v1h-2zM498.6 2030.5h22v1h-22zM487.6 2031.5h7v1h-7zM497.6 2031.5h24v1h-24zM483.6 2032.5h2v1h-2zM486.6 2032.5h8v1h-8zM496.6 2032.5h24v1h-24zM484.6 2033.5h34v1h-34zM482.6 2034.5h1v1h-1zM485.6 2034.5h11v1h-11zM497.6 2034.5h12v1h-12zM510.6 2034.5h5v1h-5zM484.6 2035.5h1v1h-1zM486.6 2035.5h24v1h-24zM512.6 2035.5h2v1h-2zM515.6 2035.5h1v1h-1zM474.6 2036.5h3v1h-3zM484.6 2036.5h23v1h-23zM508.6 2036.5h3v1h-3zM512.6 2036.5h1v1h-1zM470.6 2037.5h1v1h-1zM472.6 2037.5h1v1h-1zM474.6 2037.5h3v1h-3zM479.6 2037.5h3v1h-3zM483.6 2037.5h25v1h-25zM509.6 2037.5h2v1h-2zM513.6 2037.5h1v1h-1zM469.6 2038.5h40v1h-40zM510.6 2038.5h1v1h-1zM514.6 2038.5h1v1h-1zM471.6 2039.5h38v1h-38zM468.6 2040.5h1v1h-1zM471.6 2040.5h38v1h-38zM469.6 2041.5h41v1h-41zM511.6 2041.5h3v1h-3zM468.6 2042.5h45v1h-45zM458.6 2043.5h1v1h-1zM468.6 2043.5h7v1h-7zM476.6 2043.5h32v1h-32zM509.6 2043.5h3v1h-3zM467.6 2044.5h1v1h-1zM469.6 2044.5h7v1h-7zM478.6 2044.5h2v1h-2zM481.6 2044.5h27v1h-27zM509.6 2044.5h2v1h-2zM466.6 2045.5h10v1h-10zM479.6 2045.5h28v1h-28zM466.6 2046.5h41v1h-41zM463.6 2047.5h44v1h-44zM461.6 2048.5h46v1h-46zM460.6 2049.5h47v1h-47zM459.6 2050.5h11v1h-11zM471.6 2050.5h36v1h-36zM459.6 2051.5h50v1h-50zM436.6 2052.5h1v1h-1zM458.6 2052.5h51v1h-51zM435.6 2053.5h1v1h-1zM452.6 2053.5h1v1h-1zM456.6 2053.5h53v1h-53zM447.6 2054.5h2v1h-2zM451.6 2054.5h58v1h-58zM447.6 2055.5h3v1h-3zM453.6 2055.5h58v1h-58zM450.6 2056.5h1v1h-1zM452.6 2056.5h56v1h-56zM509.6 2056.5h3v1h-3zM451.6 2057.5h52v1h-52zM506.6 2057.5h1v1h-1zM508.6 2057.5h1v1h-1zM510.6 2057.5h1v1h-1zM512.6 2057.5h1v1h-1zM450.6 2058.5h51v1h-51zM511.6 2058.5h2v1h-2zM514.6 2058.5h2v1h-2zM452.6 2059.5h50v1h-50zM511.6 2059.5h6v1h-6zM450.6 2060.5h52v1h-52zM511.6 2060.5h5v1h-5zM449.6 2061.5h1v1h-1zM451.6 2061.5h50v1h-50zM512.6 2061.5h3v1h-3zM441.6 2062.5h60v1h-60zM512.6 2062.5h4v1h-4zM441.6 2063.5h61v1h-61zM513.6 2063.5h4v1h-4zM440.6 2064.5h60v1h-60zM502.6 2064.5h1v1h-1zM514.6 2064.5h2v1h-2zM438.6 2065.5h1v1h-1zM440.6 2065.5h64v1h-64zM438.6 2066.5h66v1h-66zM505.6 2066.5h1v1h-1zM437.6 2067.5h68v1h-68zM436.6 2068.5h71v1h-71zM430.6 2069.5h1v1h-1zM432.6 2069.5h1v1h-1zM436.6 2069.5h64v1h-64zM501.6 2069.5h5v1h-5zM428.6 2070.5h6v1h-6zM437.6 2070.5h62v1h-62zM502.6 2070.5h4v1h-4zM428.6 2071.5h70v1h-70zM501.6 2071.5h6v1h-6zM428.6 2072.5h71v1h-71zM503.6 2072.5h4v1h-4zM428.6 2073.5h71v1h-71zM503.6 2073.5h2v1h-2zM506.6 2073.5h1v1h-1zM429.6 2074.5h70v1h-70zM504.6 2074.5h3v1h-3zM429.6 2075.5h70v1h-70zM504.6 2075.5h2v1h-2zM429.6 2076.5h71v1h-71zM504.6 2076.5h2v1h-2zM419.6 2077.5h2v1h-2zM426.6 2077.5h74v1h-74zM505.6 2077.5h1v1h-1zM418.6 2078.5h3v1h-3zM424.6 2078.5h75v1h-75zM418.6 2079.5h82v1h-82zM417.6 2080.5h83v1h-83zM417.6 2081.5h82v1h-82zM419.6 2082.5h79v1h-79zM418.6 2083.5h79v1h-79zM418.6 2084.5h78v1h-78zM421.6 2085.5h74v1h-74zM421.6 2086.5h73v1h-73zM496.6 2086.5h2v1h-2zM420.6 2087.5h78v1h-78zM508.6 2087.5h1v1h-1zM420.6 2088.5h77v1h-77zM507.6 2088.5h2v1h-2zM417.6 2089.5h1v1h-1zM420.6 2089.5h77v1h-77zM499.6 2089.5h1v1h-1zM507.6 2089.5h1v1h-1zM416.6 2090.5h3v1h-3zM420.6 2090.5h76v1h-76zM500.6 2090.5h1v1h-1zM415.6 2091.5h80v1h-80zM497.6 2091.5h1v1h-1zM499.6 2091.5h1v1h-1zM414.6 2092.5h81v1h-81zM496.6 2092.5h1v1h-1zM498.6 2092.5h4v1h-4zM414.6 2093.5h80v1h-80zM495.6 2093.5h8v1h-8zM414.6 2094.5h78v1h-78zM497.6 2094.5h7v1h-7zM412.6 2095.5h80v1h-80zM497.6 2095.5h7v1h-7zM412.6 2096.5h81v1h-81zM497.6 2096.5h4v1h-4zM502.6 2096.5h1v1h-1zM412.6 2097.5h81v1h-81zM498.6 2097.5h1v1h-1zM413.6 2098.5h80v1h-80zM410.6 2099.5h2v1h-2zM413.6 2099.5h1v1h-1zM415.6 2099.5h71v1h-71zM487.6 2099.5h3v1h-3zM411.6 2100.5h2v1h-2zM414.6 2100.5h77v1h-77zM412.6 2101.5h80v1h-80zM412.6 2102.5h81v1h-81zM412.6 2103.5h82v1h-82zM399.6 2104.5h1v1h-1zM401.6 2104.5h2v1h-2zM412.6 2104.5h82v1h-82zM398.6 2105.5h5v1h-5zM412.6 2105.5h82v1h-82zM398.6 2106.5h5v1h-5zM414.6 2106.5h73v1h-73zM489.6 2106.5h4v1h-4zM398.6 2107.5h4v1h-4zM413.6 2107.5h72v1h-72zM491.6 2107.5h1v1h-1zM399.6 2108.5h2v1h-2zM416.6 2108.5h68v1h-68zM414.6 2109.5h70v1h-70zM412.6 2110.5h72v1h-72zM406.6 2111.5h3v1h-3zM412.6 2111.5h72v1h-72zM405.6 2112.5h6v1h-6zM412.6 2112.5h71v1h-71zM405.6 2113.5h77v1h-77zM484.6 2113.5h2v1h-2zM405.6 2114.5h80v1h-80zM405.6 2115.5h79v1h-79zM404.6 2116.5h80v1h-80zM405.6 2117.5h80v1h-80zM395.6 2118.5h1v1h-1zM405.6 2118.5h81v1h-81zM404.6 2119.5h73v1h-73zM478.6 2119.5h6v1h-6zM398.6 2120.5h79v1h-79zM479.6 2120.5h4v1h-4zM397.6 2121.5h81v1h-81zM481.6 2121.5h1v1h-1zM397.6 2122.5h81v1h-81zM482.6 2122.5h1v1h-1zM397.6 2123.5h82v1h-82zM482.6 2123.5h1v1h-1zM398.6 2124.5h81v1h-81zM397.6 2125.5h6v1h-6zM404.6 2125.5h72v1h-72zM477.6 2125.5h1v1h-1zM479.6 2125.5h1v1h-1zM397.6 2126.5h5v1h-5zM403.6 2126.5h72v1h-72zM476.6 2126.5h1v1h-1zM479.6 2126.5h1v1h-1zM396.6 2127.5h77v1h-77zM474.6 2127.5h1v1h-1zM476.6 2127.5h1v1h-1zM480.6 2127.5h1v1h-1zM396.6 2128.5h1v1h-1zM398.6 2128.5h76v1h-76zM475.6 2128.5h3v1h-3zM479.6 2128.5h3v1h-3zM395.6 2129.5h81v1h-81zM477.6 2129.5h3v1h-3zM481.6 2129.5h1v1h-1zM393.6 2130.5h2v1h-2zM396.6 2130.5h80v1h-80zM477.6 2130.5h4v1h-4zM393.6 2131.5h87v1h-87zM392.6 2132.5h86v1h-86zM479.6 2132.5h1v1h-1zM482.6 2132.5h2v1h-2zM393.6 2133.5h84v1h-84zM480.6 2133.5h3v1h-3zM390.6 2134.5h2v1h-2zM393.6 2134.5h1v1h-1zM395.6 2134.5h80v1h-80zM480.6 2134.5h2v1h-2zM390.6 2135.5h3v1h-3zM395.6 2135.5h79v1h-79zM477.6 2135.5h1v1h-1zM479.6 2135.5h3v1h-3zM378.6 2136.5h1v1h-1zM390.6 2136.5h3v1h-3zM395.6 2136.5h77v1h-77zM480.6 2136.5h3v1h-3zM375.6 2137.5h1v1h-1zM377.6 2137.5h1v1h-1zM388.6 2137.5h6v1h-6zM395.6 2137.5h3v1h-3zM399.6 2137.5h3v1h-3zM404.6 2137.5h67v1h-67zM481.6 2137.5h3v1h-3zM376.6 2138.5h1v1h-1zM387.6 2138.5h8v1h-8zM397.6 2138.5h5v1h-5zM405.6 2138.5h66v1h-66zM481.6 2138.5h3v1h-3zM376.6 2139.5h2v1h-2zM388.6 2139.5h6v1h-6zM395.6 2139.5h6v1h-6zM403.6 2139.5h57v1h-57zM461.6 2139.5h7v1h-7zM469.6 2139.5h2v1h-2zM376.6 2140.5h1v1h-1zM388.6 2140.5h6v1h-6zM395.6 2140.5h5v1h-5zM402.6 2140.5h1v1h-1zM404.6 2140.5h57v1h-57zM462.6 2140.5h8v1h-8zM387.6 2141.5h1v1h-1zM389.6 2141.5h5v1h-5zM396.6 2141.5h7v1h-7zM404.6 2141.5h31v1h-31zM439.6 2141.5h20v1h-20zM463.6 2141.5h3v1h-3zM388.6 2142.5h6v1h-6zM396.6 2142.5h39v1h-39zM441.6 2142.5h19v1h-19zM466.6 2142.5h1v1h-1zM388.6 2143.5h1v1h-1zM391.6 2143.5h1v1h-1zM393.6 2143.5h1v1h-1zM397.6 2143.5h38v1h-38zM440.6 2143.5h20v1h-20zM394.6 2144.5h22v1h-22zM418.6 2144.5h18v1h-18zM440.6 2144.5h19v1h-19zM395.6 2145.5h5v1h-5zM402.6 2145.5h12v1h-12zM415.6 2145.5h2v1h-2zM418.6 2145.5h14v1h-14zM433.6 2145.5h3v1h-3zM440.6 2145.5h10v1h-10zM451.6 2145.5h2v1h-2zM454.6 2145.5h3v1h-3zM397.6 2146.5h3v1h-3zM403.6 2146.5h15v1h-15zM419.6 2146.5h13v1h-13zM434.6 2146.5h1v1h-1zM440.6 2146.5h8v1h-8zM456.6 2146.5h2v1h-2zM398.6 2147.5h2v1h-2zM404.6 2147.5h10v1h-10zM415.6 2147.5h3v1h-3zM419.6 2147.5h14v1h-14zM440.6 2147.5h7v1h-7zM448.6 2147.5h2v1h-2zM457.6 2147.5h1v1h-1zM404.6 2148.5h10v1h-10zM417.6 2148.5h1v1h-1zM419.6 2148.5h12v1h-12zM440.6 2148.5h5v1h-5zM446.6 2148.5h3v1h-3zM405.6 2149.5h9v1h-9zM418.6 2149.5h7v1h-7zM427.6 2149.5h3v1h-3zM438.6 2149.5h1v1h-1zM442.6 2149.5h2v1h-2zM446.6 2149.5h3v1h-3zM404.6 2150.5h10v1h-10zM421.6 2150.5h4v1h-4zM433.6 2150.5h1v1h-1zM441.6 2150.5h2v1h-2zM444.6 2150.5h1v1h-1zM446.6 2150.5h1v1h-1zM448.6 2150.5h1v1h-1zM408.6 2151.5h8v1h-8zM423.6 2151.5h2v1h-2zM431.6 2151.5h2v1h-2zM440.6 2151.5h2v1h-2zM443.6 2151.5h2v1h-2zM446.6 2151.5h1v1h-1zM393.6 2152.5h1v1h-1zM409.6 2152.5h7v1h-7zM431.6 2152.5h1v1h-1zM433.6 2152.5h4v1h-4zM393.6 2153.5h2v1h-2zM409.6 2153.5h7v1h-7zM432.6 2153.5h5v1h-5zM394.6 2154.5h4v1h-4zM407.6 2154.5h1v1h-1zM411.6 2154.5h4v1h-4zM432.6 2154.5h3v1h-3zM394.6 2155.5h4v1h-4zM411.6 2155.5h3v1h-3zM432.6 2155.5h1v1h-1zM395.6 2156.5h3v1h-3zM412.6 2156.5h1v1h-1zM432.6 2156.5h1v1h-1zM382.6 2158.5h1v1h-1zM373.6 2160.5h1v1h-1zM375.6 2160.5h1v1h-1zM373.6 2168.5h2v1h-2zM367.6 2169.5h1v1h-1zM372.6 2169.5h4v1h-4zM358.6 2170.5h2v1h-2zM364.6 2170.5h5v1h-5zM372.6 2170.5h3v1h-3zM358.6 2171.5h1v1h-1zM363.6 2171.5h8v1h-8zM373.6 2171.5h1v1h-1zM359.6 2172.5h1v1h-1zM361.6 2172.5h10v1h-10zM373.6 2172.5h2v1h-2zM360.6 2173.5h3v1h-3zM364.6 2173.5h7v1h-7zM360.6 2174.5h3v1h-3zM365.6 2174.5h5v1h-5zM357.6 2175.5h4v1h-4zM363.6 2175.5h1v1h-1zM365.6 2175.5h4v1h-4zM358.6 2176.5h2v1h-2zM352.6 2181.5h2v1h-2zM353.6 2182.5h2v1h-2zM342.6 2185.5h2v1h-2zM342.6 2186.5h5v1h-5zM343.6 2187.5h3v1h-3zM361.6 2190.5h1v1h-1zM358.6 2191.5h2v1h-2zM361.6 2191.5h1v1h-1zM359.6 2192.5h1v1h-1zM361.6 2192.5h1v1h-1zM356.6 2193.5h4v1h-4zM362.6 2193.5h1v1h-1zM354.6 2194.5h1v1h-1zM357.6 2194.5h2v1h-2zM363.6 2194.5h1v1h-1zM353.6 2195.5h1v1h-1zM357.6 2195.5h2v1h-2zM353.6 2196.5h1v1h-1zM353.6 2197.5h1v1h-1zM313.6 2222.5h2v1h-2zM313.6 2223.5h2v1h-2zM313.6 2224.5h1v1h-1zM326.6 2234.5h1v1h-1zM327.6 2235.5h1v1h-1zM302.6 2236.5h1v1h-1zM301.6 2237.5h1v1h-1z"/>
<path class="mk" d="M510.9 2029.7 401.8 2123.5 400.3 2142.1 359.0 2192.2 339.7 2195.4 396.7 2143.1 484.4 2136.4 526.6 1992.8 390.8 2141.3 398.8 2135.9 436.4 2163.6 399.7 2105.6 476.1 2131.4 368.3 2146.9 351.9 2183.6 311.1 2191.9 399.6 2110.0 401.1 2123.7 387.2 2072.5 424.1 2082.3 394.0 2277.1 320.8 2226.8 468.8 2157.0 466.6 2033.9 415.8 2091.6 517.6 2014.6 402.9 2124.1 451.1 2037.7 513.3 2045.4 352.9 2193.2 432.6 2155.3 518.2 2017.0 360.1 2206.6 405.1 2167.9 498.1 2075.9 421.1 2086.5 510.6 2015.5 415.2 2149.9 302.6 2230.4 393.8 2118.0 400.5 2125.1 387.1 2150.4 480.7 2119.5 510.6 2031.1 442.0 2166.7 523.0 2076.2 395.8 2120.5 486.7 2102.2 397.8 2156.9 471.7 2037.3 268.1 2306.2 508.0 2088.8 444.8 2063.8 371.7 2184.1 463.3 2040.1 416.3 2091.7 515.6 2030.8 486.7 2099.9 420.6 2079.4 328.8 2213.3 384.0 2138.0 552.1 2091.2 394.8 2176.0 357.1 2197.3 386.1 2160.4 427.0 2061.9 483.0 2135.9 526.1 2076.7 390.1 2137.8 413.0 2153.2 504.9 2049.2 451.2 2011.2 392.3 2144.6 512.2 2058.8 284.7 2273.3 505.5 2094.7 482.4 2113.7 329.1 2232.7 398.6 2144.6 392.9 2140.7 497.9 2097.1 390.6 2150.5 505.9 2078.7 362.8 2152.7 350.6 2237.6 383.4 2188.5 504.9 2055.9 395.1 2165.9 460.0 2048.1 351.0 2210.8 463.5 2020.5 266.5 2278.3 384.9 2112.9 442.1 2066.0 495.0 2088.0 375.5 2143.1 434.8 2139.9 478.0 2036.9 492.1 2033.4 361.4 2193.9 258.8 2335.3 500.7 2083.4 363.1 2164.0 495.5 2108.0 514.6 2051.0 433.7 2152.2 508.1 2032.5 501.9 2057.6 346.5 2190.2 311.9 2222.9 487.2 2143.7 410.4 2100.5 545.5 2125.5 518.6 2101.3 415.8 2101.7 374.7 2140.8 490.2 2099.5 366.7 2172.9 485.9 2026.1 503.1 2076.5 431.7 2073.1 400.9 2122.6 385.7 2144.4 508.5 2025.4 414.0 2153.3 396.4 2157.9 405.4 2095.4 348.7 2187.9 405.5 2143.1 302.6 2240.0 478.9 2139.3 519.8 2030.1 450.3 2157.9 434.0 2144.9 500.9 2028.8 412.0 2098.2 329.7 2206.9 302.2 2259.7 384.3 2167.4 472.4 2029.3 472.3 2048.7 381.7 2160.8 421.0 2151.8 499.7 2030.4 382.2 2156.1 375.4 2214.3 319.6 2220.8 366.5 2180.7 334.5 2206.2 402.0 2135.4 407.6 2147.1 297.7 2227.3 496.2 2085.7 509.4 2044.7 374.6 2176.3 485.4 2025.7 434.1 2154.3 473.3 2044.9 508.3 2037.9 449.5 2053.4 383.2 2160.9 356.5 2176.8 503.8 2068.3 350.1 2168.6 401.9 2130.2 328.8 2204.4 505.6 2029.4 430.5 2156.8 328.4 2236.8 314.6 2194.8 459.1 2146.1 386.5 2143.8 373.7 2162.4 535.2 2036.0 396.4 2129.2 510.3 2059.2 406.8 2257.8 346.9 2193.8 497.0 2072.8 461.9 2026.7 440.8 2063.4 422.9 2092.2 368.6 2157.7 515.7 2062.0 295.6 2222.5 471.0 2041.0 434.5 2053.4 413.3 2145.1 363.1 2201.9 407.8 2138.1 532.7 2040.8 483.4 2044.6 407.5 2115.2 488.8 2135.3 414.8 2095.8 528.4 2027.5 439.8 2069.6 526.2 2015.8 419.7 2082.7 406.8 2076.5 248.7 2289.5 373.0 2168.0 531.2 2008.3 456.8 2045.6 495.0 2035.5 506.2 2021.9 456.5 2036.6 466.6 2048.3 443.6 2062.8 520.5 2063.7 398.2 2107.1 503.8 2074.1 419.3 2147.4 514.3 2031.4 436.0 2167.5 366.5 2185.5 471.6 2043.9 440.5 2154.4 320.4 2254.1 516.5 2035.7 492.4 2122.7 482.0 2131.0 517.7 2032.6 531.7 2024.8 457.7 2045.0 508.2 2091.1 545.3 2014.9 355.8 2155.5 522.5 2044.1 476.1 2048.9 456.4 2054.0 436.5 2058.7 345.2 2184.7 405.2 2120.2 505.6 2064.1 508.5 1961.3 371.7 2187.0 478.4 2033.6 362.5 2170.6 396.9 2153.4 391.1 2151.2 415.3 2148.3 412.0 2087.4 406.1 2120.4 373.7 2193.5 343.7 2188.6 483.1 2037.7 495.6 2081.9 326.3 2213.5 511.7 2025.0 384.3 2197.4 441.0 2163.5 483.9 2107.8 395.2 2127.2 475.6 2042.9 495.3 2086.1 368.2 2173.9 335.1 2129.9 396.3 2155.2 495.0 2098.2 363.3 2116.4 568.7 1987.4 282.8 2252.0 416.6 2105.7 534.6 1996.3 475.9 2045.0 506.6 2072.1 373.5 2179.4 524.3 2028.5 365.0 2193.4 436.9 2064.4 496.0 2026.3 509.7 2090.0 439.8 2151.3 458.7 2056.5 505.3 2055.9 484.6 2120.3 476.0 2040.3 502.4 2069.3 314.9 2222.5 429.2 2071.7 422.4 2086.1 499.3 2031.2 361.9 2178.4 338.9 2214.4 510.5 2041.8 480.1 2127.7 517.4 2012.8 413.5 2155.0 400.0 2106.2 418.3 2079.4 357.6 2170.5 353.6 2171.1 384.8 2193.7 461.4 2050.5 546.2 2013.7 434.0 2060.4 388.1 2112.8 412.6 2097.7 391.3 2137.5 508.0 2012.6 515.2 2062.1 485.9 2033.6 497.7 2016.6 272.3 2318.6 499.0 2080.3 476.4 2124.3 400.6 2146.5 511.4 2007.2 424.2 2079.3 457.0 2147.7 291.4 2230.9 438.0 2068.8 500.9 2087.2 497.3 2142.7 482.4 2110.2 500.5 2032.7 500.4 2061.8 367.3 2211.3 515.6 2028.0 500.2 2120.2 415.0 2112.6 296.4 2243.4 498.9 2089.1 491.4 2033.3 464.0 2140.2 509.3 2020.4 434.4 2140.1 441.7 2151.1 355.6 2159.0 406.8 2116.2 370.2 2175.4 355.8 2198.0 400.4 2130.4 498.5 2096.3 479.8 2122.7 529.4 2001.0 492.7 2113.6 424.5 2149.9 491.2 2000.4 372.9 2172.9 315.9 2234.3 488.1 2032.6 497.5 2075.6 428.2 2168.1 486.2 2104.8 429.7 2069.9 504.0 2020.4 399.0 2083.4 506.6 2028.0 335.1 2177.7 471.5 2051.9 375.1 2121.7 492.1 2123.7 404.3 2142.7 256.5 2244.2 401.1 2123.5 419.2 2206.6 439.4 2038.0 380.4 2140.3 379.7 2176.6 396.7 2154.3 453.5 2144.6 433.6 2062.2 304.2 2233.9 432.0 2032.3 300.8 2238.9 325.7 2217.9 317.4 2242.8 376.4 2137.6 420.7 2164.7 406.6 2138.3 458.9 2141.5 466.0 2142.1 399.0 2160.7 414.1 2098.8 458.4 2140.9 310.2 2231.5 445.5 2180.3 365.1 2147.3 513.3 2060.4 472.2 2134.5 421.8 2060.8 370.8 2126.6 452.1 2064.3 499.8 2066.2 524.7 2078.3 469.1 2137.7 516.5 2043.0 389.3 2168.4 466.9 2048.4 516.4 2049.6 370.7 2187.7 404.1 2073.2 351.6 2182.3 561.0 2035.0 360.1 2148.7 301.2 2226.2 311.9 2139.6 439.2 2053.7"/>
<path class="mk" d="M505.9 2069.8 419.7 1998.2 483.5 2117.6 425.9 2149.5 301.2 2236.0 507.1 2030.9 308.4 2227.8 484.2 2121.0 393.0 2130.2 393.0 2177.0 482.0 2043.6 491.1 2105.2 521.1 2002.1 434.7 2142.6 397.1 2157.9 495.4 2027.8 443.1 2057.8 474.7 2151.1 401.5 2106.1 492.9 2035.4 368.2 2173.0 407.8 2112.0 491.6 2096.2 498.1 2095.1 442.1 2141.6 502.4 2093.8 488.0 2035.6 421.7 2151.3 474.0 2133.5 483.5 2141.5 322.8 2204.6 510.6 2090.4 362.2 2222.9 523.1 2038.2 484.2 2127.8 333.3 2155.1 398.7 2119.7 453.6 2062.7 430.6 2070.9 506.4 2037.6 373.4 2196.8 508.6 2018.9 496.6 2037.6 520.1 2097.5 503.1 2071.8 510.9 2130.3 463.9 2048.8 325.0 2210.7 419.5 2092.6 493.7 2085.5 446.1 2064.8 352.2 2197.3 416.5 2154.8 454.3 2057.2 437.7 2147.3 499.8 2017.6 268.1 2254.7 410.9 2102.9 296.4 2257.8 433.8 2072.6 382.5 2147.6 526.9 2089.4 469.5 2156.0 391.0 2137.7 472.3 2041.4 360.8 2165.6 506.2 2000.4 409.6 2149.7 433.7 2074.4 473.4 2136.9 460.4 2054.7 296.4 2213.2 482.6 2127.2 449.0 2065.4 485.0 2104.6 383.5 2125.7 490.0 2098.0 430.0 2074.0 392.8 2141.0 314.6 2243.6 514.2 2065.4 575.3 2089.3 361.6 2157.8 434.7 2156.2 492.6 2091.4 442.0 2146.3 507.6 2054.8 472.6 2129.6 331.2 2238.4 328.9 2178.0 454.1 2144.0 470.6 2045.3 455.3 2147.9 472.9 2150.9 522.3 2018.8 400.3 2129.0 498.2 2036.5 513.3 2032.6 438.3 2055.9 337.4 2171.3 392.6 2132.8 347.7 2203.3 500.7 2096.1 488.8 2110.8 335.7 2175.9 417.0 2098.2 452.1 2029.2 540.4 2054.4 414.6 2145.3 384.6 2123.5 417.7 2093.2 491.9 2092.3 386.7 2160.8 440.8 2148.5 354.3 2184.6 380.7 2104.2 483.7 2135.7 470.5 2049.6 325.5 2236.6 505.6 2075.2 313.0 2232.6 376.9 2147.0 386.6 2131.9 449.4 2046.0 511.1 2054.1 503.0 2092.9 499.9 2061.0 476.2 2038.3 459.5 2145.4 455.0 2055.6 360.3 2174.1 506.4 2115.7 357.2 2193.2 454.5 2060.2 525.0 2054.4 414.2 2109.2 435.1 2152.1 414.8 2093.6 360.0 2161.0 470.3 2041.3 397.5 2168.1 414.6 2110.5 396.8 2132.9 498.8 2073.0 382.7 2178.3 355.5 2180.8 473.2 2140.1 299.1 2269.4 428.9 2148.3 481.4 2159.2 431.8 2144.1 377.9 2136.7 573.4 2064.1 487.6 2115.5 242.1 2243.4 577.2 2018.4 514.7 2032.8 403.5 2108.3 475.0 2041.8 490.9 2104.1 515.1 2060.0 400.1 2140.9 508.0 2076.7 386.1 2155.1 384.4 2156.0 308.5 2231.4 478.6 2041.9 564.5 1981.9 513.4 2044.5 490.5 2097.9 507.0 2041.2 434.4 2164.1 515.9 2092.2 498.7 2113.6 458.0 2141.7 454.6 2052.7 396.4 2147.7 489.7 2023.1 501.9 2023.4 399.0 2091.0 329.3 2224.8 507.8 2029.9 420.9 2082.8 353.4 2168.2 455.6 2044.5 527.6 2012.3 361.8 2170.8 519.8 2017.5 493.6 2136.6 454.1 2059.6 475.7 2136.5 366.2 2173.6 467.7 2140.1 441.9 2160.3 451.4 2044.3 505.9 2072.0 380.5 2152.3 378.6 2181.5 477.6 2125.5 506.9 2049.9 333.9 2253.1 396.7 2147.3 450.2 2151.0 275.8 2270.2 405.4 2187.2 494.5 2106.4 375.1 2184.0 436.5 2074.2 513.8 2018.6 510.5 2054.7 355.7 2197.4 505.5 2056.9 435.4 2051.3 497.1 2074.5 442.1 2145.0 519.3 2031.4 313.0 2236.5 254.9 2277.1 399.1 2128.7 501.6 2096.0 391.5 2140.0 506.8 2037.5 449.8 2152.3 376.9 2134.6 539.7 2022.4 375.7 2160.6 461.9 2139.3 300.4 2239.5 475.7 2021.5 496.6 2124.4 496.8 2091.0 309.9 2211.3 382.4 2146.2 398.5 2116.6 519.1 2099.7 498.8 2002.5 481.6 2139.0 366.9 2155.4 397.8 2138.7 484.2 2114.3 479.4 2118.4 337.7 2203.7 371.1 2160.8 364.4 2180.5 415.4 2146.6 329.8 2216.7 457.2 2041.9 423.7 2152.6 485.9 2124.4 403.0 2135.8 393.6 2133.6 408.5 2114.5 506.6 2069.9 446.3 2150.2 410.2 2157.4 491.5 2023.9 476.2 2029.1 425.3 2082.2 288.6 2258.6 361.5 2196.2 405.8 2147.8 419.7 2075.7 346.1 2181.3 402.7 2136.2 400.1 2113.5 403.0 2146.7 528.8 2080.3 489.2 2023.9 485.1 2100.5 346.0 2222.7 534.0 2023.0 471.0 2036.2 420.1 2146.8 506.0 2087.7 376.5 2170.7 405.8 2148.6 403.4 2130.5 508.4 2018.7 527.3 2051.0 426.0 2149.7 367.8 2172.9 382.9 2112.5 423.2 2067.1 507.2 2042.2 351.1 2145.8 486.8 2103.9 389.6 2160.7 372.8 2171.5 475.0 2121.2 348.7 2226.8 557.9 2040.0 326.8 2233.3 436.5 2149.3 451.4 2062.9 379.0 2161.5 351.5 2198.2 317.1 2224.2 496.6 2137.1 394.0 2136.4 318.4 2122.2 330.9 2224.4 469.6 2050.5 407.8 2079.1 448.4 2058.5 401.3 2144.7 511.0 2013.0 515.4 2022.5 492.4 2029.6 373.6 2168.7 418.8 2160.6 577.2 1962.6 479.4 2132.6 508.6 2053.5 494.2 2101.2 496.8 2080.1 488.0 2010.0 506.7 2099.4 458.4 2145.3 363.3 2212.6 391.7 2105.6 416.3 2098.0 556.7 1982.7 522.2 2002.6 510.9 2032.4 500.4 2079.9 311.8 2202.0 364.8 2178.8 369.3 2172.7 468.9 2141.5 328.9 2191.4 355.8 2181.3 516.7 2054.2 360.1 2135.0 410.4 2106.0 470.5 2141.4 365.5 2163.1 391.2 2142.7 446.3 2154.0 325.2 2235.1 515.2 2029.2 390.6 2170.3 461.6 2050.1 456.9 2057.3 331.2 2248.1 495.2 2090.8 396.0 2124.9 450.0 2145.1 509.3 2096.9 513.6 2036.7 403.2 2162.7 503.3 2026.2 402.1 2106.9 474.9 2040.1 432.7 2169.2 387.8 2182.4 525.9 2036.1 333.7 2194.7 404.1 2123.2 420.3 2190.0 407.7 2152.4 511.8 2040.5 397.4 2146.1 419.7 2081.5 538.5 2025.3 512.7 2044.7 336.2 2185.3 503.6 2089.3 376.6 2145.1 501.9 2069.3 392.7 2123.4 448.5 2147.9 406.8 2115.4 383.5 2127.3 563.7 2043.9 417.8 2164.2 481.3 2132.2 430.7 2079.1 344.9 2159.1 556.7 2044.7 340.9 2186.3 478.0 2127.4 485.3 2034.7 500.0 2059.2 373.8 2104.7 384.8 2181.7 450.3 2148.1 349.3 2174.7 393.4 2120.0 481.5 2033.2 407.3 2152.5 477.4 2039.6 418.9 2080.7 517.2 2075.7 471.5 2025.6 468.5 2049.3 305.2 2236.7 392.8 2132.0 360.4 2193.1 333.3 2144.5 433.9 2073.9"/>
<path class="mk" d="M483.3 2025.0 352.4 2109.8 573.4 1967.2 453.0 2156.8 449.3 2057.7 419.2 2046.6 313.0 2253.9 378.6 2138.8 382.1 2167.1 466.3 2146.2 507.6 2036.9 459.1 2002.9 465.0 2144.8 446.9 2147.4 518.0 2031.2 332.3 2180.7 468.4 2043.9 487.1 2116.6 346.7 2131.9 395.1 2187.4 493.3 2035.0 514.6 2105.5 428.8 2078.8 443.8 2065.0 482.9 2113.1 362.0 2143.0 412.5 2116.0 444.7 2032.3 507.5 2004.0 517.0 2019.6 475.6 2123.8 502.2 2016.4 479.5 2045.5 501.0 2010.9 470.0 2154.9 431.9 2074.1 276.6 2288.8 430.4 2069.0 462.1 2042.6 368.9 2144.7 379.9 2111.3 488.4 2104.4 407.4 2158.4 479.4 2042.4 359.5 2189.1 407.3 2149.9 398.8 2138.4 392.4 2153.1 364.8 2173.3 463.1 2036.3 499.4 2032.3 517.1 2022.2 438.8 2067.7 389.6 2178.0 393.1 2168.7 508.1 2014.8 405.3 2124.1 433.4 2144.6 420.7 2075.2 373.8 2151.2 395.8 2139.5 463.6 2035.9 358.4 2129.9 401.3 2116.0 554.8 2070.7 499.0 2120.3 442.7 2143.4 499.0 2061.0 387.9 2141.3 415.4 2110.7 516.8 2018.9 501.3 2067.0 481.4 2114.4 403.7 2136.9 415.6 2103.9 453.0 2063.8 547.0 1998.2 466.8 2020.3 328.4 2187.8 381.3 2133.4 498.5 2078.7 420.6 2148.1 502.2 2065.4 473.5 2128.8 484.3 2121.1 412.8 2158.8 407.2 2174.4 446.3 2160.3 408.4 2089.4 518.5 2017.1 497.9 2109.4 419.8 2090.2 491.1 2033.1 414.2 2105.2 401.6 2141.5 524.9 2083.4 410.7 2154.9 343.8 2187.7 563.7 2011.8 380.9 2187.7 511.0 2034.7 504.8 2047.4 406.4 2142.2 402.7 2196.5 436.3 2051.8 482.8 2040.5 528.4 2029.6 516.8 2057.0 488.1 2112.6 503.9 2068.5 372.2 2140.1 431.0 2064.3 449.1 2054.8 478.9 2130.0 492.6 2104.9 571.4 2013.7 367.7 2190.3 450.9 2055.9 430.3 2146.8 426.4 2079.1 468.4 2153.2 363.4 2187.5 389.7 2190.9 357.7 2152.8 503.4 2115.7 314.5 2225.2 521.0 2031.9 342.6 2203.2 448.4 2065.1 483.8 2035.5 503.6 2095.8 527.8 2020.5 549.3 1968.4 480.8 2137.4 506.6 2051.4 496.7 2108.9 444.2 2148.9 400.4 2123.6 367.9 2153.8 311.8 2259.7 499.1 2035.4 311.9 2234.3 377.0 2173.3 436.6 2155.9 486.2 2021.5 489.1 2026.3 490.7 2095.3 491.4 2104.6 397.6 2175.2 354.9 2154.7 352.3 2173.9 439.4 2070.9 392.4 2154.8 387.0 2126.4 453.1 2143.1 246.8 2231.8 497.9 2092.5 491.9 2093.2 375.0 2164.5 470.2 2046.6 552.1 2002.1 464.1 2050.8 480.7 2039.8 376.1 2167.0 416.5 2192.4 338.0 2197.8 476.1 2029.3 436.4 2144.2 319.9 2226.5 510.1 2058.9 356.7 2203.1 488.4 2105.2 439.7 2193.8 336.3 2150.6 435.9 2066.7 517.3 2063.1 360.9 2177.0 312.9 2225.3 291.8 2223.6 513.5 2037.5 515.2 2009.2 398.5 2074.7 366.5 2170.3 453.5 2151.5 345.0 2185.2 349.9 2163.8 567.6 2002.1 411.4 2112.6 447.6 2063.9 319.4 2200.5 330.5 2166.7 480.7 2030.1 534.6 2027.3 511.0 2021.9 325.8 2215.8 535.2 2035.3 260.3 2277.9 508.2 2007.2 513.0 2064.6 462.0 2052.6 496.3 2072.4 507.1 2043.4 448.3 2049.6 452.5 1978.1 272.3 2262.8 366.1 2194.9 397.0 2135.3 336.6 2227.1 356.4 2204.9 522.4 2048.3 427.4 2080.9 408.9 2114.4 407.5 2199.7 486.8 2031.8 430.5 2076.8 509.3 2078.0 318.1 2252.1 474.2 2132.5 517.0 2039.3 434.5 2172.5 526.9 2025.3 512.0 2079.3 555.9 2007.9 375.4 2158.4 364.9 2192.0 478.2 2119.6 340.8 2225.2 466.2 2040.4 483.4 2043.8 414.9 2155.0 490.1 2146.8 443.8 2153.2 477.2 2133.1 424.4 2185.2 358.9 2156.6 359.4 2174.4 422.0 2145.7 359.5 2176.2 431.4 2149.5 409.5 2115.0 306.5 2214.0"/>
<path class="ax" d="M124.1 1933.0V2435.8M120.5 2441.4H609.0"/>
<path class="tk" d="M120.6 2415.4h3.5M146.0 2441.4v3.5M120.6 2301.7h3.5M256.7 2441.4v3.5M120.6 2187.9h3.5M367.4 2441.4v3.5M120.6 2074.2h3.5M478.1 2441.4v3.5M120.6 1960.4h3.5M588.8 2441.4v3.5"/>
<text class="tl" x="115.9" y="2426.2" text-anchor="end">0.7</text>
<text class="tl" x="147.6" y="2471.6" text-anchor="middle">0.7</text>
<text class="tl" x="115.9" y="2312.5" text-anchor="end">0.8</text>
<text class="tl" x="258.3" y="2471.6" text-anchor="middle">0.8</text>
<text class="tl" x="115.9" y="2198.7" text-anchor="end">0.9</text>
<text class="tl" x="369.0" y="2471.6" text-anchor="middle">0.9</text>
<text class="tl" x="115.9" y="2085.0" text-anchor="end">1.0</text>
<text class="tl" x="479.7" y="2471.6" text-anchor="middle">1.0</text>
<text class="tl" x="115.9" y="1971.2" text-anchor="end">1.1</text>
<text class="tl" x="590.4" y="2471.6" text-anchor="middle">1.1</text>
<text class="ti" x="174" y="2509.7">Fitness from YPE replicate 1</text>
<text class="ti" transform="translate(67 2393.9) rotate(-90)">Fitness from YPE replicate 3</text>
<text class="st" x="136.2" y="1956.2" style="font-size:31px" textLength="328" lengthAdjust="spacingAndGlyphs"><tspan font-style="italic">r</tspan> = 0.81, <tspan font-style="italic">P</tspan> &lt; 2.2 × 10<tspan dy="-11" style="font-size:18.5px">-308</tspan></text>
<text class="lb" x="17.5" y="1959.5">j</text></g>
<g id="pk"><line class="dl" x1="757.5" y1="2439.0" x2="1245.2" y2="1938.5"/>
<path class="bk" d="M1136 2032h4v1h-4zM1134 2033h6v1h-6zM1134 2034h4v1h-4zM1140 2034h1v1h-1zM1134 2035h5v1h-5zM1133 2036h7v1h-7zM1135 2037h3v1h-3zM1133 2038h1v1h-1zM1135 2038h3v1h-3zM1133 2039h3v1h-3zM1137 2039h1v1h-1zM1130 2040h1v1h-1zM1133 2040h4v1h-4zM1129 2041h7v1h-7zM1145 2041h1v1h-1zM1124 2042h2v1h-2zM1129 2042h11v1h-11zM1145 2042h1v1h-1zM1147 2042h1v1h-1zM1149 2042h1v1h-1zM1096 2043h1v1h-1zM1120 2043h2v1h-2zM1123 2043h4v1h-4zM1129 2043h11v1h-11zM1145 2043h4v1h-4zM1093 2044h5v1h-5zM1113 2044h3v1h-3zM1118 2044h10v1h-10zM1130 2044h11v1h-11zM1143 2044h6v1h-6zM1094 2045h5v1h-5zM1102 2045h2v1h-2zM1106 2045h23v1h-23zM1131 2045h9v1h-9zM1142 2045h2v1h-2zM1145 2045h5v1h-5zM1093 2046h5v1h-5zM1099 2046h30v1h-30zM1130 2046h12v1h-12zM1144 2046h4v1h-4zM1092 2047h5v1h-5zM1098 2047h36v1h-36zM1136 2047h6v1h-6zM1144 2047h4v1h-4zM1093 2048h40v1h-40zM1135 2048h7v1h-7zM1146 2048h3v1h-3zM1092 2049h3v1h-3zM1097 2049h37v1h-37zM1135 2049h6v1h-6zM1142 2049h1v1h-1zM1146 2049h3v1h-3zM1092 2050h2v1h-2zM1096 2050h46v1h-46zM1145 2050h1v1h-1zM1095 2051h46v1h-46zM1094 2052h48v1h-48zM1093 2053h49v1h-49zM1149 2053h1v1h-1zM1092 2054h50v1h-50zM1092 2055h49v1h-49zM1094 2056h47v1h-47zM1094 2057h46v1h-46zM1093 2058h47v1h-47zM1087 2059h2v1h-2zM1092 2059h47v1h-47zM1085 2060h4v1h-4zM1091 2060h47v1h-47zM1082 2061h1v1h-1zM1084 2061h5v1h-5zM1090 2061h49v1h-49zM1077 2062h1v1h-1zM1082 2062h57v1h-57zM1082 2063h57v1h-57zM1081 2064h58v1h-58zM1082 2065h56v1h-56zM1081 2066h57v1h-57zM1080 2067h57v1h-57zM1081 2068h57v1h-57zM1075 2069h4v1h-4zM1080 2069h59v1h-59zM1075 2070h64v1h-64zM1074 2071h65v1h-65zM1074 2072h65v1h-65zM1075 2073h64v1h-64zM1070 2074h2v1h-2zM1074 2074h64v1h-64zM1069 2075h3v1h-3zM1073 2075h66v1h-66zM1068 2076h3v1h-3zM1072 2076h60v1h-60zM1133 2076h6v1h-6zM1068 2077h2v1h-2zM1071 2077h60v1h-60zM1133 2077h4v1h-4zM1070 2078h61v1h-61zM1133 2078h4v1h-4zM1069 2079h61v1h-61zM1131 2079h8v1h-8zM1063 2080h1v1h-1zM1065 2080h3v1h-3zM1069 2080h68v1h-68zM1062 2081h75v1h-75zM1059 2082h1v1h-1zM1062 2082h74v1h-74zM1060 2083h1v1h-1zM1062 2083h74v1h-74zM1060 2084h75v1h-75zM1058 2085h1v1h-1zM1061 2085h71v1h-71zM1057 2086h4v1h-4zM1063 2086h67v1h-67zM1056 2087h7v1h-7zM1064 2087h66v1h-66zM1054 2088h10v1h-10zM1065 2088h64v1h-64zM1056 2089h7v1h-7zM1064 2089h66v1h-66zM1055 2090h75v1h-75zM1056 2091h74v1h-74zM1133 2091h1v1h-1zM1057 2092h4v1h-4zM1062 2092h67v1h-67zM1133 2092h1v1h-1zM1057 2093h73v1h-73zM1057 2094h75v1h-75zM1055 2095h73v1h-73zM1129 2095h1v1h-1zM1131 2095h2v1h-2zM1055 2096h74v1h-74zM1132 2096h1v1h-1zM1055 2097h74v1h-74zM1133 2097h1v1h-1zM1052 2098h1v1h-1zM1056 2098h72v1h-72zM1052 2099h4v1h-4zM1057 2099h70v1h-70zM1048 2100h78v1h-78zM1048 2101h75v1h-75zM1124 2101h1v1h-1zM1048 2102h74v1h-74zM1049 2103h73v1h-73zM1050 2104h69v1h-69zM1120 2104h2v1h-2zM1049 2105h72v1h-72zM1049 2106h71v1h-71zM1050 2107h72v1h-72zM1048 2108h1v1h-1zM1050 2108h72v1h-72zM1047 2109h73v1h-73zM1044 2110h2v1h-2zM1048 2110h73v1h-73zM1037 2111h1v1h-1zM1042 2111h1v1h-1zM1046 2111h2v1h-2zM1049 2111h72v1h-72zM1037 2112h1v1h-1zM1045 2112h73v1h-73zM1044 2113h73v1h-73zM1043 2114h74v1h-74zM1043 2115h68v1h-68zM1112 2115h3v1h-3zM1044 2116h58v1h-58zM1103 2116h5v1h-5zM1042 2117h60v1h-60zM1107 2117h1v1h-1zM1041 2118h59v1h-59zM1040 2119h59v1h-59zM1040 2120h60v1h-60zM1040 2121h61v1h-61zM1041 2122h61v1h-61zM1042 2123h61v1h-61zM1042 2124h60v1h-60zM1043 2125h58v1h-58zM1102 2125h1v1h-1zM1111 2125h1v1h-1zM1113 2125h1v1h-1zM1043 2126h61v1h-61zM1041 2127h61v1h-61zM1041 2128h2v1h-2zM1044 2128h49v1h-49zM1094 2128h7v1h-7zM1041 2129h52v1h-52zM1095 2129h3v1h-3zM1038 2130h1v1h-1zM1044 2130h52v1h-52zM1038 2131h1v1h-1zM1042 2131h53v1h-53zM1043 2132h52v1h-52zM1040 2133h56v1h-56zM1033 2134h4v1h-4zM1038 2134h49v1h-49zM1088 2134h8v1h-8zM1032 2135h53v1h-53zM1089 2135h8v1h-8zM1031 2136h53v1h-53zM1090 2136h6v1h-6zM1031 2137h52v1h-52zM1092 2137h3v1h-3zM1030 2138h8v1h-8zM1039 2138h42v1h-42zM1031 2139h52v1h-52zM1031 2140h5v1h-5zM1037 2140h45v1h-45zM1031 2141h1v1h-1zM1037 2141h49v1h-49zM1032 2142h1v1h-1zM1036 2142h51v1h-51zM1036 2143h52v1h-52zM1018 2144h1v1h-1zM1033 2144h40v1h-40zM1074 2144h14v1h-14zM1019 2145h2v1h-2zM1029 2145h44v1h-44zM1075 2145h13v1h-13zM1019 2146h2v1h-2zM1022 2146h1v1h-1zM1025 2146h1v1h-1zM1028 2146h45v1h-45zM1079 2146h6v1h-6zM1019 2147h1v1h-1zM1022 2147h49v1h-49zM1078 2147h6v1h-6zM1085 2147h1v1h-1zM1022 2148h45v1h-45zM1077 2148h6v1h-6zM1020 2149h2v1h-2zM1023 2149h44v1h-44zM1068 2149h1v1h-1zM1077 2149h6v1h-6zM1023 2150h35v1h-35zM1059 2150h7v1h-7zM1077 2150h6v1h-6zM1024 2151h34v1h-34zM1059 2151h7v1h-7zM1078 2151h4v1h-4zM1024 2152h4v1h-4zM1029 2152h30v1h-30zM1060 2152h3v1h-3zM1064 2152h1v1h-1zM1079 2152h2v1h-2zM1022 2153h30v1h-30zM1053 2153h5v1h-5zM1059 2153h1v1h-1zM1021 2154h29v1h-29zM1055 2154h1v1h-1zM1057 2154h1v1h-1zM1021 2155h27v1h-27zM1017 2156h1v1h-1zM1021 2156h26v1h-26zM1014 2157h1v1h-1zM1016 2157h1v1h-1zM1020 2157h25v1h-25zM1049 2157h3v1h-3zM1054 2157h1v1h-1zM1013 2158h3v1h-3zM1017 2158h37v1h-37zM1013 2159h40v1h-40zM1013 2160h3v1h-3zM1017 2160h37v1h-37zM1016 2161h38v1h-38zM1015 2162h24v1h-24zM1040 2162h13v1h-13zM1014 2163h26v1h-26zM1041 2163h12v1h-12zM1013 2164h38v1h-38zM1013 2165h38v1h-38zM1006 2166h1v1h-1zM1013 2166h30v1h-30zM1044 2166h3v1h-3zM1005 2167h2v1h-2zM1011 2167h23v1h-23zM1035 2167h8v1h-8zM1011 2168h22v1h-22zM1035 2168h8v1h-8zM1009 2169h1v1h-1zM1011 2169h22v1h-22zM1037 2169h7v1h-7zM1010 2170h23v1h-23zM1038 2170h5v1h-5zM1009 2171h24v1h-24zM1010 2172h24v1h-24zM997 2173h1v1h-1zM1006 2173h3v1h-3zM1011 2173h23v1h-23zM1006 2174h28v1h-28zM1002 2175h1v1h-1zM1006 2175h26v1h-26zM1008 2176h24v1h-24zM1008 2177h1v1h-1zM1011 2177h21v1h-21zM1012 2178h18v1h-18zM1031 2178h1v1h-1zM1000 2179h2v1h-2zM1014 2179h15v1h-15zM1000 2180h2v1h-2zM1015 2180h1v1h-1zM1017 2180h11v1h-11zM1029 2180h1v1h-1zM1018 2181h2v1h-2zM1024 2181h2v1h-2zM1021 2182h2v1h-2zM1022 2183h3v1h-3zM1021 2184h2v1h-2zM1010 2187h1v1h-1zM993 2189h1v1h-1zM1003 2189h1v1h-1zM993 2190h2v1h-2zM984 2191h1v1h-1zM994 2191h2v1h-2zM983 2193h1v1h-1zM987 2193h1v1h-1zM995 2193h1v1h-1zM1017 2193h2v1h-2zM982 2194h1v1h-1zM984 2194h3v1h-3zM1016 2194h2v1h-2zM983 2195h3v1h-3zM1015 2195h2v1h-2zM973 2202h1v1h-1zM972 2205h3v1h-3zM971 2206h5v1h-5zM971 2207h5v1h-5zM998 2207h1v1h-1zM1000 2207h3v1h-3zM972 2208h2v1h-2zM998 2208h6v1h-6zM998 2209h6v1h-6zM981 2210h2v1h-2zM998 2210h2v1h-2zM1001 2210h2v1h-2zM979 2211h4v1h-4zM984 2211h1v1h-1zM998 2211h1v1h-1zM978 2212h5v1h-5zM984 2212h1v1h-1zM978 2213h6v1h-6zM978 2214h4v1h-4zM983 2214h3v1h-3zM982 2215h3v1h-3zM981 2216h2v1h-2zM995 2216h1v1h-1zM981 2217h2v1h-2zM981 2218h1v1h-1z"/>
<path class="mk" d="M1111.4 2124.2 1112.3 2019.5 947.8 2228.1 984.4 2217.1 1136.8 2071.7 1128.6 2089.5 1054.1 2203.6 1131.7 2028.4 1114.5 2112.8 893.4 2319.8 996.3 2209.3 899.3 2232.6 1142.1 2036.3 1133.6 2075.5 1120.1 2046.2 1165.5 2034.7 1163.5 2050.1 1023.9 2150.2 1102.3 2114.7 1040.0 2128.1 1107.9 2114.7 1025.7 2149.7 1127.4 2031.7 1104.4 2124.4 1117.0 2031.1 1082.2 2059.9 1120.1 2104.7 1144.5 2047.6 1086.6 2146.6 1045.1 2107.5 1127.5 2041.3 996.1 2234.5 1020.3 2179.6 953.1 2217.6 1123.4 2098.7 1126.8 2095.3 1012.8 2131.9 1085.2 2140.9 1133.8 2081.6 1139.4 2094.6 920.6 2283.0 1009.7 2193.5 1038.0 2190.1 1053.4 2101.1 1072.4 2155.7 1119.7 2108.3 973.8 2208.3 1026.2 2149.3 953.6 2220.1 1138.5 2049.4 1050.2 2160.5 1100.7 2025.3 1122.7 2042.6 1041.8 2171.5 1101.0 2123.9 1099.7 2122.9 1154.9 2045.2 1095.2 2043.5 1199.5 1980.8 1081.9 2070.1 1055.5 2160.7 1120.6 2034.5 1001.0 2202.9 1086.6 2040.8 1027.9 2142.7 1084.9 2144.3 1088.6 2061.8 989.2 2210.7 887.6 2306.2 1050.8 2152.3 1141.2 2079.5 1018.0 2219.2 1128.1 2078.9 1153.0 2025.3 1103.0 2129.2 1031.4 2176.4 1131.2 2024.9 991.4 2176.4 953.5 2277.1 1021.5 2185.3 1122.0 2110.6 1112.1 2128.3 1011.0 2247.9 987.6 2211.1 1046.4 2164.6 981.5 2191.2 1133.4 2106.8 1144.8 2041.7 916.7 2213.2 985.2 2194.7 973.4 2170.7 1091.0 1971.1 984.0 2212.3 1071.6 2148.4 1043.6 2158.2 1008.4 2206.9 984.1 2218.8 963.7 2226.7 1040.7 2118.3 1033.3 2147.1 1031.6 2120.6 1147.5 2074.1 1074.3 2144.0 1070.5 2144.4 1027.0 2179.3 1064.7 2182.8 1052.3 2193.8 1098.0 2121.1 1094.2 2049.6 1138.7 2044.4 1024.6 2141.7 1072.3 2069.5 1036.5 2115.0 1056.3 2157.5 1138.6 2036.6 1038.8 2114.2 1106.7 2039.0 1092.4 2129.8 1119.9 2102.8 1026.6 2148.4 1012.5 2185.5 1028.0 2177.3 975.0 2200.9 1098.7 2048.5 1087.5 2142.4 1056.7 2151.6 943.8 2193.8 972.2 2192.1 1179.3 2043.9 988.1 2222.6 1123.6 2044.3 1014.8 2161.8 1052.3 2106.3 1091.1 2048.9 1083.3 2068.3 1101.9 2020.3 1067.0 2152.9 1034.3 2065.0 1030.5 2093.1 1135.1 2080.7 1129.0 2087.5 916.7 2252.0 1040.2 2122.8 1047.6 2165.0 1125.9 2045.5 1105.5 2048.6 949.5 2227.0 916.7 2255.8 916.7 2335.3 1114.0 2047.0 984.5 2196.6 1025.0 2146.8 979.7 2181.5 1111.4 2045.2 1071.0 2074.2 1009.1 2198.3 1068.1 2146.4 1044.8 2122.8 1079.6 2149.2 1123.0 2044.8 1047.9 2111.7 1080.9 2137.6 1082.8 2151.1 1202.6 2090.4 1204.5 2002.9 1037.8 2166.5 1075.8 2162.1 1144.4 2063.5 1006.5 2168.2 1139.7 2048.1 1032.3 2114.4 1060.7 2072.5 1053.6 2096.9 1009.5 2174.3 1049.8 2103.0 1078.5 2150.1 1084.4 2051.4 1025.9 2178.3 1055.5 2102.1 963.2 2261.6 1058.4 2077.3 1083.5 2143.4 1080.7 2061.9 1063.6 2173.0 1138.6 2046.9 1096.1 2043.3 1113.5 2116.3 1157.2 2053.2 980.1 2188.5 1003.4 2166.1 1144.4 2084.6 1122.8 2021.5 964.0 2227.2 1134.6 2043.0 1051.1 2089.4 1034.4 2171.1 1006.8 2189.5 1039.1 2190.3 1148.9 2067.2 1078.8 2175.9 1050.8 2163.9 953.6 2247.4 1142.0 2031.2 1000.4 2209.4 1038.7 2164.5 1040.0 2166.2 1062.0 2069.2 1141.4 2084.5 1078.2 2053.0 1060.8 2088.0 1030.6 2151.3 1078.9 2147.6 1017.6 2147.6 1024.0 2222.9 1050.5 2094.1 990.3 2164.8 1131.2 2097.2 1021.1 2208.0 1094.2 2045.2 1008.4 2168.3 1039.3 2110.1 917.5 2286.8 960.9 2220.7 1135.5 2037.5 1059.4 2093.0 1101.8 2116.0 1005.0 2222.5 1170.4 2028.4 1005.8 2176.4 1122.8 1990.5 1040.4 2139.5 1186.7 2021.5 1040.7 2217.1 1126.7 2114.3 1002.8 2181.8 968.7 2232.3 985.6 2186.1 1132.3 2082.8 973.6 2181.7 982.6 2177.9 959.5 2208.4 1145.0 2047.4 1092.5 2047.6 1001.7 2210.2 995.4 2171.7 1024.0 2184.5 1064.8 2148.7 1130.2 2091.6 1011.7 2188.1 1085.1 2061.7 1098.8 2118.6 1007.0 2165.7 1078.8 2144.8 1147.3 2097.3 1042.0 2134.6 1131.4 2093.6 1071.7 2038.9 925.2 2281.0 1018.1 2179.1 1110.3 2041.0 1080.1 2063.9 1075.1 2051.0 1056.1 2068.9 998.0 2179.3 1138.4 2103.3 1064.7 2044.7 1141.4 2095.1 1071.2 2077.6 1138.7 2067.7 1012.6 2147.9 988.3 2196.2 1103.5 2045.7 1145.0 2061.9 1041.9 2121.8 928.3 2264.7 995.6 2175.4 1140.4 2160.5 1106.7 2034.0 1090.0 2135.9 1138.2 2042.4 1100.8 2125.7 999.7 2211.4 1095.4 2042.1 1174.4 2052.6 1019.8 2147.7 1131.2 2085.9 1022.5 2185.7 1136.2 2092.5 1197.5 1996.3 951.1 2246.9 1050.0 2100.3 1080.5 2142.7 1138.3 2057.1 1052.5 2155.4 1047.7 2055.0 1091.1 2148.1 1076.7 2073.5 1012.8 2170.5 1055.3 2090.1 1031.0 2115.1 1088.1 2056.3 1131.0 2112.4 1087.6 2142.5 1033.3 2139.3 1021.3 2244.6 1067.8 2032.3 1139.7 2034.0 1006.6 2175.4 1020.5 2253.9 1009.4 2172.0 1135.9 2075.6 1063.4 2091.5 1043.3 2134.5 1061.5 2149.3 1116.4 2047.6 1037.1 2137.1 1019.1 2152.3 1137.7 2076.7 1056.2 2150.6 1123.9 2117.3 1050.9 2103.0 1078.1 2151.2 958.2 2196.1 1059.0 2099.0 1128.7 2112.4 1040.8 2168.9 985.1 2232.6 1048.5 2161.0 1029.3 2183.4 955.4 2212.1 979.4 2216.5 1183.2 2093.1 1113.8 2047.9 993.7 2217.2 1128.5 2042.8 1084.2 2136.2 1115.8 2131.2 1002.9 2198.4 1117.8 2046.6 1098.1 2140.3 1119.1 2119.7 1080.1 2149.1 1040.1 2169.3 1050.6 2111.1 1058.4 2096.6 1180.1 2023.4 1056.6 2087.4 980.6 2176.4 966.7 2201.9 1014.0 2139.5 1032.3 2136.7 958.9 2245.5 988.0 2215.2 1041.7 2167.9 1050.7 2108.2 1222.0 2090.4 968.3 2203.4 1136.5 2033.2 1160.8 2025.3 1082.4 2147.6 1027.9 2096.2 1139.6 2063.3 1213.0 2004.0 1017.2 2193.1 1024.0 2155.9 1145.8 2044.4 1090.4 2133.2 1044.9 2126.5 1007.8 2116.7 957.0 2264.2 977.1 2205.6 1009.8 2153.1 1011.1 2178.3 987.4 2206.8 1096.3 2128.3 1115.4 2116.1 1137.1 2047.6 1049.6 2163.4 948.1 2254.1 1002.6 2160.9 1135.5 2099.6 1081.0 2150.0 990.2 2214.1 1047.8 2168.9 1043.3 2127.3 1083.8 2066.0 1091.0 2131.7 1046.0 2113.8 998.7 2216.4 1048.4 2102.0 988.3 2187.6 1024.9 2199.4 1061.3 2082.6 1076.3 2072.7 1061.1 2075.5 1076.4 2070.5 1093.5 2134.3 980.5 2169.4 1037.3 2167.3 943.8 2235.9"/>
<path class="mk" d="M1000.3 2218.9 1136.2 2041.2 1092.0 2137.1 1127.4 2093.1 1121.1 2024.8 1110.2 2128.9 1136.5 2058.6 1022.3 2152.4 1044.7 2114.0 1056.4 2097.6 1057.2 2084.4 1020.8 2191.8 1066.5 2145.7 1093.6 2134.2 1081.1 2161.8 1044.9 2118.0 940.3 2248.5 1129.0 2100.6 1079.4 2138.4 1071.4 2145.7 952.0 2231.4 1014.8 2177.1 964.6 2217.1 1142.3 2067.1 1022.6 2138.6 1018.3 2196.6 1082.9 2046.7 1132.1 2044.5 1093.4 2047.3 967.0 2226.8 1075.4 2060.0 1073.2 2169.0 992.7 2205.5 1058.6 2089.8 1118.8 2109.5 1033.0 2177.0 1122.0 2031.1 1083.6 2030.1 963.2 2222.9 1119.0 2105.7 972.5 2179.2 1125.0 2009.5 985.7 2197.0 1001.7 2207.1 1143.2 2052.3 1021.6 2181.6 1052.8 2158.8 1039.6 2137.4 1156.1 2082.7 1152.7 2053.4 1153.1 2036.1 1148.4 2045.5 1012.2 2186.0 1041.2 2131.2 1126.1 2033.0 1062.1 2066.2 1034.2 2165.5 1072.0 2064.2 1050.3 2089.3 1069.2 2076.8 1041.9 2168.9 1035.8 2134.9 1056.8 2095.8 1107.2 2047.7 1155.3 2045.3 1001.0 2191.3 973.2 2208.5 1064.3 2089.7 1147.2 2047.3 1014.4 2155.8 1021.4 2126.3 1097.8 2129.0 998.7 2195.3 1075.5 2069.5 1152.6 2031.2 966.0 2233.5 1067.6 2155.3 999.6 2200.9 1013.1 2170.6 1093.2 2135.8 1086.2 2132.6 1107.7 2114.7 1129.8 2021.5 1015.1 2166.2 999.9 2155.1 1033.1 2147.6 1050.7 2108.8 977.1 2206.7 1050.7 2093.2 1117.9 2111.6 1050.3 2207.4 1068.6 2081.7 1103.3 2128.7 997.6 2162.5 1100.1 2046.4 1136.3 2051.6 1080.2 2031.9 1079.7 2071.0 1020.4 2160.9 1068.8 2074.3 1073.7 2045.5 944.8 2233.3 1115.1 2044.0 1032.9 2145.7 1104.4 2144.9 1094.0 2052.2 1044.0 2116.9 1017.5 2189.0 1131.2 2074.1 1114.6 2119.2 1155.3 2050.1 1092.5 2062.6 1092.8 2056.4 1027.0 2151.3 993.4 2244.2 1126.6 2088.7 1030.2 2147.6 1057.2 2088.5 1040.4 2133.4 997.5 2195.6 1112.5 2112.1 1143.3 2019.3 1088.7 2062.8 946.8 2248.1 1061.3 2155.7 1148.2 2047.0 1022.3 2147.1 1053.0 2160.5 1055.8 2152.9 892.7 2290.7 1011.1 2184.9 1164.3 2052.8 1095.3 2055.8 1044.7 2122.6 1017.8 2180.0 987.1 2190.4 1130.6 2047.8 993.4 2214.8 1132.8 2042.6 1001.8 2182.6 1093.2 2141.5 1102.8 2048.2 1033.0 2176.4 1012.9 2159.8 1041.7 2106.6 1132.1 2051.8 1115.2 2046.3 1023.3 2138.1 1062.7 2082.4 1063.6 2087.9 1017.4 2158.6 1001.2 2185.9 1067.9 2066.3 1129.8 2124.1 1047.6 2114.5 1062.8 2089.0 984.2 2192.8 995.7 2188.9 1039.1 2163.3 1129.1 2049.6 1085.6 2060.2 1022.8 2156.1 1040.0 2127.3 1036.0 2125.6 1085.7 2145.9 1014.1 2166.2 1002.7 2181.6 1041.6 2108.7 1136.7 2073.1 1138.3 2073.8 1055.7 2181.9 924.4 2273.3 1012.6 2165.2 1001.8 2188.3 1079.7 2056.1 1074.8 2145.5 1193.7 2031.1 1002.8 2199.5 1128.5 2047.9 1011.8 2159.6 966.1 2211.8 1134.1 2047.5 1052.5 2151.8 1142.3 2055.4 908.9 2279.1 1030.8 2126.9 1045.3 2207.4 1063.9 2190.0 1046.4 2115.0 1034.5 2136.4 1002.4 2190.2 1070.7 2151.1 1045.2 2078.7 1037.5 2133.5 1148.6 2062.4 1133.5 2105.8 1054.2 2186.1 970.0 2207.1 1128.8 2078.9 1152.6 2041.8 1040.4 2118.6 1128.2 2084.4 1149.7 2047.1 1018.3 2119.5 970.9 2271.3 1036.8 2145.9 968.6 2166.1 1172.4 2004.8 1024.3 2178.5 1068.1 2074.1 1087.1 2149.4 1017.2 2113.4 1027.9 2182.7 1066.1 2081.8 1036.9 2181.2 1020.0 2158.3 1108.1 2047.9 935.5 2244.4 1130.4 2097.2 1029.6 2120.7 1159.2 2017.5 1034.3 2192.9 988.2 2161.8 1134.4 2080.7 1073.5 2153.2 1198.7 2124.1 1125.1 2097.0 1136.6 2031.9 1121.0 2105.5 1108.1 2114.8 1118.0 2118.8 1145.1 2044.8 1082.4 2160.4 1018.2 2195.5 1030.0 2139.8 1051.3 2108.3 1005.8 2208.0 963.2 2238.4 1065.4 2082.0 1102.1 2043.2 968.9 2243.0 1013.5 2145.4 1062.2 2152.6 1083.3 2067.0 1034.9 2140.3 1142.8 2042.7 1001.8 2238.6 973.2 2179.4 1029.7 2141.4 1105.2 2046.5 1133.7 2044.6 1214.2 1990.5 1136.4 2084.9 1116.3 2111.3 1150.1 2056.3 1062.4 2069.3 1010.0 2173.5 1107.6 2121.9 968.9 2230.1 1108.1 2047.6 1023.3 2186.5 1134.2 2094.2 1001.3 2177.6 1090.0 2060.4 979.5 2183.1 1132.8 2042.9 1034.7 2140.8 1045.9 2175.9 1143.1 2078.2 1030.2 2171.7 1008.2 2176.2 1138.2 2048.9 1101.2 2113.6 1069.1 2163.1 912.0 2277.1 1137.1 2069.6 1048.3 2086.1 1151.6 2040.5 1151.0 2100.9 1069.7 2046.7 1062.3 2152.9 1062.1 2076.9 1048.4 2201.6 1147.8 2052.7 1077.8 2072.7 1062.2 2150.5 972.0 2208.8 996.9 2210.0 1145.2 2099.8 1020.9 2146.6 971.0 2200.2 986.5 2165.1 1048.4 2156.6 981.1 2211.3 1000.7 2206.7 1148.4 2042.4 1082.9 2134.1 1047.5 2174.6 979.9 2211.3 1107.1 2137.2 1057.5 2155.3 998.7 2216.3 994.9 2174.8 1112.1 2115.5 1102.6 2124.8 1124.1 2098.2 1040.1 2111.4 1116.1 2132.1 1032.6 2146.4 1093.2 2055.1 1035.0 2131.0 994.0 2189.5 1104.3 2117.7 1044.9 2128.4 1180.1 2004.8 1196.4 2038.9 1122.8 2102.8 1044.3 2178.8 1136.8 2043.3 1003.9 2129.9 1167.0 2043.2 1014.6 2194.5 1012.1 2175.3 1094.9 2002.9 994.1 2196.8 1029.0 2219.0 1061.4 2084.7 1112.1 2122.0 1019.9 2200.3 1143.9 2082.3 1142.6 2089.3 1149.2 2029.8 989.0 2226.8 968.4 2234.7 968.9 2186.4 1002.3 2207.8 1131.1 2049.8 995.2 2181.3 955.6 2248.4 1151.6 2141.4 1051.7 2173.9 1132.3 2083.5 1098.3 2127.9 1016.4 2159.5 1130.0 2113.0 1097.4 2046.3 1186.7 2071.0 1138.3 2128.1 1136.4 2037.1 1032.3 2171.9 1003.9 2145.4 1098.4 2117.6 1154.3 2080.1 1152.4 2081.5 1136.8 2025.3 1014.3 2157.2 1045.7 2157.0 1045.3 2124.6 980.9 2214.6 1111.0 2030.8 1031.5 2170.2 1001.8 2167.4 1142.5 2054.1 1021.2 2154.8 1187.9 2001.3 1102.6 2029.2 1151.3 2079.6 1082.1 2136.6 1097.1 2138.1 1139.3 2052.0 1190.4 2037.4 999.3 2174.8 961.7 2231.5 1074.6 2066.0 1123.7 2098.3 1141.4 2120.2 947.7 2246.1 1057.6 2092.9 1122.1 2110.5 1015.6 2178.3 1146.9 2077.5 1134.6 2038.1 984.0 2192.1 972.9 2244.2 1111.3 2123.4 1140.1 2049.3 1116.8 2111.7 1050.0 2159.2 1021.1 2143.9 1147.8 2051.1 1132.2 2094.9 1028.3 2205.4 1058.5 2151.9 1138.4 2045.0 994.3 2195.8 1017.5 2145.7 1140.8 2066.6 1184.0 1990.5 991.4 2154.1 994.4 2188.8"/>
<path class="mk" d="M964.3 2216.3 1136.3 2078.9 984.7 2217.4 1136.1 2077.8 973.2 2226.1 1094.4 2133.8 1185.9 2043.9 984.5 2211.9 1139.7 2059.8 951.5 2257.8 1131.4 2081.3 1004.3 2175.0 1060.8 2093.7 967.0 2209.8 943.0 2234.5 1062.9 2081.6 1153.8 1976.9 979.0 2216.4 1015.2 2164.6 1055.4 2211.3 1038.8 2160.3 1116.5 2124.7 1132.7 2023.3 1071.3 2081.8 1126.3 2095.0 1096.1 2048.0 1002.5 2159.7 1134.9 2033.3 1043.7 2163.8 1015.6 2192.3 1000.7 2173.2 1144.7 2016.0 1055.8 2085.4 993.4 2129.9 1045.6 2190.5 1032.2 2179.6 1004.8 2215.0 1055.9 2098.3 992.5 2192.1 1029.7 2111.9 1008.6 2166.4 1139.8 2089.1 1137.0 2063.8 1088.1 2131.4 1145.5 2060.8 1026.4 2150.3 979.1 2201.8 1086.6 2051.2 1094.0 2128.4 1044.0 2164.6 1127.2 2102.2 1030.3 2173.6 1035.0 2110.1 1001.9 2250.0 1037.1 2168.7 977.5 2213.4 996.1 2191.0 1030.2 2258.5 1026.0 2129.9 1134.2 2036.1 1051.0 2162.4 1095.6 2054.7 1136.7 2015.6 1030.5 2129.6 987.0 2224.1 1033.6 2137.2 1139.8 2035.4 1092.4 2134.1 982.5 2122.2 1024.1 2180.2 959.5 2239.0 1027.8 2150.5 948.8 2243.6 1156.4 2044.3 1134.8 2031.3 984.0 2227.1 1074.8 2049.8 973.2 2223.0 1111.3 2136.8 943.1 2242.3 974.8 2228.7 973.4 2205.6 1079.4 2048.6 1025.2 2102.8 1145.3 2025.3 1143.0 2095.1 1152.0 2054.4 1105.9 2118.2 1078.5 2065.5 1045.4 2182.0 993.7 2218.7 939.9 2257.8 946.2 2239.9 1017.4 2179.2 1091.4 2126.7 1139.0 2054.2 1132.5 2041.5 1079.6 2140.4 979.1 2222.1 1083.3 2069.2 1121.7 2043.9 1127.5 2085.6 1080.2 2054.9 1145.3 2008.7 1056.2 2067.9 1045.3 2111.8 1150.0 2039.4 999.6 2162.5 1009.4 2134.4 1049.9 2162.3 1166.6 2021.5 1076.6 2075.2 1138.7 2090.2 1009.0 2181.1 1009.3 2190.1 973.5 2204.7 1006.4 2188.8 1077.3 2056.1 1047.7 2103.6 1045.4 2130.7 1073.3 2044.3 981.4 2212.8 1022.9 2088.6 1068.5 2080.6 1081.5 2032.3 1080.9 2183.5 1062.0 2093.6 1076.7 2063.8 976.0 2159.0 1039.2 2138.2 1088.4 2053.2 1018.3 2161.1 971.7 2192.2 1122.1 2034.7 1112.3 2026.5 1065.6 2149.5 931.3 2232.4 973.2 2200.7 1051.5 2101.2 986.9 2140.1 1137.1 2105.0"/>
<path class="ax" d="M757.5 1938.5V2440.0M757.5 2440.0H1246.0"/>
<path class="tk" d="M754.0 2416.9h3.5M779.0 2440.0v3.5M754.0 2302.9h3.5M890.1 2440.0v3.5M754.0 2188.9h3.5M1001.2 2440.0v3.5M754.0 2074.9h3.5M1112.3 2440.0v3.5M754.0 1967.5h3.5M1223.4 2440.0v3.5"/>
<text class="tl" x="749.3" y="2427.7" text-anchor="end">0.7</text>
<text class="tl" x="780.6" y="2470.2" text-anchor="middle">0.7</text>
<text class="tl" x="749.3" y="2313.7" text-anchor="end">0.8</text>
<text class="tl" x="891.7" y="2470.2" text-anchor="middle">0.8</text>
<text class="tl" x="749.3" y="2199.7" text-anchor="end">0.9</text>
<text class="tl" x="1002.8" y="2470.2" text-anchor="middle">0.9</text>
<text class="tl" x="749.3" y="2085.7" text-anchor="end">1.0</text>
<text class="tl" x="1113.9" y="2470.2" text-anchor="middle">1.0</text>
<text class="tl" x="749.3" y="1978.3" text-anchor="end">1.1</text>
<text class="tl" x="1225.0" y="2470.2" text-anchor="middle">1.1</text>
<text class="ti" x="800.3" y="2508.6">Fitness from YPE replicate 2</text>
<text class="ti" transform="translate(702.4 2391) rotate(-90)">Fitness from YPE replicate 3</text>
<text class="st" x="767.3" y="1972.2" style="font-size:31px" textLength="328" lengthAdjust="spacingAndGlyphs"><tspan font-style="italic">r</tspan> = 0.87, <tspan font-style="italic">P</tspan> &lt; 2.2 × 10<tspan dy="-11" style="font-size:18.5px">-308</tspan></text>
<text class="lb" x="651.5" y="1961.4">k</text></g>
</svg></body></html>
